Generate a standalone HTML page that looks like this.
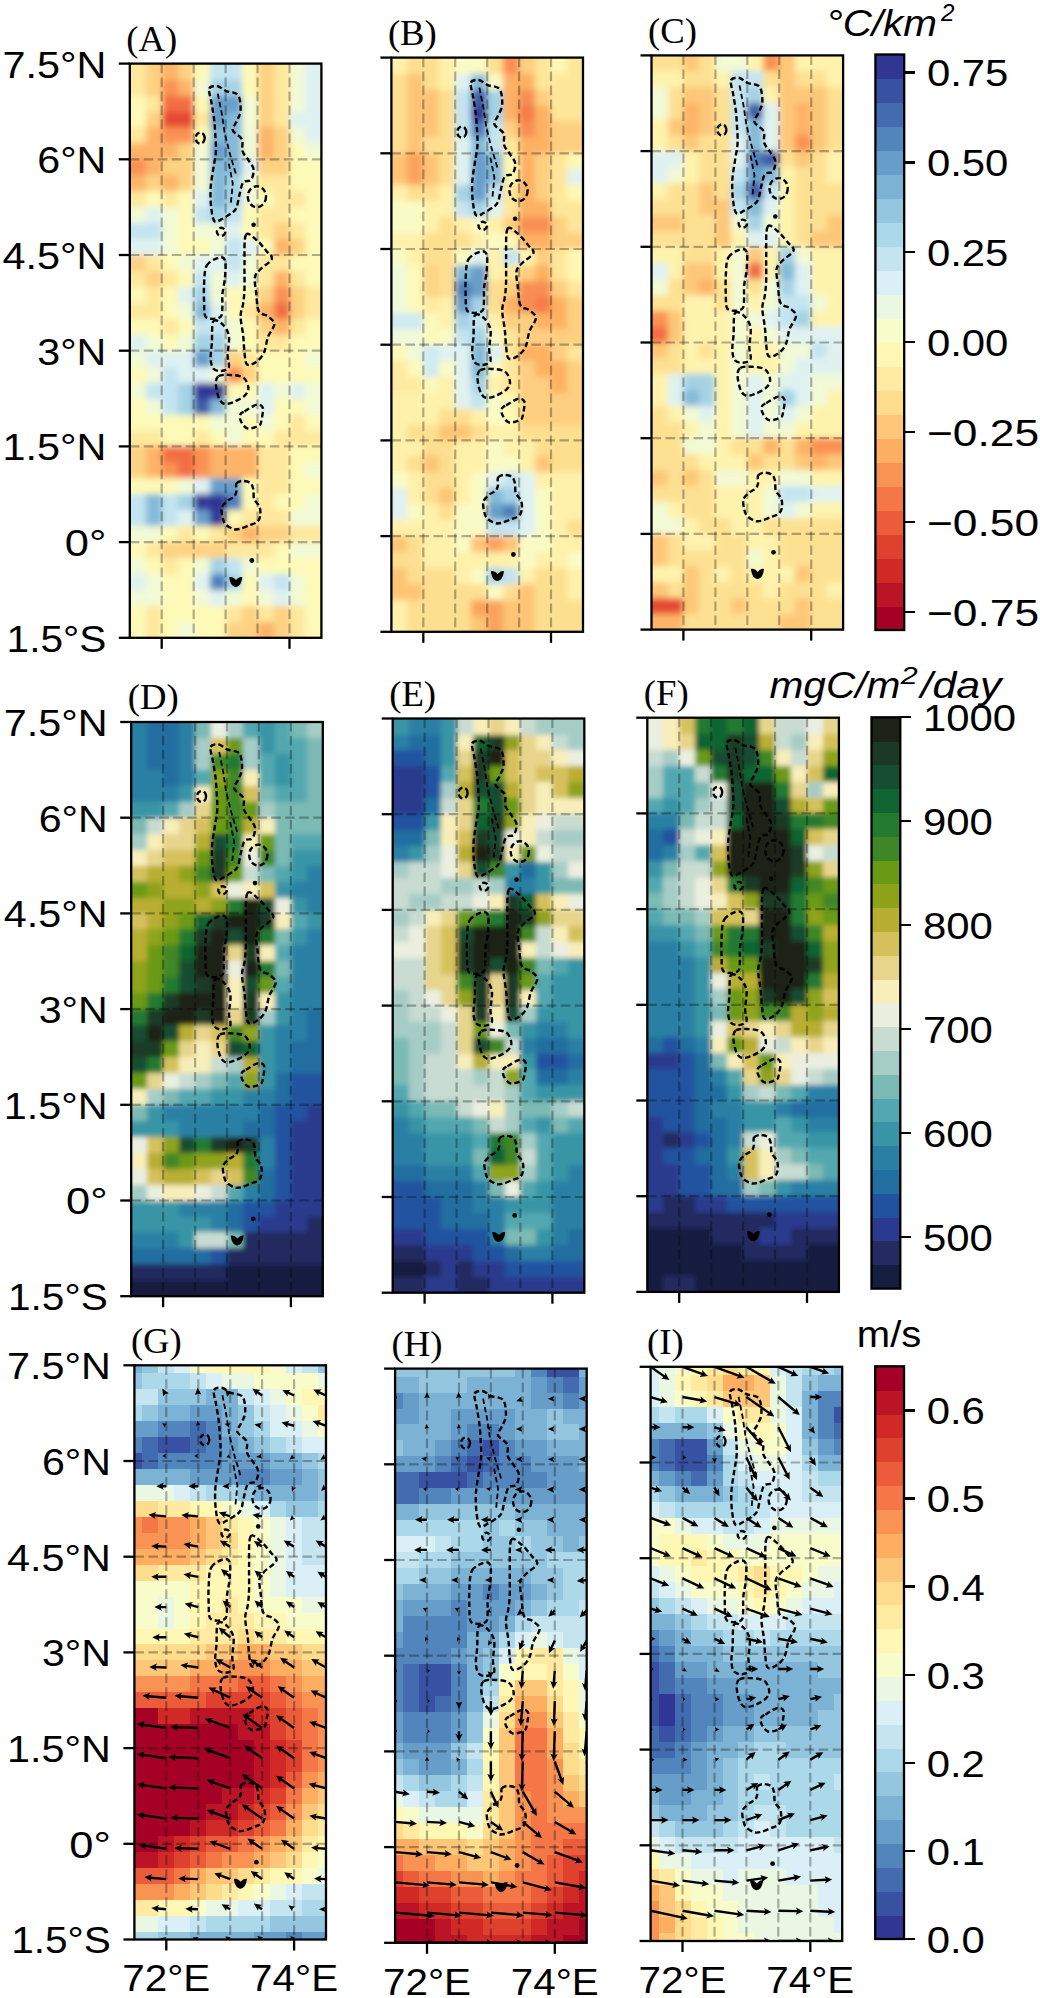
<!DOCTYPE html><html><head><meta charset="utf-8"><style>html,body{margin:0;padding:0;background:#fff;}svg{display:block}</style></head><body><svg width="1040" height="1998" viewBox="0 0 1040 1998" shape-rendering="crispEdges"><defs><filter id="bltop" x="-10%" y="-10%" width="120%" height="120%"><feGaussianBlur stdDeviation="3.2"/></filter><filter id="blmid" x="-10%" y="-10%" width="120%" height="120%"><feGaussianBlur stdDeviation="2.5"/></filter><clipPath id="cpA"><rect x="129.8" y="63.6" width="191.6" height="574.2"/></clipPath><clipPath id="cpB"><rect x="391.4" y="57.6" width="191.6" height="574.2"/></clipPath><clipPath id="cpC"><rect x="651.5" y="55.4" width="191.6" height="574.2"/></clipPath><clipPath id="cpD"><rect x="131.2" y="722.0" width="191.6" height="574.2"/></clipPath><clipPath id="cpE"><rect x="392.7" y="718.5" width="191.6" height="574.2"/></clipPath><clipPath id="cpF"><rect x="647.3" y="717.7" width="191.6" height="574.2"/></clipPath><clipPath id="cpG"><rect x="134.4" y="1365.3" width="191.6" height="574.2"/></clipPath><clipPath id="cpH"><rect x="395.1" y="1368.6" width="191.6" height="574.2"/></clipPath><clipPath id="cpI"><rect x="650.6" y="1366.8" width="191.6" height="574.2"/></clipPath></defs><g clip-path="url(#cpA)"><g filter="url(#bltop)"><rect x="115.8" y="49.6" width="30.4" height="30.3" fill="#fee89d"/><rect x="145.8" y="49.6" width="16.4" height="30.3" fill="#fdd283"/><rect x="161.7" y="49.6" width="16.4" height="30.3" fill="#fdb467"/><rect x="177.7" y="49.6" width="16.4" height="30.3" fill="#fdd283"/><rect x="193.7" y="49.6" width="16.4" height="30.3" fill="#fdf9b7"/><rect x="209.6" y="49.6" width="32.3" height="30.3" fill="#c3e4f0"/><rect x="241.6" y="49.6" width="16.4" height="30.3" fill="#fdf9b7"/><rect x="257.5" y="49.6" width="16.4" height="30.3" fill="#fdd283"/><rect x="273.5" y="49.6" width="16.4" height="30.3" fill="#fee89d"/><rect x="289.5" y="49.6" width="16.4" height="30.3" fill="#f2fad6"/><rect x="305.4" y="49.6" width="30.4" height="30.3" fill="#dff2f1"/><rect x="115.8" y="79.5" width="30.4" height="16.4" fill="#fee89d"/><rect x="145.8" y="79.5" width="16.4" height="16.4" fill="#fdd283"/><rect x="161.7" y="79.5" width="16.4" height="16.4" fill="#f99253"/><rect x="177.7" y="79.5" width="16.4" height="16.4" fill="#fdb467"/><rect x="193.7" y="79.5" width="16.4" height="16.4" fill="#f2fad6"/><rect x="209.6" y="79.5" width="32.3" height="16.4" fill="#a4d2e6"/><rect x="241.6" y="79.5" width="16.4" height="16.4" fill="#fdf9b7"/><rect x="257.5" y="79.5" width="16.4" height="16.4" fill="#fdd283"/><rect x="273.5" y="79.5" width="16.4" height="16.4" fill="#fee89d"/><rect x="289.5" y="79.5" width="16.4" height="16.4" fill="#f2fad6"/><rect x="305.4" y="79.5" width="30.4" height="16.4" fill="#dff2f1"/><rect x="115.8" y="95.5" width="30.4" height="16.4" fill="#fdf9b7"/><rect x="145.8" y="95.5" width="16.4" height="16.4" fill="#fee89d"/><rect x="161.7" y="95.5" width="32.3" height="16.4" fill="#f26e43"/><rect x="193.7" y="95.5" width="16.4" height="16.4" fill="#fdf9b7"/><rect x="209.6" y="95.5" width="32.3" height="16.4" fill="#689eca"/><rect x="241.6" y="95.5" width="16.4" height="16.4" fill="#f2fad6"/><rect x="257.5" y="95.5" width="16.4" height="16.4" fill="#fdd283"/><rect x="273.5" y="95.5" width="16.4" height="16.4" fill="#fee89d"/><rect x="289.5" y="95.5" width="16.4" height="16.4" fill="#f2fad6"/><rect x="305.4" y="95.5" width="30.4" height="16.4" fill="#dff2f1"/><rect x="115.8" y="111.5" width="30.4" height="16.4" fill="#fdf9b7"/><rect x="145.8" y="111.5" width="16.4" height="16.4" fill="#fdd283"/><rect x="161.7" y="111.5" width="32.3" height="16.4" fill="#e44a33"/><rect x="193.7" y="111.5" width="16.4" height="16.4" fill="#fee89d"/><rect x="209.6" y="111.5" width="16.4" height="16.4" fill="#689eca"/><rect x="225.6" y="111.5" width="16.4" height="16.4" fill="#84bad8"/><rect x="241.6" y="111.5" width="16.4" height="16.4" fill="#f2fad6"/><rect x="257.5" y="111.5" width="16.4" height="16.4" fill="#fdd283"/><rect x="273.5" y="111.5" width="16.4" height="16.4" fill="#fee89d"/><rect x="289.5" y="111.5" width="46.3" height="16.4" fill="#dff2f1"/><rect x="115.8" y="127.4" width="30.4" height="16.3" fill="#fee89d"/><rect x="145.8" y="127.4" width="16.4" height="16.3" fill="#fdb467"/><rect x="161.7" y="127.4" width="32.3" height="16.3" fill="#f99253"/><rect x="193.7" y="127.4" width="16.4" height="16.3" fill="#fdf9b7"/><rect x="209.6" y="127.4" width="32.3" height="16.3" fill="#84bad8"/><rect x="241.6" y="127.4" width="16.4" height="16.3" fill="#f2fad6"/><rect x="257.5" y="127.4" width="16.4" height="16.3" fill="#fdb467"/><rect x="273.5" y="127.4" width="16.4" height="16.3" fill="#fdd283"/><rect x="289.5" y="127.4" width="16.4" height="16.3" fill="#f2fad6"/><rect x="305.4" y="127.4" width="30.4" height="16.3" fill="#dff2f1"/><rect x="115.8" y="143.3" width="62.3" height="16.4" fill="#fdb467"/><rect x="177.7" y="143.3" width="16.4" height="16.4" fill="#fdd283"/><rect x="193.7" y="143.3" width="16.4" height="16.4" fill="#f2fad6"/><rect x="209.6" y="143.3" width="16.4" height="16.4" fill="#689eca"/><rect x="225.6" y="143.3" width="16.4" height="16.4" fill="#84bad8"/><rect x="241.6" y="143.3" width="16.4" height="16.4" fill="#f2fad6"/><rect x="257.5" y="143.3" width="16.4" height="16.4" fill="#fdb467"/><rect x="273.5" y="143.3" width="16.4" height="16.4" fill="#fdd283"/><rect x="289.5" y="143.3" width="16.4" height="16.4" fill="#fdf9b7"/><rect x="305.4" y="143.3" width="30.4" height="16.4" fill="#f2fad6"/><rect x="115.8" y="159.3" width="30.4" height="16.4" fill="#f99253"/><rect x="145.8" y="159.3" width="16.4" height="16.4" fill="#fdb467"/><rect x="161.7" y="159.3" width="32.3" height="16.4" fill="#fdd283"/><rect x="193.7" y="159.3" width="16.4" height="16.4" fill="#f2fad6"/><rect x="209.6" y="159.3" width="32.3" height="16.4" fill="#84bad8"/><rect x="241.6" y="159.3" width="16.4" height="16.4" fill="#dff2f1"/><rect x="257.5" y="159.3" width="32.3" height="16.4" fill="#fdd283"/><rect x="289.5" y="159.3" width="46.3" height="16.4" fill="#fdf9b7"/><rect x="115.8" y="175.3" width="30.4" height="16.3" fill="#fdb467"/><rect x="145.8" y="175.3" width="16.4" height="16.3" fill="#fdd283"/><rect x="161.7" y="175.3" width="16.4" height="16.3" fill="#fdb467"/><rect x="177.7" y="175.3" width="16.4" height="16.3" fill="#fdd283"/><rect x="193.7" y="175.3" width="16.4" height="16.3" fill="#f2fad6"/><rect x="209.6" y="175.3" width="16.4" height="16.3" fill="#84bad8"/><rect x="225.6" y="175.3" width="16.4" height="16.3" fill="#a4d2e6"/><rect x="241.6" y="175.3" width="16.4" height="16.3" fill="#f2fad6"/><rect x="257.5" y="175.3" width="32.3" height="16.3" fill="#fee89d"/><rect x="289.5" y="175.3" width="46.3" height="16.3" fill="#fdf9b7"/><rect x="115.8" y="191.2" width="30.4" height="16.3" fill="#fee89d"/><rect x="145.8" y="191.2" width="16.4" height="16.3" fill="#fdf9b7"/><rect x="161.7" y="191.2" width="16.4" height="16.3" fill="#fee89d"/><rect x="177.7" y="191.2" width="16.4" height="16.3" fill="#fdf9b7"/><rect x="193.7" y="191.2" width="16.4" height="16.3" fill="#dff2f1"/><rect x="209.6" y="191.2" width="16.4" height="16.3" fill="#84bad8"/><rect x="225.6" y="191.2" width="16.4" height="16.3" fill="#a4d2e6"/><rect x="241.6" y="191.2" width="16.4" height="16.3" fill="#f2fad6"/><rect x="257.5" y="191.2" width="16.4" height="16.3" fill="#fdf9b7"/><rect x="273.5" y="191.2" width="32.3" height="16.3" fill="#fee89d"/><rect x="305.4" y="191.2" width="30.4" height="16.3" fill="#fdf9b7"/><rect x="115.8" y="207.2" width="30.4" height="16.3" fill="#f2fad6"/><rect x="145.8" y="207.2" width="16.4" height="16.3" fill="#dff2f1"/><rect x="161.7" y="207.2" width="16.4" height="16.3" fill="#f2fad6"/><rect x="177.7" y="207.2" width="16.4" height="16.3" fill="#fdf9b7"/><rect x="193.7" y="207.2" width="16.4" height="16.3" fill="#c3e4f0"/><rect x="209.6" y="207.2" width="16.4" height="16.3" fill="#a4d2e6"/><rect x="225.6" y="207.2" width="16.4" height="16.3" fill="#c3e4f0"/><rect x="241.6" y="207.2" width="16.4" height="16.3" fill="#fdf9b7"/><rect x="257.5" y="207.2" width="32.3" height="16.3" fill="#fee89d"/><rect x="289.5" y="207.2" width="46.3" height="16.3" fill="#fdf9b7"/><rect x="115.8" y="223.1" width="46.3" height="16.4" fill="#c3e4f0"/><rect x="161.7" y="223.1" width="16.4" height="16.4" fill="#f2fad6"/><rect x="177.7" y="223.1" width="16.4" height="16.4" fill="#fdf9b7"/><rect x="193.7" y="223.1" width="32.3" height="16.4" fill="#f2fad6"/><rect x="225.6" y="223.1" width="16.4" height="16.4" fill="#dff2f1"/><rect x="241.6" y="223.1" width="16.4" height="16.4" fill="#fdf9b7"/><rect x="257.5" y="223.1" width="16.4" height="16.4" fill="#fee89d"/><rect x="273.5" y="223.1" width="16.4" height="16.4" fill="#fdd283"/><rect x="289.5" y="223.1" width="16.4" height="16.4" fill="#fee89d"/><rect x="305.4" y="223.1" width="30.4" height="16.4" fill="#fdf9b7"/><rect x="115.8" y="239.1" width="46.3" height="16.3" fill="#dff2f1"/><rect x="161.7" y="239.1" width="16.4" height="16.3" fill="#f2fad6"/><rect x="177.7" y="239.1" width="32.3" height="16.3" fill="#fdf9b7"/><rect x="209.6" y="239.1" width="16.4" height="16.3" fill="#f2fad6"/><rect x="225.6" y="239.1" width="16.4" height="16.3" fill="#c3e4f0"/><rect x="241.6" y="239.1" width="16.4" height="16.3" fill="#dff2f1"/><rect x="257.5" y="239.1" width="16.4" height="16.3" fill="#fdf9b7"/><rect x="273.5" y="239.1" width="16.4" height="16.3" fill="#fdb467"/><rect x="289.5" y="239.1" width="16.4" height="16.3" fill="#fdd283"/><rect x="305.4" y="239.1" width="30.4" height="16.3" fill="#fdf9b7"/><rect x="115.8" y="255.0" width="30.4" height="16.4" fill="#fdd283"/><rect x="145.8" y="255.0" width="16.4" height="16.4" fill="#fee89d"/><rect x="161.7" y="255.0" width="16.4" height="16.4" fill="#fdf9b7"/><rect x="177.7" y="255.0" width="16.4" height="16.4" fill="#f2fad6"/><rect x="193.7" y="255.0" width="32.3" height="16.4" fill="#dff2f1"/><rect x="225.6" y="255.0" width="16.4" height="16.4" fill="#c3e4f0"/><rect x="241.6" y="255.0" width="16.4" height="16.4" fill="#f2fad6"/><rect x="257.5" y="255.0" width="32.3" height="16.4" fill="#fee89d"/><rect x="289.5" y="255.0" width="46.3" height="16.4" fill="#fdf9b7"/><rect x="115.8" y="271.0" width="30.4" height="16.3" fill="#fee89d"/><rect x="145.8" y="271.0" width="16.4" height="16.3" fill="#fdd283"/><rect x="161.7" y="271.0" width="16.4" height="16.3" fill="#fee89d"/><rect x="177.7" y="271.0" width="16.4" height="16.3" fill="#fdf9b7"/><rect x="193.7" y="271.0" width="16.4" height="16.3" fill="#c3e4f0"/><rect x="209.6" y="271.0" width="16.4" height="16.3" fill="#f2fad6"/><rect x="225.6" y="271.0" width="16.4" height="16.3" fill="#dff2f1"/><rect x="241.6" y="271.0" width="16.4" height="16.3" fill="#f2fad6"/><rect x="257.5" y="271.0" width="16.4" height="16.3" fill="#fee89d"/><rect x="273.5" y="271.0" width="16.4" height="16.3" fill="#fdb467"/><rect x="289.5" y="271.0" width="16.4" height="16.3" fill="#fee89d"/><rect x="305.4" y="271.0" width="30.4" height="16.3" fill="#fdf9b7"/><rect x="115.8" y="286.9" width="30.4" height="16.3" fill="#fdf9b7"/><rect x="145.8" y="286.9" width="16.4" height="16.3" fill="#fee89d"/><rect x="161.7" y="286.9" width="16.4" height="16.3" fill="#fdf9b7"/><rect x="177.7" y="286.9" width="16.4" height="16.3" fill="#dff2f1"/><rect x="193.7" y="286.9" width="16.4" height="16.3" fill="#a4d2e6"/><rect x="209.6" y="286.9" width="16.4" height="16.3" fill="#f2fad6"/><rect x="225.6" y="286.9" width="32.3" height="16.3" fill="#fdf9b7"/><rect x="257.5" y="286.9" width="16.4" height="16.3" fill="#fdd283"/><rect x="273.5" y="286.9" width="16.4" height="16.3" fill="#f99253"/><rect x="289.5" y="286.9" width="16.4" height="16.3" fill="#fdd283"/><rect x="305.4" y="286.9" width="30.4" height="16.3" fill="#fee89d"/><rect x="115.8" y="302.9" width="46.3" height="16.3" fill="#fee89d"/><rect x="161.7" y="302.9" width="16.4" height="16.3" fill="#fdf9b7"/><rect x="177.7" y="302.9" width="16.4" height="16.3" fill="#f2fad6"/><rect x="193.7" y="302.9" width="16.4" height="16.3" fill="#84bad8"/><rect x="209.6" y="302.9" width="16.4" height="16.3" fill="#dff2f1"/><rect x="225.6" y="302.9" width="16.4" height="16.3" fill="#fdf9b7"/><rect x="241.6" y="302.9" width="16.4" height="16.3" fill="#fee89d"/><rect x="257.5" y="302.9" width="16.4" height="16.3" fill="#fdb467"/><rect x="273.5" y="302.9" width="16.4" height="16.3" fill="#f26e43"/><rect x="289.5" y="302.9" width="16.4" height="16.3" fill="#fdd283"/><rect x="305.4" y="302.9" width="30.4" height="16.3" fill="#fee89d"/><rect x="115.8" y="318.8" width="46.3" height="16.4" fill="#fdf9b7"/><rect x="161.7" y="318.8" width="16.4" height="16.4" fill="#fee89d"/><rect x="177.7" y="318.8" width="16.4" height="16.4" fill="#fdf9b7"/><rect x="193.7" y="318.8" width="32.3" height="16.4" fill="#c3e4f0"/><rect x="225.6" y="318.8" width="16.4" height="16.4" fill="#f2fad6"/><rect x="241.6" y="318.8" width="16.4" height="16.4" fill="#fdf9b7"/><rect x="257.5" y="318.8" width="16.4" height="16.4" fill="#fdd283"/><rect x="273.5" y="318.8" width="16.4" height="16.4" fill="#fdb467"/><rect x="289.5" y="318.8" width="16.4" height="16.4" fill="#fee89d"/><rect x="305.4" y="318.8" width="30.4" height="16.4" fill="#fdf9b7"/><rect x="115.8" y="334.8" width="30.4" height="16.3" fill="#dff2f1"/><rect x="145.8" y="334.8" width="16.4" height="16.3" fill="#f2fad6"/><rect x="161.7" y="334.8" width="16.4" height="16.3" fill="#fdf9b7"/><rect x="177.7" y="334.8" width="16.4" height="16.3" fill="#f2fad6"/><rect x="193.7" y="334.8" width="32.3" height="16.3" fill="#a4d2e6"/><rect x="225.6" y="334.8" width="16.4" height="16.3" fill="#f2fad6"/><rect x="241.6" y="334.8" width="16.4" height="16.3" fill="#fdf9b7"/><rect x="257.5" y="334.8" width="32.3" height="16.3" fill="#fee89d"/><rect x="289.5" y="334.8" width="46.3" height="16.3" fill="#fdf9b7"/><rect x="115.8" y="350.7" width="30.4" height="16.3" fill="#f2fad6"/><rect x="145.8" y="350.7" width="48.3" height="16.3" fill="#dff2f1"/><rect x="193.7" y="350.7" width="16.4" height="16.3" fill="#689eca"/><rect x="209.6" y="350.7" width="16.4" height="16.3" fill="#a4d2e6"/><rect x="225.6" y="350.7" width="16.4" height="16.3" fill="#fdd283"/><rect x="241.6" y="350.7" width="16.4" height="16.3" fill="#fee89d"/><rect x="257.5" y="350.7" width="48.3" height="16.3" fill="#fdf9b7"/><rect x="305.4" y="350.7" width="30.4" height="16.3" fill="#f2fad6"/><rect x="115.8" y="366.7" width="30.4" height="16.3" fill="#fdf9b7"/><rect x="145.8" y="366.7" width="16.4" height="16.3" fill="#f2fad6"/><rect x="161.7" y="366.7" width="16.4" height="16.3" fill="#c3e4f0"/><rect x="177.7" y="366.7" width="32.3" height="16.3" fill="#dff2f1"/><rect x="209.6" y="366.7" width="16.4" height="16.3" fill="#f2fad6"/><rect x="225.6" y="366.7" width="16.4" height="16.3" fill="#f99253"/><rect x="241.6" y="366.7" width="16.4" height="16.3" fill="#fdd283"/><rect x="257.5" y="366.7" width="78.3" height="16.3" fill="#fdf9b7"/><rect x="115.8" y="382.6" width="30.4" height="16.4" fill="#f2fad6"/><rect x="145.8" y="382.6" width="32.3" height="16.4" fill="#c3e4f0"/><rect x="177.7" y="382.6" width="16.4" height="16.4" fill="#a4d2e6"/><rect x="193.7" y="382.6" width="16.4" height="16.4" fill="#313695"/><rect x="209.6" y="382.6" width="16.4" height="16.4" fill="#323a97"/><rect x="225.6" y="382.6" width="32.3" height="16.4" fill="#fdf9b7"/><rect x="257.5" y="382.6" width="16.4" height="16.4" fill="#dff2f1"/><rect x="273.5" y="382.6" width="16.4" height="16.4" fill="#f2fad6"/><rect x="289.5" y="382.6" width="16.4" height="16.4" fill="#dff2f1"/><rect x="305.4" y="382.6" width="30.4" height="16.4" fill="#f2fad6"/><rect x="115.8" y="398.6" width="30.4" height="16.3" fill="#fdf9b7"/><rect x="145.8" y="398.6" width="16.4" height="16.3" fill="#f2fad6"/><rect x="161.7" y="398.6" width="16.4" height="16.3" fill="#c3e4f0"/><rect x="177.7" y="398.6" width="16.4" height="16.3" fill="#a4d2e6"/><rect x="193.7" y="398.6" width="16.4" height="16.3" fill="#3d5da8"/><rect x="209.6" y="398.6" width="16.4" height="16.3" fill="#84bad8"/><rect x="225.6" y="398.6" width="32.3" height="16.3" fill="#f2fad6"/><rect x="257.5" y="398.6" width="16.4" height="16.3" fill="#dff2f1"/><rect x="273.5" y="398.6" width="32.3" height="16.3" fill="#fdf9b7"/><rect x="305.4" y="398.6" width="30.4" height="16.3" fill="#f2fad6"/><rect x="115.8" y="414.5" width="94.2" height="16.3" fill="#fdf9b7"/><rect x="209.6" y="414.5" width="32.3" height="16.3" fill="#f2fad6"/><rect x="241.6" y="414.5" width="16.4" height="16.3" fill="#fdf9b7"/><rect x="257.5" y="414.5" width="16.4" height="16.3" fill="#f2fad6"/><rect x="273.5" y="414.5" width="16.4" height="16.3" fill="#fdf9b7"/><rect x="289.5" y="414.5" width="16.4" height="16.3" fill="#fee89d"/><rect x="305.4" y="414.5" width="30.4" height="16.3" fill="#fdf9b7"/><rect x="115.8" y="430.5" width="46.3" height="16.3" fill="#fee89d"/><rect x="161.7" y="430.5" width="32.3" height="16.3" fill="#fdf9b7"/><rect x="193.7" y="430.5" width="16.4" height="16.3" fill="#fee89d"/><rect x="209.6" y="430.5" width="16.4" height="16.3" fill="#fdf9b7"/><rect x="225.6" y="430.5" width="16.4" height="16.3" fill="#f2fad6"/><rect x="241.6" y="430.5" width="32.3" height="16.3" fill="#fdf9b7"/><rect x="273.5" y="430.5" width="62.3" height="16.3" fill="#fee89d"/><rect x="115.8" y="446.4" width="30.4" height="16.4" fill="#fdd283"/><rect x="145.8" y="446.4" width="16.4" height="16.4" fill="#fdb467"/><rect x="161.7" y="446.4" width="32.3" height="16.4" fill="#f26e43"/><rect x="193.7" y="446.4" width="16.4" height="16.4" fill="#f99253"/><rect x="209.6" y="446.4" width="48.3" height="16.4" fill="#fdb467"/><rect x="257.5" y="446.4" width="32.3" height="16.4" fill="#fee89d"/><rect x="289.5" y="446.4" width="46.3" height="16.4" fill="#fdf9b7"/><rect x="115.8" y="462.4" width="30.4" height="16.3" fill="#fdd283"/><rect x="145.8" y="462.4" width="16.4" height="16.3" fill="#fdb467"/><rect x="161.7" y="462.4" width="16.4" height="16.3" fill="#f99253"/><rect x="177.7" y="462.4" width="16.4" height="16.3" fill="#f26e43"/><rect x="193.7" y="462.4" width="16.4" height="16.3" fill="#f99253"/><rect x="209.6" y="462.4" width="48.3" height="16.3" fill="#fdb467"/><rect x="257.5" y="462.4" width="32.3" height="16.3" fill="#fee89d"/><rect x="289.5" y="462.4" width="16.4" height="16.3" fill="#fdf9b7"/><rect x="305.4" y="462.4" width="30.4" height="16.3" fill="#f2fad6"/><rect x="115.8" y="478.3" width="62.3" height="16.3" fill="#fdf9b7"/><rect x="177.7" y="478.3" width="16.4" height="16.3" fill="#f2fad6"/><rect x="193.7" y="478.3" width="16.4" height="16.3" fill="#dff2f1"/><rect x="209.6" y="478.3" width="32.3" height="16.3" fill="#689eca"/><rect x="241.6" y="478.3" width="16.4" height="16.3" fill="#fdf9b7"/><rect x="257.5" y="478.3" width="32.3" height="16.3" fill="#fee89d"/><rect x="289.5" y="478.3" width="46.3" height="16.3" fill="#fdf9b7"/><rect x="115.8" y="494.3" width="30.4" height="16.4" fill="#c3e4f0"/><rect x="145.8" y="494.3" width="16.4" height="16.4" fill="#84bad8"/><rect x="161.7" y="494.3" width="16.4" height="16.4" fill="#c3e4f0"/><rect x="177.7" y="494.3" width="16.4" height="16.4" fill="#a4d2e6"/><rect x="193.7" y="494.3" width="16.4" height="16.4" fill="#323a97"/><rect x="209.6" y="494.3" width="16.4" height="16.4" fill="#313695"/><rect x="225.6" y="494.3" width="16.4" height="16.4" fill="#4e7fb9"/><rect x="241.6" y="494.3" width="16.4" height="16.4" fill="#fdf9b7"/><rect x="257.5" y="494.3" width="16.4" height="16.4" fill="#fee89d"/><rect x="273.5" y="494.3" width="32.3" height="16.4" fill="#fdf9b7"/><rect x="305.4" y="494.3" width="30.4" height="16.4" fill="#f2fad6"/><rect x="115.8" y="510.2" width="30.4" height="16.3" fill="#c3e4f0"/><rect x="145.8" y="510.2" width="16.4" height="16.3" fill="#84bad8"/><rect x="161.7" y="510.2" width="16.4" height="16.3" fill="#c3e4f0"/><rect x="177.7" y="510.2" width="16.4" height="16.3" fill="#dff2f1"/><rect x="193.7" y="510.2" width="16.4" height="16.3" fill="#689eca"/><rect x="209.6" y="510.2" width="16.4" height="16.3" fill="#323a97"/><rect x="225.6" y="510.2" width="16.4" height="16.3" fill="#fdf9b7"/><rect x="241.6" y="510.2" width="48.3" height="16.3" fill="#fee89d"/><rect x="289.5" y="510.2" width="46.3" height="16.3" fill="#f2fad6"/><rect x="115.8" y="526.2" width="46.3" height="16.3" fill="#f2fad6"/><rect x="161.7" y="526.2" width="16.4" height="16.3" fill="#fdf9b7"/><rect x="177.7" y="526.2" width="16.4" height="16.3" fill="#fee89d"/><rect x="193.7" y="526.2" width="16.4" height="16.3" fill="#fdf9b7"/><rect x="209.6" y="526.2" width="16.4" height="16.3" fill="#fee89d"/><rect x="225.6" y="526.2" width="16.4" height="16.3" fill="#fdd283"/><rect x="241.6" y="526.2" width="16.4" height="16.3" fill="#fdb467"/><rect x="257.5" y="526.2" width="32.3" height="16.3" fill="#fdd283"/><rect x="289.5" y="526.2" width="46.3" height="16.3" fill="#fee89d"/><rect x="115.8" y="542.1" width="30.4" height="16.4" fill="#fdf9b7"/><rect x="145.8" y="542.1" width="16.4" height="16.4" fill="#fee89d"/><rect x="161.7" y="542.1" width="64.3" height="16.4" fill="#fdd283"/><rect x="225.6" y="542.1" width="48.3" height="16.4" fill="#fee89d"/><rect x="273.5" y="542.1" width="16.4" height="16.4" fill="#fdf9b7"/><rect x="289.5" y="542.1" width="46.3" height="16.4" fill="#f2fad6"/><rect x="115.8" y="558.1" width="30.4" height="16.3" fill="#f2fad6"/><rect x="145.8" y="558.1" width="16.4" height="16.3" fill="#fdf9b7"/><rect x="161.7" y="558.1" width="16.4" height="16.3" fill="#fee89d"/><rect x="177.7" y="558.1" width="16.4" height="16.3" fill="#fdf9b7"/><rect x="193.7" y="558.1" width="16.4" height="16.3" fill="#f2fad6"/><rect x="209.6" y="558.1" width="16.4" height="16.3" fill="#a4d2e6"/><rect x="225.6" y="558.1" width="16.4" height="16.3" fill="#c3e4f0"/><rect x="241.6" y="558.1" width="16.4" height="16.3" fill="#f2fad6"/><rect x="257.5" y="558.1" width="78.3" height="16.3" fill="#fdf9b7"/><rect x="115.8" y="574.0" width="30.4" height="16.4" fill="#dff2f1"/><rect x="145.8" y="574.0" width="16.4" height="16.4" fill="#f2fad6"/><rect x="161.7" y="574.0" width="32.3" height="16.4" fill="#fdf9b7"/><rect x="193.7" y="574.0" width="16.4" height="16.4" fill="#dff2f1"/><rect x="209.6" y="574.0" width="16.4" height="16.4" fill="#4e7fb9"/><rect x="225.6" y="574.0" width="16.4" height="16.4" fill="#a4d2e6"/><rect x="241.6" y="574.0" width="16.4" height="16.4" fill="#fdf9b7"/><rect x="257.5" y="574.0" width="16.4" height="16.4" fill="#dff2f1"/><rect x="273.5" y="574.0" width="16.4" height="16.4" fill="#c3e4f0"/><rect x="289.5" y="574.0" width="16.4" height="16.4" fill="#f2fad6"/><rect x="305.4" y="574.0" width="30.4" height="16.4" fill="#fdf9b7"/><rect x="115.8" y="590.0" width="46.3" height="16.4" fill="#f2fad6"/><rect x="161.7" y="590.0" width="32.3" height="16.4" fill="#fdf9b7"/><rect x="193.7" y="590.0" width="16.4" height="16.4" fill="#f2fad6"/><rect x="209.6" y="590.0" width="16.4" height="16.4" fill="#dff2f1"/><rect x="225.6" y="590.0" width="16.4" height="16.4" fill="#f2fad6"/><rect x="241.6" y="590.0" width="16.4" height="16.4" fill="#fdf9b7"/><rect x="257.5" y="590.0" width="16.4" height="16.4" fill="#f2fad6"/><rect x="273.5" y="590.0" width="16.4" height="16.4" fill="#dff2f1"/><rect x="289.5" y="590.0" width="16.4" height="16.4" fill="#f2fad6"/><rect x="305.4" y="590.0" width="30.4" height="16.4" fill="#fdf9b7"/><rect x="115.8" y="605.9" width="30.4" height="16.3" fill="#fdf9b7"/><rect x="145.8" y="605.9" width="16.4" height="16.3" fill="#fee89d"/><rect x="161.7" y="605.9" width="64.3" height="16.3" fill="#fdf9b7"/><rect x="225.6" y="605.9" width="16.4" height="16.3" fill="#fee89d"/><rect x="241.6" y="605.9" width="16.4" height="16.3" fill="#fdd283"/><rect x="257.5" y="605.9" width="16.4" height="16.3" fill="#fee89d"/><rect x="273.5" y="605.9" width="16.4" height="16.3" fill="#fdd283"/><rect x="289.5" y="605.9" width="16.4" height="16.3" fill="#fee89d"/><rect x="305.4" y="605.9" width="30.4" height="16.3" fill="#fdf9b7"/><rect x="115.8" y="621.9" width="30.4" height="30.4" fill="#fdf9b7"/><rect x="145.8" y="621.9" width="16.4" height="30.4" fill="#fee89d"/><rect x="161.7" y="621.9" width="16.4" height="30.4" fill="#fdf9b7"/><rect x="177.7" y="621.9" width="16.4" height="30.4" fill="#f2fad6"/><rect x="193.7" y="621.9" width="32.3" height="30.4" fill="#fdf9b7"/><rect x="225.6" y="621.9" width="32.3" height="30.4" fill="#fdd283"/><rect x="257.5" y="621.9" width="16.4" height="30.4" fill="#fdb467"/><rect x="273.5" y="621.9" width="16.4" height="30.4" fill="#fdd283"/><rect x="289.5" y="621.9" width="16.4" height="30.4" fill="#fee89d"/><rect x="305.4" y="621.9" width="30.4" height="30.4" fill="#fdf9b7"/></g></g><g clip-path="url(#cpB)"><g filter="url(#bltop)"><rect x="377.4" y="43.6" width="30.4" height="30.3" fill="#fef1aa"/><rect x="407.3" y="43.6" width="32.3" height="30.3" fill="#fddf90"/><rect x="439.2" y="43.6" width="16.4" height="30.3" fill="#fef1aa"/><rect x="455.2" y="43.6" width="32.3" height="30.3" fill="#f9fbc6"/><rect x="487.2" y="43.6" width="16.4" height="30.3" fill="#fddf90"/><rect x="503.1" y="43.6" width="16.4" height="30.3" fill="#f88e52"/><rect x="519.1" y="43.6" width="16.4" height="30.3" fill="#fdcf80"/><rect x="535.0" y="43.6" width="16.4" height="30.3" fill="#fee69a"/><rect x="551.0" y="43.6" width="16.4" height="30.3" fill="#fef8b4"/><rect x="567.0" y="43.6" width="30.4" height="30.3" fill="#fee69a"/><rect x="377.4" y="73.5" width="30.4" height="16.4" fill="#fddf90"/><rect x="407.3" y="73.5" width="16.4" height="16.4" fill="#fdc476"/><rect x="423.3" y="73.5" width="16.4" height="16.4" fill="#fddf90"/><rect x="439.2" y="73.5" width="16.4" height="16.4" fill="#fef1aa"/><rect x="455.2" y="73.5" width="16.4" height="16.4" fill="#dff2f1"/><rect x="471.2" y="73.5" width="16.4" height="16.4" fill="#84bad8"/><rect x="487.2" y="73.5" width="16.4" height="16.4" fill="#f9fbc6"/><rect x="503.1" y="73.5" width="32.3" height="16.4" fill="#fdb164"/><rect x="535.0" y="73.5" width="62.3" height="16.4" fill="#fee69a"/><rect x="377.4" y="89.5" width="30.4" height="16.4" fill="#fddf90"/><rect x="407.3" y="89.5" width="32.3" height="16.4" fill="#fdc476"/><rect x="439.2" y="89.5" width="16.4" height="16.4" fill="#fddf90"/><rect x="455.2" y="89.5" width="16.4" height="16.4" fill="#c3e4f0"/><rect x="471.2" y="89.5" width="16.4" height="16.4" fill="#3d5da8"/><rect x="487.2" y="89.5" width="16.4" height="16.4" fill="#a4d2e6"/><rect x="503.1" y="89.5" width="16.4" height="16.4" fill="#fdb164"/><rect x="519.1" y="89.5" width="16.4" height="16.4" fill="#f88e52"/><rect x="535.0" y="89.5" width="16.4" height="16.4" fill="#fdcf80"/><rect x="551.0" y="89.5" width="46.3" height="16.4" fill="#fee69a"/><rect x="377.4" y="105.5" width="30.4" height="16.4" fill="#fddf90"/><rect x="407.3" y="105.5" width="32.3" height="16.4" fill="#fdc476"/><rect x="439.2" y="105.5" width="16.4" height="16.4" fill="#fddf90"/><rect x="455.2" y="105.5" width="16.4" height="16.4" fill="#c3e4f0"/><rect x="471.2" y="105.5" width="16.4" height="16.4" fill="#323a97"/><rect x="487.2" y="105.5" width="16.4" height="16.4" fill="#a4d2e6"/><rect x="503.1" y="105.5" width="16.4" height="16.4" fill="#fdb164"/><rect x="519.1" y="105.5" width="16.4" height="16.4" fill="#f67c49"/><rect x="535.0" y="105.5" width="16.4" height="16.4" fill="#fdb164"/><rect x="551.0" y="105.5" width="46.3" height="16.4" fill="#fee69a"/><rect x="377.4" y="121.4" width="30.4" height="16.3" fill="#fddf90"/><rect x="407.3" y="121.4" width="32.3" height="16.3" fill="#fdc476"/><rect x="439.2" y="121.4" width="16.4" height="16.3" fill="#fddf90"/><rect x="455.2" y="121.4" width="16.4" height="16.3" fill="#c3e4f0"/><rect x="471.2" y="121.4" width="16.4" height="16.3" fill="#4e7fb9"/><rect x="487.2" y="121.4" width="16.4" height="16.3" fill="#c3e4f0"/><rect x="503.1" y="121.4" width="16.4" height="16.3" fill="#fdcf80"/><rect x="519.1" y="121.4" width="16.4" height="16.3" fill="#f88e52"/><rect x="535.0" y="121.4" width="16.4" height="16.3" fill="#fdb164"/><rect x="551.0" y="121.4" width="46.3" height="16.3" fill="#fdcf80"/><rect x="377.4" y="137.3" width="30.4" height="16.4" fill="#fddf90"/><rect x="407.3" y="137.3" width="16.4" height="16.4" fill="#fdc476"/><rect x="423.3" y="137.3" width="32.3" height="16.4" fill="#fddf90"/><rect x="455.2" y="137.3" width="16.4" height="16.4" fill="#dff2f1"/><rect x="471.2" y="137.3" width="16.4" height="16.4" fill="#84bad8"/><rect x="487.2" y="137.3" width="16.4" height="16.4" fill="#c3e4f0"/><rect x="503.1" y="137.3" width="16.4" height="16.4" fill="#fee69a"/><rect x="519.1" y="137.3" width="32.3" height="16.4" fill="#fdb164"/><rect x="551.0" y="137.3" width="46.3" height="16.4" fill="#fdcf80"/><rect x="377.4" y="153.3" width="30.4" height="16.4" fill="#fdc476"/><rect x="407.3" y="153.3" width="16.4" height="16.4" fill="#fba35c"/><rect x="423.3" y="153.3" width="16.4" height="16.4" fill="#fdc476"/><rect x="439.2" y="153.3" width="16.4" height="16.4" fill="#fddf90"/><rect x="455.2" y="153.3" width="16.4" height="16.4" fill="#dff2f1"/><rect x="471.2" y="153.3" width="16.4" height="16.4" fill="#689eca"/><rect x="487.2" y="153.3" width="16.4" height="16.4" fill="#84bad8"/><rect x="503.1" y="153.3" width="16.4" height="16.4" fill="#fef8b4"/><rect x="519.1" y="153.3" width="16.4" height="16.4" fill="#fdb164"/><rect x="535.0" y="153.3" width="16.4" height="16.4" fill="#fdcf80"/><rect x="551.0" y="153.3" width="16.4" height="16.4" fill="#fee69a"/><rect x="567.0" y="153.3" width="30.4" height="16.4" fill="#fef8b4"/><rect x="377.4" y="169.3" width="30.4" height="16.3" fill="#fdc476"/><rect x="407.3" y="169.3" width="16.4" height="16.3" fill="#fba35c"/><rect x="423.3" y="169.3" width="16.4" height="16.3" fill="#fdc476"/><rect x="439.2" y="169.3" width="16.4" height="16.3" fill="#fddf90"/><rect x="455.2" y="169.3" width="16.4" height="16.3" fill="#dff2f1"/><rect x="471.2" y="169.3" width="16.4" height="16.3" fill="#689eca"/><rect x="487.2" y="169.3" width="16.4" height="16.3" fill="#84bad8"/><rect x="503.1" y="169.3" width="16.4" height="16.3" fill="#fef8b4"/><rect x="519.1" y="169.3" width="16.4" height="16.3" fill="#fdb164"/><rect x="535.0" y="169.3" width="16.4" height="16.3" fill="#fdcf80"/><rect x="551.0" y="169.3" width="16.4" height="16.3" fill="#fee69a"/><rect x="567.0" y="169.3" width="30.4" height="16.3" fill="#dff2f1"/><rect x="377.4" y="185.2" width="30.4" height="16.3" fill="#fef1aa"/><rect x="407.3" y="185.2" width="32.3" height="16.3" fill="#fddf90"/><rect x="439.2" y="185.2" width="16.4" height="16.3" fill="#fef1aa"/><rect x="455.2" y="185.2" width="16.4" height="16.3" fill="#a4d2e6"/><rect x="471.2" y="185.2" width="16.4" height="16.3" fill="#689eca"/><rect x="487.2" y="185.2" width="16.4" height="16.3" fill="#c3e4f0"/><rect x="503.1" y="185.2" width="16.4" height="16.3" fill="#fee69a"/><rect x="519.1" y="185.2" width="16.4" height="16.3" fill="#fdb164"/><rect x="535.0" y="185.2" width="16.4" height="16.3" fill="#fdcf80"/><rect x="551.0" y="185.2" width="16.4" height="16.3" fill="#fee69a"/><rect x="567.0" y="185.2" width="30.4" height="16.3" fill="#fef8b4"/><rect x="377.4" y="201.2" width="46.3" height="16.3" fill="#f9fbc6"/><rect x="423.3" y="201.2" width="32.3" height="16.3" fill="#fef1aa"/><rect x="455.2" y="201.2" width="16.4" height="16.3" fill="#c3e4f0"/><rect x="471.2" y="201.2" width="16.4" height="16.3" fill="#a4d2e6"/><rect x="487.2" y="201.2" width="16.4" height="16.3" fill="#dff2f1"/><rect x="503.1" y="201.2" width="16.4" height="16.3" fill="#fee69a"/><rect x="519.1" y="201.2" width="32.3" height="16.3" fill="#fdb164"/><rect x="551.0" y="201.2" width="46.3" height="16.3" fill="#fee69a"/><rect x="377.4" y="217.1" width="46.3" height="16.4" fill="#f9fbc6"/><rect x="423.3" y="217.1" width="16.4" height="16.4" fill="#fef1aa"/><rect x="439.2" y="217.1" width="16.4" height="16.4" fill="#fddf90"/><rect x="455.2" y="217.1" width="16.4" height="16.4" fill="#fef1aa"/><rect x="471.2" y="217.1" width="16.4" height="16.4" fill="#f9fbc6"/><rect x="487.2" y="217.1" width="16.4" height="16.4" fill="#fef1aa"/><rect x="503.1" y="217.1" width="16.4" height="16.4" fill="#fdcf80"/><rect x="519.1" y="217.1" width="32.3" height="16.4" fill="#f88e52"/><rect x="551.0" y="217.1" width="16.4" height="16.4" fill="#fdcf80"/><rect x="567.0" y="217.1" width="30.4" height="16.4" fill="#fee69a"/><rect x="377.4" y="233.1" width="46.3" height="16.3" fill="#fef1aa"/><rect x="423.3" y="233.1" width="48.3" height="16.3" fill="#fddf90"/><rect x="471.2" y="233.1" width="16.4" height="16.3" fill="#fef1aa"/><rect x="487.2" y="233.1" width="16.4" height="16.3" fill="#f9fbc6"/><rect x="503.1" y="233.1" width="16.4" height="16.3" fill="#fef8b4"/><rect x="519.1" y="233.1" width="32.3" height="16.3" fill="#fdb164"/><rect x="551.0" y="233.1" width="46.3" height="16.3" fill="#fdcf80"/><rect x="377.4" y="249.0" width="30.4" height="16.4" fill="#f9fbc6"/><rect x="407.3" y="249.0" width="16.4" height="16.4" fill="#fef1aa"/><rect x="423.3" y="249.0" width="32.3" height="16.4" fill="#fddf90"/><rect x="455.2" y="249.0" width="16.4" height="16.4" fill="#f9fbc6"/><rect x="471.2" y="249.0" width="16.4" height="16.4" fill="#dff2f1"/><rect x="487.2" y="249.0" width="16.4" height="16.4" fill="#fef1aa"/><rect x="503.1" y="249.0" width="16.4" height="16.4" fill="#c3e4f0"/><rect x="519.1" y="249.0" width="16.4" height="16.4" fill="#fef8b4"/><rect x="535.0" y="249.0" width="16.4" height="16.4" fill="#fdcf80"/><rect x="551.0" y="249.0" width="16.4" height="16.4" fill="#fee69a"/><rect x="567.0" y="249.0" width="30.4" height="16.4" fill="#fef8b4"/><rect x="377.4" y="265.0" width="30.4" height="16.3" fill="#f0f9d9"/><rect x="407.3" y="265.0" width="16.4" height="16.3" fill="#fcf9ba"/><rect x="423.3" y="265.0" width="16.4" height="16.3" fill="#fdd586"/><rect x="439.2" y="265.0" width="16.4" height="16.3" fill="#fddf90"/><rect x="455.2" y="265.0" width="16.4" height="16.3" fill="#84bad8"/><rect x="471.2" y="265.0" width="16.4" height="16.3" fill="#689eca"/><rect x="487.2" y="265.0" width="16.4" height="16.3" fill="#fef1aa"/><rect x="503.1" y="265.0" width="16.4" height="16.3" fill="#fee69a"/><rect x="519.1" y="265.0" width="16.4" height="16.3" fill="#fdcf80"/><rect x="535.0" y="265.0" width="16.4" height="16.3" fill="#fdb164"/><rect x="551.0" y="265.0" width="16.4" height="16.3" fill="#fee69a"/><rect x="567.0" y="265.0" width="30.4" height="16.3" fill="#fef8b4"/><rect x="377.4" y="280.9" width="30.4" height="16.3" fill="#f0f9d9"/><rect x="407.3" y="280.9" width="16.4" height="16.3" fill="#fcf9ba"/><rect x="423.3" y="280.9" width="16.4" height="16.3" fill="#fdd586"/><rect x="439.2" y="280.9" width="16.4" height="16.3" fill="#fddf90"/><rect x="455.2" y="280.9" width="16.4" height="16.3" fill="#4e7fb9"/><rect x="471.2" y="280.9" width="16.4" height="16.3" fill="#689eca"/><rect x="487.2" y="280.9" width="16.4" height="16.3" fill="#fddf90"/><rect x="503.1" y="280.9" width="16.4" height="16.3" fill="#fdcf80"/><rect x="519.1" y="280.9" width="32.3" height="16.3" fill="#f88e52"/><rect x="551.0" y="280.9" width="16.4" height="16.3" fill="#fdcf80"/><rect x="567.0" y="280.9" width="30.4" height="16.3" fill="#fee69a"/><rect x="377.4" y="296.9" width="30.4" height="16.3" fill="#f0f9d9"/><rect x="407.3" y="296.9" width="16.4" height="16.3" fill="#fcf9ba"/><rect x="423.3" y="296.9" width="16.4" height="16.3" fill="#feeaa0"/><rect x="439.2" y="296.9" width="16.4" height="16.3" fill="#fef1aa"/><rect x="455.2" y="296.9" width="16.4" height="16.3" fill="#689eca"/><rect x="471.2" y="296.9" width="16.4" height="16.3" fill="#a4d2e6"/><rect x="487.2" y="296.9" width="16.4" height="16.3" fill="#fddf90"/><rect x="503.1" y="296.9" width="16.4" height="16.3" fill="#fdb164"/><rect x="519.1" y="296.9" width="16.4" height="16.3" fill="#f88e52"/><rect x="535.0" y="296.9" width="16.4" height="16.3" fill="#f67c49"/><rect x="551.0" y="296.9" width="16.4" height="16.3" fill="#fdb164"/><rect x="567.0" y="296.9" width="30.4" height="16.3" fill="#fdcf80"/><rect x="377.4" y="312.8" width="46.3" height="16.4" fill="#cfeaf3"/><rect x="423.3" y="312.8" width="16.4" height="16.4" fill="#fcf9ba"/><rect x="439.2" y="312.8" width="16.4" height="16.4" fill="#fef1aa"/><rect x="455.2" y="312.8" width="16.4" height="16.4" fill="#a4d2e6"/><rect x="471.2" y="312.8" width="16.4" height="16.4" fill="#c3e4f0"/><rect x="487.2" y="312.8" width="16.4" height="16.4" fill="#fef1aa"/><rect x="503.1" y="312.8" width="32.3" height="16.4" fill="#fdcf80"/><rect x="535.0" y="312.8" width="32.3" height="16.4" fill="#fdb164"/><rect x="567.0" y="312.8" width="30.4" height="16.4" fill="#fdcf80"/><rect x="377.4" y="328.8" width="46.3" height="16.3" fill="#f0f9d9"/><rect x="423.3" y="328.8" width="16.4" height="16.3" fill="#fcf9ba"/><rect x="439.2" y="328.8" width="16.4" height="16.3" fill="#f9fbc6"/><rect x="455.2" y="328.8" width="16.4" height="16.3" fill="#c3e4f0"/><rect x="471.2" y="328.8" width="16.4" height="16.3" fill="#a4d2e6"/><rect x="487.2" y="328.8" width="16.4" height="16.3" fill="#f9fbc6"/><rect x="503.1" y="328.8" width="16.4" height="16.3" fill="#fee69a"/><rect x="519.1" y="328.8" width="78.3" height="16.3" fill="#fdcf80"/><rect x="377.4" y="344.7" width="30.4" height="16.3" fill="#fcf9ba"/><rect x="407.3" y="344.7" width="16.4" height="16.3" fill="#f0f9d9"/><rect x="423.3" y="344.7" width="16.4" height="16.3" fill="#cfeaf3"/><rect x="439.2" y="344.7" width="32.3" height="16.3" fill="#dff2f1"/><rect x="471.2" y="344.7" width="16.4" height="16.3" fill="#84bad8"/><rect x="487.2" y="344.7" width="16.4" height="16.3" fill="#dff2f1"/><rect x="503.1" y="344.7" width="16.4" height="16.3" fill="#fee69a"/><rect x="519.1" y="344.7" width="32.3" height="16.3" fill="#fdb164"/><rect x="551.0" y="344.7" width="16.4" height="16.3" fill="#fdcf80"/><rect x="567.0" y="344.7" width="30.4" height="16.3" fill="#fee69a"/><rect x="377.4" y="360.7" width="30.4" height="16.3" fill="#feeaa0"/><rect x="407.3" y="360.7" width="16.4" height="16.3" fill="#fcf9ba"/><rect x="423.3" y="360.7" width="16.4" height="16.3" fill="#cfeaf3"/><rect x="439.2" y="360.7" width="16.4" height="16.3" fill="#f9fbc6"/><rect x="455.2" y="360.7" width="16.4" height="16.3" fill="#dff2f1"/><rect x="471.2" y="360.7" width="16.4" height="16.3" fill="#84bad8"/><rect x="487.2" y="360.7" width="16.4" height="16.3" fill="#f9fbc6"/><rect x="503.1" y="360.7" width="16.4" height="16.3" fill="#fee69a"/><rect x="519.1" y="360.7" width="16.4" height="16.3" fill="#fdcf80"/><rect x="535.0" y="360.7" width="32.3" height="16.3" fill="#fdb164"/><rect x="567.0" y="360.7" width="30.4" height="16.3" fill="#fdcf80"/><rect x="377.4" y="376.6" width="46.3" height="16.4" fill="#feeaa0"/><rect x="423.3" y="376.6" width="16.4" height="16.4" fill="#fcf9ba"/><rect x="439.2" y="376.6" width="16.4" height="16.4" fill="#fef1aa"/><rect x="455.2" y="376.6" width="16.4" height="16.4" fill="#dff2f1"/><rect x="471.2" y="376.6" width="16.4" height="16.4" fill="#a4d2e6"/><rect x="487.2" y="376.6" width="16.4" height="16.4" fill="#fef1aa"/><rect x="503.1" y="376.6" width="16.4" height="16.4" fill="#fee69a"/><rect x="519.1" y="376.6" width="32.3" height="16.4" fill="#fdcf80"/><rect x="551.0" y="376.6" width="16.4" height="16.4" fill="#fdb164"/><rect x="567.0" y="376.6" width="30.4" height="16.4" fill="#fdcf80"/><rect x="377.4" y="392.6" width="78.3" height="16.3" fill="#fef1aa"/><rect x="455.2" y="392.6" width="16.4" height="16.3" fill="#dff2f1"/><rect x="471.2" y="392.6" width="16.4" height="16.3" fill="#c3e4f0"/><rect x="487.2" y="392.6" width="16.4" height="16.3" fill="#f9fbc6"/><rect x="503.1" y="392.6" width="16.4" height="16.3" fill="#fef8b4"/><rect x="519.1" y="392.6" width="78.3" height="16.3" fill="#fdcf80"/><rect x="377.4" y="408.5" width="62.3" height="16.3" fill="#fef1aa"/><rect x="439.2" y="408.5" width="32.3" height="16.3" fill="#fddf90"/><rect x="471.2" y="408.5" width="16.4" height="16.3" fill="#fef1aa"/><rect x="487.2" y="408.5" width="16.4" height="16.3" fill="#f9fbc6"/><rect x="503.1" y="408.5" width="16.4" height="16.3" fill="#fef8b4"/><rect x="519.1" y="408.5" width="78.3" height="16.3" fill="#fdcf80"/><rect x="377.4" y="424.5" width="30.4" height="16.3" fill="#fef1aa"/><rect x="407.3" y="424.5" width="32.3" height="16.3" fill="#fddf90"/><rect x="439.2" y="424.5" width="32.3" height="16.3" fill="#fdc476"/><rect x="471.2" y="424.5" width="16.4" height="16.3" fill="#fddf90"/><rect x="487.2" y="424.5" width="32.3" height="16.3" fill="#fef1aa"/><rect x="519.1" y="424.5" width="78.3" height="16.3" fill="#fddf90"/><rect x="377.4" y="440.4" width="46.3" height="16.4" fill="#fef1aa"/><rect x="423.3" y="440.4" width="32.3" height="16.4" fill="#fddf90"/><rect x="455.2" y="440.4" width="32.3" height="16.4" fill="#fef1aa"/><rect x="487.2" y="440.4" width="16.4" height="16.4" fill="#f9fbc6"/><rect x="503.1" y="440.4" width="32.3" height="16.4" fill="#fef1aa"/><rect x="535.0" y="440.4" width="62.3" height="16.4" fill="#fddf90"/><rect x="377.4" y="456.4" width="30.4" height="16.3" fill="#fef1aa"/><rect x="407.3" y="456.4" width="16.4" height="16.3" fill="#fddf90"/><rect x="423.3" y="456.4" width="16.4" height="16.3" fill="#fdc476"/><rect x="439.2" y="456.4" width="16.4" height="16.3" fill="#fddf90"/><rect x="455.2" y="456.4" width="32.3" height="16.3" fill="#fef1aa"/><rect x="487.2" y="456.4" width="32.3" height="16.3" fill="#f9fbc6"/><rect x="519.1" y="456.4" width="16.4" height="16.3" fill="#fef1aa"/><rect x="535.0" y="456.4" width="16.4" height="16.3" fill="#fdc476"/><rect x="551.0" y="456.4" width="46.3" height="16.3" fill="#fddf90"/><rect x="377.4" y="472.3" width="30.4" height="16.3" fill="#f9fbc6"/><rect x="407.3" y="472.3" width="16.4" height="16.3" fill="#fef1aa"/><rect x="423.3" y="472.3" width="32.3" height="16.3" fill="#fddf90"/><rect x="455.2" y="472.3" width="16.4" height="16.3" fill="#fef1aa"/><rect x="471.2" y="472.3" width="16.4" height="16.3" fill="#f9fbc6"/><rect x="487.2" y="472.3" width="16.4" height="16.3" fill="#dff2f1"/><rect x="503.1" y="472.3" width="16.4" height="16.3" fill="#c3e4f0"/><rect x="519.1" y="472.3" width="16.4" height="16.3" fill="#dff2f1"/><rect x="535.0" y="472.3" width="62.3" height="16.3" fill="#fef1aa"/><rect x="377.4" y="488.3" width="30.4" height="16.4" fill="#dff2f1"/><rect x="407.3" y="488.3" width="16.4" height="16.4" fill="#fef1aa"/><rect x="423.3" y="488.3" width="16.4" height="16.4" fill="#fddf90"/><rect x="439.2" y="488.3" width="16.4" height="16.4" fill="#fdc476"/><rect x="455.2" y="488.3" width="16.4" height="16.4" fill="#fef1aa"/><rect x="471.2" y="488.3" width="16.4" height="16.4" fill="#f9fbc6"/><rect x="487.2" y="488.3" width="16.4" height="16.4" fill="#84bad8"/><rect x="503.1" y="488.3" width="16.4" height="16.4" fill="#a4d2e6"/><rect x="519.1" y="488.3" width="16.4" height="16.4" fill="#dff2f1"/><rect x="535.0" y="488.3" width="16.4" height="16.4" fill="#f9fbc6"/><rect x="551.0" y="488.3" width="46.3" height="16.4" fill="#fef1aa"/><rect x="377.4" y="504.2" width="30.4" height="16.3" fill="#dff2f1"/><rect x="407.3" y="504.2" width="16.4" height="16.3" fill="#f9fbc6"/><rect x="423.3" y="504.2" width="16.4" height="16.3" fill="#fef1aa"/><rect x="439.2" y="504.2" width="16.4" height="16.3" fill="#fddf90"/><rect x="455.2" y="504.2" width="32.3" height="16.3" fill="#f9fbc6"/><rect x="487.2" y="504.2" width="16.4" height="16.3" fill="#689eca"/><rect x="503.1" y="504.2" width="16.4" height="16.3" fill="#4e7fb9"/><rect x="519.1" y="504.2" width="16.4" height="16.3" fill="#dff2f1"/><rect x="535.0" y="504.2" width="16.4" height="16.3" fill="#f9fbc6"/><rect x="551.0" y="504.2" width="46.3" height="16.3" fill="#fef1aa"/><rect x="377.4" y="520.2" width="78.3" height="16.3" fill="#fef1aa"/><rect x="455.2" y="520.2" width="32.3" height="16.3" fill="#f9fbc6"/><rect x="487.2" y="520.2" width="32.3" height="16.3" fill="#c3e4f0"/><rect x="519.1" y="520.2" width="16.4" height="16.3" fill="#dff2f1"/><rect x="535.0" y="520.2" width="16.4" height="16.3" fill="#f9fbc6"/><rect x="551.0" y="520.2" width="16.4" height="16.3" fill="#fef1aa"/><rect x="567.0" y="520.2" width="30.4" height="16.3" fill="#fddf90"/><rect x="377.4" y="536.1" width="30.4" height="16.4" fill="#fdc476"/><rect x="407.3" y="536.1" width="16.4" height="16.4" fill="#fddf90"/><rect x="423.3" y="536.1" width="32.3" height="16.4" fill="#fef1aa"/><rect x="455.2" y="536.1" width="16.4" height="16.4" fill="#f9fbc6"/><rect x="471.2" y="536.1" width="16.4" height="16.4" fill="#fdc476"/><rect x="487.2" y="536.1" width="16.4" height="16.4" fill="#fba35c"/><rect x="503.1" y="536.1" width="16.4" height="16.4" fill="#fdc476"/><rect x="519.1" y="536.1" width="32.3" height="16.4" fill="#f9fbc6"/><rect x="551.0" y="536.1" width="46.3" height="16.4" fill="#fef1aa"/><rect x="377.4" y="552.1" width="46.3" height="16.3" fill="#fddf90"/><rect x="423.3" y="552.1" width="96.2" height="16.3" fill="#fef1aa"/><rect x="519.1" y="552.1" width="16.4" height="16.3" fill="#f9fbc6"/><rect x="535.0" y="552.1" width="32.3" height="16.3" fill="#fef1aa"/><rect x="567.0" y="552.1" width="30.4" height="16.3" fill="#f9fbc6"/><rect x="377.4" y="568.0" width="30.4" height="16.4" fill="#fdc476"/><rect x="407.3" y="568.0" width="48.3" height="16.4" fill="#fddf90"/><rect x="455.2" y="568.0" width="16.4" height="16.4" fill="#fef1aa"/><rect x="471.2" y="568.0" width="16.4" height="16.4" fill="#f9fbc6"/><rect x="487.2" y="568.0" width="16.4" height="16.4" fill="#a4d2e6"/><rect x="503.1" y="568.0" width="16.4" height="16.4" fill="#c3e4f0"/><rect x="519.1" y="568.0" width="16.4" height="16.4" fill="#fef1aa"/><rect x="535.0" y="568.0" width="32.3" height="16.4" fill="#fddf90"/><rect x="567.0" y="568.0" width="30.4" height="16.4" fill="#fef1aa"/><rect x="377.4" y="584.0" width="46.3" height="16.4" fill="#fdc476"/><rect x="423.3" y="584.0" width="64.3" height="16.4" fill="#fddf90"/><rect x="487.2" y="584.0" width="16.4" height="16.4" fill="#f9fbc6"/><rect x="503.1" y="584.0" width="16.4" height="16.4" fill="#fddf90"/><rect x="519.1" y="584.0" width="16.4" height="16.4" fill="#fdc476"/><rect x="535.0" y="584.0" width="32.3" height="16.4" fill="#fddf90"/><rect x="567.0" y="584.0" width="30.4" height="16.4" fill="#fef1aa"/><rect x="377.4" y="599.9" width="30.4" height="16.3" fill="#fef1aa"/><rect x="407.3" y="599.9" width="64.3" height="16.3" fill="#fddf90"/><rect x="471.2" y="599.9" width="32.3" height="16.3" fill="#fba35c"/><rect x="503.1" y="599.9" width="32.3" height="16.3" fill="#fdc476"/><rect x="535.0" y="599.9" width="62.3" height="16.3" fill="#fddf90"/><rect x="377.4" y="615.9" width="30.4" height="30.4" fill="#fef1aa"/><rect x="407.3" y="615.9" width="64.3" height="30.4" fill="#fddf90"/><rect x="471.2" y="615.9" width="16.4" height="30.4" fill="#fdc476"/><rect x="487.2" y="615.9" width="16.4" height="30.4" fill="#fba35c"/><rect x="503.1" y="615.9" width="32.3" height="30.4" fill="#fdc476"/><rect x="535.0" y="615.9" width="62.3" height="30.4" fill="#fddf90"/></g></g><g clip-path="url(#cpC)"><g filter="url(#bltop)"><rect x="637.5" y="41.4" width="46.3" height="30.3" fill="#fde193"/><rect x="683.4" y="41.4" width="16.4" height="30.3" fill="#fdc779"/><rect x="699.4" y="41.4" width="16.4" height="30.3" fill="#fde193"/><rect x="715.4" y="41.4" width="32.3" height="30.3" fill="#f2fad6"/><rect x="747.3" y="41.4" width="16.4" height="30.3" fill="#fef3ad"/><rect x="763.3" y="41.4" width="16.4" height="30.3" fill="#f99253"/><rect x="779.2" y="41.4" width="16.4" height="30.3" fill="#fdc779"/><rect x="795.2" y="41.4" width="62.3" height="30.3" fill="#fef3ad"/><rect x="637.5" y="71.3" width="46.3" height="16.4" fill="#fef3ad"/><rect x="683.4" y="71.3" width="32.3" height="16.4" fill="#fde193"/><rect x="715.4" y="71.3" width="16.4" height="16.4" fill="#fef3ad"/><rect x="731.3" y="71.3" width="32.3" height="16.4" fill="#c3e4f0"/><rect x="763.3" y="71.3" width="16.4" height="16.4" fill="#fde193"/><rect x="779.2" y="71.3" width="16.4" height="16.4" fill="#fdc779"/><rect x="795.2" y="71.3" width="32.3" height="16.4" fill="#fde193"/><rect x="827.1" y="71.3" width="30.4" height="16.4" fill="#fef3ad"/><rect x="637.5" y="87.3" width="30.4" height="16.4" fill="#f2fad6"/><rect x="667.5" y="87.3" width="16.4" height="16.4" fill="#fde193"/><rect x="683.4" y="87.3" width="32.3" height="16.4" fill="#fdc779"/><rect x="715.4" y="87.3" width="16.4" height="16.4" fill="#fde193"/><rect x="731.3" y="87.3" width="16.4" height="16.4" fill="#c3e4f0"/><rect x="747.3" y="87.3" width="16.4" height="16.4" fill="#a4d2e6"/><rect x="763.3" y="87.3" width="16.4" height="16.4" fill="#fef3ad"/><rect x="779.2" y="87.3" width="48.3" height="16.4" fill="#fdc779"/><rect x="827.1" y="87.3" width="30.4" height="16.4" fill="#fde193"/><rect x="637.5" y="103.2" width="30.4" height="16.4" fill="#f2fad6"/><rect x="667.5" y="103.2" width="16.4" height="16.4" fill="#fde193"/><rect x="683.4" y="103.2" width="16.4" height="16.4" fill="#fdb467"/><rect x="699.4" y="103.2" width="16.4" height="16.4" fill="#fdc779"/><rect x="715.4" y="103.2" width="16.4" height="16.4" fill="#fde193"/><rect x="731.3" y="103.2" width="16.4" height="16.4" fill="#c3e4f0"/><rect x="747.3" y="103.2" width="16.4" height="16.4" fill="#3d5da8"/><rect x="763.3" y="103.2" width="16.4" height="16.4" fill="#dff2f1"/><rect x="779.2" y="103.2" width="16.4" height="16.4" fill="#fdc779"/><rect x="795.2" y="103.2" width="16.4" height="16.4" fill="#fdb467"/><rect x="811.2" y="103.2" width="16.4" height="16.4" fill="#fdc779"/><rect x="827.1" y="103.2" width="30.4" height="16.4" fill="#fde193"/><rect x="637.5" y="119.2" width="30.4" height="16.4" fill="#fef3ad"/><rect x="667.5" y="119.2" width="16.4" height="16.4" fill="#fdc779"/><rect x="683.4" y="119.2" width="16.4" height="16.4" fill="#fdb467"/><rect x="699.4" y="119.2" width="16.4" height="16.4" fill="#fdc779"/><rect x="715.4" y="119.2" width="16.4" height="16.4" fill="#fde193"/><rect x="731.3" y="119.2" width="16.4" height="16.4" fill="#c3e4f0"/><rect x="747.3" y="119.2" width="16.4" height="16.4" fill="#84bad8"/><rect x="763.3" y="119.2" width="16.4" height="16.4" fill="#dff2f1"/><rect x="779.2" y="119.2" width="16.4" height="16.4" fill="#fdc779"/><rect x="795.2" y="119.2" width="16.4" height="16.4" fill="#fdb467"/><rect x="811.2" y="119.2" width="16.4" height="16.4" fill="#fdc779"/><rect x="827.1" y="119.2" width="30.4" height="16.4" fill="#fde193"/><rect x="637.5" y="135.2" width="30.4" height="16.3" fill="#fef3ad"/><rect x="667.5" y="135.2" width="16.4" height="16.3" fill="#fde193"/><rect x="683.4" y="135.2" width="16.4" height="16.3" fill="#fdc779"/><rect x="699.4" y="135.2" width="32.3" height="16.3" fill="#fde193"/><rect x="731.3" y="135.2" width="16.4" height="16.3" fill="#dff2f1"/><rect x="747.3" y="135.2" width="16.4" height="16.3" fill="#84bad8"/><rect x="763.3" y="135.2" width="16.4" height="16.3" fill="#dff2f1"/><rect x="779.2" y="135.2" width="16.4" height="16.3" fill="#fdc779"/><rect x="795.2" y="135.2" width="16.4" height="16.3" fill="#f99253"/><rect x="811.2" y="135.2" width="16.4" height="16.3" fill="#fdc779"/><rect x="827.1" y="135.2" width="30.4" height="16.3" fill="#fde193"/><rect x="637.5" y="151.1" width="46.3" height="16.4" fill="#dff2f1"/><rect x="683.4" y="151.1" width="16.4" height="16.4" fill="#fef3ad"/><rect x="699.4" y="151.1" width="32.3" height="16.4" fill="#fde193"/><rect x="731.3" y="151.1" width="16.4" height="16.4" fill="#dff2f1"/><rect x="747.3" y="151.1" width="16.4" height="16.4" fill="#4e7fb9"/><rect x="763.3" y="151.1" width="16.4" height="16.4" fill="#3d5da8"/><rect x="779.2" y="151.1" width="16.4" height="16.4" fill="#fde193"/><rect x="795.2" y="151.1" width="16.4" height="16.4" fill="#fdc779"/><rect x="811.2" y="151.1" width="16.4" height="16.4" fill="#fde193"/><rect x="827.1" y="151.1" width="30.4" height="16.4" fill="#fef3ad"/><rect x="637.5" y="167.1" width="30.4" height="16.3" fill="#dff2f1"/><rect x="667.5" y="167.1" width="16.4" height="16.3" fill="#f2fad6"/><rect x="683.4" y="167.1" width="16.4" height="16.3" fill="#fef3ad"/><rect x="699.4" y="167.1" width="32.3" height="16.3" fill="#fde193"/><rect x="731.3" y="167.1" width="16.4" height="16.3" fill="#c3e4f0"/><rect x="747.3" y="167.1" width="16.4" height="16.3" fill="#689eca"/><rect x="763.3" y="167.1" width="16.4" height="16.3" fill="#84bad8"/><rect x="779.2" y="167.1" width="16.4" height="16.3" fill="#fef3ad"/><rect x="795.2" y="167.1" width="32.3" height="16.3" fill="#fde193"/><rect x="827.1" y="167.1" width="30.4" height="16.3" fill="#fef3ad"/><rect x="637.5" y="183.0" width="30.4" height="16.4" fill="#fef3ad"/><rect x="667.5" y="183.0" width="32.3" height="16.4" fill="#fde193"/><rect x="699.4" y="183.0" width="16.4" height="16.4" fill="#fdc779"/><rect x="715.4" y="183.0" width="16.4" height="16.4" fill="#fde193"/><rect x="731.3" y="183.0" width="16.4" height="16.4" fill="#a4d2e6"/><rect x="747.3" y="183.0" width="16.4" height="16.4" fill="#3d5da8"/><rect x="763.3" y="183.0" width="16.4" height="16.4" fill="#c3e4f0"/><rect x="779.2" y="183.0" width="16.4" height="16.4" fill="#fef3ad"/><rect x="795.2" y="183.0" width="62.3" height="16.4" fill="#fde193"/><rect x="637.5" y="199.0" width="62.3" height="16.3" fill="#fde193"/><rect x="699.4" y="199.0" width="32.3" height="16.3" fill="#fdc779"/><rect x="731.3" y="199.0" width="16.4" height="16.3" fill="#c3e4f0"/><rect x="747.3" y="199.0" width="16.4" height="16.3" fill="#84bad8"/><rect x="763.3" y="199.0" width="16.4" height="16.3" fill="#dff2f1"/><rect x="779.2" y="199.0" width="16.4" height="16.3" fill="#fef3ad"/><rect x="795.2" y="199.0" width="62.3" height="16.3" fill="#fde193"/><rect x="637.5" y="214.9" width="46.3" height="16.4" fill="#fdc779"/><rect x="683.4" y="214.9" width="32.3" height="16.4" fill="#fde193"/><rect x="715.4" y="214.9" width="16.4" height="16.4" fill="#fdc779"/><rect x="731.3" y="214.9" width="16.4" height="16.4" fill="#f2fad6"/><rect x="747.3" y="214.9" width="16.4" height="16.4" fill="#a4d2e6"/><rect x="763.3" y="214.9" width="16.4" height="16.4" fill="#f2fad6"/><rect x="779.2" y="214.9" width="16.4" height="16.4" fill="#fef3ad"/><rect x="795.2" y="214.9" width="32.3" height="16.4" fill="#fde193"/><rect x="827.1" y="214.9" width="30.4" height="16.4" fill="#fdc779"/><rect x="637.5" y="230.9" width="78.3" height="16.3" fill="#fde193"/><rect x="715.4" y="230.9" width="16.4" height="16.3" fill="#fdc779"/><rect x="731.3" y="230.9" width="16.4" height="16.3" fill="#fef3ad"/><rect x="747.3" y="230.9" width="32.3" height="16.3" fill="#dff2f1"/><rect x="779.2" y="230.9" width="16.4" height="16.3" fill="#fef3ad"/><rect x="795.2" y="230.9" width="16.4" height="16.3" fill="#fde193"/><rect x="811.2" y="230.9" width="46.3" height="16.3" fill="#fdc779"/><rect x="637.5" y="246.8" width="46.3" height="16.3" fill="#fef3ad"/><rect x="683.4" y="246.8" width="32.3" height="16.3" fill="#fde193"/><rect x="715.4" y="246.8" width="16.4" height="16.3" fill="#fef3ad"/><rect x="731.3" y="246.8" width="16.4" height="16.3" fill="#f2fad6"/><rect x="747.3" y="246.8" width="16.4" height="16.3" fill="#fdc779"/><rect x="763.3" y="246.8" width="16.4" height="16.3" fill="#fef3ad"/><rect x="779.2" y="246.8" width="16.4" height="16.3" fill="#a4d2e6"/><rect x="795.2" y="246.8" width="16.4" height="16.3" fill="#f2fad6"/><rect x="811.2" y="246.8" width="46.3" height="16.3" fill="#fef3ad"/><rect x="637.5" y="262.8" width="30.4" height="16.4" fill="#dff2f1"/><rect x="667.5" y="262.8" width="16.4" height="16.4" fill="#fef3ad"/><rect x="683.4" y="262.8" width="32.3" height="16.4" fill="#fdc779"/><rect x="715.4" y="262.8" width="16.4" height="16.4" fill="#fef3ad"/><rect x="731.3" y="262.8" width="16.4" height="16.4" fill="#f2fad6"/><rect x="747.3" y="262.8" width="16.4" height="16.4" fill="#f26e43"/><rect x="763.3" y="262.8" width="16.4" height="16.4" fill="#fef3ad"/><rect x="779.2" y="262.8" width="16.4" height="16.4" fill="#84bad8"/><rect x="795.2" y="262.8" width="16.4" height="16.4" fill="#dff2f1"/><rect x="811.2" y="262.8" width="46.3" height="16.4" fill="#fef3ad"/><rect x="637.5" y="278.7" width="30.4" height="16.3" fill="#f2fad6"/><rect x="667.5" y="278.7" width="16.4" height="16.3" fill="#fde193"/><rect x="683.4" y="278.7" width="16.4" height="16.3" fill="#fdc779"/><rect x="699.4" y="278.7" width="16.4" height="16.3" fill="#fdb467"/><rect x="715.4" y="278.7" width="16.4" height="16.3" fill="#fde193"/><rect x="731.3" y="278.7" width="16.4" height="16.3" fill="#f2fad6"/><rect x="747.3" y="278.7" width="16.4" height="16.3" fill="#fde193"/><rect x="763.3" y="278.7" width="16.4" height="16.3" fill="#f2fad6"/><rect x="779.2" y="278.7" width="16.4" height="16.3" fill="#a4d2e6"/><rect x="795.2" y="278.7" width="16.4" height="16.3" fill="#dff2f1"/><rect x="811.2" y="278.7" width="46.3" height="16.3" fill="#fef3ad"/><rect x="637.5" y="294.6" width="46.3" height="16.4" fill="#fde193"/><rect x="683.4" y="294.6" width="32.3" height="16.4" fill="#fef3ad"/><rect x="715.4" y="294.6" width="16.4" height="16.4" fill="#fde193"/><rect x="731.3" y="294.6" width="16.4" height="16.4" fill="#f2fad6"/><rect x="747.3" y="294.6" width="16.4" height="16.4" fill="#fef3ad"/><rect x="763.3" y="294.6" width="16.4" height="16.4" fill="#f2fad6"/><rect x="779.2" y="294.6" width="32.3" height="16.4" fill="#c3e4f0"/><rect x="811.2" y="294.6" width="16.4" height="16.4" fill="#f2fad6"/><rect x="827.1" y="294.6" width="30.4" height="16.4" fill="#fef3ad"/><rect x="637.5" y="310.6" width="30.4" height="16.3" fill="#f99253"/><rect x="667.5" y="310.6" width="16.4" height="16.3" fill="#fdc779"/><rect x="683.4" y="310.6" width="48.3" height="16.3" fill="#fef3ad"/><rect x="731.3" y="310.6" width="32.3" height="16.3" fill="#f2fad6"/><rect x="763.3" y="310.6" width="16.4" height="16.3" fill="#dff2f1"/><rect x="779.2" y="310.6" width="16.4" height="16.3" fill="#c3e4f0"/><rect x="795.2" y="310.6" width="16.4" height="16.3" fill="#a4d2e6"/><rect x="811.2" y="310.6" width="46.3" height="16.3" fill="#fef3ad"/><rect x="637.5" y="326.6" width="30.4" height="16.3" fill="#f26e43"/><rect x="667.5" y="326.6" width="16.4" height="16.3" fill="#fdc779"/><rect x="683.4" y="326.6" width="48.3" height="16.3" fill="#fef3ad"/><rect x="731.3" y="326.6" width="16.4" height="16.3" fill="#f2fad6"/><rect x="747.3" y="326.6" width="16.4" height="16.3" fill="#fef3ad"/><rect x="763.3" y="326.6" width="16.4" height="16.3" fill="#f2fad6"/><rect x="779.2" y="326.6" width="78.3" height="16.3" fill="#dff2f1"/><rect x="637.5" y="342.5" width="30.4" height="16.3" fill="#fdc779"/><rect x="667.5" y="342.5" width="16.4" height="16.3" fill="#fde193"/><rect x="683.4" y="342.5" width="16.4" height="16.3" fill="#fef3ad"/><rect x="699.4" y="342.5" width="16.4" height="16.3" fill="#fde193"/><rect x="715.4" y="342.5" width="16.4" height="16.3" fill="#fef3ad"/><rect x="731.3" y="342.5" width="16.4" height="16.3" fill="#f2fad6"/><rect x="747.3" y="342.5" width="32.3" height="16.3" fill="#fef3ad"/><rect x="779.2" y="342.5" width="32.3" height="16.3" fill="#f2fad6"/><rect x="811.2" y="342.5" width="16.4" height="16.3" fill="#c3e4f0"/><rect x="827.1" y="342.5" width="30.4" height="16.3" fill="#dff2f1"/><rect x="637.5" y="358.4" width="46.3" height="16.3" fill="#fde193"/><rect x="683.4" y="358.4" width="48.3" height="16.3" fill="#fef3ad"/><rect x="731.3" y="358.4" width="16.4" height="16.3" fill="#f2fad6"/><rect x="747.3" y="358.4" width="32.3" height="16.3" fill="#fef3ad"/><rect x="779.2" y="358.4" width="16.4" height="16.3" fill="#f2fad6"/><rect x="795.2" y="358.4" width="62.3" height="16.3" fill="#dff2f1"/><rect x="637.5" y="374.4" width="30.4" height="16.4" fill="#fef3ad"/><rect x="667.5" y="374.4" width="16.4" height="16.4" fill="#dff2f1"/><rect x="683.4" y="374.4" width="32.3" height="16.4" fill="#a4d2e6"/><rect x="715.4" y="374.4" width="16.4" height="16.4" fill="#fef3ad"/><rect x="731.3" y="374.4" width="16.4" height="16.4" fill="#f2fad6"/><rect x="747.3" y="374.4" width="16.4" height="16.4" fill="#dff2f1"/><rect x="763.3" y="374.4" width="16.4" height="16.4" fill="#f2fad6"/><rect x="779.2" y="374.4" width="32.3" height="16.4" fill="#dff2f1"/><rect x="811.2" y="374.4" width="46.3" height="16.4" fill="#f2fad6"/><rect x="637.5" y="390.4" width="30.4" height="16.3" fill="#fef3ad"/><rect x="667.5" y="390.4" width="16.4" height="16.3" fill="#dff2f1"/><rect x="683.4" y="390.4" width="16.4" height="16.3" fill="#84bad8"/><rect x="699.4" y="390.4" width="16.4" height="16.3" fill="#a4d2e6"/><rect x="715.4" y="390.4" width="16.4" height="16.3" fill="#fef3ad"/><rect x="731.3" y="390.4" width="16.4" height="16.3" fill="#f2fad6"/><rect x="747.3" y="390.4" width="16.4" height="16.3" fill="#dff2f1"/><rect x="763.3" y="390.4" width="16.4" height="16.3" fill="#f2fad6"/><rect x="779.2" y="390.4" width="16.4" height="16.3" fill="#a4d2e6"/><rect x="795.2" y="390.4" width="16.4" height="16.3" fill="#dff2f1"/><rect x="811.2" y="390.4" width="16.4" height="16.3" fill="#f2fad6"/><rect x="827.1" y="390.4" width="30.4" height="16.3" fill="#fef3ad"/><rect x="637.5" y="406.3" width="30.4" height="16.3" fill="#fde193"/><rect x="667.5" y="406.3" width="16.4" height="16.3" fill="#fef3ad"/><rect x="683.4" y="406.3" width="16.4" height="16.3" fill="#f2fad6"/><rect x="699.4" y="406.3" width="16.4" height="16.3" fill="#dff2f1"/><rect x="715.4" y="406.3" width="16.4" height="16.3" fill="#fef3ad"/><rect x="731.3" y="406.3" width="16.4" height="16.3" fill="#f2fad6"/><rect x="747.3" y="406.3" width="16.4" height="16.3" fill="#dff2f1"/><rect x="763.3" y="406.3" width="16.4" height="16.3" fill="#f2fad6"/><rect x="779.2" y="406.3" width="16.4" height="16.3" fill="#dff2f1"/><rect x="795.2" y="406.3" width="16.4" height="16.3" fill="#f2fad6"/><rect x="811.2" y="406.3" width="46.3" height="16.3" fill="#fef3ad"/><rect x="637.5" y="422.2" width="46.3" height="16.3" fill="#fde193"/><rect x="683.4" y="422.2" width="16.4" height="16.3" fill="#fef3ad"/><rect x="699.4" y="422.2" width="16.4" height="16.3" fill="#f2fad6"/><rect x="715.4" y="422.2" width="16.4" height="16.3" fill="#fef3ad"/><rect x="731.3" y="422.2" width="16.4" height="16.3" fill="#f2fad6"/><rect x="747.3" y="422.2" width="16.4" height="16.3" fill="#dff2f1"/><rect x="763.3" y="422.2" width="32.3" height="16.3" fill="#f2fad6"/><rect x="795.2" y="422.2" width="62.3" height="16.3" fill="#fef3ad"/><rect x="637.5" y="438.2" width="46.3" height="16.4" fill="#fde193"/><rect x="683.4" y="438.2" width="32.3" height="16.4" fill="#f2fad6"/><rect x="715.4" y="438.2" width="16.4" height="16.4" fill="#fef3ad"/><rect x="731.3" y="438.2" width="32.3" height="16.4" fill="#fde193"/><rect x="763.3" y="438.2" width="16.4" height="16.4" fill="#fdb467"/><rect x="779.2" y="438.2" width="16.4" height="16.4" fill="#fde193"/><rect x="795.2" y="438.2" width="16.4" height="16.4" fill="#fdb467"/><rect x="811.2" y="438.2" width="46.3" height="16.4" fill="#f99253"/><rect x="637.5" y="454.2" width="62.3" height="16.3" fill="#fde193"/><rect x="699.4" y="454.2" width="48.3" height="16.3" fill="#fef3ad"/><rect x="747.3" y="454.2" width="16.4" height="16.3" fill="#fdc779"/><rect x="763.3" y="454.2" width="32.3" height="16.3" fill="#fde193"/><rect x="795.2" y="454.2" width="16.4" height="16.3" fill="#fdc779"/><rect x="811.2" y="454.2" width="16.4" height="16.3" fill="#fdb467"/><rect x="827.1" y="454.2" width="30.4" height="16.3" fill="#fdc779"/><rect x="637.5" y="470.1" width="30.4" height="16.3" fill="#fdc779"/><rect x="667.5" y="470.1" width="16.4" height="16.3" fill="#fde193"/><rect x="683.4" y="470.1" width="16.4" height="16.3" fill="#fdc779"/><rect x="699.4" y="470.1" width="16.4" height="16.3" fill="#fde193"/><rect x="715.4" y="470.1" width="32.3" height="16.3" fill="#f2fad6"/><rect x="747.3" y="470.1" width="32.3" height="16.3" fill="#fef3ad"/><rect x="779.2" y="470.1" width="32.3" height="16.3" fill="#f2fad6"/><rect x="811.2" y="470.1" width="46.3" height="16.3" fill="#fef3ad"/><rect x="637.5" y="486.1" width="78.3" height="16.4" fill="#fde193"/><rect x="715.4" y="486.1" width="48.3" height="16.4" fill="#fef3ad"/><rect x="763.3" y="486.1" width="16.4" height="16.4" fill="#f2fad6"/><rect x="779.2" y="486.1" width="32.3" height="16.4" fill="#c3e4f0"/><rect x="811.2" y="486.1" width="46.3" height="16.4" fill="#dff2f1"/><rect x="637.5" y="502.0" width="30.4" height="16.3" fill="#f2fad6"/><rect x="667.5" y="502.0" width="16.4" height="16.3" fill="#fef3ad"/><rect x="683.4" y="502.0" width="32.3" height="16.3" fill="#fde193"/><rect x="715.4" y="502.0" width="48.3" height="16.3" fill="#fef3ad"/><rect x="763.3" y="502.0" width="16.4" height="16.3" fill="#f2fad6"/><rect x="779.2" y="502.0" width="16.4" height="16.3" fill="#dff2f1"/><rect x="795.2" y="502.0" width="16.4" height="16.3" fill="#f2fad6"/><rect x="811.2" y="502.0" width="46.3" height="16.3" fill="#fef3ad"/><rect x="637.5" y="518.0" width="46.3" height="16.3" fill="#f2fad6"/><rect x="683.4" y="518.0" width="16.4" height="16.3" fill="#fef3ad"/><rect x="699.4" y="518.0" width="32.3" height="16.3" fill="#fde193"/><rect x="731.3" y="518.0" width="32.3" height="16.3" fill="#fef3ad"/><rect x="763.3" y="518.0" width="94.2" height="16.3" fill="#fde193"/><rect x="637.5" y="533.9" width="30.4" height="16.4" fill="#fdc779"/><rect x="667.5" y="533.9" width="16.4" height="16.4" fill="#fde193"/><rect x="683.4" y="533.9" width="32.3" height="16.4" fill="#fef3ad"/><rect x="715.4" y="533.9" width="32.3" height="16.4" fill="#fde193"/><rect x="747.3" y="533.9" width="32.3" height="16.4" fill="#fef3ad"/><rect x="779.2" y="533.9" width="78.3" height="16.4" fill="#fde193"/><rect x="637.5" y="549.9" width="30.4" height="16.4" fill="#fdc779"/><rect x="667.5" y="549.9" width="80.2" height="16.4" fill="#fde193"/><rect x="747.3" y="549.9" width="16.4" height="16.4" fill="#f2fad6"/><rect x="763.3" y="549.9" width="16.4" height="16.4" fill="#fef3ad"/><rect x="779.2" y="549.9" width="78.3" height="16.4" fill="#fde193"/><rect x="637.5" y="565.8" width="46.3" height="16.3" fill="#fef3ad"/><rect x="683.4" y="565.8" width="16.4" height="16.3" fill="#fdc779"/><rect x="699.4" y="565.8" width="16.4" height="16.3" fill="#fde193"/><rect x="715.4" y="565.8" width="16.4" height="16.3" fill="#fef3ad"/><rect x="731.3" y="565.8" width="16.4" height="16.3" fill="#fde193"/><rect x="747.3" y="565.8" width="48.3" height="16.3" fill="#fef3ad"/><rect x="795.2" y="565.8" width="16.4" height="16.3" fill="#fdc779"/><rect x="811.2" y="565.8" width="46.3" height="16.3" fill="#fde193"/><rect x="637.5" y="581.8" width="30.4" height="16.4" fill="#fdc779"/><rect x="667.5" y="581.8" width="16.4" height="16.4" fill="#fde193"/><rect x="683.4" y="581.8" width="16.4" height="16.4" fill="#fdc779"/><rect x="699.4" y="581.8" width="64.3" height="16.4" fill="#fde193"/><rect x="763.3" y="581.8" width="16.4" height="16.4" fill="#fef3ad"/><rect x="779.2" y="581.8" width="48.3" height="16.4" fill="#fde193"/><rect x="827.1" y="581.8" width="30.4" height="16.4" fill="#fef3ad"/><rect x="637.5" y="597.7" width="46.3" height="16.3" fill="#e44a33"/><rect x="683.4" y="597.7" width="16.4" height="16.3" fill="#fdc779"/><rect x="699.4" y="597.7" width="32.3" height="16.3" fill="#fde193"/><rect x="731.3" y="597.7" width="16.4" height="16.3" fill="#fdc779"/><rect x="747.3" y="597.7" width="48.3" height="16.3" fill="#fde193"/><rect x="795.2" y="597.7" width="16.4" height="16.3" fill="#fdc779"/><rect x="811.2" y="597.7" width="46.3" height="16.3" fill="#fde193"/><rect x="637.5" y="613.6" width="46.3" height="30.4" fill="#fdb467"/><rect x="683.4" y="613.6" width="96.2" height="30.4" fill="#fde193"/><rect x="779.2" y="613.6" width="32.3" height="30.4" fill="#fdc779"/><rect x="811.2" y="613.6" width="46.3" height="30.4" fill="#fde193"/></g></g><g clip-path="url(#cpD)"><g filter="url(#blmid)"><rect x="117.2" y="708.0" width="30.4" height="30.4" fill="#2a80a4"/><rect x="147.2" y="708.0" width="32.3" height="30.4" fill="#226ea0"/><rect x="179.1" y="708.0" width="16.4" height="30.4" fill="#2a80a4"/><rect x="195.1" y="708.0" width="16.4" height="30.4" fill="#7bbab4"/><rect x="211.0" y="708.0" width="16.4" height="30.4" fill="#ebefe0"/><rect x="227.0" y="708.0" width="16.4" height="30.4" fill="#a6ccc6"/><rect x="243.0" y="708.0" width="16.4" height="30.4" fill="#52a8b0"/><rect x="258.9" y="708.0" width="16.4" height="30.4" fill="#3895a6"/><rect x="274.9" y="708.0" width="16.4" height="30.4" fill="#52a8b0"/><rect x="290.9" y="708.0" width="16.4" height="30.4" fill="#7bbab4"/><rect x="306.8" y="708.0" width="30.4" height="30.4" fill="#a6ccc6"/><rect x="117.2" y="738.0" width="30.4" height="16.3" fill="#2a80a4"/><rect x="147.2" y="738.0" width="32.3" height="16.3" fill="#226ea0"/><rect x="179.1" y="738.0" width="16.4" height="16.3" fill="#2a80a4"/><rect x="195.1" y="738.0" width="16.4" height="16.3" fill="#a6ccc6"/><rect x="211.0" y="738.0" width="16.4" height="16.3" fill="#d5c15c"/><rect x="227.0" y="738.0" width="16.4" height="16.3" fill="#6a9a15"/><rect x="243.0" y="738.0" width="16.4" height="16.3" fill="#a6ccc6"/><rect x="258.9" y="738.0" width="16.4" height="16.3" fill="#3895a6"/><rect x="274.9" y="738.0" width="32.3" height="16.3" fill="#52a8b0"/><rect x="306.8" y="738.0" width="30.4" height="16.3" fill="#7bbab4"/><rect x="117.2" y="753.9" width="30.4" height="16.4" fill="#2a80a4"/><rect x="147.2" y="753.9" width="32.3" height="16.4" fill="#226ea0"/><rect x="179.1" y="753.9" width="16.4" height="16.4" fill="#2a80a4"/><rect x="195.1" y="753.9" width="16.4" height="16.4" fill="#a6ccc6"/><rect x="211.0" y="753.9" width="16.4" height="16.4" fill="#3f8726"/><rect x="227.0" y="753.9" width="16.4" height="16.4" fill="#237a30"/><rect x="243.0" y="753.9" width="16.4" height="16.4" fill="#a6ccc6"/><rect x="258.9" y="753.9" width="16.4" height="16.4" fill="#52a8b0"/><rect x="274.9" y="753.9" width="16.4" height="16.4" fill="#3895a6"/><rect x="290.9" y="753.9" width="16.4" height="16.4" fill="#52a8b0"/><rect x="306.8" y="753.9" width="30.4" height="16.4" fill="#7bbab4"/><rect x="117.2" y="769.9" width="46.3" height="16.3" fill="#2a80a4"/><rect x="163.1" y="769.9" width="16.4" height="16.3" fill="#226ea0"/><rect x="179.1" y="769.9" width="16.4" height="16.3" fill="#2a80a4"/><rect x="195.1" y="769.9" width="16.4" height="16.3" fill="#52a8b0"/><rect x="211.0" y="769.9" width="16.4" height="16.3" fill="#8fa31a"/><rect x="227.0" y="769.9" width="16.4" height="16.3" fill="#3f8726"/><rect x="243.0" y="769.9" width="16.4" height="16.3" fill="#f8eeb9"/><rect x="258.9" y="769.9" width="16.4" height="16.3" fill="#52a8b0"/><rect x="274.9" y="769.9" width="16.4" height="16.3" fill="#3895a6"/><rect x="290.9" y="769.9" width="16.4" height="16.3" fill="#52a8b0"/><rect x="306.8" y="769.9" width="30.4" height="16.3" fill="#7bbab4"/><rect x="117.2" y="785.8" width="62.3" height="16.4" fill="#2a80a4"/><rect x="179.1" y="785.8" width="16.4" height="16.4" fill="#3895a6"/><rect x="195.1" y="785.8" width="16.4" height="16.4" fill="#f8eeb9"/><rect x="211.0" y="785.8" width="16.4" height="16.4" fill="#6a9a15"/><rect x="227.0" y="785.8" width="16.4" height="16.4" fill="#3f8726"/><rect x="243.0" y="785.8" width="16.4" height="16.4" fill="#d5c15c"/><rect x="258.9" y="785.8" width="16.4" height="16.4" fill="#7bbab4"/><rect x="274.9" y="785.8" width="32.3" height="16.4" fill="#52a8b0"/><rect x="306.8" y="785.8" width="30.4" height="16.4" fill="#7bbab4"/><rect x="117.2" y="801.8" width="46.3" height="16.4" fill="#3895a6"/><rect x="163.1" y="801.8" width="16.4" height="16.4" fill="#52a8b0"/><rect x="179.1" y="801.8" width="16.4" height="16.4" fill="#a6ccc6"/><rect x="195.1" y="801.8" width="16.4" height="16.4" fill="#e7d58c"/><rect x="211.0" y="801.8" width="16.4" height="16.4" fill="#6a9a15"/><rect x="227.0" y="801.8" width="16.4" height="16.4" fill="#3f8726"/><rect x="243.0" y="801.8" width="16.4" height="16.4" fill="#6a9a15"/><rect x="258.9" y="801.8" width="16.4" height="16.4" fill="#a6ccc6"/><rect x="274.9" y="801.8" width="62.3" height="16.4" fill="#7bbab4"/><rect x="117.2" y="817.7" width="30.4" height="16.3" fill="#7bbab4"/><rect x="147.2" y="817.7" width="16.4" height="16.3" fill="#c8dcd2"/><rect x="163.1" y="817.7" width="16.4" height="16.3" fill="#f8eeb9"/><rect x="179.1" y="817.7" width="16.4" height="16.3" fill="#e7d58c"/><rect x="195.1" y="817.7" width="16.4" height="16.3" fill="#d5c15c"/><rect x="211.0" y="817.7" width="16.4" height="16.3" fill="#6a9a15"/><rect x="227.0" y="817.7" width="16.4" height="16.3" fill="#3f8726"/><rect x="243.0" y="817.7" width="16.4" height="16.3" fill="#b8ae33"/><rect x="258.9" y="817.7" width="16.4" height="16.3" fill="#f8eeb9"/><rect x="274.9" y="817.7" width="62.3" height="16.3" fill="#7bbab4"/><rect x="117.2" y="833.6" width="30.4" height="16.4" fill="#a6ccc6"/><rect x="147.2" y="833.6" width="16.4" height="16.4" fill="#f8eeb9"/><rect x="163.1" y="833.6" width="32.3" height="16.4" fill="#e7d58c"/><rect x="195.1" y="833.6" width="16.4" height="16.4" fill="#b8ae33"/><rect x="211.0" y="833.6" width="16.4" height="16.4" fill="#174d33"/><rect x="227.0" y="833.6" width="16.4" height="16.4" fill="#237a30"/><rect x="243.0" y="833.6" width="16.4" height="16.4" fill="#f8eeb9"/><rect x="258.9" y="833.6" width="16.4" height="16.4" fill="#6a9a15"/><rect x="274.9" y="833.6" width="16.4" height="16.4" fill="#7bbab4"/><rect x="290.9" y="833.6" width="46.3" height="16.4" fill="#52a8b0"/><rect x="117.2" y="849.6" width="30.4" height="16.3" fill="#f8eeb9"/><rect x="147.2" y="849.6" width="16.4" height="16.3" fill="#e7d58c"/><rect x="163.1" y="849.6" width="32.3" height="16.3" fill="#d5c15c"/><rect x="195.1" y="849.6" width="16.4" height="16.3" fill="#6a9a15"/><rect x="211.0" y="849.6" width="16.4" height="16.3" fill="#1b3a26"/><rect x="227.0" y="849.6" width="16.4" height="16.3" fill="#3f8726"/><rect x="243.0" y="849.6" width="16.4" height="16.3" fill="#ebefe0"/><rect x="258.9" y="849.6" width="16.4" height="16.3" fill="#3f8726"/><rect x="274.9" y="849.6" width="16.4" height="16.3" fill="#7bbab4"/><rect x="290.9" y="849.6" width="46.3" height="16.3" fill="#3895a6"/><rect x="117.2" y="865.5" width="30.4" height="16.4" fill="#d5c15c"/><rect x="147.2" y="865.5" width="32.3" height="16.4" fill="#b8ae33"/><rect x="179.1" y="865.5" width="16.4" height="16.4" fill="#8fa31a"/><rect x="195.1" y="865.5" width="16.4" height="16.4" fill="#3f8726"/><rect x="211.0" y="865.5" width="16.4" height="16.4" fill="#1b3a26"/><rect x="227.0" y="865.5" width="16.4" height="16.4" fill="#6a9a15"/><rect x="243.0" y="865.5" width="16.4" height="16.4" fill="#c8dcd2"/><rect x="258.9" y="865.5" width="16.4" height="16.4" fill="#7bbab4"/><rect x="274.9" y="865.5" width="16.4" height="16.4" fill="#52a8b0"/><rect x="290.9" y="865.5" width="16.4" height="16.4" fill="#3895a6"/><rect x="306.8" y="865.5" width="30.4" height="16.4" fill="#2a80a4"/><rect x="117.2" y="881.5" width="30.4" height="16.4" fill="#6a9a15"/><rect x="147.2" y="881.5" width="16.4" height="16.4" fill="#8fa31a"/><rect x="163.1" y="881.5" width="32.3" height="16.4" fill="#b8ae33"/><rect x="195.1" y="881.5" width="16.4" height="16.4" fill="#8fa31a"/><rect x="211.0" y="881.5" width="16.4" height="16.4" fill="#d5c15c"/><rect x="227.0" y="881.5" width="16.4" height="16.4" fill="#ebefe0"/><rect x="243.0" y="881.5" width="16.4" height="16.4" fill="#f8eeb9"/><rect x="258.9" y="881.5" width="16.4" height="16.4" fill="#d5c15c"/><rect x="274.9" y="881.5" width="16.4" height="16.4" fill="#3895a6"/><rect x="290.9" y="881.5" width="46.3" height="16.4" fill="#2a80a4"/><rect x="117.2" y="897.5" width="46.3" height="16.3" fill="#b8ae33"/><rect x="163.1" y="897.5" width="32.3" height="16.3" fill="#8fa31a"/><rect x="195.1" y="897.5" width="16.4" height="16.3" fill="#b8ae33"/><rect x="211.0" y="897.5" width="16.4" height="16.3" fill="#8fa31a"/><rect x="227.0" y="897.5" width="16.4" height="16.3" fill="#237a30"/><rect x="243.0" y="897.5" width="16.4" height="16.3" fill="#1c2216"/><rect x="258.9" y="897.5" width="16.4" height="16.3" fill="#174d33"/><rect x="274.9" y="897.5" width="16.4" height="16.3" fill="#ebefe0"/><rect x="290.9" y="897.5" width="16.4" height="16.3" fill="#3895a6"/><rect x="306.8" y="897.5" width="30.4" height="16.3" fill="#2a80a4"/><rect x="117.2" y="913.4" width="30.4" height="16.4" fill="#d5c15c"/><rect x="147.2" y="913.4" width="16.4" height="16.4" fill="#b8ae33"/><rect x="163.1" y="913.4" width="16.4" height="16.4" fill="#8fa31a"/><rect x="179.1" y="913.4" width="16.4" height="16.4" fill="#6a9a15"/><rect x="195.1" y="913.4" width="16.4" height="16.4" fill="#116532"/><rect x="211.0" y="913.4" width="16.4" height="16.4" fill="#1b3a26"/><rect x="227.0" y="913.4" width="32.3" height="16.4" fill="#1c2216"/><rect x="258.9" y="913.4" width="16.4" height="16.4" fill="#1b3a26"/><rect x="274.9" y="913.4" width="16.4" height="16.4" fill="#f8eeb9"/><rect x="290.9" y="913.4" width="16.4" height="16.4" fill="#52a8b0"/><rect x="306.8" y="913.4" width="30.4" height="16.4" fill="#3895a6"/><rect x="117.2" y="929.4" width="30.4" height="16.4" fill="#b8ae33"/><rect x="147.2" y="929.4" width="16.4" height="16.4" fill="#8fa31a"/><rect x="163.1" y="929.4" width="16.4" height="16.4" fill="#6a9a15"/><rect x="179.1" y="929.4" width="16.4" height="16.4" fill="#237a30"/><rect x="195.1" y="929.4" width="16.4" height="16.4" fill="#1b3a26"/><rect x="211.0" y="929.4" width="16.4" height="16.4" fill="#1c2216"/><rect x="227.0" y="929.4" width="16.4" height="16.4" fill="#174d33"/><rect x="243.0" y="929.4" width="16.4" height="16.4" fill="#1c2216"/><rect x="258.9" y="929.4" width="16.4" height="16.4" fill="#237a30"/><rect x="274.9" y="929.4" width="16.4" height="16.4" fill="#7bbab4"/><rect x="290.9" y="929.4" width="16.4" height="16.4" fill="#3895a6"/><rect x="306.8" y="929.4" width="30.4" height="16.4" fill="#2a80a4"/><rect x="117.2" y="945.3" width="30.4" height="16.3" fill="#b8ae33"/><rect x="147.2" y="945.3" width="16.4" height="16.3" fill="#6a9a15"/><rect x="163.1" y="945.3" width="16.4" height="16.3" fill="#3f8726"/><rect x="179.1" y="945.3" width="16.4" height="16.3" fill="#116532"/><rect x="195.1" y="945.3" width="32.3" height="16.3" fill="#1c2216"/><rect x="227.0" y="945.3" width="16.4" height="16.3" fill="#e7d58c"/><rect x="243.0" y="945.3" width="16.4" height="16.3" fill="#1b3a26"/><rect x="258.9" y="945.3" width="16.4" height="16.3" fill="#f8eeb9"/><rect x="274.9" y="945.3" width="16.4" height="16.3" fill="#52a8b0"/><rect x="290.9" y="945.3" width="46.3" height="16.3" fill="#2a80a4"/><rect x="117.2" y="961.2" width="30.4" height="16.4" fill="#8fa31a"/><rect x="147.2" y="961.2" width="16.4" height="16.4" fill="#6a9a15"/><rect x="163.1" y="961.2" width="16.4" height="16.4" fill="#3f8726"/><rect x="179.1" y="961.2" width="16.4" height="16.4" fill="#174d33"/><rect x="195.1" y="961.2" width="32.3" height="16.4" fill="#1c2216"/><rect x="227.0" y="961.2" width="16.4" height="16.4" fill="#ebefe0"/><rect x="243.0" y="961.2" width="16.4" height="16.4" fill="#1c2216"/><rect x="258.9" y="961.2" width="16.4" height="16.4" fill="#237a30"/><rect x="274.9" y="961.2" width="16.4" height="16.4" fill="#7bbab4"/><rect x="290.9" y="961.2" width="46.3" height="16.4" fill="#2a80a4"/><rect x="117.2" y="977.2" width="30.4" height="16.4" fill="#8fa31a"/><rect x="147.2" y="977.2" width="16.4" height="16.4" fill="#6a9a15"/><rect x="163.1" y="977.2" width="16.4" height="16.4" fill="#237a30"/><rect x="179.1" y="977.2" width="16.4" height="16.4" fill="#174d33"/><rect x="195.1" y="977.2" width="16.4" height="16.4" fill="#1b3a26"/><rect x="211.0" y="977.2" width="16.4" height="16.4" fill="#1c2216"/><rect x="227.0" y="977.2" width="16.4" height="16.4" fill="#f8eeb9"/><rect x="243.0" y="977.2" width="16.4" height="16.4" fill="#174d33"/><rect x="258.9" y="977.2" width="16.4" height="16.4" fill="#6a9a15"/><rect x="274.9" y="977.2" width="16.4" height="16.4" fill="#52a8b0"/><rect x="290.9" y="977.2" width="46.3" height="16.4" fill="#2a80a4"/><rect x="117.2" y="993.2" width="30.4" height="16.3" fill="#6a9a15"/><rect x="147.2" y="993.2" width="16.4" height="16.3" fill="#237a30"/><rect x="163.1" y="993.2" width="16.4" height="16.3" fill="#1b3a26"/><rect x="179.1" y="993.2" width="48.3" height="16.3" fill="#1c2216"/><rect x="227.0" y="993.2" width="16.4" height="16.3" fill="#f8eeb9"/><rect x="243.0" y="993.2" width="16.4" height="16.3" fill="#1b3a26"/><rect x="258.9" y="993.2" width="16.4" height="16.3" fill="#f8eeb9"/><rect x="274.9" y="993.2" width="16.4" height="16.3" fill="#3895a6"/><rect x="290.9" y="993.2" width="46.3" height="16.3" fill="#2a80a4"/><rect x="117.2" y="1009.1" width="30.4" height="16.3" fill="#237a30"/><rect x="147.2" y="1009.1" width="16.4" height="16.3" fill="#1b3a26"/><rect x="163.1" y="1009.1" width="32.3" height="16.3" fill="#1c2216"/><rect x="195.1" y="1009.1" width="16.4" height="16.3" fill="#1b3a26"/><rect x="211.0" y="1009.1" width="16.4" height="16.3" fill="#1c2216"/><rect x="227.0" y="1009.1" width="16.4" height="16.3" fill="#e7d58c"/><rect x="243.0" y="1009.1" width="16.4" height="16.3" fill="#1b3a26"/><rect x="258.9" y="1009.1" width="16.4" height="16.3" fill="#a6ccc6"/><rect x="274.9" y="1009.1" width="16.4" height="16.3" fill="#3895a6"/><rect x="290.9" y="1009.1" width="16.4" height="16.3" fill="#2a80a4"/><rect x="306.8" y="1009.1" width="30.4" height="16.3" fill="#226ea0"/><rect x="117.2" y="1025.0" width="30.4" height="16.4" fill="#174d33"/><rect x="147.2" y="1025.0" width="16.4" height="16.4" fill="#1c2216"/><rect x="163.1" y="1025.0" width="16.4" height="16.4" fill="#174d33"/><rect x="179.1" y="1025.0" width="16.4" height="16.4" fill="#b8ae33"/><rect x="195.1" y="1025.0" width="16.4" height="16.4" fill="#e7d58c"/><rect x="211.0" y="1025.0" width="16.4" height="16.4" fill="#d5c15c"/><rect x="227.0" y="1025.0" width="16.4" height="16.4" fill="#3f8726"/><rect x="243.0" y="1025.0" width="16.4" height="16.4" fill="#8fa31a"/><rect x="258.9" y="1025.0" width="16.4" height="16.4" fill="#3895a6"/><rect x="274.9" y="1025.0" width="32.3" height="16.4" fill="#2a80a4"/><rect x="306.8" y="1025.0" width="30.4" height="16.4" fill="#226ea0"/><rect x="117.2" y="1041.0" width="46.3" height="16.4" fill="#1b3a26"/><rect x="163.1" y="1041.0" width="16.4" height="16.4" fill="#6a9a15"/><rect x="179.1" y="1041.0" width="16.4" height="16.4" fill="#e7d58c"/><rect x="195.1" y="1041.0" width="16.4" height="16.4" fill="#f8eeb9"/><rect x="211.0" y="1041.0" width="16.4" height="16.4" fill="#e7d58c"/><rect x="227.0" y="1041.0" width="16.4" height="16.4" fill="#174d33"/><rect x="243.0" y="1041.0" width="16.4" height="16.4" fill="#116532"/><rect x="258.9" y="1041.0" width="16.4" height="16.4" fill="#3895a6"/><rect x="274.9" y="1041.0" width="16.4" height="16.4" fill="#2a80a4"/><rect x="290.9" y="1041.0" width="46.3" height="16.4" fill="#226ea0"/><rect x="117.2" y="1057.0" width="30.4" height="16.4" fill="#174d33"/><rect x="147.2" y="1057.0" width="16.4" height="16.4" fill="#237a30"/><rect x="163.1" y="1057.0" width="16.4" height="16.4" fill="#d5c15c"/><rect x="179.1" y="1057.0" width="32.3" height="16.4" fill="#f8eeb9"/><rect x="211.0" y="1057.0" width="16.4" height="16.4" fill="#c8dcd2"/><rect x="227.0" y="1057.0" width="16.4" height="16.4" fill="#a6ccc6"/><rect x="243.0" y="1057.0" width="16.4" height="16.4" fill="#b8ae33"/><rect x="258.9" y="1057.0" width="16.4" height="16.4" fill="#3895a6"/><rect x="274.9" y="1057.0" width="16.4" height="16.4" fill="#2a80a4"/><rect x="290.9" y="1057.0" width="46.3" height="16.4" fill="#226ea0"/><rect x="117.2" y="1072.9" width="30.4" height="16.3" fill="#6a9a15"/><rect x="147.2" y="1072.9" width="16.4" height="16.3" fill="#e7d58c"/><rect x="163.1" y="1072.9" width="16.4" height="16.3" fill="#ebefe0"/><rect x="179.1" y="1072.9" width="16.4" height="16.3" fill="#c8dcd2"/><rect x="195.1" y="1072.9" width="16.4" height="16.3" fill="#a6ccc6"/><rect x="211.0" y="1072.9" width="16.4" height="16.3" fill="#7bbab4"/><rect x="227.0" y="1072.9" width="16.4" height="16.3" fill="#52a8b0"/><rect x="243.0" y="1072.9" width="16.4" height="16.3" fill="#8fa31a"/><rect x="258.9" y="1072.9" width="16.4" height="16.3" fill="#3895a6"/><rect x="274.9" y="1072.9" width="16.4" height="16.3" fill="#226ea0"/><rect x="290.9" y="1072.9" width="46.3" height="16.3" fill="#2052a0"/><rect x="117.2" y="1088.8" width="30.4" height="16.4" fill="#f8eeb9"/><rect x="147.2" y="1088.8" width="16.4" height="16.4" fill="#a6ccc6"/><rect x="163.1" y="1088.8" width="16.4" height="16.4" fill="#7bbab4"/><rect x="179.1" y="1088.8" width="32.3" height="16.4" fill="#52a8b0"/><rect x="211.0" y="1088.8" width="32.3" height="16.4" fill="#3895a6"/><rect x="243.0" y="1088.8" width="32.3" height="16.4" fill="#2a80a4"/><rect x="274.9" y="1088.8" width="16.4" height="16.4" fill="#226ea0"/><rect x="290.9" y="1088.8" width="46.3" height="16.4" fill="#2052a0"/><rect x="117.2" y="1104.8" width="30.4" height="16.4" fill="#7bbab4"/><rect x="147.2" y="1104.8" width="16.4" height="16.4" fill="#3895a6"/><rect x="163.1" y="1104.8" width="96.2" height="16.4" fill="#2a80a4"/><rect x="258.9" y="1104.8" width="16.4" height="16.4" fill="#226ea0"/><rect x="274.9" y="1104.8" width="32.3" height="16.4" fill="#2052a0"/><rect x="306.8" y="1104.8" width="30.4" height="16.4" fill="#2a3a8e"/><rect x="117.2" y="1120.8" width="62.3" height="16.4" fill="#3895a6"/><rect x="179.1" y="1120.8" width="64.3" height="16.4" fill="#2a80a4"/><rect x="243.0" y="1120.8" width="32.3" height="16.4" fill="#226ea0"/><rect x="274.9" y="1120.8" width="16.4" height="16.4" fill="#2052a0"/><rect x="290.9" y="1120.8" width="46.3" height="16.4" fill="#2a3a8e"/><rect x="117.2" y="1136.7" width="30.4" height="16.4" fill="#ebefe0"/><rect x="147.2" y="1136.7" width="16.4" height="16.4" fill="#d5c15c"/><rect x="163.1" y="1136.7" width="16.4" height="16.4" fill="#8fa31a"/><rect x="179.1" y="1136.7" width="16.4" height="16.4" fill="#174d33"/><rect x="195.1" y="1136.7" width="16.4" height="16.4" fill="#237a30"/><rect x="211.0" y="1136.7" width="16.4" height="16.4" fill="#1b3a26"/><rect x="227.0" y="1136.7" width="16.4" height="16.4" fill="#1c2216"/><rect x="243.0" y="1136.7" width="16.4" height="16.4" fill="#1b3a26"/><rect x="258.9" y="1136.7" width="16.4" height="16.4" fill="#2a80a4"/><rect x="274.9" y="1136.7" width="16.4" height="16.4" fill="#2052a0"/><rect x="290.9" y="1136.7" width="46.3" height="16.4" fill="#2a3a8e"/><rect x="117.2" y="1152.7" width="30.4" height="16.4" fill="#f8eeb9"/><rect x="147.2" y="1152.7" width="16.4" height="16.4" fill="#b8ae33"/><rect x="163.1" y="1152.7" width="16.4" height="16.4" fill="#3f8726"/><rect x="179.1" y="1152.7" width="16.4" height="16.4" fill="#6a9a15"/><rect x="195.1" y="1152.7" width="32.3" height="16.4" fill="#8fa31a"/><rect x="227.0" y="1152.7" width="16.4" height="16.4" fill="#b8ae33"/><rect x="243.0" y="1152.7" width="16.4" height="16.4" fill="#237a30"/><rect x="258.9" y="1152.7" width="16.4" height="16.4" fill="#2a80a4"/><rect x="274.9" y="1152.7" width="16.4" height="16.4" fill="#2052a0"/><rect x="290.9" y="1152.7" width="46.3" height="16.4" fill="#2a3a8e"/><rect x="117.2" y="1168.6" width="30.4" height="16.4" fill="#ebefe0"/><rect x="147.2" y="1168.6" width="16.4" height="16.4" fill="#d5c15c"/><rect x="163.1" y="1168.6" width="32.3" height="16.4" fill="#b8ae33"/><rect x="195.1" y="1168.6" width="16.4" height="16.4" fill="#d5c15c"/><rect x="211.0" y="1168.6" width="16.4" height="16.4" fill="#e7d58c"/><rect x="227.0" y="1168.6" width="16.4" height="16.4" fill="#d5c15c"/><rect x="243.0" y="1168.6" width="16.4" height="16.4" fill="#3f8726"/><rect x="258.9" y="1168.6" width="16.4" height="16.4" fill="#226ea0"/><rect x="274.9" y="1168.6" width="16.4" height="16.4" fill="#2052a0"/><rect x="290.9" y="1168.6" width="46.3" height="16.4" fill="#2a3a8e"/><rect x="117.2" y="1184.6" width="30.4" height="16.3" fill="#a6ccc6"/><rect x="147.2" y="1184.6" width="16.4" height="16.3" fill="#ebefe0"/><rect x="163.1" y="1184.6" width="32.3" height="16.3" fill="#f8eeb9"/><rect x="195.1" y="1184.6" width="16.4" height="16.3" fill="#ebefe0"/><rect x="211.0" y="1184.6" width="16.4" height="16.3" fill="#c8dcd2"/><rect x="227.0" y="1184.6" width="16.4" height="16.3" fill="#52a8b0"/><rect x="243.0" y="1184.6" width="16.4" height="16.3" fill="#2a80a4"/><rect x="258.9" y="1184.6" width="16.4" height="16.3" fill="#226ea0"/><rect x="274.9" y="1184.6" width="16.4" height="16.3" fill="#2052a0"/><rect x="290.9" y="1184.6" width="46.3" height="16.3" fill="#2a3a8e"/><rect x="117.2" y="1200.5" width="62.3" height="16.4" fill="#3895a6"/><rect x="179.1" y="1200.5" width="48.3" height="16.4" fill="#2a80a4"/><rect x="227.0" y="1200.5" width="16.4" height="16.4" fill="#226ea0"/><rect x="243.0" y="1200.5" width="32.3" height="16.4" fill="#2052a0"/><rect x="274.9" y="1200.5" width="62.3" height="16.4" fill="#2a3a8e"/><rect x="117.2" y="1216.5" width="94.2" height="16.4" fill="#3895a6"/><rect x="211.0" y="1216.5" width="16.4" height="16.4" fill="#2a80a4"/><rect x="227.0" y="1216.5" width="16.4" height="16.4" fill="#226ea0"/><rect x="243.0" y="1216.5" width="16.4" height="16.4" fill="#2052a0"/><rect x="258.9" y="1216.5" width="48.3" height="16.4" fill="#2a3a8e"/><rect x="306.8" y="1216.5" width="30.4" height="16.4" fill="#232b60"/><rect x="117.2" y="1232.4" width="62.3" height="16.3" fill="#2a80a4"/><rect x="179.1" y="1232.4" width="16.4" height="16.3" fill="#3895a6"/><rect x="195.1" y="1232.4" width="32.3" height="16.3" fill="#c8dcd2"/><rect x="227.0" y="1232.4" width="16.4" height="16.3" fill="#7bbab4"/><rect x="243.0" y="1232.4" width="94.2" height="16.3" fill="#232b60"/><rect x="117.2" y="1248.3" width="94.2" height="16.4" fill="#226ea0"/><rect x="211.0" y="1248.3" width="16.4" height="16.4" fill="#2052a0"/><rect x="227.0" y="1248.3" width="110.2" height="16.4" fill="#232b60"/><rect x="117.2" y="1264.3" width="110.2" height="16.3" fill="#232b60"/><rect x="227.0" y="1264.3" width="110.2" height="16.3" fill="#141e40"/><rect x="117.2" y="1280.2" width="220.0" height="30.4" fill="#141e40"/></g></g><g clip-path="url(#cpE)"><g filter="url(#blmid)"><rect x="378.7" y="704.5" width="30.4" height="30.4" fill="#3895a6"/><rect x="408.7" y="704.5" width="32.3" height="30.4" fill="#2a80a4"/><rect x="440.6" y="704.5" width="16.4" height="30.4" fill="#3895a6"/><rect x="456.6" y="704.5" width="16.4" height="30.4" fill="#c8dcd2"/><rect x="472.5" y="704.5" width="16.4" height="30.4" fill="#f8eeb9"/><rect x="488.5" y="704.5" width="16.4" height="30.4" fill="#e7d58c"/><rect x="504.5" y="704.5" width="16.4" height="30.4" fill="#f8eeb9"/><rect x="520.4" y="704.5" width="16.4" height="30.4" fill="#c8dcd2"/><rect x="536.4" y="704.5" width="62.3" height="30.4" fill="#a6ccc6"/><rect x="378.7" y="734.5" width="30.4" height="16.3" fill="#2a80a4"/><rect x="408.7" y="734.5" width="32.3" height="16.3" fill="#226ea0"/><rect x="440.6" y="734.5" width="16.4" height="16.3" fill="#3895a6"/><rect x="456.6" y="734.5" width="16.4" height="16.3" fill="#f8eeb9"/><rect x="472.5" y="734.5" width="16.4" height="16.3" fill="#116532"/><rect x="488.5" y="734.5" width="16.4" height="16.3" fill="#1b3a26"/><rect x="504.5" y="734.5" width="16.4" height="16.3" fill="#8fa31a"/><rect x="520.4" y="734.5" width="16.4" height="16.3" fill="#e7d58c"/><rect x="536.4" y="734.5" width="16.4" height="16.3" fill="#f8eeb9"/><rect x="552.4" y="734.5" width="16.4" height="16.3" fill="#c8dcd2"/><rect x="568.3" y="734.5" width="30.4" height="16.3" fill="#a6ccc6"/><rect x="378.7" y="750.4" width="46.3" height="16.4" fill="#2052a0"/><rect x="424.6" y="750.4" width="16.4" height="16.4" fill="#226ea0"/><rect x="440.6" y="750.4" width="16.4" height="16.4" fill="#3895a6"/><rect x="456.6" y="750.4" width="16.4" height="16.4" fill="#e7d58c"/><rect x="472.5" y="750.4" width="16.4" height="16.4" fill="#1b3a26"/><rect x="488.5" y="750.4" width="16.4" height="16.4" fill="#1c2216"/><rect x="504.5" y="750.4" width="16.4" height="16.4" fill="#d5c15c"/><rect x="520.4" y="750.4" width="32.3" height="16.4" fill="#e7d58c"/><rect x="552.4" y="750.4" width="16.4" height="16.4" fill="#f8eeb9"/><rect x="568.3" y="750.4" width="30.4" height="16.4" fill="#ebefe0"/><rect x="378.7" y="766.4" width="46.3" height="16.3" fill="#2a3a8e"/><rect x="424.6" y="766.4" width="16.4" height="16.3" fill="#2052a0"/><rect x="440.6" y="766.4" width="16.4" height="16.3" fill="#52a8b0"/><rect x="456.6" y="766.4" width="16.4" height="16.3" fill="#d5c15c"/><rect x="472.5" y="766.4" width="16.4" height="16.3" fill="#1b3a26"/><rect x="488.5" y="766.4" width="16.4" height="16.3" fill="#6a9a15"/><rect x="504.5" y="766.4" width="16.4" height="16.3" fill="#d5c15c"/><rect x="520.4" y="766.4" width="16.4" height="16.3" fill="#e7d58c"/><rect x="536.4" y="766.4" width="32.3" height="16.3" fill="#d5c15c"/><rect x="568.3" y="766.4" width="30.4" height="16.3" fill="#b8ae33"/><rect x="378.7" y="782.3" width="46.3" height="16.4" fill="#2a3a8e"/><rect x="424.6" y="782.3" width="16.4" height="16.4" fill="#2052a0"/><rect x="440.6" y="782.3" width="16.4" height="16.4" fill="#a6ccc6"/><rect x="456.6" y="782.3" width="16.4" height="16.4" fill="#b8ae33"/><rect x="472.5" y="782.3" width="32.3" height="16.4" fill="#174d33"/><rect x="504.5" y="782.3" width="16.4" height="16.4" fill="#b8ae33"/><rect x="520.4" y="782.3" width="16.4" height="16.4" fill="#e7d58c"/><rect x="536.4" y="782.3" width="16.4" height="16.4" fill="#f8eeb9"/><rect x="552.4" y="782.3" width="16.4" height="16.4" fill="#d5c15c"/><rect x="568.3" y="782.3" width="30.4" height="16.4" fill="#8fa31a"/><rect x="378.7" y="798.2" width="46.3" height="16.4" fill="#2a3a8e"/><rect x="424.6" y="798.2" width="16.4" height="16.4" fill="#226ea0"/><rect x="440.6" y="798.2" width="16.4" height="16.4" fill="#c8dcd2"/><rect x="456.6" y="798.2" width="16.4" height="16.4" fill="#e7d58c"/><rect x="472.5" y="798.2" width="16.4" height="16.4" fill="#237a30"/><rect x="488.5" y="798.2" width="16.4" height="16.4" fill="#174d33"/><rect x="504.5" y="798.2" width="16.4" height="16.4" fill="#6a9a15"/><rect x="520.4" y="798.2" width="16.4" height="16.4" fill="#e7d58c"/><rect x="536.4" y="798.2" width="62.3" height="16.4" fill="#f8eeb9"/><rect x="378.7" y="814.2" width="46.3" height="16.3" fill="#2052a0"/><rect x="424.6" y="814.2" width="16.4" height="16.3" fill="#3895a6"/><rect x="440.6" y="814.2" width="16.4" height="16.3" fill="#f8eeb9"/><rect x="456.6" y="814.2" width="16.4" height="16.3" fill="#e7d58c"/><rect x="472.5" y="814.2" width="16.4" height="16.3" fill="#116532"/><rect x="488.5" y="814.2" width="16.4" height="16.3" fill="#1b3a26"/><rect x="504.5" y="814.2" width="16.4" height="16.3" fill="#8fa31a"/><rect x="520.4" y="814.2" width="16.4" height="16.3" fill="#f8eeb9"/><rect x="536.4" y="814.2" width="16.4" height="16.3" fill="#ebefe0"/><rect x="552.4" y="814.2" width="46.3" height="16.3" fill="#c8dcd2"/><rect x="378.7" y="830.1" width="46.3" height="16.4" fill="#226ea0"/><rect x="424.6" y="830.1" width="16.4" height="16.4" fill="#7bbab4"/><rect x="440.6" y="830.1" width="16.4" height="16.4" fill="#f8eeb9"/><rect x="456.6" y="830.1" width="16.4" height="16.4" fill="#d5c15c"/><rect x="472.5" y="830.1" width="16.4" height="16.4" fill="#1b3a26"/><rect x="488.5" y="830.1" width="16.4" height="16.4" fill="#174d33"/><rect x="504.5" y="830.1" width="16.4" height="16.4" fill="#ebefe0"/><rect x="520.4" y="830.1" width="16.4" height="16.4" fill="#f8eeb9"/><rect x="536.4" y="830.1" width="16.4" height="16.4" fill="#c8dcd2"/><rect x="552.4" y="830.1" width="46.3" height="16.4" fill="#a6ccc6"/><rect x="378.7" y="846.1" width="30.4" height="16.3" fill="#2a80a4"/><rect x="408.7" y="846.1" width="16.4" height="16.3" fill="#3895a6"/><rect x="424.6" y="846.1" width="16.4" height="16.3" fill="#a6ccc6"/><rect x="440.6" y="846.1" width="16.4" height="16.3" fill="#ebefe0"/><rect x="456.6" y="846.1" width="16.4" height="16.3" fill="#b8ae33"/><rect x="472.5" y="846.1" width="16.4" height="16.3" fill="#1c2216"/><rect x="488.5" y="846.1" width="16.4" height="16.3" fill="#1b3a26"/><rect x="504.5" y="846.1" width="16.4" height="16.3" fill="#f8eeb9"/><rect x="520.4" y="846.1" width="16.4" height="16.3" fill="#6a9a15"/><rect x="536.4" y="846.1" width="16.4" height="16.3" fill="#ebefe0"/><rect x="552.4" y="846.1" width="46.3" height="16.3" fill="#c8dcd2"/><rect x="378.7" y="862.0" width="30.4" height="16.4" fill="#a6ccc6"/><rect x="408.7" y="862.0" width="32.3" height="16.4" fill="#c8dcd2"/><rect x="440.6" y="862.0" width="16.4" height="16.4" fill="#ebefe0"/><rect x="456.6" y="862.0" width="16.4" height="16.4" fill="#e7d58c"/><rect x="472.5" y="862.0" width="16.4" height="16.4" fill="#174d33"/><rect x="488.5" y="862.0" width="16.4" height="16.4" fill="#3f8726"/><rect x="504.5" y="862.0" width="16.4" height="16.4" fill="#3895a6"/><rect x="520.4" y="862.0" width="16.4" height="16.4" fill="#226ea0"/><rect x="536.4" y="862.0" width="16.4" height="16.4" fill="#3895a6"/><rect x="552.4" y="862.0" width="16.4" height="16.4" fill="#a6ccc6"/><rect x="568.3" y="862.0" width="30.4" height="16.4" fill="#ebefe0"/><rect x="378.7" y="878.0" width="62.3" height="16.4" fill="#c8dcd2"/><rect x="440.6" y="878.0" width="32.3" height="16.4" fill="#a6ccc6"/><rect x="472.5" y="878.0" width="16.4" height="16.4" fill="#c8dcd2"/><rect x="488.5" y="878.0" width="16.4" height="16.4" fill="#a6ccc6"/><rect x="504.5" y="878.0" width="32.3" height="16.4" fill="#2a80a4"/><rect x="536.4" y="878.0" width="16.4" height="16.4" fill="#3895a6"/><rect x="552.4" y="878.0" width="46.3" height="16.4" fill="#7bbab4"/><rect x="378.7" y="894.0" width="30.4" height="16.3" fill="#c8dcd2"/><rect x="408.7" y="894.0" width="32.3" height="16.3" fill="#a6ccc6"/><rect x="440.6" y="894.0" width="32.3" height="16.3" fill="#c8dcd2"/><rect x="472.5" y="894.0" width="16.4" height="16.3" fill="#ebefe0"/><rect x="488.5" y="894.0" width="16.4" height="16.3" fill="#f8eeb9"/><rect x="504.5" y="894.0" width="16.4" height="16.3" fill="#1b3a26"/><rect x="520.4" y="894.0" width="16.4" height="16.3" fill="#116532"/><rect x="536.4" y="894.0" width="16.4" height="16.3" fill="#d5c15c"/><rect x="552.4" y="894.0" width="16.4" height="16.3" fill="#f8eeb9"/><rect x="568.3" y="894.0" width="30.4" height="16.3" fill="#ebefe0"/><rect x="378.7" y="909.9" width="30.4" height="16.4" fill="#a6ccc6"/><rect x="408.7" y="909.9" width="16.4" height="16.4" fill="#c8dcd2"/><rect x="424.6" y="909.9" width="16.4" height="16.4" fill="#f8eeb9"/><rect x="440.6" y="909.9" width="16.4" height="16.4" fill="#e7d58c"/><rect x="456.6" y="909.9" width="16.4" height="16.4" fill="#6a9a15"/><rect x="472.5" y="909.9" width="16.4" height="16.4" fill="#3f8726"/><rect x="488.5" y="909.9" width="16.4" height="16.4" fill="#237a30"/><rect x="504.5" y="909.9" width="16.4" height="16.4" fill="#1c2216"/><rect x="520.4" y="909.9" width="16.4" height="16.4" fill="#1b3a26"/><rect x="536.4" y="909.9" width="16.4" height="16.4" fill="#8fa31a"/><rect x="552.4" y="909.9" width="46.3" height="16.4" fill="#e7d58c"/><rect x="378.7" y="925.9" width="30.4" height="16.4" fill="#c8dcd2"/><rect x="408.7" y="925.9" width="16.4" height="16.4" fill="#ebefe0"/><rect x="424.6" y="925.9" width="16.4" height="16.4" fill="#e7d58c"/><rect x="440.6" y="925.9" width="16.4" height="16.4" fill="#d5c15c"/><rect x="456.6" y="925.9" width="16.4" height="16.4" fill="#174d33"/><rect x="472.5" y="925.9" width="48.3" height="16.4" fill="#1c2216"/><rect x="520.4" y="925.9" width="16.4" height="16.4" fill="#3f8726"/><rect x="536.4" y="925.9" width="16.4" height="16.4" fill="#c8dcd2"/><rect x="552.4" y="925.9" width="16.4" height="16.4" fill="#f8eeb9"/><rect x="568.3" y="925.9" width="30.4" height="16.4" fill="#d5c15c"/><rect x="378.7" y="941.8" width="46.3" height="16.3" fill="#ebefe0"/><rect x="424.6" y="941.8" width="16.4" height="16.3" fill="#e7d58c"/><rect x="440.6" y="941.8" width="16.4" height="16.3" fill="#d5c15c"/><rect x="456.6" y="941.8" width="16.4" height="16.3" fill="#1b3a26"/><rect x="472.5" y="941.8" width="48.3" height="16.3" fill="#1c2216"/><rect x="520.4" y="941.8" width="16.4" height="16.3" fill="#f8eeb9"/><rect x="536.4" y="941.8" width="16.4" height="16.3" fill="#c8dcd2"/><rect x="552.4" y="941.8" width="16.4" height="16.3" fill="#ebefe0"/><rect x="568.3" y="941.8" width="30.4" height="16.3" fill="#f8eeb9"/><rect x="378.7" y="957.8" width="46.3" height="16.4" fill="#c8dcd2"/><rect x="424.6" y="957.8" width="16.4" height="16.4" fill="#e7d58c"/><rect x="440.6" y="957.8" width="16.4" height="16.4" fill="#d5c15c"/><rect x="456.6" y="957.8" width="16.4" height="16.4" fill="#1b3a26"/><rect x="472.5" y="957.8" width="16.4" height="16.4" fill="#1c2216"/><rect x="488.5" y="957.8" width="16.4" height="16.4" fill="#174d33"/><rect x="504.5" y="957.8" width="16.4" height="16.4" fill="#1c2216"/><rect x="520.4" y="957.8" width="16.4" height="16.4" fill="#3f8726"/><rect x="536.4" y="957.8" width="16.4" height="16.4" fill="#7bbab4"/><rect x="552.4" y="957.8" width="16.4" height="16.4" fill="#52a8b0"/><rect x="568.3" y="957.8" width="30.4" height="16.4" fill="#3895a6"/><rect x="378.7" y="973.7" width="46.3" height="16.4" fill="#c8dcd2"/><rect x="424.6" y="973.7" width="32.3" height="16.4" fill="#e7d58c"/><rect x="456.6" y="973.7" width="16.4" height="16.4" fill="#3f8726"/><rect x="472.5" y="973.7" width="16.4" height="16.4" fill="#1b3a26"/><rect x="488.5" y="973.7" width="16.4" height="16.4" fill="#e7d58c"/><rect x="504.5" y="973.7" width="16.4" height="16.4" fill="#1b3a26"/><rect x="520.4" y="973.7" width="16.4" height="16.4" fill="#6a9a15"/><rect x="536.4" y="973.7" width="16.4" height="16.4" fill="#52a8b0"/><rect x="552.4" y="973.7" width="46.3" height="16.4" fill="#3895a6"/><rect x="378.7" y="989.7" width="30.4" height="16.3" fill="#a6ccc6"/><rect x="408.7" y="989.7" width="16.4" height="16.3" fill="#c8dcd2"/><rect x="424.6" y="989.7" width="16.4" height="16.3" fill="#ebefe0"/><rect x="440.6" y="989.7" width="16.4" height="16.3" fill="#e7d58c"/><rect x="456.6" y="989.7" width="16.4" height="16.3" fill="#8fa31a"/><rect x="472.5" y="989.7" width="16.4" height="16.3" fill="#1b3a26"/><rect x="488.5" y="989.7" width="16.4" height="16.3" fill="#e7d58c"/><rect x="504.5" y="989.7" width="16.4" height="16.3" fill="#1b3a26"/><rect x="520.4" y="989.7" width="16.4" height="16.3" fill="#f8eeb9"/><rect x="536.4" y="989.7" width="16.4" height="16.3" fill="#52a8b0"/><rect x="552.4" y="989.7" width="46.3" height="16.3" fill="#3895a6"/><rect x="378.7" y="1005.6" width="30.4" height="16.3" fill="#a6ccc6"/><rect x="408.7" y="1005.6" width="32.3" height="16.3" fill="#c8dcd2"/><rect x="440.6" y="1005.6" width="16.4" height="16.3" fill="#ebefe0"/><rect x="456.6" y="1005.6" width="16.4" height="16.3" fill="#e7d58c"/><rect x="472.5" y="1005.6" width="16.4" height="16.3" fill="#1b3a26"/><rect x="488.5" y="1005.6" width="16.4" height="16.3" fill="#f8eeb9"/><rect x="504.5" y="1005.6" width="16.4" height="16.3" fill="#174d33"/><rect x="520.4" y="1005.6" width="16.4" height="16.3" fill="#a6ccc6"/><rect x="536.4" y="1005.6" width="62.3" height="16.3" fill="#3895a6"/><rect x="378.7" y="1021.5" width="62.3" height="16.4" fill="#a6ccc6"/><rect x="440.6" y="1021.5" width="16.4" height="16.4" fill="#c8dcd2"/><rect x="456.6" y="1021.5" width="16.4" height="16.4" fill="#e7d58c"/><rect x="472.5" y="1021.5" width="16.4" height="16.4" fill="#6a9a15"/><rect x="488.5" y="1021.5" width="16.4" height="16.4" fill="#ebefe0"/><rect x="504.5" y="1021.5" width="16.4" height="16.4" fill="#7bbab4"/><rect x="520.4" y="1021.5" width="16.4" height="16.4" fill="#3895a6"/><rect x="536.4" y="1021.5" width="32.3" height="16.4" fill="#2a80a4"/><rect x="568.3" y="1021.5" width="30.4" height="16.4" fill="#3895a6"/><rect x="378.7" y="1037.5" width="30.4" height="16.4" fill="#7bbab4"/><rect x="408.7" y="1037.5" width="32.3" height="16.4" fill="#a6ccc6"/><rect x="440.6" y="1037.5" width="16.4" height="16.4" fill="#c8dcd2"/><rect x="456.6" y="1037.5" width="16.4" height="16.4" fill="#e7d58c"/><rect x="472.5" y="1037.5" width="16.4" height="16.4" fill="#174d33"/><rect x="488.5" y="1037.5" width="16.4" height="16.4" fill="#3f8726"/><rect x="504.5" y="1037.5" width="16.4" height="16.4" fill="#c8dcd2"/><rect x="520.4" y="1037.5" width="16.4" height="16.4" fill="#2a80a4"/><rect x="536.4" y="1037.5" width="32.3" height="16.4" fill="#226ea0"/><rect x="568.3" y="1037.5" width="30.4" height="16.4" fill="#2a80a4"/><rect x="378.7" y="1053.5" width="30.4" height="16.4" fill="#7bbab4"/><rect x="408.7" y="1053.5" width="16.4" height="16.4" fill="#a6ccc6"/><rect x="424.6" y="1053.5" width="32.3" height="16.4" fill="#c8dcd2"/><rect x="456.6" y="1053.5" width="16.4" height="16.4" fill="#f8eeb9"/><rect x="472.5" y="1053.5" width="16.4" height="16.4" fill="#b8ae33"/><rect x="488.5" y="1053.5" width="32.3" height="16.4" fill="#f8eeb9"/><rect x="520.4" y="1053.5" width="16.4" height="16.4" fill="#3895a6"/><rect x="536.4" y="1053.5" width="32.3" height="16.4" fill="#2052a0"/><rect x="568.3" y="1053.5" width="30.4" height="16.4" fill="#226ea0"/><rect x="378.7" y="1069.4" width="30.4" height="16.3" fill="#7bbab4"/><rect x="408.7" y="1069.4" width="16.4" height="16.3" fill="#a6ccc6"/><rect x="424.6" y="1069.4" width="48.3" height="16.3" fill="#c8dcd2"/><rect x="472.5" y="1069.4" width="16.4" height="16.3" fill="#a6ccc6"/><rect x="488.5" y="1069.4" width="16.4" height="16.3" fill="#c8dcd2"/><rect x="504.5" y="1069.4" width="16.4" height="16.3" fill="#8fa31a"/><rect x="520.4" y="1069.4" width="16.4" height="16.3" fill="#52a8b0"/><rect x="536.4" y="1069.4" width="32.3" height="16.3" fill="#226ea0"/><rect x="568.3" y="1069.4" width="30.4" height="16.3" fill="#2a80a4"/><rect x="378.7" y="1085.3" width="30.4" height="16.4" fill="#52a8b0"/><rect x="408.7" y="1085.3" width="16.4" height="16.4" fill="#a6ccc6"/><rect x="424.6" y="1085.3" width="80.2" height="16.4" fill="#c8dcd2"/><rect x="504.5" y="1085.3" width="16.4" height="16.4" fill="#a6ccc6"/><rect x="520.4" y="1085.3" width="16.4" height="16.4" fill="#52a8b0"/><rect x="536.4" y="1085.3" width="62.3" height="16.4" fill="#3895a6"/><rect x="378.7" y="1101.3" width="30.4" height="16.4" fill="#3895a6"/><rect x="408.7" y="1101.3" width="16.4" height="16.4" fill="#52a8b0"/><rect x="424.6" y="1101.3" width="32.3" height="16.4" fill="#7bbab4"/><rect x="456.6" y="1101.3" width="16.4" height="16.4" fill="#c8dcd2"/><rect x="472.5" y="1101.3" width="16.4" height="16.4" fill="#ebefe0"/><rect x="488.5" y="1101.3" width="16.4" height="16.4" fill="#f8eeb9"/><rect x="504.5" y="1101.3" width="16.4" height="16.4" fill="#a6ccc6"/><rect x="520.4" y="1101.3" width="32.3" height="16.4" fill="#7bbab4"/><rect x="552.4" y="1101.3" width="16.4" height="16.4" fill="#a6ccc6"/><rect x="568.3" y="1101.3" width="30.4" height="16.4" fill="#c8dcd2"/><rect x="378.7" y="1117.2" width="30.4" height="16.4" fill="#2a80a4"/><rect x="408.7" y="1117.2" width="16.4" height="16.4" fill="#3895a6"/><rect x="424.6" y="1117.2" width="48.3" height="16.4" fill="#52a8b0"/><rect x="472.5" y="1117.2" width="16.4" height="16.4" fill="#7bbab4"/><rect x="488.5" y="1117.2" width="16.4" height="16.4" fill="#c8dcd2"/><rect x="504.5" y="1117.2" width="16.4" height="16.4" fill="#a6ccc6"/><rect x="520.4" y="1117.2" width="16.4" height="16.4" fill="#52a8b0"/><rect x="536.4" y="1117.2" width="16.4" height="16.4" fill="#3895a6"/><rect x="552.4" y="1117.2" width="16.4" height="16.4" fill="#7bbab4"/><rect x="568.3" y="1117.2" width="30.4" height="16.4" fill="#52a8b0"/><rect x="378.7" y="1133.2" width="46.3" height="16.4" fill="#2a80a4"/><rect x="424.6" y="1133.2" width="48.3" height="16.4" fill="#3895a6"/><rect x="472.5" y="1133.2" width="16.4" height="16.4" fill="#52a8b0"/><rect x="488.5" y="1133.2" width="16.4" height="16.4" fill="#237a30"/><rect x="504.5" y="1133.2" width="16.4" height="16.4" fill="#3f8726"/><rect x="520.4" y="1133.2" width="16.4" height="16.4" fill="#a6ccc6"/><rect x="536.4" y="1133.2" width="16.4" height="16.4" fill="#52a8b0"/><rect x="552.4" y="1133.2" width="46.3" height="16.4" fill="#3895a6"/><rect x="378.7" y="1149.2" width="46.3" height="16.4" fill="#2a80a4"/><rect x="424.6" y="1149.2" width="48.3" height="16.4" fill="#3895a6"/><rect x="472.5" y="1149.2" width="16.4" height="16.4" fill="#7bbab4"/><rect x="488.5" y="1149.2" width="16.4" height="16.4" fill="#116532"/><rect x="504.5" y="1149.2" width="16.4" height="16.4" fill="#3f8726"/><rect x="520.4" y="1149.2" width="16.4" height="16.4" fill="#c8dcd2"/><rect x="536.4" y="1149.2" width="16.4" height="16.4" fill="#52a8b0"/><rect x="552.4" y="1149.2" width="46.3" height="16.4" fill="#3895a6"/><rect x="378.7" y="1165.1" width="46.3" height="16.4" fill="#226ea0"/><rect x="424.6" y="1165.1" width="48.3" height="16.4" fill="#2a80a4"/><rect x="472.5" y="1165.1" width="16.4" height="16.4" fill="#52a8b0"/><rect x="488.5" y="1165.1" width="32.3" height="16.4" fill="#8fa31a"/><rect x="520.4" y="1165.1" width="16.4" height="16.4" fill="#a6ccc6"/><rect x="536.4" y="1165.1" width="16.4" height="16.4" fill="#52a8b0"/><rect x="552.4" y="1165.1" width="16.4" height="16.4" fill="#3895a6"/><rect x="568.3" y="1165.1" width="30.4" height="16.4" fill="#2a80a4"/><rect x="378.7" y="1181.1" width="46.3" height="16.3" fill="#2052a0"/><rect x="424.6" y="1181.1" width="48.3" height="16.3" fill="#226ea0"/><rect x="472.5" y="1181.1" width="16.4" height="16.3" fill="#2a80a4"/><rect x="488.5" y="1181.1" width="16.4" height="16.3" fill="#7bbab4"/><rect x="504.5" y="1181.1" width="16.4" height="16.3" fill="#ebefe0"/><rect x="520.4" y="1181.1" width="16.4" height="16.3" fill="#52a8b0"/><rect x="536.4" y="1181.1" width="16.4" height="16.3" fill="#3895a6"/><rect x="552.4" y="1181.1" width="46.3" height="16.3" fill="#2a80a4"/><rect x="378.7" y="1197.0" width="62.3" height="16.4" fill="#2052a0"/><rect x="440.6" y="1197.0" width="32.3" height="16.4" fill="#226ea0"/><rect x="472.5" y="1197.0" width="32.3" height="16.4" fill="#2a80a4"/><rect x="504.5" y="1197.0" width="48.3" height="16.4" fill="#3895a6"/><rect x="552.4" y="1197.0" width="46.3" height="16.4" fill="#2a80a4"/><rect x="378.7" y="1213.0" width="62.3" height="16.4" fill="#2052a0"/><rect x="440.6" y="1213.0" width="48.3" height="16.4" fill="#226ea0"/><rect x="488.5" y="1213.0" width="16.4" height="16.4" fill="#2a80a4"/><rect x="504.5" y="1213.0" width="48.3" height="16.4" fill="#52a8b0"/><rect x="552.4" y="1213.0" width="46.3" height="16.4" fill="#2a80a4"/><rect x="378.7" y="1228.9" width="46.3" height="16.3" fill="#2a3a8e"/><rect x="424.6" y="1228.9" width="64.3" height="16.3" fill="#2052a0"/><rect x="488.5" y="1228.9" width="16.4" height="16.3" fill="#2a80a4"/><rect x="504.5" y="1228.9" width="32.3" height="16.3" fill="#7bbab4"/><rect x="536.4" y="1228.9" width="16.4" height="16.3" fill="#3895a6"/><rect x="552.4" y="1228.9" width="16.4" height="16.3" fill="#2a80a4"/><rect x="568.3" y="1228.9" width="30.4" height="16.3" fill="#226ea0"/><rect x="378.7" y="1244.8" width="46.3" height="16.4" fill="#232b60"/><rect x="424.6" y="1244.8" width="48.3" height="16.4" fill="#2a3a8e"/><rect x="472.5" y="1244.8" width="32.3" height="16.4" fill="#2052a0"/><rect x="504.5" y="1244.8" width="16.4" height="16.4" fill="#226ea0"/><rect x="520.4" y="1244.8" width="32.3" height="16.4" fill="#2a80a4"/><rect x="552.4" y="1244.8" width="46.3" height="16.4" fill="#226ea0"/><rect x="378.7" y="1260.8" width="46.3" height="16.3" fill="#141e40"/><rect x="424.6" y="1260.8" width="16.4" height="16.3" fill="#232b60"/><rect x="440.6" y="1260.8" width="16.4" height="16.3" fill="#2a3a8e"/><rect x="456.6" y="1260.8" width="16.4" height="16.3" fill="#232b60"/><rect x="472.5" y="1260.8" width="32.3" height="16.3" fill="#2a3a8e"/><rect x="504.5" y="1260.8" width="94.2" height="16.3" fill="#2052a0"/><rect x="378.7" y="1276.8" width="46.3" height="30.4" fill="#232b60"/><rect x="424.6" y="1276.8" width="32.3" height="30.4" fill="#2a3a8e"/><rect x="456.6" y="1276.8" width="32.3" height="30.4" fill="#232b60"/><rect x="488.5" y="1276.8" width="110.2" height="30.4" fill="#2a3a8e"/></g></g><g clip-path="url(#cpF)"><g filter="url(#blmid)"><rect x="633.3" y="703.7" width="30.4" height="30.4" fill="#ebefe0"/><rect x="663.3" y="703.7" width="16.4" height="30.4" fill="#f8eeb9"/><rect x="679.2" y="703.7" width="16.4" height="30.4" fill="#d5c15c"/><rect x="695.2" y="703.7" width="16.4" height="30.4" fill="#237a30"/><rect x="711.2" y="703.7" width="16.4" height="30.4" fill="#116532"/><rect x="727.1" y="703.7" width="16.4" height="30.4" fill="#237a30"/><rect x="743.1" y="703.7" width="16.4" height="30.4" fill="#116532"/><rect x="759.1" y="703.7" width="16.4" height="30.4" fill="#e7d58c"/><rect x="775.0" y="703.7" width="32.3" height="30.4" fill="#c8dcd2"/><rect x="807.0" y="703.7" width="16.4" height="30.4" fill="#ebefe0"/><rect x="822.9" y="703.7" width="30.4" height="30.4" fill="#e7d58c"/><rect x="633.3" y="733.7" width="30.4" height="16.3" fill="#ebefe0"/><rect x="663.3" y="733.7" width="16.4" height="16.3" fill="#f8eeb9"/><rect x="679.2" y="733.7" width="16.4" height="16.3" fill="#e7d58c"/><rect x="695.2" y="733.7" width="32.3" height="16.3" fill="#116532"/><rect x="727.1" y="733.7" width="16.4" height="16.3" fill="#1b3a26"/><rect x="743.1" y="733.7" width="16.4" height="16.3" fill="#174d33"/><rect x="759.1" y="733.7" width="16.4" height="16.3" fill="#b8ae33"/><rect x="775.0" y="733.7" width="16.4" height="16.3" fill="#c8dcd2"/><rect x="791.0" y="733.7" width="16.4" height="16.3" fill="#a6ccc6"/><rect x="807.0" y="733.7" width="16.4" height="16.3" fill="#f8eeb9"/><rect x="822.9" y="733.7" width="30.4" height="16.3" fill="#d5c15c"/><rect x="633.3" y="749.6" width="30.4" height="16.4" fill="#c8dcd2"/><rect x="663.3" y="749.6" width="16.4" height="16.4" fill="#a6ccc6"/><rect x="679.2" y="749.6" width="16.4" height="16.4" fill="#ebefe0"/><rect x="695.2" y="749.6" width="16.4" height="16.4" fill="#6a9a15"/><rect x="711.2" y="749.6" width="16.4" height="16.4" fill="#174d33"/><rect x="727.1" y="749.6" width="16.4" height="16.4" fill="#1b3a26"/><rect x="743.1" y="749.6" width="16.4" height="16.4" fill="#174d33"/><rect x="759.1" y="749.6" width="16.4" height="16.4" fill="#3f8726"/><rect x="775.0" y="749.6" width="16.4" height="16.4" fill="#f8eeb9"/><rect x="791.0" y="749.6" width="16.4" height="16.4" fill="#c8dcd2"/><rect x="807.0" y="749.6" width="16.4" height="16.4" fill="#e7d58c"/><rect x="822.9" y="749.6" width="30.4" height="16.4" fill="#8fa31a"/><rect x="633.3" y="765.6" width="30.4" height="16.3" fill="#a6ccc6"/><rect x="663.3" y="765.6" width="32.3" height="16.3" fill="#52a8b0"/><rect x="695.2" y="765.6" width="16.4" height="16.3" fill="#c8dcd2"/><rect x="711.2" y="765.6" width="16.4" height="16.3" fill="#237a30"/><rect x="727.1" y="765.6" width="16.4" height="16.3" fill="#1b3a26"/><rect x="743.1" y="765.6" width="32.3" height="16.3" fill="#116532"/><rect x="775.0" y="765.6" width="16.4" height="16.3" fill="#6a9a15"/><rect x="791.0" y="765.6" width="16.4" height="16.3" fill="#f8eeb9"/><rect x="807.0" y="765.6" width="16.4" height="16.3" fill="#d5c15c"/><rect x="822.9" y="765.6" width="30.4" height="16.3" fill="#116532"/><rect x="633.3" y="781.5" width="30.4" height="16.4" fill="#a6ccc6"/><rect x="663.3" y="781.5" width="32.3" height="16.4" fill="#52a8b0"/><rect x="695.2" y="781.5" width="16.4" height="16.4" fill="#7bbab4"/><rect x="711.2" y="781.5" width="16.4" height="16.4" fill="#ebefe0"/><rect x="727.1" y="781.5" width="16.4" height="16.4" fill="#174d33"/><rect x="743.1" y="781.5" width="32.3" height="16.4" fill="#1c2216"/><rect x="775.0" y="781.5" width="16.4" height="16.4" fill="#237a30"/><rect x="791.0" y="781.5" width="16.4" height="16.4" fill="#e7d58c"/><rect x="807.0" y="781.5" width="16.4" height="16.4" fill="#a6ccc6"/><rect x="822.9" y="781.5" width="30.4" height="16.4" fill="#f8eeb9"/><rect x="633.3" y="797.5" width="30.4" height="16.4" fill="#52a8b0"/><rect x="663.3" y="797.5" width="16.4" height="16.4" fill="#3895a6"/><rect x="679.2" y="797.5" width="16.4" height="16.4" fill="#52a8b0"/><rect x="695.2" y="797.5" width="16.4" height="16.4" fill="#a6ccc6"/><rect x="711.2" y="797.5" width="16.4" height="16.4" fill="#c8dcd2"/><rect x="727.1" y="797.5" width="16.4" height="16.4" fill="#174d33"/><rect x="743.1" y="797.5" width="32.3" height="16.4" fill="#1c2216"/><rect x="775.0" y="797.5" width="16.4" height="16.4" fill="#174d33"/><rect x="791.0" y="797.5" width="16.4" height="16.4" fill="#b8ae33"/><rect x="807.0" y="797.5" width="16.4" height="16.4" fill="#d5c15c"/><rect x="822.9" y="797.5" width="30.4" height="16.4" fill="#6a9a15"/><rect x="633.3" y="813.4" width="46.3" height="16.3" fill="#2a80a4"/><rect x="679.2" y="813.4" width="16.4" height="16.3" fill="#7bbab4"/><rect x="695.2" y="813.4" width="32.3" height="16.3" fill="#c8dcd2"/><rect x="727.1" y="813.4" width="16.4" height="16.3" fill="#116532"/><rect x="743.1" y="813.4" width="32.3" height="16.3" fill="#1c2216"/><rect x="775.0" y="813.4" width="16.4" height="16.3" fill="#1b3a26"/><rect x="791.0" y="813.4" width="32.3" height="16.3" fill="#237a30"/><rect x="822.9" y="813.4" width="30.4" height="16.3" fill="#3f8726"/><rect x="633.3" y="829.4" width="30.4" height="16.4" fill="#226ea0"/><rect x="663.3" y="829.4" width="16.4" height="16.4" fill="#2052a0"/><rect x="679.2" y="829.4" width="16.4" height="16.4" fill="#c8dcd2"/><rect x="695.2" y="829.4" width="16.4" height="16.4" fill="#ebefe0"/><rect x="711.2" y="829.4" width="16.4" height="16.4" fill="#f8eeb9"/><rect x="727.1" y="829.4" width="64.3" height="16.4" fill="#1c2216"/><rect x="791.0" y="829.4" width="16.4" height="16.4" fill="#116532"/><rect x="807.0" y="829.4" width="16.4" height="16.4" fill="#d5c15c"/><rect x="822.9" y="829.4" width="30.4" height="16.4" fill="#e7d58c"/><rect x="633.3" y="845.3" width="30.4" height="16.3" fill="#226ea0"/><rect x="663.3" y="845.3" width="16.4" height="16.3" fill="#2a80a4"/><rect x="679.2" y="845.3" width="16.4" height="16.3" fill="#a6ccc6"/><rect x="695.2" y="845.3" width="16.4" height="16.3" fill="#52a8b0"/><rect x="711.2" y="845.3" width="16.4" height="16.3" fill="#d5c15c"/><rect x="727.1" y="845.3" width="64.3" height="16.3" fill="#1c2216"/><rect x="791.0" y="845.3" width="16.4" height="16.3" fill="#1b3a26"/><rect x="807.0" y="845.3" width="16.4" height="16.3" fill="#ebefe0"/><rect x="822.9" y="845.3" width="30.4" height="16.3" fill="#c8dcd2"/><rect x="633.3" y="861.2" width="30.4" height="16.4" fill="#3895a6"/><rect x="663.3" y="861.2" width="16.4" height="16.4" fill="#7bbab4"/><rect x="679.2" y="861.2" width="32.3" height="16.4" fill="#c8dcd2"/><rect x="711.2" y="861.2" width="16.4" height="16.4" fill="#8fa31a"/><rect x="727.1" y="861.2" width="64.3" height="16.4" fill="#1c2216"/><rect x="791.0" y="861.2" width="16.4" height="16.4" fill="#1b3a26"/><rect x="807.0" y="861.2" width="16.4" height="16.4" fill="#8fa31a"/><rect x="822.9" y="861.2" width="30.4" height="16.4" fill="#e7d58c"/><rect x="633.3" y="877.2" width="30.4" height="16.4" fill="#52a8b0"/><rect x="663.3" y="877.2" width="16.4" height="16.4" fill="#a6ccc6"/><rect x="679.2" y="877.2" width="16.4" height="16.4" fill="#c8dcd2"/><rect x="695.2" y="877.2" width="16.4" height="16.4" fill="#ebefe0"/><rect x="711.2" y="877.2" width="16.4" height="16.4" fill="#e7d58c"/><rect x="727.1" y="877.2" width="16.4" height="16.4" fill="#237a30"/><rect x="743.1" y="877.2" width="16.4" height="16.4" fill="#1b3a26"/><rect x="759.1" y="877.2" width="32.3" height="16.4" fill="#1c2216"/><rect x="791.0" y="877.2" width="16.4" height="16.4" fill="#116532"/><rect x="807.0" y="877.2" width="16.4" height="16.4" fill="#3f8726"/><rect x="822.9" y="877.2" width="30.4" height="16.4" fill="#6a9a15"/><rect x="633.3" y="893.2" width="30.4" height="16.3" fill="#7bbab4"/><rect x="663.3" y="893.2" width="16.4" height="16.3" fill="#a6ccc6"/><rect x="679.2" y="893.2" width="16.4" height="16.3" fill="#c8dcd2"/><rect x="695.2" y="893.2" width="16.4" height="16.3" fill="#ebefe0"/><rect x="711.2" y="893.2" width="16.4" height="16.3" fill="#f8eeb9"/><rect x="727.1" y="893.2" width="16.4" height="16.3" fill="#d5c15c"/><rect x="743.1" y="893.2" width="16.4" height="16.3" fill="#8fa31a"/><rect x="759.1" y="893.2" width="32.3" height="16.3" fill="#1b3a26"/><rect x="791.0" y="893.2" width="16.4" height="16.3" fill="#237a30"/><rect x="807.0" y="893.2" width="16.4" height="16.3" fill="#6a9a15"/><rect x="822.9" y="893.2" width="30.4" height="16.3" fill="#3f8726"/><rect x="633.3" y="909.1" width="30.4" height="16.4" fill="#52a8b0"/><rect x="663.3" y="909.1" width="32.3" height="16.4" fill="#7bbab4"/><rect x="695.2" y="909.1" width="16.4" height="16.4" fill="#a6ccc6"/><rect x="711.2" y="909.1" width="32.3" height="16.4" fill="#d5c15c"/><rect x="743.1" y="909.1" width="16.4" height="16.4" fill="#e7d58c"/><rect x="759.1" y="909.1" width="32.3" height="16.4" fill="#1c2216"/><rect x="791.0" y="909.1" width="16.4" height="16.4" fill="#237a30"/><rect x="807.0" y="909.1" width="16.4" height="16.4" fill="#8fa31a"/><rect x="822.9" y="909.1" width="30.4" height="16.4" fill="#6a9a15"/><rect x="633.3" y="925.1" width="46.3" height="16.4" fill="#3895a6"/><rect x="679.2" y="925.1" width="16.4" height="16.4" fill="#52a8b0"/><rect x="695.2" y="925.1" width="16.4" height="16.4" fill="#7bbab4"/><rect x="711.2" y="925.1" width="16.4" height="16.4" fill="#6a9a15"/><rect x="727.1" y="925.1" width="32.3" height="16.4" fill="#237a30"/><rect x="759.1" y="925.1" width="32.3" height="16.4" fill="#1c2216"/><rect x="791.0" y="925.1" width="16.4" height="16.4" fill="#174d33"/><rect x="807.0" y="925.1" width="16.4" height="16.4" fill="#3f8726"/><rect x="822.9" y="925.1" width="30.4" height="16.4" fill="#b8ae33"/><rect x="633.3" y="941.0" width="46.3" height="16.3" fill="#2a80a4"/><rect x="679.2" y="941.0" width="16.4" height="16.3" fill="#3895a6"/><rect x="695.2" y="941.0" width="16.4" height="16.3" fill="#52a8b0"/><rect x="711.2" y="941.0" width="16.4" height="16.3" fill="#3f8726"/><rect x="727.1" y="941.0" width="16.4" height="16.3" fill="#237a30"/><rect x="743.1" y="941.0" width="16.4" height="16.3" fill="#116532"/><rect x="759.1" y="941.0" width="16.4" height="16.3" fill="#1b3a26"/><rect x="775.0" y="941.0" width="32.3" height="16.3" fill="#1c2216"/><rect x="807.0" y="941.0" width="16.4" height="16.3" fill="#116532"/><rect x="822.9" y="941.0" width="30.4" height="16.3" fill="#8fa31a"/><rect x="633.3" y="957.0" width="62.3" height="16.4" fill="#2a80a4"/><rect x="695.2" y="957.0" width="16.4" height="16.4" fill="#3895a6"/><rect x="711.2" y="957.0" width="16.4" height="16.4" fill="#b8ae33"/><rect x="727.1" y="957.0" width="32.3" height="16.4" fill="#6a9a15"/><rect x="759.1" y="957.0" width="48.3" height="16.4" fill="#1c2216"/><rect x="807.0" y="957.0" width="16.4" height="16.4" fill="#1b3a26"/><rect x="822.9" y="957.0" width="30.4" height="16.4" fill="#8fa31a"/><rect x="633.3" y="972.9" width="62.3" height="16.4" fill="#2a80a4"/><rect x="695.2" y="972.9" width="16.4" height="16.4" fill="#3895a6"/><rect x="711.2" y="972.9" width="16.4" height="16.4" fill="#ebefe0"/><rect x="727.1" y="972.9" width="32.3" height="16.4" fill="#b8ae33"/><rect x="759.1" y="972.9" width="48.3" height="16.4" fill="#1c2216"/><rect x="807.0" y="972.9" width="16.4" height="16.4" fill="#237a30"/><rect x="822.9" y="972.9" width="30.4" height="16.4" fill="#b8ae33"/><rect x="633.3" y="988.9" width="62.3" height="16.3" fill="#2a80a4"/><rect x="695.2" y="988.9" width="16.4" height="16.3" fill="#3895a6"/><rect x="711.2" y="988.9" width="16.4" height="16.3" fill="#a6ccc6"/><rect x="727.1" y="988.9" width="16.4" height="16.3" fill="#6a9a15"/><rect x="743.1" y="988.9" width="16.4" height="16.3" fill="#8fa31a"/><rect x="759.1" y="988.9" width="16.4" height="16.3" fill="#1b3a26"/><rect x="775.0" y="988.9" width="16.4" height="16.3" fill="#1c2216"/><rect x="791.0" y="988.9" width="16.4" height="16.3" fill="#174d33"/><rect x="807.0" y="988.9" width="16.4" height="16.3" fill="#8fa31a"/><rect x="822.9" y="988.9" width="30.4" height="16.3" fill="#d5c15c"/><rect x="633.3" y="1004.8" width="62.3" height="16.3" fill="#2a80a4"/><rect x="695.2" y="1004.8" width="16.4" height="16.3" fill="#3895a6"/><rect x="711.2" y="1004.8" width="16.4" height="16.3" fill="#7bbab4"/><rect x="727.1" y="1004.8" width="16.4" height="16.3" fill="#6a9a15"/><rect x="743.1" y="1004.8" width="16.4" height="16.3" fill="#8fa31a"/><rect x="759.1" y="1004.8" width="32.3" height="16.3" fill="#3f8726"/><rect x="791.0" y="1004.8" width="16.4" height="16.3" fill="#b8ae33"/><rect x="807.0" y="1004.8" width="16.4" height="16.3" fill="#8fa31a"/><rect x="822.9" y="1004.8" width="30.4" height="16.3" fill="#b8ae33"/><rect x="633.3" y="1020.8" width="62.3" height="16.4" fill="#2a80a4"/><rect x="695.2" y="1020.8" width="16.4" height="16.4" fill="#3895a6"/><rect x="711.2" y="1020.8" width="16.4" height="16.4" fill="#ebefe0"/><rect x="727.1" y="1020.8" width="16.4" height="16.4" fill="#d5c15c"/><rect x="743.1" y="1020.8" width="16.4" height="16.4" fill="#e7d58c"/><rect x="759.1" y="1020.8" width="16.4" height="16.4" fill="#f8eeb9"/><rect x="775.0" y="1020.8" width="16.4" height="16.4" fill="#e7d58c"/><rect x="791.0" y="1020.8" width="32.3" height="16.4" fill="#b8ae33"/><rect x="822.9" y="1020.8" width="30.4" height="16.4" fill="#e7d58c"/><rect x="633.3" y="1036.7" width="30.4" height="16.4" fill="#226ea0"/><rect x="663.3" y="1036.7" width="16.4" height="16.4" fill="#2052a0"/><rect x="679.2" y="1036.7" width="16.4" height="16.4" fill="#226ea0"/><rect x="695.2" y="1036.7" width="16.4" height="16.4" fill="#2a80a4"/><rect x="711.2" y="1036.7" width="16.4" height="16.4" fill="#f8eeb9"/><rect x="727.1" y="1036.7" width="16.4" height="16.4" fill="#6a9a15"/><rect x="743.1" y="1036.7" width="16.4" height="16.4" fill="#b8ae33"/><rect x="759.1" y="1036.7" width="16.4" height="16.4" fill="#ebefe0"/><rect x="775.0" y="1036.7" width="16.4" height="16.4" fill="#c8dcd2"/><rect x="791.0" y="1036.7" width="16.4" height="16.4" fill="#f8eeb9"/><rect x="807.0" y="1036.7" width="16.4" height="16.4" fill="#e7d58c"/><rect x="822.9" y="1036.7" width="30.4" height="16.4" fill="#f8eeb9"/><rect x="633.3" y="1052.7" width="46.3" height="16.4" fill="#2a3a8e"/><rect x="679.2" y="1052.7" width="16.4" height="16.4" fill="#2052a0"/><rect x="695.2" y="1052.7" width="16.4" height="16.4" fill="#226ea0"/><rect x="711.2" y="1052.7" width="16.4" height="16.4" fill="#7bbab4"/><rect x="727.1" y="1052.7" width="16.4" height="16.4" fill="#f8eeb9"/><rect x="743.1" y="1052.7" width="16.4" height="16.4" fill="#d5c15c"/><rect x="759.1" y="1052.7" width="16.4" height="16.4" fill="#6a9a15"/><rect x="775.0" y="1052.7" width="16.4" height="16.4" fill="#f8eeb9"/><rect x="791.0" y="1052.7" width="62.3" height="16.4" fill="#ebefe0"/><rect x="633.3" y="1068.6" width="62.3" height="16.4" fill="#2052a0"/><rect x="695.2" y="1068.6" width="16.4" height="16.4" fill="#226ea0"/><rect x="711.2" y="1068.6" width="16.4" height="16.4" fill="#2a80a4"/><rect x="727.1" y="1068.6" width="16.4" height="16.4" fill="#52a8b0"/><rect x="743.1" y="1068.6" width="16.4" height="16.4" fill="#e7d58c"/><rect x="759.1" y="1068.6" width="16.4" height="16.4" fill="#8fa31a"/><rect x="775.0" y="1068.6" width="16.4" height="16.4" fill="#e7d58c"/><rect x="791.0" y="1068.6" width="16.4" height="16.4" fill="#ebefe0"/><rect x="807.0" y="1068.6" width="16.4" height="16.4" fill="#c8dcd2"/><rect x="822.9" y="1068.6" width="30.4" height="16.4" fill="#a6ccc6"/><rect x="633.3" y="1084.6" width="62.3" height="16.3" fill="#2052a0"/><rect x="695.2" y="1084.6" width="32.3" height="16.3" fill="#226ea0"/><rect x="727.1" y="1084.6" width="16.4" height="16.3" fill="#3895a6"/><rect x="743.1" y="1084.6" width="16.4" height="16.3" fill="#a6ccc6"/><rect x="759.1" y="1084.6" width="16.4" height="16.3" fill="#c8dcd2"/><rect x="775.0" y="1084.6" width="16.4" height="16.3" fill="#7bbab4"/><rect x="791.0" y="1084.6" width="16.4" height="16.3" fill="#52a8b0"/><rect x="807.0" y="1084.6" width="46.3" height="16.3" fill="#2a80a4"/><rect x="633.3" y="1100.5" width="62.3" height="16.4" fill="#2052a0"/><rect x="695.2" y="1100.5" width="16.4" height="16.4" fill="#226ea0"/><rect x="711.2" y="1100.5" width="32.3" height="16.4" fill="#2a80a4"/><rect x="743.1" y="1100.5" width="32.3" height="16.4" fill="#3895a6"/><rect x="775.0" y="1100.5" width="16.4" height="16.4" fill="#2a80a4"/><rect x="791.0" y="1100.5" width="62.3" height="16.4" fill="#226ea0"/><rect x="633.3" y="1116.5" width="30.4" height="16.4" fill="#2a3a8e"/><rect x="663.3" y="1116.5" width="32.3" height="16.4" fill="#2052a0"/><rect x="695.2" y="1116.5" width="32.3" height="16.4" fill="#226ea0"/><rect x="727.1" y="1116.5" width="16.4" height="16.4" fill="#2a80a4"/><rect x="743.1" y="1116.5" width="32.3" height="16.4" fill="#3895a6"/><rect x="775.0" y="1116.5" width="16.4" height="16.4" fill="#52a8b0"/><rect x="791.0" y="1116.5" width="16.4" height="16.4" fill="#3895a6"/><rect x="807.0" y="1116.5" width="46.3" height="16.4" fill="#2a80a4"/><rect x="633.3" y="1132.4" width="30.4" height="16.4" fill="#2a3a8e"/><rect x="663.3" y="1132.4" width="16.4" height="16.4" fill="#232b60"/><rect x="679.2" y="1132.4" width="16.4" height="16.4" fill="#2a3a8e"/><rect x="695.2" y="1132.4" width="16.4" height="16.4" fill="#2052a0"/><rect x="711.2" y="1132.4" width="16.4" height="16.4" fill="#226ea0"/><rect x="727.1" y="1132.4" width="16.4" height="16.4" fill="#2a80a4"/><rect x="743.1" y="1132.4" width="16.4" height="16.4" fill="#c8dcd2"/><rect x="759.1" y="1132.4" width="16.4" height="16.4" fill="#ebefe0"/><rect x="775.0" y="1132.4" width="32.3" height="16.4" fill="#52a8b0"/><rect x="807.0" y="1132.4" width="46.3" height="16.4" fill="#3895a6"/><rect x="633.3" y="1148.4" width="30.4" height="16.4" fill="#2a3a8e"/><rect x="663.3" y="1148.4" width="32.3" height="16.4" fill="#2052a0"/><rect x="695.2" y="1148.4" width="32.3" height="16.4" fill="#226ea0"/><rect x="727.1" y="1148.4" width="16.4" height="16.4" fill="#3895a6"/><rect x="743.1" y="1148.4" width="16.4" height="16.4" fill="#d5c15c"/><rect x="759.1" y="1148.4" width="16.4" height="16.4" fill="#f8eeb9"/><rect x="775.0" y="1148.4" width="16.4" height="16.4" fill="#a6ccc6"/><rect x="791.0" y="1148.4" width="16.4" height="16.4" fill="#7bbab4"/><rect x="807.0" y="1148.4" width="46.3" height="16.4" fill="#52a8b0"/><rect x="633.3" y="1164.3" width="46.3" height="16.3" fill="#2a3a8e"/><rect x="679.2" y="1164.3" width="32.3" height="16.3" fill="#2052a0"/><rect x="711.2" y="1164.3" width="16.4" height="16.3" fill="#226ea0"/><rect x="727.1" y="1164.3" width="16.4" height="16.3" fill="#2a80a4"/><rect x="743.1" y="1164.3" width="16.4" height="16.3" fill="#d5c15c"/><rect x="759.1" y="1164.3" width="16.4" height="16.3" fill="#f8eeb9"/><rect x="775.0" y="1164.3" width="32.3" height="16.3" fill="#c8dcd2"/><rect x="807.0" y="1164.3" width="16.4" height="16.3" fill="#7bbab4"/><rect x="822.9" y="1164.3" width="30.4" height="16.3" fill="#52a8b0"/><rect x="633.3" y="1180.2" width="46.3" height="16.4" fill="#2a3a8e"/><rect x="679.2" y="1180.2" width="32.3" height="16.4" fill="#2052a0"/><rect x="711.2" y="1180.2" width="32.3" height="16.4" fill="#226ea0"/><rect x="743.1" y="1180.2" width="16.4" height="16.4" fill="#a6ccc6"/><rect x="759.1" y="1180.2" width="16.4" height="16.4" fill="#7bbab4"/><rect x="775.0" y="1180.2" width="16.4" height="16.4" fill="#3895a6"/><rect x="791.0" y="1180.2" width="62.3" height="16.4" fill="#2a80a4"/><rect x="633.3" y="1196.2" width="30.4" height="16.4" fill="#2a3a8e"/><rect x="663.3" y="1196.2" width="32.3" height="16.4" fill="#232b60"/><rect x="695.2" y="1196.2" width="32.3" height="16.4" fill="#2a3a8e"/><rect x="727.1" y="1196.2" width="126.2" height="16.4" fill="#2052a0"/><rect x="633.3" y="1212.2" width="142.1" height="16.4" fill="#232b60"/><rect x="775.0" y="1212.2" width="78.3" height="16.4" fill="#2a3a8e"/><rect x="633.3" y="1228.1" width="78.3" height="16.4" fill="#141e40"/><rect x="711.2" y="1228.1" width="48.3" height="16.4" fill="#232b60"/><rect x="759.1" y="1228.1" width="32.3" height="16.4" fill="#2a3a8e"/><rect x="791.0" y="1228.1" width="62.3" height="16.4" fill="#232b60"/><rect x="633.3" y="1244.1" width="110.2" height="16.3" fill="#141e40"/><rect x="743.1" y="1244.1" width="64.3" height="16.3" fill="#232b60"/><rect x="807.0" y="1244.1" width="46.3" height="16.3" fill="#141e40"/><rect x="633.3" y="1260.0" width="220.0" height="16.4" fill="#141e40"/><rect x="633.3" y="1276.0" width="30.4" height="30.4" fill="#141e40"/><rect x="663.3" y="1276.0" width="32.3" height="30.4" fill="#232b60"/><rect x="695.2" y="1276.0" width="158.1" height="30.4" fill="#141e40"/></g></g><g id="pG"><rect x="134.4" y="1365.3" width="8.4" height="8.4" fill="#7cb3d4"/><rect x="142.4" y="1365.3" width="16.4" height="8.4" fill="#94c6df"/><rect x="158.3" y="1365.3" width="16.4" height="8.4" fill="#c4e5f0"/><rect x="174.3" y="1365.3" width="16.4" height="8.4" fill="#dbf0f6"/><rect x="190.3" y="1365.3" width="16.4" height="8.4" fill="#f8fccb"/><rect x="206.2" y="1365.3" width="64.3" height="8.4" fill="#fef8b4"/><rect x="270.1" y="1365.3" width="16.4" height="8.4" fill="#f8fccb"/><rect x="286.1" y="1365.3" width="16.4" height="8.4" fill="#dbf0f6"/><rect x="302.1" y="1365.3" width="16.4" height="8.4" fill="#c4e5f0"/><rect x="318.0" y="1365.3" width="8.4" height="8.4" fill="#94c6df"/><rect x="134.4" y="1373.3" width="8.4" height="16.4" fill="#94c6df"/><rect x="142.4" y="1373.3" width="48.3" height="16.4" fill="#acd9e9"/><rect x="190.3" y="1373.3" width="16.4" height="16.4" fill="#c4e5f0"/><rect x="206.2" y="1373.3" width="16.4" height="16.4" fill="#dbf0f6"/><rect x="222.2" y="1373.3" width="32.3" height="16.4" fill="#eaf7e3"/><rect x="254.2" y="1373.3" width="64.3" height="16.4" fill="#f8fccb"/><rect x="318.0" y="1373.3" width="8.4" height="16.4" fill="#eaf7e3"/><rect x="134.4" y="1389.2" width="24.3" height="16.4" fill="#c4e5f0"/><rect x="158.3" y="1389.2" width="48.3" height="16.4" fill="#94c6df"/><rect x="206.2" y="1389.2" width="32.3" height="16.4" fill="#7cb3d4"/><rect x="238.2" y="1389.2" width="16.4" height="16.4" fill="#c4e5f0"/><rect x="254.2" y="1389.2" width="16.4" height="16.4" fill="#dbf0f6"/><rect x="270.1" y="1389.2" width="16.4" height="16.4" fill="#eaf7e3"/><rect x="286.1" y="1389.2" width="16.4" height="16.4" fill="#f8fccb"/><rect x="302.1" y="1389.2" width="24.3" height="16.4" fill="#fef8b4"/><rect x="134.4" y="1405.2" width="8.4" height="16.4" fill="#acd9e9"/><rect x="142.4" y="1405.2" width="16.4" height="16.4" fill="#94c6df"/><rect x="158.3" y="1405.2" width="32.3" height="16.4" fill="#7cb3d4"/><rect x="190.3" y="1405.2" width="32.3" height="16.4" fill="#679dc9"/><rect x="222.2" y="1405.2" width="16.4" height="16.4" fill="#7cb3d4"/><rect x="238.2" y="1405.2" width="16.4" height="16.4" fill="#94c6df"/><rect x="254.2" y="1405.2" width="16.4" height="16.4" fill="#c4e5f0"/><rect x="270.1" y="1405.2" width="16.4" height="16.4" fill="#dbf0f6"/><rect x="286.1" y="1405.2" width="16.4" height="16.4" fill="#eaf7e3"/><rect x="302.1" y="1405.2" width="16.4" height="16.4" fill="#f8fccb"/><rect x="318.0" y="1405.2" width="8.4" height="16.4" fill="#feeaa0"/><rect x="134.4" y="1421.1" width="24.3" height="16.4" fill="#679dc9"/><rect x="158.3" y="1421.1" width="32.3" height="16.4" fill="#5285bc"/><rect x="190.3" y="1421.1" width="16.4" height="16.4" fill="#426caf"/><rect x="206.2" y="1421.1" width="16.4" height="16.4" fill="#5285bc"/><rect x="222.2" y="1421.1" width="16.4" height="16.4" fill="#7cb3d4"/><rect x="238.2" y="1421.1" width="16.4" height="16.4" fill="#94c6df"/><rect x="254.2" y="1421.1" width="16.4" height="16.4" fill="#acd9e9"/><rect x="270.1" y="1421.1" width="32.3" height="16.4" fill="#dbf0f6"/><rect x="302.1" y="1421.1" width="16.4" height="16.4" fill="#eaf7e3"/><rect x="318.0" y="1421.1" width="8.4" height="16.4" fill="#f8fccb"/><rect x="134.4" y="1437.1" width="8.4" height="16.3" fill="#5285bc"/><rect x="142.4" y="1437.1" width="16.4" height="16.3" fill="#426caf"/><rect x="158.3" y="1437.1" width="32.3" height="16.3" fill="#3951a2"/><rect x="190.3" y="1437.1" width="16.4" height="16.3" fill="#426caf"/><rect x="206.2" y="1437.1" width="16.4" height="16.3" fill="#5285bc"/><rect x="222.2" y="1437.1" width="16.4" height="16.3" fill="#679dc9"/><rect x="238.2" y="1437.1" width="16.4" height="16.3" fill="#7cb3d4"/><rect x="254.2" y="1437.1" width="16.4" height="16.3" fill="#94c6df"/><rect x="270.1" y="1437.1" width="16.4" height="16.3" fill="#acd9e9"/><rect x="286.1" y="1437.1" width="16.4" height="16.3" fill="#c4e5f0"/><rect x="302.1" y="1437.1" width="24.3" height="16.3" fill="#dbf0f6"/><rect x="134.4" y="1453.0" width="8.4" height="16.4" fill="#3951a2"/><rect x="142.4" y="1453.0" width="16.4" height="16.4" fill="#426caf"/><rect x="158.3" y="1453.0" width="64.3" height="16.4" fill="#5285bc"/><rect x="222.2" y="1453.0" width="48.3" height="16.4" fill="#679dc9"/><rect x="270.1" y="1453.0" width="32.3" height="16.4" fill="#7cb3d4"/><rect x="302.1" y="1453.0" width="16.4" height="16.4" fill="#94c6df"/><rect x="318.0" y="1453.0" width="8.4" height="16.4" fill="#acd9e9"/><rect x="134.4" y="1469.0" width="56.3" height="16.4" fill="#7cb3d4"/><rect x="190.3" y="1469.0" width="48.3" height="16.4" fill="#679dc9"/><rect x="238.2" y="1469.0" width="32.3" height="16.4" fill="#5285bc"/><rect x="270.1" y="1469.0" width="32.3" height="16.4" fill="#679dc9"/><rect x="302.1" y="1469.0" width="16.4" height="16.4" fill="#7cb3d4"/><rect x="318.0" y="1469.0" width="8.4" height="16.4" fill="#94c6df"/><rect x="134.4" y="1484.9" width="40.3" height="16.4" fill="#eaf7e3"/><rect x="174.3" y="1484.9" width="16.4" height="16.4" fill="#dbf0f6"/><rect x="190.3" y="1484.9" width="16.4" height="16.4" fill="#c4e5f0"/><rect x="206.2" y="1484.9" width="32.3" height="16.4" fill="#acd9e9"/><rect x="238.2" y="1484.9" width="16.4" height="16.4" fill="#94c6df"/><rect x="254.2" y="1484.9" width="64.3" height="16.4" fill="#7cb3d4"/><rect x="318.0" y="1484.9" width="8.4" height="16.4" fill="#94c6df"/><rect x="134.4" y="1500.9" width="24.3" height="16.4" fill="#fddc8c"/><rect x="158.3" y="1500.9" width="32.3" height="16.4" fill="#feeaa0"/><rect x="190.3" y="1500.9" width="32.3" height="16.4" fill="#fef8b4"/><rect x="222.2" y="1500.9" width="16.4" height="16.4" fill="#f8fccb"/><rect x="238.2" y="1500.9" width="16.4" height="16.4" fill="#eaf7e3"/><rect x="254.2" y="1500.9" width="16.4" height="16.4" fill="#dbf0f6"/><rect x="270.1" y="1500.9" width="16.4" height="16.4" fill="#acd9e9"/><rect x="286.1" y="1500.9" width="32.3" height="16.4" fill="#94c6df"/><rect x="318.0" y="1500.9" width="8.4" height="16.4" fill="#acd9e9"/><rect x="134.4" y="1516.8" width="8.4" height="16.4" fill="#f99354"/><rect x="142.4" y="1516.8" width="16.4" height="16.4" fill="#f57747"/><rect x="158.3" y="1516.8" width="32.3" height="16.4" fill="#f99354"/><rect x="190.3" y="1516.8" width="16.4" height="16.4" fill="#fdae61"/><rect x="206.2" y="1516.8" width="16.4" height="16.4" fill="#fdc678"/><rect x="222.2" y="1516.8" width="16.4" height="16.4" fill="#feeaa0"/><rect x="238.2" y="1516.8" width="16.4" height="16.4" fill="#fef8b4"/><rect x="254.2" y="1516.8" width="16.4" height="16.4" fill="#f8fccb"/><rect x="270.1" y="1516.8" width="16.4" height="16.4" fill="#eaf7e3"/><rect x="286.1" y="1516.8" width="16.4" height="16.4" fill="#dbf0f6"/><rect x="302.1" y="1516.8" width="24.3" height="16.4" fill="#c4e5f0"/><rect x="134.4" y="1532.8" width="56.3" height="16.3" fill="#f99354"/><rect x="190.3" y="1532.8" width="16.4" height="16.3" fill="#fdae61"/><rect x="206.2" y="1532.8" width="16.4" height="16.3" fill="#fdc678"/><rect x="222.2" y="1532.8" width="16.4" height="16.3" fill="#fddc8c"/><rect x="238.2" y="1532.8" width="16.4" height="16.3" fill="#fef8b4"/><rect x="254.2" y="1532.8" width="16.4" height="16.3" fill="#f8fccb"/><rect x="270.1" y="1532.8" width="16.4" height="16.3" fill="#eaf7e3"/><rect x="286.1" y="1532.8" width="16.4" height="16.3" fill="#dbf0f6"/><rect x="302.1" y="1532.8" width="24.3" height="16.3" fill="#c4e5f0"/><rect x="134.4" y="1548.7" width="56.3" height="16.4" fill="#fdae61"/><rect x="190.3" y="1548.7" width="16.4" height="16.4" fill="#fdc678"/><rect x="206.2" y="1548.7" width="16.4" height="16.4" fill="#fddc8c"/><rect x="222.2" y="1548.7" width="16.4" height="16.4" fill="#feeaa0"/><rect x="238.2" y="1548.7" width="16.4" height="16.4" fill="#fef8b4"/><rect x="254.2" y="1548.7" width="16.4" height="16.4" fill="#f8fccb"/><rect x="270.1" y="1548.7" width="16.4" height="16.4" fill="#eaf7e3"/><rect x="286.1" y="1548.7" width="16.4" height="16.4" fill="#dbf0f6"/><rect x="302.1" y="1548.7" width="24.3" height="16.4" fill="#c4e5f0"/><rect x="134.4" y="1564.7" width="24.3" height="16.4" fill="#fddc8c"/><rect x="158.3" y="1564.7" width="48.3" height="16.4" fill="#feeaa0"/><rect x="206.2" y="1564.7" width="48.3" height="16.4" fill="#fef8b4"/><rect x="254.2" y="1564.7" width="16.4" height="16.4" fill="#f8fccb"/><rect x="270.1" y="1564.7" width="16.4" height="16.4" fill="#eaf7e3"/><rect x="286.1" y="1564.7" width="40.3" height="16.4" fill="#dbf0f6"/><rect x="134.4" y="1580.6" width="56.3" height="16.4" fill="#f8fccb"/><rect x="190.3" y="1580.6" width="64.3" height="16.4" fill="#fef8b4"/><rect x="254.2" y="1580.6" width="16.4" height="16.4" fill="#f8fccb"/><rect x="270.1" y="1580.6" width="16.4" height="16.4" fill="#eaf7e3"/><rect x="286.1" y="1580.6" width="40.3" height="16.4" fill="#dbf0f6"/><rect x="134.4" y="1596.6" width="24.3" height="16.4" fill="#f8fccb"/><rect x="158.3" y="1596.6" width="16.4" height="16.4" fill="#eaf7e3"/><rect x="174.3" y="1596.6" width="16.4" height="16.4" fill="#f8fccb"/><rect x="190.3" y="1596.6" width="32.3" height="16.4" fill="#fef8b4"/><rect x="222.2" y="1596.6" width="16.4" height="16.4" fill="#feeaa0"/><rect x="238.2" y="1596.6" width="16.4" height="16.4" fill="#fef8b4"/><rect x="254.2" y="1596.6" width="48.3" height="16.4" fill="#f8fccb"/><rect x="302.1" y="1596.6" width="24.3" height="16.4" fill="#eaf7e3"/><rect x="134.4" y="1612.5" width="24.3" height="16.3" fill="#f8fccb"/><rect x="158.3" y="1612.5" width="16.4" height="16.3" fill="#eaf7e3"/><rect x="174.3" y="1612.5" width="16.4" height="16.3" fill="#f8fccb"/><rect x="190.3" y="1612.5" width="16.4" height="16.3" fill="#fef8b4"/><rect x="206.2" y="1612.5" width="48.3" height="16.3" fill="#feeaa0"/><rect x="254.2" y="1612.5" width="32.3" height="16.3" fill="#fef8b4"/><rect x="286.1" y="1612.5" width="40.3" height="16.3" fill="#f8fccb"/><rect x="134.4" y="1628.5" width="56.3" height="16.4" fill="#fef8b4"/><rect x="190.3" y="1628.5" width="48.3" height="16.4" fill="#feeaa0"/><rect x="238.2" y="1628.5" width="16.4" height="16.4" fill="#fddc8c"/><rect x="254.2" y="1628.5" width="32.3" height="16.4" fill="#feeaa0"/><rect x="286.1" y="1628.5" width="40.3" height="16.4" fill="#fef8b4"/><rect x="134.4" y="1644.4" width="72.2" height="16.4" fill="#fddc8c"/><rect x="206.2" y="1644.4" width="32.3" height="16.4" fill="#fdc678"/><rect x="238.2" y="1644.4" width="32.3" height="16.4" fill="#fdae61"/><rect x="270.1" y="1644.4" width="32.3" height="16.4" fill="#fdc678"/><rect x="302.1" y="1644.4" width="24.3" height="16.4" fill="#fddc8c"/><rect x="134.4" y="1660.4" width="56.3" height="16.4" fill="#fdc678"/><rect x="190.3" y="1660.4" width="32.3" height="16.4" fill="#fdae61"/><rect x="222.2" y="1660.4" width="48.3" height="16.4" fill="#f99354"/><rect x="270.1" y="1660.4" width="32.3" height="16.4" fill="#fdae61"/><rect x="302.1" y="1660.4" width="24.3" height="16.4" fill="#fdc678"/><rect x="134.4" y="1676.3" width="56.3" height="16.4" fill="#f99354"/><rect x="190.3" y="1676.3" width="48.3" height="16.4" fill="#f57747"/><rect x="238.2" y="1676.3" width="32.3" height="16.4" fill="#ec5c3b"/><rect x="270.1" y="1676.3" width="16.4" height="16.4" fill="#f57747"/><rect x="286.1" y="1676.3" width="16.4" height="16.4" fill="#f99354"/><rect x="302.1" y="1676.3" width="24.3" height="16.4" fill="#fdae61"/><rect x="134.4" y="1692.3" width="72.2" height="16.3" fill="#ec5c3b"/><rect x="206.2" y="1692.3" width="64.3" height="16.3" fill="#df412f"/><rect x="270.1" y="1692.3" width="16.4" height="16.3" fill="#ec5c3b"/><rect x="286.1" y="1692.3" width="16.4" height="16.3" fill="#f57747"/><rect x="302.1" y="1692.3" width="24.3" height="16.3" fill="#f99354"/><rect x="134.4" y="1708.2" width="24.3" height="16.4" fill="#a50026"/><rect x="158.3" y="1708.2" width="32.3" height="16.4" fill="#d02926"/><rect x="190.3" y="1708.2" width="64.3" height="16.4" fill="#ba1426"/><rect x="254.2" y="1708.2" width="16.4" height="16.4" fill="#d02926"/><rect x="270.1" y="1708.2" width="16.4" height="16.4" fill="#df412f"/><rect x="286.1" y="1708.2" width="16.4" height="16.4" fill="#ec5c3b"/><rect x="302.1" y="1708.2" width="16.4" height="16.4" fill="#f57747"/><rect x="318.0" y="1708.2" width="8.4" height="16.4" fill="#f99354"/><rect x="134.4" y="1724.2" width="104.2" height="16.4" fill="#a50026"/><rect x="238.2" y="1724.2" width="32.3" height="16.4" fill="#ba1426"/><rect x="270.1" y="1724.2" width="16.4" height="16.4" fill="#df412f"/><rect x="286.1" y="1724.2" width="16.4" height="16.4" fill="#ec5c3b"/><rect x="302.1" y="1724.2" width="16.4" height="16.4" fill="#f57747"/><rect x="318.0" y="1724.2" width="8.4" height="16.4" fill="#f99354"/><rect x="134.4" y="1740.1" width="120.2" height="16.4" fill="#a50026"/><rect x="254.2" y="1740.1" width="16.4" height="16.4" fill="#ba1426"/><rect x="270.1" y="1740.1" width="16.4" height="16.4" fill="#d02926"/><rect x="286.1" y="1740.1" width="16.4" height="16.4" fill="#df412f"/><rect x="302.1" y="1740.1" width="16.4" height="16.4" fill="#f57747"/><rect x="318.0" y="1740.1" width="8.4" height="16.4" fill="#f99354"/><rect x="134.4" y="1756.1" width="120.2" height="16.4" fill="#a50026"/><rect x="254.2" y="1756.1" width="16.4" height="16.4" fill="#ba1426"/><rect x="270.1" y="1756.1" width="16.4" height="16.4" fill="#d02926"/><rect x="286.1" y="1756.1" width="16.4" height="16.4" fill="#df412f"/><rect x="302.1" y="1756.1" width="16.4" height="16.4" fill="#f57747"/><rect x="318.0" y="1756.1" width="8.4" height="16.4" fill="#f99354"/><rect x="134.4" y="1772.0" width="120.2" height="16.3" fill="#a50026"/><rect x="254.2" y="1772.0" width="16.4" height="16.3" fill="#ba1426"/><rect x="270.1" y="1772.0" width="16.4" height="16.3" fill="#d02926"/><rect x="286.1" y="1772.0" width="16.4" height="16.3" fill="#ec5c3b"/><rect x="302.1" y="1772.0" width="16.4" height="16.3" fill="#f99354"/><rect x="318.0" y="1772.0" width="8.4" height="16.3" fill="#fdae61"/><rect x="134.4" y="1788.0" width="88.2" height="16.4" fill="#a50026"/><rect x="222.2" y="1788.0" width="32.3" height="16.4" fill="#ba1426"/><rect x="254.2" y="1788.0" width="16.4" height="16.4" fill="#d02926"/><rect x="270.1" y="1788.0" width="16.4" height="16.4" fill="#df412f"/><rect x="286.1" y="1788.0" width="16.4" height="16.4" fill="#f57747"/><rect x="302.1" y="1788.0" width="16.4" height="16.4" fill="#fdae61"/><rect x="318.0" y="1788.0" width="8.4" height="16.4" fill="#fdc678"/><rect x="134.4" y="1803.9" width="72.2" height="16.4" fill="#a50026"/><rect x="206.2" y="1803.9" width="32.3" height="16.4" fill="#ba1426"/><rect x="238.2" y="1803.9" width="16.4" height="16.4" fill="#d02926"/><rect x="254.2" y="1803.9" width="16.4" height="16.4" fill="#df412f"/><rect x="270.1" y="1803.9" width="16.4" height="16.4" fill="#ec5c3b"/><rect x="286.1" y="1803.9" width="16.4" height="16.4" fill="#f99354"/><rect x="302.1" y="1803.9" width="16.4" height="16.4" fill="#fdc678"/><rect x="318.0" y="1803.9" width="8.4" height="16.4" fill="#fddc8c"/><rect x="134.4" y="1819.9" width="56.3" height="16.4" fill="#a50026"/><rect x="190.3" y="1819.9" width="16.4" height="16.4" fill="#ba1426"/><rect x="206.2" y="1819.9" width="32.3" height="16.4" fill="#d02926"/><rect x="238.2" y="1819.9" width="16.4" height="16.4" fill="#df412f"/><rect x="254.2" y="1819.9" width="16.4" height="16.4" fill="#ec5c3b"/><rect x="270.1" y="1819.9" width="16.4" height="16.4" fill="#f57747"/><rect x="286.1" y="1819.9" width="16.4" height="16.4" fill="#fdae61"/><rect x="302.1" y="1819.9" width="16.4" height="16.4" fill="#fddc8c"/><rect x="318.0" y="1819.9" width="8.4" height="16.4" fill="#feeaa0"/><rect x="134.4" y="1835.8" width="24.3" height="16.4" fill="#a50026"/><rect x="158.3" y="1835.8" width="16.4" height="16.4" fill="#ba1426"/><rect x="174.3" y="1835.8" width="16.4" height="16.4" fill="#d02926"/><rect x="190.3" y="1835.8" width="16.4" height="16.4" fill="#df412f"/><rect x="206.2" y="1835.8" width="32.3" height="16.4" fill="#ec5c3b"/><rect x="238.2" y="1835.8" width="16.4" height="16.4" fill="#f57747"/><rect x="254.2" y="1835.8" width="16.4" height="16.4" fill="#f99354"/><rect x="270.1" y="1835.8" width="16.4" height="16.4" fill="#fdae61"/><rect x="286.1" y="1835.8" width="16.4" height="16.4" fill="#fdc678"/><rect x="302.1" y="1835.8" width="16.4" height="16.4" fill="#feeaa0"/><rect x="318.0" y="1835.8" width="8.4" height="16.4" fill="#fef8b4"/><rect x="134.4" y="1851.8" width="24.3" height="16.3" fill="#ba1426"/><rect x="158.3" y="1851.8" width="16.4" height="16.3" fill="#d02926"/><rect x="174.3" y="1851.8" width="16.4" height="16.3" fill="#df412f"/><rect x="190.3" y="1851.8" width="16.4" height="16.3" fill="#ec5c3b"/><rect x="206.2" y="1851.8" width="16.4" height="16.3" fill="#f57747"/><rect x="222.2" y="1851.8" width="32.3" height="16.3" fill="#f99354"/><rect x="254.2" y="1851.8" width="16.4" height="16.3" fill="#fdae61"/><rect x="270.1" y="1851.8" width="16.4" height="16.3" fill="#fdc678"/><rect x="286.1" y="1851.8" width="16.4" height="16.3" fill="#fddc8c"/><rect x="302.1" y="1851.8" width="16.4" height="16.3" fill="#fef8b4"/><rect x="318.0" y="1851.8" width="8.4" height="16.3" fill="#f8fccb"/><rect x="134.4" y="1867.7" width="40.3" height="16.4" fill="#ec5c3b"/><rect x="174.3" y="1867.7" width="16.4" height="16.4" fill="#f57747"/><rect x="190.3" y="1867.7" width="16.4" height="16.4" fill="#fdae61"/><rect x="206.2" y="1867.7" width="32.3" height="16.4" fill="#fdc678"/><rect x="238.2" y="1867.7" width="16.4" height="16.4" fill="#fddc8c"/><rect x="254.2" y="1867.7" width="16.4" height="16.4" fill="#feeaa0"/><rect x="270.1" y="1867.7" width="32.3" height="16.4" fill="#fef8b4"/><rect x="302.1" y="1867.7" width="16.4" height="16.4" fill="#f8fccb"/><rect x="318.0" y="1867.7" width="8.4" height="16.4" fill="#eaf7e3"/><rect x="134.4" y="1883.7" width="40.3" height="16.4" fill="#f99354"/><rect x="174.3" y="1883.7" width="16.4" height="16.4" fill="#fdae61"/><rect x="190.3" y="1883.7" width="16.4" height="16.4" fill="#fdc678"/><rect x="206.2" y="1883.7" width="16.4" height="16.4" fill="#fddc8c"/><rect x="222.2" y="1883.7" width="16.4" height="16.4" fill="#feeaa0"/><rect x="238.2" y="1883.7" width="16.4" height="16.4" fill="#fef8b4"/><rect x="254.2" y="1883.7" width="16.4" height="16.4" fill="#f8fccb"/><rect x="270.1" y="1883.7" width="16.4" height="16.4" fill="#eaf7e3"/><rect x="286.1" y="1883.7" width="16.4" height="16.4" fill="#dbf0f6"/><rect x="302.1" y="1883.7" width="24.3" height="16.4" fill="#c4e5f0"/><rect x="134.4" y="1899.6" width="24.3" height="16.4" fill="#feeaa0"/><rect x="158.3" y="1899.6" width="32.3" height="16.4" fill="#fef8b4"/><rect x="190.3" y="1899.6" width="16.4" height="16.4" fill="#f8fccb"/><rect x="206.2" y="1899.6" width="32.3" height="16.4" fill="#eaf7e3"/><rect x="238.2" y="1899.6" width="32.3" height="16.4" fill="#dbf0f6"/><rect x="270.1" y="1899.6" width="32.3" height="16.4" fill="#c4e5f0"/><rect x="302.1" y="1899.6" width="24.3" height="16.4" fill="#acd9e9"/><rect x="134.4" y="1915.6" width="24.3" height="16.4" fill="#eaf7e3"/><rect x="158.3" y="1915.6" width="32.3" height="16.4" fill="#dbf0f6"/><rect x="190.3" y="1915.6" width="16.4" height="16.4" fill="#c4e5f0"/><rect x="206.2" y="1915.6" width="64.3" height="16.4" fill="#acd9e9"/><rect x="270.1" y="1915.6" width="56.3" height="16.4" fill="#94c6df"/><rect x="134.4" y="1931.5" width="24.3" height="8.4" fill="#acd9e9"/><rect x="158.3" y="1931.5" width="32.3" height="8.4" fill="#94c6df"/><rect x="190.3" y="1931.5" width="64.3" height="8.4" fill="#7cb3d4"/><rect x="254.2" y="1931.5" width="32.3" height="8.4" fill="#679dc9"/><rect x="286.1" y="1931.5" width="16.4" height="8.4" fill="#5285bc"/><rect x="302.1" y="1931.5" width="24.3" height="8.4" fill="#679dc9"/></g><g id="pH"><rect x="395.1" y="1368.6" width="120.2" height="8.4" fill="#94c6df"/><rect x="514.9" y="1368.6" width="16.4" height="8.4" fill="#7cb3d4"/><rect x="530.8" y="1368.6" width="16.4" height="8.4" fill="#5285bc"/><rect x="546.8" y="1368.6" width="32.3" height="8.4" fill="#3951a2"/><rect x="578.7" y="1368.6" width="8.4" height="8.4" fill="#7cb3d4"/><rect x="395.1" y="1376.6" width="24.3" height="16.4" fill="#7cb3d4"/><rect x="419.1" y="1376.6" width="48.3" height="16.4" fill="#94c6df"/><rect x="467.0" y="1376.6" width="64.3" height="16.4" fill="#7cb3d4"/><rect x="530.8" y="1376.6" width="16.4" height="16.4" fill="#679dc9"/><rect x="546.8" y="1376.6" width="16.4" height="16.4" fill="#5285bc"/><rect x="562.8" y="1376.6" width="16.4" height="16.4" fill="#426caf"/><rect x="578.7" y="1376.6" width="8.4" height="16.4" fill="#679dc9"/><rect x="395.1" y="1392.5" width="8.4" height="16.4" fill="#5285bc"/><rect x="403.1" y="1392.5" width="16.4" height="16.4" fill="#679dc9"/><rect x="419.1" y="1392.5" width="112.2" height="16.4" fill="#7cb3d4"/><rect x="530.8" y="1392.5" width="32.3" height="16.4" fill="#679dc9"/><rect x="562.8" y="1392.5" width="16.4" height="16.4" fill="#5285bc"/><rect x="578.7" y="1392.5" width="8.4" height="16.4" fill="#679dc9"/><rect x="395.1" y="1408.5" width="24.3" height="16.4" fill="#679dc9"/><rect x="419.1" y="1408.5" width="32.3" height="16.4" fill="#7cb3d4"/><rect x="451.0" y="1408.5" width="64.3" height="16.4" fill="#679dc9"/><rect x="514.9" y="1408.5" width="32.3" height="16.4" fill="#7cb3d4"/><rect x="546.8" y="1408.5" width="16.4" height="16.4" fill="#94c6df"/><rect x="562.8" y="1408.5" width="24.4" height="16.4" fill="#7cb3d4"/><rect x="395.1" y="1424.4" width="56.3" height="16.4" fill="#7cb3d4"/><rect x="451.0" y="1424.4" width="16.4" height="16.4" fill="#679dc9"/><rect x="467.0" y="1424.4" width="32.3" height="16.4" fill="#5285bc"/><rect x="498.9" y="1424.4" width="16.4" height="16.4" fill="#679dc9"/><rect x="514.9" y="1424.4" width="32.3" height="16.4" fill="#7cb3d4"/><rect x="546.8" y="1424.4" width="32.3" height="16.4" fill="#94c6df"/><rect x="578.7" y="1424.4" width="8.4" height="16.4" fill="#7cb3d4"/><rect x="395.1" y="1440.4" width="8.4" height="16.3" fill="#94c6df"/><rect x="403.1" y="1440.4" width="32.3" height="16.3" fill="#7cb3d4"/><rect x="435.0" y="1440.4" width="16.4" height="16.3" fill="#679dc9"/><rect x="451.0" y="1440.4" width="16.4" height="16.3" fill="#5285bc"/><rect x="467.0" y="1440.4" width="16.4" height="16.3" fill="#426caf"/><rect x="482.9" y="1440.4" width="16.4" height="16.3" fill="#3951a2"/><rect x="498.9" y="1440.4" width="16.4" height="16.3" fill="#5285bc"/><rect x="514.9" y="1440.4" width="32.3" height="16.3" fill="#679dc9"/><rect x="546.8" y="1440.4" width="40.3" height="16.3" fill="#7cb3d4"/><rect x="395.1" y="1456.3" width="40.3" height="16.4" fill="#679dc9"/><rect x="435.0" y="1456.3" width="16.4" height="16.4" fill="#5285bc"/><rect x="451.0" y="1456.3" width="16.4" height="16.4" fill="#426caf"/><rect x="467.0" y="1456.3" width="16.4" height="16.4" fill="#3951a2"/><rect x="482.9" y="1456.3" width="16.4" height="16.4" fill="#426caf"/><rect x="498.9" y="1456.3" width="32.3" height="16.4" fill="#5285bc"/><rect x="530.8" y="1456.3" width="48.3" height="16.4" fill="#679dc9"/><rect x="578.7" y="1456.3" width="8.4" height="16.4" fill="#7cb3d4"/><rect x="395.1" y="1472.3" width="24.3" height="16.4" fill="#426caf"/><rect x="419.1" y="1472.3" width="48.3" height="16.4" fill="#3951a2"/><rect x="467.0" y="1472.3" width="16.4" height="16.4" fill="#426caf"/><rect x="482.9" y="1472.3" width="64.3" height="16.4" fill="#5285bc"/><rect x="546.8" y="1472.3" width="40.3" height="16.4" fill="#679dc9"/><rect x="395.1" y="1488.2" width="24.3" height="16.4" fill="#426caf"/><rect x="419.1" y="1488.2" width="32.3" height="16.4" fill="#5285bc"/><rect x="451.0" y="1488.2" width="136.1" height="16.4" fill="#679dc9"/><rect x="395.1" y="1504.2" width="24.3" height="16.4" fill="#7cb3d4"/><rect x="419.1" y="1504.2" width="96.2" height="16.4" fill="#94c6df"/><rect x="514.9" y="1504.2" width="72.3" height="16.4" fill="#7cb3d4"/><rect x="395.1" y="1520.1" width="88.2" height="16.3" fill="#acd9e9"/><rect x="482.9" y="1520.1" width="16.4" height="16.3" fill="#94c6df"/><rect x="498.9" y="1520.1" width="16.4" height="16.3" fill="#acd9e9"/><rect x="514.9" y="1520.1" width="32.3" height="16.3" fill="#94c6df"/><rect x="546.8" y="1520.1" width="40.3" height="16.3" fill="#7cb3d4"/><rect x="395.1" y="1536.1" width="40.3" height="16.4" fill="#dbf0f6"/><rect x="435.0" y="1536.1" width="16.4" height="16.4" fill="#c4e5f0"/><rect x="451.0" y="1536.1" width="32.3" height="16.4" fill="#acd9e9"/><rect x="482.9" y="1536.1" width="32.3" height="16.4" fill="#94c6df"/><rect x="514.9" y="1536.1" width="16.4" height="16.4" fill="#acd9e9"/><rect x="530.8" y="1536.1" width="32.3" height="16.4" fill="#94c6df"/><rect x="562.8" y="1536.1" width="16.4" height="16.4" fill="#7cb3d4"/><rect x="578.7" y="1536.1" width="8.4" height="16.4" fill="#94c6df"/><rect x="395.1" y="1552.0" width="24.3" height="16.4" fill="#c4e5f0"/><rect x="419.1" y="1552.0" width="32.3" height="16.4" fill="#acd9e9"/><rect x="451.0" y="1552.0" width="96.2" height="16.4" fill="#94c6df"/><rect x="546.8" y="1552.0" width="40.3" height="16.4" fill="#acd9e9"/><rect x="395.1" y="1568.0" width="24.3" height="16.4" fill="#acd9e9"/><rect x="419.1" y="1568.0" width="32.3" height="16.4" fill="#94c6df"/><rect x="451.0" y="1568.0" width="80.2" height="16.4" fill="#7cb3d4"/><rect x="530.8" y="1568.0" width="32.3" height="16.4" fill="#94c6df"/><rect x="562.8" y="1568.0" width="24.4" height="16.4" fill="#acd9e9"/><rect x="395.1" y="1583.9" width="8.4" height="16.4" fill="#94c6df"/><rect x="403.1" y="1583.9" width="48.3" height="16.4" fill="#7cb3d4"/><rect x="451.0" y="1583.9" width="32.3" height="16.4" fill="#679dc9"/><rect x="482.9" y="1583.9" width="16.4" height="16.4" fill="#5285bc"/><rect x="498.9" y="1583.9" width="32.3" height="16.4" fill="#679dc9"/><rect x="530.8" y="1583.9" width="16.4" height="16.4" fill="#7cb3d4"/><rect x="546.8" y="1583.9" width="16.4" height="16.4" fill="#94c6df"/><rect x="562.8" y="1583.9" width="24.4" height="16.4" fill="#acd9e9"/><rect x="395.1" y="1599.9" width="8.4" height="16.3" fill="#7cb3d4"/><rect x="403.1" y="1599.9" width="48.3" height="16.3" fill="#679dc9"/><rect x="451.0" y="1599.9" width="16.4" height="16.3" fill="#5285bc"/><rect x="467.0" y="1599.9" width="48.3" height="16.3" fill="#679dc9"/><rect x="514.9" y="1599.9" width="16.4" height="16.3" fill="#7cb3d4"/><rect x="530.8" y="1599.9" width="16.4" height="16.3" fill="#94c6df"/><rect x="546.8" y="1599.9" width="32.3" height="16.3" fill="#acd9e9"/><rect x="578.7" y="1599.9" width="8.4" height="16.3" fill="#c4e5f0"/><rect x="395.1" y="1615.8" width="8.4" height="16.4" fill="#7cb3d4"/><rect x="403.1" y="1615.8" width="64.3" height="16.4" fill="#5285bc"/><rect x="467.0" y="1615.8" width="32.3" height="16.4" fill="#679dc9"/><rect x="498.9" y="1615.8" width="16.4" height="16.4" fill="#7cb3d4"/><rect x="514.9" y="1615.8" width="16.4" height="16.4" fill="#acd9e9"/><rect x="530.8" y="1615.8" width="56.3" height="16.4" fill="#c4e5f0"/><rect x="395.1" y="1631.8" width="8.4" height="16.4" fill="#679dc9"/><rect x="403.1" y="1631.8" width="64.3" height="16.4" fill="#5285bc"/><rect x="467.0" y="1631.8" width="32.3" height="16.4" fill="#7cb3d4"/><rect x="498.9" y="1631.8" width="16.4" height="16.4" fill="#acd9e9"/><rect x="514.9" y="1631.8" width="16.4" height="16.4" fill="#dbf0f6"/><rect x="530.8" y="1631.8" width="16.4" height="16.4" fill="#eaf7e3"/><rect x="546.8" y="1631.8" width="16.4" height="16.4" fill="#dbf0f6"/><rect x="562.8" y="1631.8" width="24.4" height="16.4" fill="#c4e5f0"/><rect x="395.1" y="1647.7" width="56.3" height="16.4" fill="#5285bc"/><rect x="451.0" y="1647.7" width="16.4" height="16.4" fill="#679dc9"/><rect x="467.0" y="1647.7" width="16.4" height="16.4" fill="#7cb3d4"/><rect x="482.9" y="1647.7" width="16.4" height="16.4" fill="#94c6df"/><rect x="498.9" y="1647.7" width="16.4" height="16.4" fill="#dbf0f6"/><rect x="514.9" y="1647.7" width="16.4" height="16.4" fill="#fef8b4"/><rect x="530.8" y="1647.7" width="32.3" height="16.4" fill="#feeaa0"/><rect x="562.8" y="1647.7" width="16.4" height="16.4" fill="#eaf7e3"/><rect x="578.7" y="1647.7" width="8.4" height="16.4" fill="#dbf0f6"/><rect x="395.1" y="1663.7" width="8.4" height="16.4" fill="#5285bc"/><rect x="403.1" y="1663.7" width="16.4" height="16.4" fill="#426caf"/><rect x="419.1" y="1663.7" width="32.3" height="16.4" fill="#3951a2"/><rect x="451.0" y="1663.7" width="16.4" height="16.4" fill="#5285bc"/><rect x="467.0" y="1663.7" width="16.4" height="16.4" fill="#7cb3d4"/><rect x="482.9" y="1663.7" width="16.4" height="16.4" fill="#94c6df"/><rect x="498.9" y="1663.7" width="16.4" height="16.4" fill="#f8fccb"/><rect x="514.9" y="1663.7" width="32.3" height="16.4" fill="#fef8b4"/><rect x="546.8" y="1663.7" width="16.4" height="16.4" fill="#feeaa0"/><rect x="562.8" y="1663.7" width="16.4" height="16.4" fill="#f8fccb"/><rect x="578.7" y="1663.7" width="8.4" height="16.4" fill="#dbf0f6"/><rect x="395.1" y="1679.6" width="8.4" height="16.3" fill="#5285bc"/><rect x="403.1" y="1679.6" width="16.4" height="16.3" fill="#426caf"/><rect x="419.1" y="1679.6" width="32.3" height="16.3" fill="#3951a2"/><rect x="451.0" y="1679.6" width="16.4" height="16.3" fill="#5285bc"/><rect x="467.0" y="1679.6" width="16.4" height="16.3" fill="#7cb3d4"/><rect x="482.9" y="1679.6" width="16.4" height="16.3" fill="#acd9e9"/><rect x="498.9" y="1679.6" width="16.4" height="16.3" fill="#fef8b4"/><rect x="514.9" y="1679.6" width="32.3" height="16.3" fill="#fdc678"/><rect x="546.8" y="1679.6" width="16.4" height="16.3" fill="#feeaa0"/><rect x="562.8" y="1679.6" width="16.4" height="16.3" fill="#fef8b4"/><rect x="578.7" y="1679.6" width="8.4" height="16.3" fill="#eaf7e3"/><rect x="395.1" y="1695.6" width="8.4" height="16.4" fill="#5285bc"/><rect x="403.1" y="1695.6" width="16.4" height="16.4" fill="#426caf"/><rect x="419.1" y="1695.6" width="16.4" height="16.4" fill="#3951a2"/><rect x="435.0" y="1695.6" width="16.4" height="16.4" fill="#426caf"/><rect x="451.0" y="1695.6" width="16.4" height="16.4" fill="#5285bc"/><rect x="467.0" y="1695.6" width="16.4" height="16.4" fill="#7cb3d4"/><rect x="482.9" y="1695.6" width="16.4" height="16.4" fill="#c4e5f0"/><rect x="498.9" y="1695.6" width="16.4" height="16.4" fill="#feeaa0"/><rect x="514.9" y="1695.6" width="32.3" height="16.4" fill="#fdae61"/><rect x="546.8" y="1695.6" width="16.4" height="16.4" fill="#fddc8c"/><rect x="562.8" y="1695.6" width="16.4" height="16.4" fill="#fef8b4"/><rect x="578.7" y="1695.6" width="8.4" height="16.4" fill="#eaf7e3"/><rect x="395.1" y="1711.5" width="8.4" height="16.4" fill="#679dc9"/><rect x="403.1" y="1711.5" width="48.3" height="16.4" fill="#5285bc"/><rect x="451.0" y="1711.5" width="16.4" height="16.4" fill="#679dc9"/><rect x="467.0" y="1711.5" width="16.4" height="16.4" fill="#94c6df"/><rect x="482.9" y="1711.5" width="16.4" height="16.4" fill="#eaf7e3"/><rect x="498.9" y="1711.5" width="16.4" height="16.4" fill="#fddc8c"/><rect x="514.9" y="1711.5" width="32.3" height="16.4" fill="#f99354"/><rect x="546.8" y="1711.5" width="16.4" height="16.4" fill="#fdc678"/><rect x="562.8" y="1711.5" width="16.4" height="16.4" fill="#feeaa0"/><rect x="578.7" y="1711.5" width="8.4" height="16.4" fill="#f8fccb"/><rect x="395.1" y="1727.5" width="8.4" height="16.4" fill="#679dc9"/><rect x="403.1" y="1727.5" width="48.3" height="16.4" fill="#5285bc"/><rect x="451.0" y="1727.5" width="16.4" height="16.4" fill="#679dc9"/><rect x="467.0" y="1727.5" width="16.4" height="16.4" fill="#94c6df"/><rect x="482.9" y="1727.5" width="16.4" height="16.4" fill="#f8fccb"/><rect x="498.9" y="1727.5" width="16.4" height="16.4" fill="#fdc678"/><rect x="514.9" y="1727.5" width="32.3" height="16.4" fill="#f57747"/><rect x="546.8" y="1727.5" width="16.4" height="16.4" fill="#fdae61"/><rect x="562.8" y="1727.5" width="16.4" height="16.4" fill="#feeaa0"/><rect x="578.7" y="1727.5" width="8.4" height="16.4" fill="#fef8b4"/><rect x="395.1" y="1743.4" width="8.4" height="16.4" fill="#7cb3d4"/><rect x="403.1" y="1743.4" width="48.3" height="16.4" fill="#679dc9"/><rect x="451.0" y="1743.4" width="16.4" height="16.4" fill="#94c6df"/><rect x="467.0" y="1743.4" width="16.4" height="16.4" fill="#c4e5f0"/><rect x="482.9" y="1743.4" width="16.4" height="16.4" fill="#fef8b4"/><rect x="498.9" y="1743.4" width="16.4" height="16.4" fill="#fdc678"/><rect x="514.9" y="1743.4" width="32.3" height="16.4" fill="#f57747"/><rect x="546.8" y="1743.4" width="16.4" height="16.4" fill="#fdae61"/><rect x="562.8" y="1743.4" width="16.4" height="16.4" fill="#fddc8c"/><rect x="578.7" y="1743.4" width="8.4" height="16.4" fill="#fef8b4"/><rect x="395.1" y="1759.4" width="8.4" height="16.3" fill="#94c6df"/><rect x="403.1" y="1759.4" width="16.4" height="16.3" fill="#7cb3d4"/><rect x="419.1" y="1759.4" width="32.3" height="16.3" fill="#679dc9"/><rect x="451.0" y="1759.4" width="16.4" height="16.3" fill="#7cb3d4"/><rect x="467.0" y="1759.4" width="16.4" height="16.3" fill="#acd9e9"/><rect x="482.9" y="1759.4" width="16.4" height="16.3" fill="#fef8b4"/><rect x="498.9" y="1759.4" width="16.4" height="16.3" fill="#fdc678"/><rect x="514.9" y="1759.4" width="32.3" height="16.3" fill="#f57747"/><rect x="546.8" y="1759.4" width="16.4" height="16.3" fill="#f99354"/><rect x="562.8" y="1759.4" width="16.4" height="16.3" fill="#fddc8c"/><rect x="578.7" y="1759.4" width="8.4" height="16.3" fill="#feeaa0"/><rect x="395.1" y="1775.3" width="8.4" height="16.4" fill="#c4e5f0"/><rect x="403.1" y="1775.3" width="16.4" height="16.4" fill="#acd9e9"/><rect x="419.1" y="1775.3" width="32.3" height="16.4" fill="#94c6df"/><rect x="451.0" y="1775.3" width="16.4" height="16.4" fill="#acd9e9"/><rect x="467.0" y="1775.3" width="16.4" height="16.4" fill="#c4e5f0"/><rect x="482.9" y="1775.3" width="16.4" height="16.4" fill="#fef8b4"/><rect x="498.9" y="1775.3" width="16.4" height="16.4" fill="#fdc678"/><rect x="514.9" y="1775.3" width="32.3" height="16.4" fill="#f57747"/><rect x="546.8" y="1775.3" width="16.4" height="16.4" fill="#f99354"/><rect x="562.8" y="1775.3" width="16.4" height="16.4" fill="#fdc678"/><rect x="578.7" y="1775.3" width="8.4" height="16.4" fill="#fddc8c"/><rect x="395.1" y="1791.3" width="8.4" height="16.4" fill="#eaf7e3"/><rect x="403.1" y="1791.3" width="16.4" height="16.4" fill="#dbf0f6"/><rect x="419.1" y="1791.3" width="16.4" height="16.4" fill="#c4e5f0"/><rect x="435.0" y="1791.3" width="32.3" height="16.4" fill="#acd9e9"/><rect x="467.0" y="1791.3" width="16.4" height="16.4" fill="#dbf0f6"/><rect x="482.9" y="1791.3" width="16.4" height="16.4" fill="#feeaa0"/><rect x="498.9" y="1791.3" width="16.4" height="16.4" fill="#fdc678"/><rect x="514.9" y="1791.3" width="16.4" height="16.4" fill="#f99354"/><rect x="530.8" y="1791.3" width="16.4" height="16.4" fill="#f57747"/><rect x="546.8" y="1791.3" width="16.4" height="16.4" fill="#f99354"/><rect x="562.8" y="1791.3" width="16.4" height="16.4" fill="#fdae61"/><rect x="578.7" y="1791.3" width="8.4" height="16.4" fill="#fdc678"/><rect x="395.1" y="1807.2" width="8.4" height="16.4" fill="#fef8b4"/><rect x="403.1" y="1807.2" width="16.4" height="16.4" fill="#f8fccb"/><rect x="419.1" y="1807.2" width="64.3" height="16.4" fill="#eaf7e3"/><rect x="482.9" y="1807.2" width="16.4" height="16.4" fill="#feeaa0"/><rect x="498.9" y="1807.2" width="16.4" height="16.4" fill="#fdc678"/><rect x="514.9" y="1807.2" width="16.4" height="16.4" fill="#f99354"/><rect x="530.8" y="1807.2" width="16.4" height="16.4" fill="#f57747"/><rect x="546.8" y="1807.2" width="40.3" height="16.4" fill="#f99354"/><rect x="395.1" y="1823.2" width="8.4" height="16.4" fill="#fddc8c"/><rect x="403.1" y="1823.2" width="16.4" height="16.4" fill="#feeaa0"/><rect x="419.1" y="1823.2" width="48.3" height="16.4" fill="#fef8b4"/><rect x="467.0" y="1823.2" width="16.4" height="16.4" fill="#f8fccb"/><rect x="482.9" y="1823.2" width="16.4" height="16.4" fill="#fddc8c"/><rect x="498.9" y="1823.2" width="16.4" height="16.4" fill="#fdc678"/><rect x="514.9" y="1823.2" width="16.4" height="16.4" fill="#f99354"/><rect x="530.8" y="1823.2" width="56.3" height="16.4" fill="#f57747"/><rect x="395.1" y="1839.1" width="24.3" height="16.4" fill="#fdae61"/><rect x="419.1" y="1839.1" width="48.3" height="16.4" fill="#fdc678"/><rect x="467.0" y="1839.1" width="16.4" height="16.4" fill="#fddc8c"/><rect x="482.9" y="1839.1" width="16.4" height="16.4" fill="#fdc678"/><rect x="498.9" y="1839.1" width="16.4" height="16.4" fill="#fdae61"/><rect x="514.9" y="1839.1" width="16.4" height="16.4" fill="#f99354"/><rect x="530.8" y="1839.1" width="32.3" height="16.4" fill="#f57747"/><rect x="562.8" y="1839.1" width="24.4" height="16.4" fill="#ec5c3b"/><rect x="395.1" y="1855.1" width="8.4" height="16.4" fill="#f57747"/><rect x="403.1" y="1855.1" width="32.3" height="16.4" fill="#f99354"/><rect x="435.0" y="1855.1" width="32.3" height="16.4" fill="#fdae61"/><rect x="467.0" y="1855.1" width="32.3" height="16.4" fill="#fdc678"/><rect x="498.9" y="1855.1" width="16.4" height="16.4" fill="#fdae61"/><rect x="514.9" y="1855.1" width="16.4" height="16.4" fill="#f99354"/><rect x="530.8" y="1855.1" width="16.4" height="16.4" fill="#f57747"/><rect x="546.8" y="1855.1" width="16.4" height="16.4" fill="#ec5c3b"/><rect x="562.8" y="1855.1" width="24.4" height="16.4" fill="#df412f"/><rect x="395.1" y="1871.0" width="8.4" height="16.3" fill="#df412f"/><rect x="403.1" y="1871.0" width="16.4" height="16.3" fill="#ec5c3b"/><rect x="419.1" y="1871.0" width="32.3" height="16.3" fill="#f57747"/><rect x="451.0" y="1871.0" width="32.3" height="16.3" fill="#f99354"/><rect x="482.9" y="1871.0" width="16.4" height="16.3" fill="#fdae61"/><rect x="498.9" y="1871.0" width="16.4" height="16.3" fill="#f99354"/><rect x="514.9" y="1871.0" width="32.3" height="16.3" fill="#f57747"/><rect x="546.8" y="1871.0" width="16.4" height="16.3" fill="#ec5c3b"/><rect x="562.8" y="1871.0" width="16.4" height="16.3" fill="#df412f"/><rect x="578.7" y="1871.0" width="8.4" height="16.3" fill="#d02926"/><rect x="395.1" y="1887.0" width="24.3" height="16.4" fill="#d02926"/><rect x="419.1" y="1887.0" width="32.3" height="16.4" fill="#df412f"/><rect x="451.0" y="1887.0" width="32.3" height="16.4" fill="#ec5c3b"/><rect x="482.9" y="1887.0" width="48.3" height="16.4" fill="#f57747"/><rect x="530.8" y="1887.0" width="16.4" height="16.4" fill="#ec5c3b"/><rect x="546.8" y="1887.0" width="16.4" height="16.4" fill="#df412f"/><rect x="562.8" y="1887.0" width="16.4" height="16.4" fill="#d02926"/><rect x="578.7" y="1887.0" width="8.4" height="16.4" fill="#ba1426"/><rect x="395.1" y="1902.9" width="24.3" height="16.4" fill="#ba1426"/><rect x="419.1" y="1902.9" width="32.3" height="16.4" fill="#d02926"/><rect x="451.0" y="1902.9" width="32.3" height="16.4" fill="#df412f"/><rect x="482.9" y="1902.9" width="48.3" height="16.4" fill="#ec5c3b"/><rect x="530.8" y="1902.9" width="16.4" height="16.4" fill="#df412f"/><rect x="546.8" y="1902.9" width="16.4" height="16.4" fill="#d02926"/><rect x="562.8" y="1902.9" width="24.4" height="16.4" fill="#ba1426"/><rect x="395.1" y="1918.9" width="40.3" height="16.3" fill="#a50026"/><rect x="435.0" y="1918.9" width="16.4" height="16.3" fill="#ba1426"/><rect x="451.0" y="1918.9" width="32.3" height="16.3" fill="#d02926"/><rect x="482.9" y="1918.9" width="48.3" height="16.3" fill="#df412f"/><rect x="530.8" y="1918.9" width="16.4" height="16.3" fill="#d02926"/><rect x="546.8" y="1918.9" width="32.3" height="16.3" fill="#ba1426"/><rect x="578.7" y="1918.9" width="8.4" height="16.3" fill="#a50026"/><rect x="395.1" y="1934.8" width="40.3" height="8.4" fill="#a50026"/><rect x="435.0" y="1934.8" width="32.3" height="8.4" fill="#ba1426"/><rect x="467.0" y="1934.8" width="64.3" height="8.4" fill="#d02926"/><rect x="530.8" y="1934.8" width="32.3" height="8.4" fill="#ba1426"/><rect x="562.8" y="1934.8" width="24.4" height="8.4" fill="#a50026"/></g><g id="pI"><rect x="650.6" y="1366.8" width="8.4" height="8.4" fill="#dbf0f6"/><rect x="658.6" y="1366.8" width="16.4" height="8.4" fill="#eaf7e3"/><rect x="674.6" y="1366.8" width="16.4" height="8.4" fill="#f8fccb"/><rect x="690.5" y="1366.8" width="16.4" height="8.4" fill="#fef8b4"/><rect x="706.5" y="1366.8" width="16.4" height="8.4" fill="#feeaa0"/><rect x="722.5" y="1366.8" width="16.4" height="8.4" fill="#fddc8c"/><rect x="738.4" y="1366.8" width="16.4" height="8.4" fill="#feeaa0"/><rect x="754.4" y="1366.8" width="16.4" height="8.4" fill="#fef8b4"/><rect x="770.4" y="1366.8" width="16.4" height="8.4" fill="#dbf0f6"/><rect x="786.3" y="1366.8" width="16.4" height="8.4" fill="#c4e5f0"/><rect x="802.3" y="1366.8" width="32.3" height="8.4" fill="#acd9e9"/><rect x="834.2" y="1366.8" width="8.4" height="8.4" fill="#94c6df"/><rect x="650.6" y="1374.8" width="8.4" height="16.4" fill="#dbf0f6"/><rect x="658.6" y="1374.8" width="16.4" height="16.4" fill="#eaf7e3"/><rect x="674.6" y="1374.8" width="16.4" height="16.4" fill="#fef8b4"/><rect x="690.5" y="1374.8" width="16.4" height="16.4" fill="#feeaa0"/><rect x="706.5" y="1374.8" width="16.4" height="16.4" fill="#fddc8c"/><rect x="722.5" y="1374.8" width="32.3" height="16.4" fill="#fdae61"/><rect x="754.4" y="1374.8" width="16.4" height="16.4" fill="#fdc678"/><rect x="770.4" y="1374.8" width="16.4" height="16.4" fill="#eaf7e3"/><rect x="786.3" y="1374.8" width="16.4" height="16.4" fill="#c4e5f0"/><rect x="802.3" y="1374.8" width="16.4" height="16.4" fill="#94c6df"/><rect x="818.2" y="1374.8" width="24.4" height="16.4" fill="#7cb3d4"/><rect x="650.6" y="1390.7" width="8.4" height="16.4" fill="#dbf0f6"/><rect x="658.6" y="1390.7" width="16.4" height="16.4" fill="#eaf7e3"/><rect x="674.6" y="1390.7" width="16.4" height="16.4" fill="#f8fccb"/><rect x="690.5" y="1390.7" width="16.4" height="16.4" fill="#fef8b4"/><rect x="706.5" y="1390.7" width="16.4" height="16.4" fill="#feeaa0"/><rect x="722.5" y="1390.7" width="48.3" height="16.4" fill="#fdc678"/><rect x="770.4" y="1390.7" width="16.4" height="16.4" fill="#eaf7e3"/><rect x="786.3" y="1390.7" width="16.4" height="16.4" fill="#c4e5f0"/><rect x="802.3" y="1390.7" width="16.4" height="16.4" fill="#7cb3d4"/><rect x="818.2" y="1390.7" width="24.4" height="16.4" fill="#5285bc"/><rect x="650.6" y="1406.7" width="8.4" height="16.4" fill="#acd9e9"/><rect x="658.6" y="1406.7" width="16.4" height="16.4" fill="#c4e5f0"/><rect x="674.6" y="1406.7" width="32.3" height="16.4" fill="#acd9e9"/><rect x="706.5" y="1406.7" width="16.4" height="16.4" fill="#dbf0f6"/><rect x="722.5" y="1406.7" width="16.4" height="16.4" fill="#f8fccb"/><rect x="738.4" y="1406.7" width="32.3" height="16.4" fill="#feeaa0"/><rect x="770.4" y="1406.7" width="16.4" height="16.4" fill="#eaf7e3"/><rect x="786.3" y="1406.7" width="16.4" height="16.4" fill="#dbf0f6"/><rect x="802.3" y="1406.7" width="16.4" height="16.4" fill="#7cb3d4"/><rect x="818.2" y="1406.7" width="16.4" height="16.4" fill="#5285bc"/><rect x="834.2" y="1406.7" width="8.4" height="16.4" fill="#3951a2"/><rect x="650.6" y="1422.6" width="56.3" height="16.4" fill="#7cb3d4"/><rect x="706.5" y="1422.6" width="16.4" height="16.4" fill="#94c6df"/><rect x="722.5" y="1422.6" width="16.4" height="16.4" fill="#eaf7e3"/><rect x="738.4" y="1422.6" width="16.4" height="16.4" fill="#f8fccb"/><rect x="754.4" y="1422.6" width="16.4" height="16.4" fill="#fef8b4"/><rect x="770.4" y="1422.6" width="16.4" height="16.4" fill="#f8fccb"/><rect x="786.3" y="1422.6" width="16.4" height="16.4" fill="#dbf0f6"/><rect x="802.3" y="1422.6" width="16.4" height="16.4" fill="#7cb3d4"/><rect x="818.2" y="1422.6" width="16.4" height="16.4" fill="#5285bc"/><rect x="834.2" y="1422.6" width="8.4" height="16.4" fill="#426caf"/><rect x="650.6" y="1438.6" width="8.4" height="16.3" fill="#5285bc"/><rect x="658.6" y="1438.6" width="16.4" height="16.3" fill="#426caf"/><rect x="674.6" y="1438.6" width="32.3" height="16.3" fill="#3951a2"/><rect x="706.5" y="1438.6" width="16.4" height="16.3" fill="#679dc9"/><rect x="722.5" y="1438.6" width="16.4" height="16.3" fill="#c4e5f0"/><rect x="738.4" y="1438.6" width="16.4" height="16.3" fill="#eaf7e3"/><rect x="754.4" y="1438.6" width="32.3" height="16.3" fill="#f8fccb"/><rect x="786.3" y="1438.6" width="16.4" height="16.3" fill="#dbf0f6"/><rect x="802.3" y="1438.6" width="16.4" height="16.3" fill="#94c6df"/><rect x="818.2" y="1438.6" width="16.4" height="16.3" fill="#679dc9"/><rect x="834.2" y="1438.6" width="8.4" height="16.3" fill="#5285bc"/><rect x="650.6" y="1454.5" width="8.4" height="16.4" fill="#5285bc"/><rect x="658.6" y="1454.5" width="16.4" height="16.4" fill="#426caf"/><rect x="674.6" y="1454.5" width="32.3" height="16.4" fill="#3951a2"/><rect x="706.5" y="1454.5" width="16.4" height="16.4" fill="#5285bc"/><rect x="722.5" y="1454.5" width="16.4" height="16.4" fill="#acd9e9"/><rect x="738.4" y="1454.5" width="16.4" height="16.4" fill="#dbf0f6"/><rect x="754.4" y="1454.5" width="32.3" height="16.4" fill="#eaf7e3"/><rect x="786.3" y="1454.5" width="16.4" height="16.4" fill="#dbf0f6"/><rect x="802.3" y="1454.5" width="16.4" height="16.4" fill="#acd9e9"/><rect x="818.2" y="1454.5" width="24.4" height="16.4" fill="#7cb3d4"/><rect x="650.6" y="1470.5" width="8.4" height="16.4" fill="#7cb3d4"/><rect x="658.6" y="1470.5" width="16.4" height="16.4" fill="#679dc9"/><rect x="674.6" y="1470.5" width="16.4" height="16.4" fill="#5285bc"/><rect x="690.5" y="1470.5" width="16.4" height="16.4" fill="#426caf"/><rect x="706.5" y="1470.5" width="16.4" height="16.4" fill="#679dc9"/><rect x="722.5" y="1470.5" width="16.4" height="16.4" fill="#acd9e9"/><rect x="738.4" y="1470.5" width="16.4" height="16.4" fill="#c4e5f0"/><rect x="754.4" y="1470.5" width="48.3" height="16.4" fill="#dbf0f6"/><rect x="802.3" y="1470.5" width="16.4" height="16.4" fill="#c4e5f0"/><rect x="818.2" y="1470.5" width="24.4" height="16.4" fill="#acd9e9"/><rect x="650.6" y="1486.4" width="8.4" height="16.4" fill="#acd9e9"/><rect x="658.6" y="1486.4" width="16.4" height="16.4" fill="#94c6df"/><rect x="674.6" y="1486.4" width="48.3" height="16.4" fill="#7cb3d4"/><rect x="722.5" y="1486.4" width="16.4" height="16.4" fill="#94c6df"/><rect x="738.4" y="1486.4" width="16.4" height="16.4" fill="#acd9e9"/><rect x="754.4" y="1486.4" width="16.4" height="16.4" fill="#c4e5f0"/><rect x="770.4" y="1486.4" width="32.3" height="16.4" fill="#dbf0f6"/><rect x="802.3" y="1486.4" width="40.3" height="16.4" fill="#c4e5f0"/><rect x="650.6" y="1502.4" width="8.4" height="16.4" fill="#dbf0f6"/><rect x="658.6" y="1502.4" width="16.4" height="16.4" fill="#c4e5f0"/><rect x="674.6" y="1502.4" width="80.2" height="16.4" fill="#acd9e9"/><rect x="754.4" y="1502.4" width="16.4" height="16.4" fill="#c4e5f0"/><rect x="770.4" y="1502.4" width="72.3" height="16.4" fill="#dbf0f6"/><rect x="650.6" y="1518.3" width="24.4" height="16.4" fill="#f8fccb"/><rect x="674.6" y="1518.3" width="16.4" height="16.4" fill="#eaf7e3"/><rect x="690.5" y="1518.3" width="32.3" height="16.4" fill="#dbf0f6"/><rect x="722.5" y="1518.3" width="32.3" height="16.4" fill="#c4e5f0"/><rect x="754.4" y="1518.3" width="16.4" height="16.4" fill="#dbf0f6"/><rect x="770.4" y="1518.3" width="72.3" height="16.4" fill="#eaf7e3"/><rect x="650.6" y="1534.3" width="8.4" height="16.3" fill="#f8fccb"/><rect x="658.6" y="1534.3" width="48.3" height="16.3" fill="#fef8b4"/><rect x="706.5" y="1534.3" width="16.4" height="16.3" fill="#f8fccb"/><rect x="722.5" y="1534.3" width="48.3" height="16.3" fill="#eaf7e3"/><rect x="770.4" y="1534.3" width="72.3" height="16.3" fill="#f8fccb"/><rect x="650.6" y="1550.2" width="8.4" height="16.4" fill="#f8fccb"/><rect x="658.6" y="1550.2" width="32.3" height="16.4" fill="#fef8b4"/><rect x="690.5" y="1550.2" width="16.4" height="16.4" fill="#feeaa0"/><rect x="706.5" y="1550.2" width="32.3" height="16.4" fill="#fef8b4"/><rect x="738.4" y="1550.2" width="104.2" height="16.4" fill="#f8fccb"/><rect x="650.6" y="1566.2" width="8.4" height="16.4" fill="#dbf0f6"/><rect x="658.6" y="1566.2" width="16.4" height="16.4" fill="#eaf7e3"/><rect x="674.6" y="1566.2" width="16.4" height="16.4" fill="#f8fccb"/><rect x="690.5" y="1566.2" width="48.3" height="16.4" fill="#fef8b4"/><rect x="738.4" y="1566.2" width="16.4" height="16.4" fill="#feeaa0"/><rect x="754.4" y="1566.2" width="16.4" height="16.4" fill="#fddc8c"/><rect x="770.4" y="1566.2" width="32.3" height="16.4" fill="#fef8b4"/><rect x="802.3" y="1566.2" width="16.4" height="16.4" fill="#f8fccb"/><rect x="818.2" y="1566.2" width="24.4" height="16.4" fill="#eaf7e3"/><rect x="650.6" y="1582.1" width="8.4" height="16.4" fill="#c4e5f0"/><rect x="658.6" y="1582.1" width="16.4" height="16.4" fill="#dbf0f6"/><rect x="674.6" y="1582.1" width="16.4" height="16.4" fill="#eaf7e3"/><rect x="690.5" y="1582.1" width="48.3" height="16.4" fill="#f8fccb"/><rect x="738.4" y="1582.1" width="16.4" height="16.4" fill="#fef8b4"/><rect x="754.4" y="1582.1" width="16.4" height="16.4" fill="#feeaa0"/><rect x="770.4" y="1582.1" width="16.4" height="16.4" fill="#fef8b4"/><rect x="786.3" y="1582.1" width="16.4" height="16.4" fill="#f8fccb"/><rect x="802.3" y="1582.1" width="32.3" height="16.4" fill="#eaf7e3"/><rect x="834.2" y="1582.1" width="8.4" height="16.4" fill="#dbf0f6"/><rect x="650.6" y="1598.1" width="8.4" height="16.4" fill="#94c6df"/><rect x="658.6" y="1598.1" width="16.4" height="16.4" fill="#acd9e9"/><rect x="674.6" y="1598.1" width="16.4" height="16.4" fill="#c4e5f0"/><rect x="690.5" y="1598.1" width="16.4" height="16.4" fill="#dbf0f6"/><rect x="706.5" y="1598.1" width="32.3" height="16.4" fill="#eaf7e3"/><rect x="738.4" y="1598.1" width="16.4" height="16.4" fill="#f8fccb"/><rect x="754.4" y="1598.1" width="16.4" height="16.4" fill="#fef8b4"/><rect x="770.4" y="1598.1" width="16.4" height="16.4" fill="#f8fccb"/><rect x="786.3" y="1598.1" width="16.4" height="16.4" fill="#eaf7e3"/><rect x="802.3" y="1598.1" width="40.3" height="16.4" fill="#dbf0f6"/><rect x="650.6" y="1614.0" width="24.4" height="16.3" fill="#7cb3d4"/><rect x="674.6" y="1614.0" width="16.4" height="16.3" fill="#94c6df"/><rect x="690.5" y="1614.0" width="16.4" height="16.3" fill="#acd9e9"/><rect x="706.5" y="1614.0" width="32.3" height="16.3" fill="#c4e5f0"/><rect x="738.4" y="1614.0" width="48.3" height="16.3" fill="#dbf0f6"/><rect x="786.3" y="1614.0" width="56.3" height="16.3" fill="#c4e5f0"/><rect x="650.6" y="1630.0" width="8.4" height="16.4" fill="#5285bc"/><rect x="658.6" y="1630.0" width="16.4" height="16.4" fill="#679dc9"/><rect x="674.6" y="1630.0" width="16.4" height="16.4" fill="#7cb3d4"/><rect x="690.5" y="1630.0" width="32.3" height="16.4" fill="#94c6df"/><rect x="722.5" y="1630.0" width="32.3" height="16.4" fill="#acd9e9"/><rect x="754.4" y="1630.0" width="16.4" height="16.4" fill="#c4e5f0"/><rect x="770.4" y="1630.0" width="72.3" height="16.4" fill="#acd9e9"/><rect x="650.6" y="1645.9" width="8.4" height="16.4" fill="#426caf"/><rect x="658.6" y="1645.9" width="16.4" height="16.4" fill="#5285bc"/><rect x="674.6" y="1645.9" width="48.3" height="16.4" fill="#7cb3d4"/><rect x="722.5" y="1645.9" width="120.2" height="16.4" fill="#94c6df"/><rect x="650.6" y="1661.9" width="8.4" height="16.4" fill="#3951a2"/><rect x="658.6" y="1661.9" width="16.4" height="16.4" fill="#426caf"/><rect x="674.6" y="1661.9" width="32.3" height="16.4" fill="#679dc9"/><rect x="706.5" y="1661.9" width="112.2" height="16.4" fill="#7cb3d4"/><rect x="818.2" y="1661.9" width="24.4" height="16.4" fill="#94c6df"/><rect x="650.6" y="1677.8" width="8.4" height="16.4" fill="#3951a2"/><rect x="658.6" y="1677.8" width="16.4" height="16.4" fill="#426caf"/><rect x="674.6" y="1677.8" width="32.3" height="16.4" fill="#5285bc"/><rect x="706.5" y="1677.8" width="32.3" height="16.4" fill="#679dc9"/><rect x="738.4" y="1677.8" width="104.2" height="16.4" fill="#7cb3d4"/><rect x="650.6" y="1693.8" width="8.4" height="16.3" fill="#3951a2"/><rect x="658.6" y="1693.8" width="16.4" height="16.3" fill="#313695"/><rect x="674.6" y="1693.8" width="16.4" height="16.3" fill="#426caf"/><rect x="690.5" y="1693.8" width="32.3" height="16.3" fill="#5285bc"/><rect x="722.5" y="1693.8" width="32.3" height="16.3" fill="#679dc9"/><rect x="754.4" y="1693.8" width="80.2" height="16.3" fill="#7cb3d4"/><rect x="834.2" y="1693.8" width="8.4" height="16.3" fill="#94c6df"/><rect x="650.6" y="1709.7" width="8.4" height="16.4" fill="#3951a2"/><rect x="658.6" y="1709.7" width="16.4" height="16.4" fill="#313695"/><rect x="674.6" y="1709.7" width="16.4" height="16.4" fill="#426caf"/><rect x="690.5" y="1709.7" width="32.3" height="16.4" fill="#5285bc"/><rect x="722.5" y="1709.7" width="32.3" height="16.4" fill="#679dc9"/><rect x="754.4" y="1709.7" width="64.3" height="16.4" fill="#7cb3d4"/><rect x="818.2" y="1709.7" width="24.4" height="16.4" fill="#94c6df"/><rect x="650.6" y="1725.7" width="8.4" height="16.4" fill="#426caf"/><rect x="658.6" y="1725.7" width="16.4" height="16.4" fill="#3951a2"/><rect x="674.6" y="1725.7" width="16.4" height="16.4" fill="#426caf"/><rect x="690.5" y="1725.7" width="16.4" height="16.4" fill="#5285bc"/><rect x="706.5" y="1725.7" width="16.4" height="16.4" fill="#679dc9"/><rect x="722.5" y="1725.7" width="32.3" height="16.4" fill="#7cb3d4"/><rect x="754.4" y="1725.7" width="88.2" height="16.4" fill="#94c6df"/><rect x="650.6" y="1741.6" width="24.4" height="16.4" fill="#426caf"/><rect x="674.6" y="1741.6" width="16.4" height="16.4" fill="#5285bc"/><rect x="690.5" y="1741.6" width="16.4" height="16.4" fill="#679dc9"/><rect x="706.5" y="1741.6" width="32.3" height="16.4" fill="#7cb3d4"/><rect x="738.4" y="1741.6" width="16.4" height="16.4" fill="#94c6df"/><rect x="754.4" y="1741.6" width="32.3" height="16.4" fill="#acd9e9"/><rect x="786.3" y="1741.6" width="56.3" height="16.4" fill="#94c6df"/><rect x="650.6" y="1757.6" width="40.3" height="16.4" fill="#5285bc"/><rect x="690.5" y="1757.6" width="16.4" height="16.4" fill="#679dc9"/><rect x="706.5" y="1757.6" width="16.4" height="16.4" fill="#7cb3d4"/><rect x="722.5" y="1757.6" width="16.4" height="16.4" fill="#94c6df"/><rect x="738.4" y="1757.6" width="104.2" height="16.4" fill="#acd9e9"/><rect x="650.6" y="1773.5" width="56.3" height="16.3" fill="#679dc9"/><rect x="706.5" y="1773.5" width="16.4" height="16.3" fill="#7cb3d4"/><rect x="722.5" y="1773.5" width="16.4" height="16.3" fill="#94c6df"/><rect x="738.4" y="1773.5" width="16.4" height="16.3" fill="#acd9e9"/><rect x="754.4" y="1773.5" width="16.4" height="16.3" fill="#c4e5f0"/><rect x="770.4" y="1773.5" width="64.3" height="16.3" fill="#acd9e9"/><rect x="834.2" y="1773.5" width="8.4" height="16.3" fill="#c4e5f0"/><rect x="650.6" y="1789.5" width="8.4" height="16.4" fill="#7cb3d4"/><rect x="658.6" y="1789.5" width="32.3" height="16.4" fill="#679dc9"/><rect x="690.5" y="1789.5" width="32.3" height="16.4" fill="#7cb3d4"/><rect x="722.5" y="1789.5" width="16.4" height="16.4" fill="#94c6df"/><rect x="738.4" y="1789.5" width="104.2" height="16.4" fill="#acd9e9"/><rect x="650.6" y="1805.4" width="8.4" height="16.4" fill="#94c6df"/><rect x="658.6" y="1805.4" width="48.3" height="16.4" fill="#7cb3d4"/><rect x="706.5" y="1805.4" width="32.3" height="16.4" fill="#94c6df"/><rect x="738.4" y="1805.4" width="16.4" height="16.4" fill="#acd9e9"/><rect x="754.4" y="1805.4" width="32.3" height="16.4" fill="#c4e5f0"/><rect x="786.3" y="1805.4" width="56.3" height="16.4" fill="#acd9e9"/><rect x="650.6" y="1821.4" width="8.4" height="16.4" fill="#c4e5f0"/><rect x="658.6" y="1821.4" width="16.4" height="16.4" fill="#acd9e9"/><rect x="674.6" y="1821.4" width="48.3" height="16.4" fill="#94c6df"/><rect x="722.5" y="1821.4" width="16.4" height="16.4" fill="#acd9e9"/><rect x="738.4" y="1821.4" width="16.4" height="16.4" fill="#c4e5f0"/><rect x="754.4" y="1821.4" width="16.4" height="16.4" fill="#dbf0f6"/><rect x="770.4" y="1821.4" width="16.4" height="16.4" fill="#c4e5f0"/><rect x="786.3" y="1821.4" width="56.3" height="16.4" fill="#acd9e9"/><rect x="650.6" y="1837.3" width="8.4" height="16.4" fill="#eaf7e3"/><rect x="658.6" y="1837.3" width="16.4" height="16.4" fill="#dbf0f6"/><rect x="674.6" y="1837.3" width="64.3" height="16.4" fill="#c4e5f0"/><rect x="738.4" y="1837.3" width="96.2" height="16.4" fill="#dbf0f6"/><rect x="834.2" y="1837.3" width="8.4" height="16.4" fill="#c4e5f0"/><rect x="650.6" y="1853.3" width="8.4" height="16.3" fill="#fef8b4"/><rect x="658.6" y="1853.3" width="32.3" height="16.3" fill="#eaf7e3"/><rect x="690.5" y="1853.3" width="152.1" height="16.3" fill="#dbf0f6"/><rect x="650.6" y="1869.2" width="8.4" height="16.4" fill="#fddc8c"/><rect x="658.6" y="1869.2" width="16.4" height="16.4" fill="#feeaa0"/><rect x="674.6" y="1869.2" width="16.4" height="16.4" fill="#f8fccb"/><rect x="690.5" y="1869.2" width="32.3" height="16.4" fill="#eaf7e3"/><rect x="722.5" y="1869.2" width="16.4" height="16.4" fill="#dbf0f6"/><rect x="738.4" y="1869.2" width="48.3" height="16.4" fill="#eaf7e3"/><rect x="786.3" y="1869.2" width="56.3" height="16.4" fill="#dbf0f6"/><rect x="650.6" y="1885.2" width="8.4" height="16.4" fill="#fdae61"/><rect x="658.6" y="1885.2" width="16.4" height="16.4" fill="#fdc678"/><rect x="674.6" y="1885.2" width="16.4" height="16.4" fill="#fef8b4"/><rect x="690.5" y="1885.2" width="32.3" height="16.4" fill="#f8fccb"/><rect x="722.5" y="1885.2" width="96.2" height="16.4" fill="#eaf7e3"/><rect x="818.2" y="1885.2" width="24.4" height="16.4" fill="#dbf0f6"/><rect x="650.6" y="1901.1" width="8.4" height="16.4" fill="#f99354"/><rect x="658.6" y="1901.1" width="16.4" height="16.4" fill="#fdc678"/><rect x="674.6" y="1901.1" width="16.4" height="16.4" fill="#fddc8c"/><rect x="690.5" y="1901.1" width="16.4" height="16.4" fill="#fef8b4"/><rect x="706.5" y="1901.1" width="32.3" height="16.4" fill="#f8fccb"/><rect x="738.4" y="1901.1" width="80.2" height="16.4" fill="#eaf7e3"/><rect x="818.2" y="1901.1" width="24.4" height="16.4" fill="#dbf0f6"/><rect x="650.6" y="1917.1" width="8.4" height="16.4" fill="#f99354"/><rect x="658.6" y="1917.1" width="16.4" height="16.4" fill="#fdae61"/><rect x="674.6" y="1917.1" width="16.4" height="16.4" fill="#fddc8c"/><rect x="690.5" y="1917.1" width="16.4" height="16.4" fill="#feeaa0"/><rect x="706.5" y="1917.1" width="16.4" height="16.4" fill="#fef8b4"/><rect x="722.5" y="1917.1" width="16.4" height="16.4" fill="#f8fccb"/><rect x="738.4" y="1917.1" width="96.2" height="16.4" fill="#eaf7e3"/><rect x="834.2" y="1917.1" width="8.4" height="16.4" fill="#dbf0f6"/><rect x="650.6" y="1933.0" width="8.4" height="8.4" fill="#f99354"/><rect x="658.6" y="1933.0" width="16.4" height="8.4" fill="#fdc678"/><rect x="674.6" y="1933.0" width="16.4" height="8.4" fill="#fddc8c"/><rect x="690.5" y="1933.0" width="16.4" height="8.4" fill="#feeaa0"/><rect x="706.5" y="1933.0" width="16.4" height="8.4" fill="#fef8b4"/><rect x="722.5" y="1933.0" width="32.3" height="8.4" fill="#f8fccb"/><rect x="754.4" y="1933.0" width="88.2" height="8.4" fill="#eaf7e3"/></g><g stroke="#000" stroke-opacity="0.3" stroke-width="2.2" stroke-dasharray="9.6,4.4" fill="none" shape-rendering="auto"><line x1="161.7" y1="63.6" x2="161.7" y2="637.8"/><line x1="193.7" y1="63.6" x2="193.7" y2="637.8"/><line x1="225.6" y1="63.6" x2="225.6" y2="637.8"/><line x1="257.5" y1="63.6" x2="257.5" y2="637.8"/><line x1="289.5" y1="63.6" x2="289.5" y2="637.8"/><line x1="129.8" y1="159.3" x2="321.4" y2="159.3"/><line x1="129.8" y1="255.0" x2="321.4" y2="255.0"/><line x1="129.8" y1="350.7" x2="321.4" y2="350.7"/><line x1="129.8" y1="446.4" x2="321.4" y2="446.4"/><line x1="129.8" y1="542.1" x2="321.4" y2="542.1"/><line x1="423.3" y1="57.6" x2="423.3" y2="631.8"/><line x1="455.2" y1="57.6" x2="455.2" y2="631.8"/><line x1="487.2" y1="57.6" x2="487.2" y2="631.8"/><line x1="519.1" y1="57.6" x2="519.1" y2="631.8"/><line x1="551.0" y1="57.6" x2="551.0" y2="631.8"/><line x1="391.4" y1="153.3" x2="583.0" y2="153.3"/><line x1="391.4" y1="249.0" x2="583.0" y2="249.0"/><line x1="391.4" y1="344.7" x2="583.0" y2="344.7"/><line x1="391.4" y1="440.4" x2="583.0" y2="440.4"/><line x1="391.4" y1="536.1" x2="583.0" y2="536.1"/><line x1="683.4" y1="55.4" x2="683.4" y2="629.6"/><line x1="715.4" y1="55.4" x2="715.4" y2="629.6"/><line x1="747.3" y1="55.4" x2="747.3" y2="629.6"/><line x1="779.2" y1="55.4" x2="779.2" y2="629.6"/><line x1="811.2" y1="55.4" x2="811.2" y2="629.6"/><line x1="651.5" y1="151.1" x2="843.1" y2="151.1"/><line x1="651.5" y1="246.8" x2="843.1" y2="246.8"/><line x1="651.5" y1="342.5" x2="843.1" y2="342.5"/><line x1="651.5" y1="438.2" x2="843.1" y2="438.2"/><line x1="651.5" y1="533.9" x2="843.1" y2="533.9"/><line x1="163.1" y1="722.0" x2="163.1" y2="1296.2"/><line x1="195.1" y1="722.0" x2="195.1" y2="1296.2"/><line x1="227.0" y1="722.0" x2="227.0" y2="1296.2"/><line x1="258.9" y1="722.0" x2="258.9" y2="1296.2"/><line x1="290.9" y1="722.0" x2="290.9" y2="1296.2"/><line x1="131.2" y1="817.7" x2="322.8" y2="817.7"/><line x1="131.2" y1="913.4" x2="322.8" y2="913.4"/><line x1="131.2" y1="1009.1" x2="322.8" y2="1009.1"/><line x1="131.2" y1="1104.8" x2="322.8" y2="1104.8"/><line x1="131.2" y1="1200.5" x2="322.8" y2="1200.5"/><line x1="424.6" y1="718.5" x2="424.6" y2="1292.7"/><line x1="456.6" y1="718.5" x2="456.6" y2="1292.7"/><line x1="488.5" y1="718.5" x2="488.5" y2="1292.7"/><line x1="520.4" y1="718.5" x2="520.4" y2="1292.7"/><line x1="552.4" y1="718.5" x2="552.4" y2="1292.7"/><line x1="392.7" y1="814.2" x2="584.3" y2="814.2"/><line x1="392.7" y1="909.9" x2="584.3" y2="909.9"/><line x1="392.7" y1="1005.6" x2="584.3" y2="1005.6"/><line x1="392.7" y1="1101.3" x2="584.3" y2="1101.3"/><line x1="392.7" y1="1197.0" x2="584.3" y2="1197.0"/><line x1="679.2" y1="717.7" x2="679.2" y2="1291.9"/><line x1="711.2" y1="717.7" x2="711.2" y2="1291.9"/><line x1="743.1" y1="717.7" x2="743.1" y2="1291.9"/><line x1="775.0" y1="717.7" x2="775.0" y2="1291.9"/><line x1="807.0" y1="717.7" x2="807.0" y2="1291.9"/><line x1="647.3" y1="813.4" x2="838.9" y2="813.4"/><line x1="647.3" y1="909.1" x2="838.9" y2="909.1"/><line x1="647.3" y1="1004.8" x2="838.9" y2="1004.8"/><line x1="647.3" y1="1100.5" x2="838.9" y2="1100.5"/><line x1="647.3" y1="1196.2" x2="838.9" y2="1196.2"/><line x1="166.3" y1="1365.3" x2="166.3" y2="1939.5"/><line x1="198.3" y1="1365.3" x2="198.3" y2="1939.5"/><line x1="230.2" y1="1365.3" x2="230.2" y2="1939.5"/><line x1="262.1" y1="1365.3" x2="262.1" y2="1939.5"/><line x1="294.1" y1="1365.3" x2="294.1" y2="1939.5"/><line x1="134.4" y1="1461.0" x2="326.0" y2="1461.0"/><line x1="134.4" y1="1556.7" x2="326.0" y2="1556.7"/><line x1="134.4" y1="1652.4" x2="326.0" y2="1652.4"/><line x1="134.4" y1="1748.1" x2="326.0" y2="1748.1"/><line x1="134.4" y1="1843.8" x2="326.0" y2="1843.8"/><line x1="427.0" y1="1368.6" x2="427.0" y2="1942.8"/><line x1="459.0" y1="1368.6" x2="459.0" y2="1942.8"/><line x1="490.9" y1="1368.6" x2="490.9" y2="1942.8"/><line x1="522.8" y1="1368.6" x2="522.8" y2="1942.8"/><line x1="554.8" y1="1368.6" x2="554.8" y2="1942.8"/><line x1="395.1" y1="1464.3" x2="586.7" y2="1464.3"/><line x1="395.1" y1="1560.0" x2="586.7" y2="1560.0"/><line x1="395.1" y1="1655.7" x2="586.7" y2="1655.7"/><line x1="395.1" y1="1751.4" x2="586.7" y2="1751.4"/><line x1="395.1" y1="1847.1" x2="586.7" y2="1847.1"/><line x1="682.5" y1="1366.8" x2="682.5" y2="1941.0"/><line x1="714.5" y1="1366.8" x2="714.5" y2="1941.0"/><line x1="746.4" y1="1366.8" x2="746.4" y2="1941.0"/><line x1="778.3" y1="1366.8" x2="778.3" y2="1941.0"/><line x1="810.3" y1="1366.8" x2="810.3" y2="1941.0"/><line x1="650.6" y1="1462.5" x2="842.2" y2="1462.5"/><line x1="650.6" y1="1558.2" x2="842.2" y2="1558.2"/><line x1="650.6" y1="1653.9" x2="842.2" y2="1653.9"/><line x1="650.6" y1="1749.6" x2="842.2" y2="1749.6"/><line x1="650.6" y1="1845.3" x2="842.2" y2="1845.3"/></g><g fill="none" stroke="#000" stroke-width="2.4" stroke-dasharray="5.5,3" stroke-linejoin="round" stroke-linecap="butt" shape-rendering="auto"><path transform="translate(129.8,63.6)" d="M79.5,25.0 C80.5,22.4 84.6,22.0 87.4,22.4 C90.2,22.8 93.0,26.1 96.5,27.6 C100.0,29.1 105.8,28.2 108.2,31.5 C110.6,34.8 111.0,42.9 110.8,47.2 C110.6,51.6 108.2,54.4 106.9,57.6 C105.6,60.9 102.1,63.7 103.0,66.7 C103.9,69.7 110.5,72.3 112.1,75.8 C113.7,79.3 111.6,84.0 112.7,87.5 C113.8,91.0 116.8,93.6 118.6,96.6 C120.4,99.6 123.4,102.4 123.8,105.7 C124.2,109.0 122.9,114.0 121.2,116.2 C119.5,118.4 115.4,116.2 113.4,118.8 C111.5,121.4 110.6,127.7 109.5,131.8 C108.4,135.9 108.0,140.7 106.9,143.5 C105.8,146.3 105.4,146.8 103.0,148.7 C100.6,150.6 95.6,153.7 92.6,155.2 C89.6,156.7 86.6,159.5 84.8,157.8 C83.0,156.1 82.2,150.2 81.5,144.8 C80.8,139.4 80.5,131.8 80.8,125.3 C81.1,118.8 82.5,112.0 83.4,105.7 C84.3,99.4 85.8,93.6 86.1,87.5 C86.4,81.4 85.7,74.9 85.4,69.3 C85.1,63.7 84.8,58.9 84.1,53.7 C83.4,48.5 82.3,42.8 81.5,38.0 C80.7,33.2 78.5,27.6 79.5,25.0"/><path transform="translate(129.8,63.6)" d="M76.9,202.0 C79.3,197.7 85.7,195.0 88.7,194.1 C91.8,193.2 94.1,193.4 95.2,196.7 C96.3,200.0 95.6,208.0 95.2,213.7 C94.8,219.3 93.0,225.8 92.6,230.6 C92.2,235.4 92.8,238.6 92.6,242.3 C92.4,246.0 92.8,250.5 91.3,252.7 C89.8,254.9 86.0,255.3 83.4,255.3 C80.8,255.3 77.1,255.3 75.6,252.7 C74.1,250.1 74.5,245.1 74.3,239.7 C74.1,234.3 73.9,226.5 74.3,220.2 C74.7,213.9 74.5,206.3 76.9,202.0"/><path transform="translate(129.8,63.6)" d="M83.4,257.9 C85.2,254.8 90.0,258.1 92.6,260.5 C95.2,262.9 98.2,267.1 99.1,272.3 C100.0,277.5 97.8,286.6 97.8,291.8 C97.8,297.0 100.2,300.9 99.1,303.5 C98.0,306.1 93.9,307.2 91.3,307.4 C88.7,307.6 85.2,307.0 83.4,304.8 C81.7,302.6 81.0,298.7 80.8,294.4 C80.6,290.1 81.7,284.9 82.1,278.8 C82.5,272.7 81.7,260.9 83.4,257.9"/><path transform="translate(129.8,63.6)" d="M116.0,171.5 C118.0,167.4 122.9,173.4 126.4,176.1 C129.9,178.8 134.2,184.4 136.8,187.6 C139.4,190.8 143.1,192.3 142.0,195.4 C140.9,198.5 133.1,202.9 130.3,205.9 C127.5,208.9 125.8,209.8 125.1,213.7 C124.4,217.6 125.8,223.7 126.4,229.3 C127.1,234.9 127.0,243.6 129.0,247.5 C130.9,251.4 135.5,250.5 138.1,252.7 C140.7,254.9 144.6,257.0 144.6,260.5 C144.6,264.0 139.8,268.8 138.1,273.6 C136.4,278.4 136.1,285.1 134.2,289.2 C132.2,293.3 129.2,296.4 126.4,298.3 C123.6,300.2 119.2,302.4 117.3,300.9 C115.3,299.4 115.3,294.0 114.7,289.2 C114.1,284.4 114.1,278.4 113.4,272.3 C112.8,266.2 110.8,258.1 110.8,252.7 C110.8,247.3 112.8,244.5 113.4,239.7 C114.1,234.9 114.5,230.6 114.7,224.1 C114.9,217.6 114.5,209.4 114.7,200.6 C114.9,191.8 114.0,175.6 116.0,171.5"/><path transform="translate(129.8,63.6)" d="M88.7,312.6 C90.9,311.1 95.0,311.1 99.1,311.3 C103.2,311.5 110.2,311.7 113.4,313.9 C116.7,316.1 118.4,321.2 118.6,324.3 C118.8,327.4 117.3,329.8 114.7,332.2 C112.1,334.6 106.5,337.4 103.0,338.7 C99.5,340.0 96.3,340.9 93.9,340.0 C91.5,339.1 90.0,336.8 88.7,333.5 C87.4,330.2 86.1,323.9 86.1,320.4 C86.1,316.9 86.5,314.1 88.7,312.6"/><path transform="translate(129.8,63.6)" d="M114.7,347.8 C117.3,346.3 123.4,342.0 126.4,341.3 C129.4,340.6 132.0,341.3 132.9,343.9 C133.8,346.5 132.2,353.9 131.6,356.9 C130.9,359.9 131.4,360.8 129.0,362.1 C126.6,363.4 120.3,365.6 117.3,364.7 C114.3,363.8 111.9,359.3 110.8,356.9 C109.7,354.5 110.1,351.9 110.8,350.4 C111.5,348.9 112.1,349.3 114.7,347.8"/><path transform="translate(129.8,63.6)" d="M106.6,420.0 C107.6,418.3 110.4,417.4 112.7,417.3 C115.0,417.2 118.6,417.9 120.4,419.2 C122.2,420.5 122.8,422.7 123.5,425.4 C124.2,428.1 123.3,432.4 124.3,435.4 C125.3,438.3 128.7,440.3 129.7,443.1 C130.7,445.9 130.8,449.8 130.4,452.3 C130.0,454.9 129.1,456.9 127.3,458.4 C125.5,459.9 122.6,460.3 119.7,461.5 C116.8,462.7 112.4,464.8 109.7,465.4 C107.0,466.0 105.8,466.2 103.5,465.4 C101.2,464.6 97.6,462.7 95.8,460.8 C94.0,458.9 93.3,456.6 92.7,453.8 C92.1,451.0 91.1,446.6 92.0,443.8 C92.9,441.0 96.0,438.7 98.1,436.9 C100.1,435.1 102.9,434.6 104.3,433.1 C105.7,431.6 106.2,429.9 106.6,427.7 C107.0,425.5 105.6,421.7 106.6,420.0"/><path transform="translate(129.8,63.6)" d="M136.2,133.1 C136.2,135.1 135.5,137.6 134.5,139.2 C133.4,140.9 131.6,142.4 129.9,143.0 C128.2,143.6 126.0,143.6 124.3,143.0 C122.6,142.4 120.8,140.9 119.7,139.2 C118.7,137.6 118.0,135.1 118.0,133.1 C118.0,131.1 118.7,128.6 119.7,127.0 C120.8,125.3 122.6,123.8 124.3,123.2 C126.0,122.6 128.2,122.6 129.9,123.2 C131.6,123.8 133.4,125.3 134.5,127.0 C135.5,128.6 136.2,131.1 136.2,133.1"/><path transform="translate(129.8,63.6)" d="M74.9,74.5 C74.9,75.8 74.3,77.5 73.6,78.4 C72.8,79.3 71.5,80.0 70.4,80.0 C69.3,80.0 68.0,79.3 67.2,78.4 C66.5,77.5 65.9,75.8 65.9,74.5 C65.9,73.2 66.5,71.5 67.2,70.6 C68.0,69.7 69.3,69.0 70.4,69.0 C71.5,69.0 72.8,69.7 73.6,70.6 C74.3,71.5 74.9,73.2 74.9,74.5"/><path transform="translate(129.8,63.6)" d="M95.5,168.2 C95.5,169.1 95.0,170.4 94.3,171.0 C93.6,171.7 92.3,172.2 91.3,172.2 C90.3,172.2 89.0,171.7 88.3,171.0 C87.6,170.4 87.1,169.1 87.1,168.2 C87.1,167.3 87.6,166.0 88.3,165.4 C89.0,164.7 90.3,164.2 91.3,164.2 C92.3,164.2 93.6,164.7 94.3,165.4 C95.0,166.0 95.5,167.3 95.5,168.2"/><path transform="translate(129.8,63.6)" d="M88.0,30.0 L92.0,50.0 L95.0,70.0 L100.0,90.0 L106.0,110.0" stroke-width="1.8"/><path transform="translate(129.8,63.6)" d="M99.0,100.0 L103.0,120.0 L101.0,140.0" stroke-width="1.8"/><path transform="translate(391.4,57.6)" d="M79.5,25.0 C80.5,22.4 84.6,22.0 87.4,22.4 C90.2,22.8 93.0,26.1 96.5,27.6 C100.0,29.1 105.8,28.2 108.2,31.5 C110.6,34.8 111.0,42.9 110.8,47.2 C110.6,51.6 108.2,54.4 106.9,57.6 C105.6,60.9 102.1,63.7 103.0,66.7 C103.9,69.7 110.5,72.3 112.1,75.8 C113.7,79.3 111.6,84.0 112.7,87.5 C113.8,91.0 116.8,93.6 118.6,96.6 C120.4,99.6 123.4,102.4 123.8,105.7 C124.2,109.0 122.9,114.0 121.2,116.2 C119.5,118.4 115.4,116.2 113.4,118.8 C111.5,121.4 110.6,127.7 109.5,131.8 C108.4,135.9 108.0,140.7 106.9,143.5 C105.8,146.3 105.4,146.8 103.0,148.7 C100.6,150.6 95.6,153.7 92.6,155.2 C89.6,156.7 86.6,159.5 84.8,157.8 C83.0,156.1 82.2,150.2 81.5,144.8 C80.8,139.4 80.5,131.8 80.8,125.3 C81.1,118.8 82.5,112.0 83.4,105.7 C84.3,99.4 85.8,93.6 86.1,87.5 C86.4,81.4 85.7,74.9 85.4,69.3 C85.1,63.7 84.8,58.9 84.1,53.7 C83.4,48.5 82.3,42.8 81.5,38.0 C80.7,33.2 78.5,27.6 79.5,25.0"/><path transform="translate(391.4,57.6)" d="M76.9,202.0 C79.3,197.7 85.7,195.0 88.7,194.1 C91.8,193.2 94.1,193.4 95.2,196.7 C96.3,200.0 95.6,208.0 95.2,213.7 C94.8,219.3 93.0,225.8 92.6,230.6 C92.2,235.4 92.8,238.6 92.6,242.3 C92.4,246.0 92.8,250.5 91.3,252.7 C89.8,254.9 86.0,255.3 83.4,255.3 C80.8,255.3 77.1,255.3 75.6,252.7 C74.1,250.1 74.5,245.1 74.3,239.7 C74.1,234.3 73.9,226.5 74.3,220.2 C74.7,213.9 74.5,206.3 76.9,202.0"/><path transform="translate(391.4,57.6)" d="M83.4,257.9 C85.2,254.8 90.0,258.1 92.6,260.5 C95.2,262.9 98.2,267.1 99.1,272.3 C100.0,277.5 97.8,286.6 97.8,291.8 C97.8,297.0 100.2,300.9 99.1,303.5 C98.0,306.1 93.9,307.2 91.3,307.4 C88.7,307.6 85.2,307.0 83.4,304.8 C81.7,302.6 81.0,298.7 80.8,294.4 C80.6,290.1 81.7,284.9 82.1,278.8 C82.5,272.7 81.7,260.9 83.4,257.9"/><path transform="translate(391.4,57.6)" d="M116.0,171.5 C118.0,167.4 122.9,173.4 126.4,176.1 C129.9,178.8 134.2,184.4 136.8,187.6 C139.4,190.8 143.1,192.3 142.0,195.4 C140.9,198.5 133.1,202.9 130.3,205.9 C127.5,208.9 125.8,209.8 125.1,213.7 C124.4,217.6 125.8,223.7 126.4,229.3 C127.1,234.9 127.0,243.6 129.0,247.5 C130.9,251.4 135.5,250.5 138.1,252.7 C140.7,254.9 144.6,257.0 144.6,260.5 C144.6,264.0 139.8,268.8 138.1,273.6 C136.4,278.4 136.1,285.1 134.2,289.2 C132.2,293.3 129.2,296.4 126.4,298.3 C123.6,300.2 119.2,302.4 117.3,300.9 C115.3,299.4 115.3,294.0 114.7,289.2 C114.1,284.4 114.1,278.4 113.4,272.3 C112.8,266.2 110.8,258.1 110.8,252.7 C110.8,247.3 112.8,244.5 113.4,239.7 C114.1,234.9 114.5,230.6 114.7,224.1 C114.9,217.6 114.5,209.4 114.7,200.6 C114.9,191.8 114.0,175.6 116.0,171.5"/><path transform="translate(391.4,57.6)" d="M88.7,312.6 C90.9,311.1 95.0,311.1 99.1,311.3 C103.2,311.5 110.2,311.7 113.4,313.9 C116.7,316.1 118.4,321.2 118.6,324.3 C118.8,327.4 117.3,329.8 114.7,332.2 C112.1,334.6 106.5,337.4 103.0,338.7 C99.5,340.0 96.3,340.9 93.9,340.0 C91.5,339.1 90.0,336.8 88.7,333.5 C87.4,330.2 86.1,323.9 86.1,320.4 C86.1,316.9 86.5,314.1 88.7,312.6"/><path transform="translate(391.4,57.6)" d="M114.7,347.8 C117.3,346.3 123.4,342.0 126.4,341.3 C129.4,340.6 132.0,341.3 132.9,343.9 C133.8,346.5 132.2,353.9 131.6,356.9 C130.9,359.9 131.4,360.8 129.0,362.1 C126.6,363.4 120.3,365.6 117.3,364.7 C114.3,363.8 111.9,359.3 110.8,356.9 C109.7,354.5 110.1,351.9 110.8,350.4 C111.5,348.9 112.1,349.3 114.7,347.8"/><path transform="translate(391.4,57.6)" d="M106.6,420.0 C107.6,418.3 110.4,417.4 112.7,417.3 C115.0,417.2 118.6,417.9 120.4,419.2 C122.2,420.5 122.8,422.7 123.5,425.4 C124.2,428.1 123.3,432.4 124.3,435.4 C125.3,438.3 128.7,440.3 129.7,443.1 C130.7,445.9 130.8,449.8 130.4,452.3 C130.0,454.9 129.1,456.9 127.3,458.4 C125.5,459.9 122.6,460.3 119.7,461.5 C116.8,462.7 112.4,464.8 109.7,465.4 C107.0,466.0 105.8,466.2 103.5,465.4 C101.2,464.6 97.6,462.7 95.8,460.8 C94.0,458.9 93.3,456.6 92.7,453.8 C92.1,451.0 91.1,446.6 92.0,443.8 C92.9,441.0 96.0,438.7 98.1,436.9 C100.1,435.1 102.9,434.6 104.3,433.1 C105.7,431.6 106.2,429.9 106.6,427.7 C107.0,425.5 105.6,421.7 106.6,420.0"/><path transform="translate(391.4,57.6)" d="M136.2,133.1 C136.2,135.1 135.5,137.6 134.5,139.2 C133.4,140.9 131.6,142.4 129.9,143.0 C128.2,143.6 126.0,143.6 124.3,143.0 C122.6,142.4 120.8,140.9 119.7,139.2 C118.7,137.6 118.0,135.1 118.0,133.1 C118.0,131.1 118.7,128.6 119.7,127.0 C120.8,125.3 122.6,123.8 124.3,123.2 C126.0,122.6 128.2,122.6 129.9,123.2 C131.6,123.8 133.4,125.3 134.5,127.0 C135.5,128.6 136.2,131.1 136.2,133.1"/><path transform="translate(391.4,57.6)" d="M74.9,74.5 C74.9,75.8 74.3,77.5 73.6,78.4 C72.8,79.3 71.5,80.0 70.4,80.0 C69.3,80.0 68.0,79.3 67.2,78.4 C66.5,77.5 65.9,75.8 65.9,74.5 C65.9,73.2 66.5,71.5 67.2,70.6 C68.0,69.7 69.3,69.0 70.4,69.0 C71.5,69.0 72.8,69.7 73.6,70.6 C74.3,71.5 74.9,73.2 74.9,74.5"/><path transform="translate(391.4,57.6)" d="M95.5,168.2 C95.5,169.1 95.0,170.4 94.3,171.0 C93.6,171.7 92.3,172.2 91.3,172.2 C90.3,172.2 89.0,171.7 88.3,171.0 C87.6,170.4 87.1,169.1 87.1,168.2 C87.1,167.3 87.6,166.0 88.3,165.4 C89.0,164.7 90.3,164.2 91.3,164.2 C92.3,164.2 93.6,164.7 94.3,165.4 C95.0,166.0 95.5,167.3 95.5,168.2"/><path transform="translate(391.4,57.6)" d="M88.0,30.0 L92.0,50.0 L95.0,70.0 L100.0,90.0 L106.0,110.0" stroke-width="1.8"/><path transform="translate(391.4,57.6)" d="M99.0,100.0 L103.0,120.0 L101.0,140.0" stroke-width="1.8"/><path transform="translate(651.5,55.4)" d="M79.5,25.0 C80.5,22.4 84.6,22.0 87.4,22.4 C90.2,22.8 93.0,26.1 96.5,27.6 C100.0,29.1 105.8,28.2 108.2,31.5 C110.6,34.8 111.0,42.9 110.8,47.2 C110.6,51.6 108.2,54.4 106.9,57.6 C105.6,60.9 102.1,63.7 103.0,66.7 C103.9,69.7 110.5,72.3 112.1,75.8 C113.7,79.3 111.6,84.0 112.7,87.5 C113.8,91.0 116.8,93.6 118.6,96.6 C120.4,99.6 123.4,102.4 123.8,105.7 C124.2,109.0 122.9,114.0 121.2,116.2 C119.5,118.4 115.4,116.2 113.4,118.8 C111.5,121.4 110.6,127.7 109.5,131.8 C108.4,135.9 108.0,140.7 106.9,143.5 C105.8,146.3 105.4,146.8 103.0,148.7 C100.6,150.6 95.6,153.7 92.6,155.2 C89.6,156.7 86.6,159.5 84.8,157.8 C83.0,156.1 82.2,150.2 81.5,144.8 C80.8,139.4 80.5,131.8 80.8,125.3 C81.1,118.8 82.5,112.0 83.4,105.7 C84.3,99.4 85.8,93.6 86.1,87.5 C86.4,81.4 85.7,74.9 85.4,69.3 C85.1,63.7 84.8,58.9 84.1,53.7 C83.4,48.5 82.3,42.8 81.5,38.0 C80.7,33.2 78.5,27.6 79.5,25.0"/><path transform="translate(651.5,55.4)" d="M76.9,202.0 C79.3,197.7 85.7,195.0 88.7,194.1 C91.8,193.2 94.1,193.4 95.2,196.7 C96.3,200.0 95.6,208.0 95.2,213.7 C94.8,219.3 93.0,225.8 92.6,230.6 C92.2,235.4 92.8,238.6 92.6,242.3 C92.4,246.0 92.8,250.5 91.3,252.7 C89.8,254.9 86.0,255.3 83.4,255.3 C80.8,255.3 77.1,255.3 75.6,252.7 C74.1,250.1 74.5,245.1 74.3,239.7 C74.1,234.3 73.9,226.5 74.3,220.2 C74.7,213.9 74.5,206.3 76.9,202.0"/><path transform="translate(651.5,55.4)" d="M83.4,257.9 C85.2,254.8 90.0,258.1 92.6,260.5 C95.2,262.9 98.2,267.1 99.1,272.3 C100.0,277.5 97.8,286.6 97.8,291.8 C97.8,297.0 100.2,300.9 99.1,303.5 C98.0,306.1 93.9,307.2 91.3,307.4 C88.7,307.6 85.2,307.0 83.4,304.8 C81.7,302.6 81.0,298.7 80.8,294.4 C80.6,290.1 81.7,284.9 82.1,278.8 C82.5,272.7 81.7,260.9 83.4,257.9"/><path transform="translate(651.5,55.4)" d="M116.0,171.5 C118.0,167.4 122.9,173.4 126.4,176.1 C129.9,178.8 134.2,184.4 136.8,187.6 C139.4,190.8 143.1,192.3 142.0,195.4 C140.9,198.5 133.1,202.9 130.3,205.9 C127.5,208.9 125.8,209.8 125.1,213.7 C124.4,217.6 125.8,223.7 126.4,229.3 C127.1,234.9 127.0,243.6 129.0,247.5 C130.9,251.4 135.5,250.5 138.1,252.7 C140.7,254.9 144.6,257.0 144.6,260.5 C144.6,264.0 139.8,268.8 138.1,273.6 C136.4,278.4 136.1,285.1 134.2,289.2 C132.2,293.3 129.2,296.4 126.4,298.3 C123.6,300.2 119.2,302.4 117.3,300.9 C115.3,299.4 115.3,294.0 114.7,289.2 C114.1,284.4 114.1,278.4 113.4,272.3 C112.8,266.2 110.8,258.1 110.8,252.7 C110.8,247.3 112.8,244.5 113.4,239.7 C114.1,234.9 114.5,230.6 114.7,224.1 C114.9,217.6 114.5,209.4 114.7,200.6 C114.9,191.8 114.0,175.6 116.0,171.5"/><path transform="translate(651.5,55.4)" d="M88.7,312.6 C90.9,311.1 95.0,311.1 99.1,311.3 C103.2,311.5 110.2,311.7 113.4,313.9 C116.7,316.1 118.4,321.2 118.6,324.3 C118.8,327.4 117.3,329.8 114.7,332.2 C112.1,334.6 106.5,337.4 103.0,338.7 C99.5,340.0 96.3,340.9 93.9,340.0 C91.5,339.1 90.0,336.8 88.7,333.5 C87.4,330.2 86.1,323.9 86.1,320.4 C86.1,316.9 86.5,314.1 88.7,312.6"/><path transform="translate(651.5,55.4)" d="M114.7,347.8 C117.3,346.3 123.4,342.0 126.4,341.3 C129.4,340.6 132.0,341.3 132.9,343.9 C133.8,346.5 132.2,353.9 131.6,356.9 C130.9,359.9 131.4,360.8 129.0,362.1 C126.6,363.4 120.3,365.6 117.3,364.7 C114.3,363.8 111.9,359.3 110.8,356.9 C109.7,354.5 110.1,351.9 110.8,350.4 C111.5,348.9 112.1,349.3 114.7,347.8"/><path transform="translate(651.5,55.4)" d="M106.6,420.0 C107.6,418.3 110.4,417.4 112.7,417.3 C115.0,417.2 118.6,417.9 120.4,419.2 C122.2,420.5 122.8,422.7 123.5,425.4 C124.2,428.1 123.3,432.4 124.3,435.4 C125.3,438.3 128.7,440.3 129.7,443.1 C130.7,445.9 130.8,449.8 130.4,452.3 C130.0,454.9 129.1,456.9 127.3,458.4 C125.5,459.9 122.6,460.3 119.7,461.5 C116.8,462.7 112.4,464.8 109.7,465.4 C107.0,466.0 105.8,466.2 103.5,465.4 C101.2,464.6 97.6,462.7 95.8,460.8 C94.0,458.9 93.3,456.6 92.7,453.8 C92.1,451.0 91.1,446.6 92.0,443.8 C92.9,441.0 96.0,438.7 98.1,436.9 C100.1,435.1 102.9,434.6 104.3,433.1 C105.7,431.6 106.2,429.9 106.6,427.7 C107.0,425.5 105.6,421.7 106.6,420.0"/><path transform="translate(651.5,55.4)" d="M136.2,133.1 C136.2,135.1 135.5,137.6 134.5,139.2 C133.4,140.9 131.6,142.4 129.9,143.0 C128.2,143.6 126.0,143.6 124.3,143.0 C122.6,142.4 120.8,140.9 119.7,139.2 C118.7,137.6 118.0,135.1 118.0,133.1 C118.0,131.1 118.7,128.6 119.7,127.0 C120.8,125.3 122.6,123.8 124.3,123.2 C126.0,122.6 128.2,122.6 129.9,123.2 C131.6,123.8 133.4,125.3 134.5,127.0 C135.5,128.6 136.2,131.1 136.2,133.1"/><path transform="translate(651.5,55.4)" d="M74.9,74.5 C74.9,75.8 74.3,77.5 73.6,78.4 C72.8,79.3 71.5,80.0 70.4,80.0 C69.3,80.0 68.0,79.3 67.2,78.4 C66.5,77.5 65.9,75.8 65.9,74.5 C65.9,73.2 66.5,71.5 67.2,70.6 C68.0,69.7 69.3,69.0 70.4,69.0 C71.5,69.0 72.8,69.7 73.6,70.6 C74.3,71.5 74.9,73.2 74.9,74.5"/><path transform="translate(651.5,55.4)" d="M95.5,168.2 C95.5,169.1 95.0,170.4 94.3,171.0 C93.6,171.7 92.3,172.2 91.3,172.2 C90.3,172.2 89.0,171.7 88.3,171.0 C87.6,170.4 87.1,169.1 87.1,168.2 C87.1,167.3 87.6,166.0 88.3,165.4 C89.0,164.7 90.3,164.2 91.3,164.2 C92.3,164.2 93.6,164.7 94.3,165.4 C95.0,166.0 95.5,167.3 95.5,168.2"/><path transform="translate(651.5,55.4)" d="M88.0,30.0 L92.0,50.0 L95.0,70.0 L100.0,90.0 L106.0,110.0" stroke-width="1.8"/><path transform="translate(651.5,55.4)" d="M99.0,100.0 L103.0,120.0 L101.0,140.0" stroke-width="1.8"/><path transform="translate(131.2,722.0)" d="M79.5,25.0 C80.5,22.4 84.6,22.0 87.4,22.4 C90.2,22.8 93.0,26.1 96.5,27.6 C100.0,29.1 105.8,28.2 108.2,31.5 C110.6,34.8 111.0,42.9 110.8,47.2 C110.6,51.6 108.2,54.4 106.9,57.6 C105.6,60.9 102.1,63.7 103.0,66.7 C103.9,69.7 110.5,72.3 112.1,75.8 C113.7,79.3 111.6,84.0 112.7,87.5 C113.8,91.0 116.8,93.6 118.6,96.6 C120.4,99.6 123.4,102.4 123.8,105.7 C124.2,109.0 122.9,114.0 121.2,116.2 C119.5,118.4 115.4,116.2 113.4,118.8 C111.5,121.4 110.6,127.7 109.5,131.8 C108.4,135.9 108.0,140.7 106.9,143.5 C105.8,146.3 105.4,146.8 103.0,148.7 C100.6,150.6 95.6,153.7 92.6,155.2 C89.6,156.7 86.6,159.5 84.8,157.8 C83.0,156.1 82.2,150.2 81.5,144.8 C80.8,139.4 80.5,131.8 80.8,125.3 C81.1,118.8 82.5,112.0 83.4,105.7 C84.3,99.4 85.8,93.6 86.1,87.5 C86.4,81.4 85.7,74.9 85.4,69.3 C85.1,63.7 84.8,58.9 84.1,53.7 C83.4,48.5 82.3,42.8 81.5,38.0 C80.7,33.2 78.5,27.6 79.5,25.0"/><path transform="translate(131.2,722.0)" d="M76.9,202.0 C79.3,197.7 85.7,195.0 88.7,194.1 C91.8,193.2 94.1,193.4 95.2,196.7 C96.3,200.0 95.6,208.0 95.2,213.7 C94.8,219.3 93.0,225.8 92.6,230.6 C92.2,235.4 92.8,238.6 92.6,242.3 C92.4,246.0 92.8,250.5 91.3,252.7 C89.8,254.9 86.0,255.3 83.4,255.3 C80.8,255.3 77.1,255.3 75.6,252.7 C74.1,250.1 74.5,245.1 74.3,239.7 C74.1,234.3 73.9,226.5 74.3,220.2 C74.7,213.9 74.5,206.3 76.9,202.0"/><path transform="translate(131.2,722.0)" d="M83.4,257.9 C85.2,254.8 90.0,258.1 92.6,260.5 C95.2,262.9 98.2,267.1 99.1,272.3 C100.0,277.5 97.8,286.6 97.8,291.8 C97.8,297.0 100.2,300.9 99.1,303.5 C98.0,306.1 93.9,307.2 91.3,307.4 C88.7,307.6 85.2,307.0 83.4,304.8 C81.7,302.6 81.0,298.7 80.8,294.4 C80.6,290.1 81.7,284.9 82.1,278.8 C82.5,272.7 81.7,260.9 83.4,257.9"/><path transform="translate(131.2,722.0)" d="M116.0,171.5 C118.0,167.4 122.9,173.4 126.4,176.1 C129.9,178.8 134.2,184.4 136.8,187.6 C139.4,190.8 143.1,192.3 142.0,195.4 C140.9,198.5 133.1,202.9 130.3,205.9 C127.5,208.9 125.8,209.8 125.1,213.7 C124.4,217.6 125.8,223.7 126.4,229.3 C127.1,234.9 127.0,243.6 129.0,247.5 C130.9,251.4 135.5,250.5 138.1,252.7 C140.7,254.9 144.6,257.0 144.6,260.5 C144.6,264.0 139.8,268.8 138.1,273.6 C136.4,278.4 136.1,285.1 134.2,289.2 C132.2,293.3 129.2,296.4 126.4,298.3 C123.6,300.2 119.2,302.4 117.3,300.9 C115.3,299.4 115.3,294.0 114.7,289.2 C114.1,284.4 114.1,278.4 113.4,272.3 C112.8,266.2 110.8,258.1 110.8,252.7 C110.8,247.3 112.8,244.5 113.4,239.7 C114.1,234.9 114.5,230.6 114.7,224.1 C114.9,217.6 114.5,209.4 114.7,200.6 C114.9,191.8 114.0,175.6 116.0,171.5"/><path transform="translate(131.2,722.0)" d="M88.7,312.6 C90.9,311.1 95.0,311.1 99.1,311.3 C103.2,311.5 110.2,311.7 113.4,313.9 C116.7,316.1 118.4,321.2 118.6,324.3 C118.8,327.4 117.3,329.8 114.7,332.2 C112.1,334.6 106.5,337.4 103.0,338.7 C99.5,340.0 96.3,340.9 93.9,340.0 C91.5,339.1 90.0,336.8 88.7,333.5 C87.4,330.2 86.1,323.9 86.1,320.4 C86.1,316.9 86.5,314.1 88.7,312.6"/><path transform="translate(131.2,722.0)" d="M114.7,347.8 C117.3,346.3 123.4,342.0 126.4,341.3 C129.4,340.6 132.0,341.3 132.9,343.9 C133.8,346.5 132.2,353.9 131.6,356.9 C130.9,359.9 131.4,360.8 129.0,362.1 C126.6,363.4 120.3,365.6 117.3,364.7 C114.3,363.8 111.9,359.3 110.8,356.9 C109.7,354.5 110.1,351.9 110.8,350.4 C111.5,348.9 112.1,349.3 114.7,347.8"/><path transform="translate(131.2,722.0)" d="M106.6,420.0 C107.6,418.3 110.4,417.4 112.7,417.3 C115.0,417.2 118.6,417.9 120.4,419.2 C122.2,420.5 122.8,422.7 123.5,425.4 C124.2,428.1 123.3,432.4 124.3,435.4 C125.3,438.3 128.7,440.3 129.7,443.1 C130.7,445.9 130.8,449.8 130.4,452.3 C130.0,454.9 129.1,456.9 127.3,458.4 C125.5,459.9 122.6,460.3 119.7,461.5 C116.8,462.7 112.4,464.8 109.7,465.4 C107.0,466.0 105.8,466.2 103.5,465.4 C101.2,464.6 97.6,462.7 95.8,460.8 C94.0,458.9 93.3,456.6 92.7,453.8 C92.1,451.0 91.1,446.6 92.0,443.8 C92.9,441.0 96.0,438.7 98.1,436.9 C100.1,435.1 102.9,434.6 104.3,433.1 C105.7,431.6 106.2,429.9 106.6,427.7 C107.0,425.5 105.6,421.7 106.6,420.0"/><path transform="translate(131.2,722.0)" d="M136.2,133.1 C136.2,135.1 135.5,137.6 134.5,139.2 C133.4,140.9 131.6,142.4 129.9,143.0 C128.2,143.6 126.0,143.6 124.3,143.0 C122.6,142.4 120.8,140.9 119.7,139.2 C118.7,137.6 118.0,135.1 118.0,133.1 C118.0,131.1 118.7,128.6 119.7,127.0 C120.8,125.3 122.6,123.8 124.3,123.2 C126.0,122.6 128.2,122.6 129.9,123.2 C131.6,123.8 133.4,125.3 134.5,127.0 C135.5,128.6 136.2,131.1 136.2,133.1"/><path transform="translate(131.2,722.0)" d="M74.9,74.5 C74.9,75.8 74.3,77.5 73.6,78.4 C72.8,79.3 71.5,80.0 70.4,80.0 C69.3,80.0 68.0,79.3 67.2,78.4 C66.5,77.5 65.9,75.8 65.9,74.5 C65.9,73.2 66.5,71.5 67.2,70.6 C68.0,69.7 69.3,69.0 70.4,69.0 C71.5,69.0 72.8,69.7 73.6,70.6 C74.3,71.5 74.9,73.2 74.9,74.5"/><path transform="translate(131.2,722.0)" d="M95.5,168.2 C95.5,169.1 95.0,170.4 94.3,171.0 C93.6,171.7 92.3,172.2 91.3,172.2 C90.3,172.2 89.0,171.7 88.3,171.0 C87.6,170.4 87.1,169.1 87.1,168.2 C87.1,167.3 87.6,166.0 88.3,165.4 C89.0,164.7 90.3,164.2 91.3,164.2 C92.3,164.2 93.6,164.7 94.3,165.4 C95.0,166.0 95.5,167.3 95.5,168.2"/><path transform="translate(131.2,722.0)" d="M88.0,30.0 L92.0,50.0 L95.0,70.0 L100.0,90.0 L106.0,110.0" stroke-width="1.8"/><path transform="translate(131.2,722.0)" d="M99.0,100.0 L103.0,120.0 L101.0,140.0" stroke-width="1.8"/><path transform="translate(392.7,718.5)" d="M79.5,25.0 C80.5,22.4 84.6,22.0 87.4,22.4 C90.2,22.8 93.0,26.1 96.5,27.6 C100.0,29.1 105.8,28.2 108.2,31.5 C110.6,34.8 111.0,42.9 110.8,47.2 C110.6,51.6 108.2,54.4 106.9,57.6 C105.6,60.9 102.1,63.7 103.0,66.7 C103.9,69.7 110.5,72.3 112.1,75.8 C113.7,79.3 111.6,84.0 112.7,87.5 C113.8,91.0 116.8,93.6 118.6,96.6 C120.4,99.6 123.4,102.4 123.8,105.7 C124.2,109.0 122.9,114.0 121.2,116.2 C119.5,118.4 115.4,116.2 113.4,118.8 C111.5,121.4 110.6,127.7 109.5,131.8 C108.4,135.9 108.0,140.7 106.9,143.5 C105.8,146.3 105.4,146.8 103.0,148.7 C100.6,150.6 95.6,153.7 92.6,155.2 C89.6,156.7 86.6,159.5 84.8,157.8 C83.0,156.1 82.2,150.2 81.5,144.8 C80.8,139.4 80.5,131.8 80.8,125.3 C81.1,118.8 82.5,112.0 83.4,105.7 C84.3,99.4 85.8,93.6 86.1,87.5 C86.4,81.4 85.7,74.9 85.4,69.3 C85.1,63.7 84.8,58.9 84.1,53.7 C83.4,48.5 82.3,42.8 81.5,38.0 C80.7,33.2 78.5,27.6 79.5,25.0"/><path transform="translate(392.7,718.5)" d="M76.9,202.0 C79.3,197.7 85.7,195.0 88.7,194.1 C91.8,193.2 94.1,193.4 95.2,196.7 C96.3,200.0 95.6,208.0 95.2,213.7 C94.8,219.3 93.0,225.8 92.6,230.6 C92.2,235.4 92.8,238.6 92.6,242.3 C92.4,246.0 92.8,250.5 91.3,252.7 C89.8,254.9 86.0,255.3 83.4,255.3 C80.8,255.3 77.1,255.3 75.6,252.7 C74.1,250.1 74.5,245.1 74.3,239.7 C74.1,234.3 73.9,226.5 74.3,220.2 C74.7,213.9 74.5,206.3 76.9,202.0"/><path transform="translate(392.7,718.5)" d="M83.4,257.9 C85.2,254.8 90.0,258.1 92.6,260.5 C95.2,262.9 98.2,267.1 99.1,272.3 C100.0,277.5 97.8,286.6 97.8,291.8 C97.8,297.0 100.2,300.9 99.1,303.5 C98.0,306.1 93.9,307.2 91.3,307.4 C88.7,307.6 85.2,307.0 83.4,304.8 C81.7,302.6 81.0,298.7 80.8,294.4 C80.6,290.1 81.7,284.9 82.1,278.8 C82.5,272.7 81.7,260.9 83.4,257.9"/><path transform="translate(392.7,718.5)" d="M116.0,171.5 C118.0,167.4 122.9,173.4 126.4,176.1 C129.9,178.8 134.2,184.4 136.8,187.6 C139.4,190.8 143.1,192.3 142.0,195.4 C140.9,198.5 133.1,202.9 130.3,205.9 C127.5,208.9 125.8,209.8 125.1,213.7 C124.4,217.6 125.8,223.7 126.4,229.3 C127.1,234.9 127.0,243.6 129.0,247.5 C130.9,251.4 135.5,250.5 138.1,252.7 C140.7,254.9 144.6,257.0 144.6,260.5 C144.6,264.0 139.8,268.8 138.1,273.6 C136.4,278.4 136.1,285.1 134.2,289.2 C132.2,293.3 129.2,296.4 126.4,298.3 C123.6,300.2 119.2,302.4 117.3,300.9 C115.3,299.4 115.3,294.0 114.7,289.2 C114.1,284.4 114.1,278.4 113.4,272.3 C112.8,266.2 110.8,258.1 110.8,252.7 C110.8,247.3 112.8,244.5 113.4,239.7 C114.1,234.9 114.5,230.6 114.7,224.1 C114.9,217.6 114.5,209.4 114.7,200.6 C114.9,191.8 114.0,175.6 116.0,171.5"/><path transform="translate(392.7,718.5)" d="M88.7,312.6 C90.9,311.1 95.0,311.1 99.1,311.3 C103.2,311.5 110.2,311.7 113.4,313.9 C116.7,316.1 118.4,321.2 118.6,324.3 C118.8,327.4 117.3,329.8 114.7,332.2 C112.1,334.6 106.5,337.4 103.0,338.7 C99.5,340.0 96.3,340.9 93.9,340.0 C91.5,339.1 90.0,336.8 88.7,333.5 C87.4,330.2 86.1,323.9 86.1,320.4 C86.1,316.9 86.5,314.1 88.7,312.6"/><path transform="translate(392.7,718.5)" d="M114.7,347.8 C117.3,346.3 123.4,342.0 126.4,341.3 C129.4,340.6 132.0,341.3 132.9,343.9 C133.8,346.5 132.2,353.9 131.6,356.9 C130.9,359.9 131.4,360.8 129.0,362.1 C126.6,363.4 120.3,365.6 117.3,364.7 C114.3,363.8 111.9,359.3 110.8,356.9 C109.7,354.5 110.1,351.9 110.8,350.4 C111.5,348.9 112.1,349.3 114.7,347.8"/><path transform="translate(392.7,718.5)" d="M106.6,420.0 C107.6,418.3 110.4,417.4 112.7,417.3 C115.0,417.2 118.6,417.9 120.4,419.2 C122.2,420.5 122.8,422.7 123.5,425.4 C124.2,428.1 123.3,432.4 124.3,435.4 C125.3,438.3 128.7,440.3 129.7,443.1 C130.7,445.9 130.8,449.8 130.4,452.3 C130.0,454.9 129.1,456.9 127.3,458.4 C125.5,459.9 122.6,460.3 119.7,461.5 C116.8,462.7 112.4,464.8 109.7,465.4 C107.0,466.0 105.8,466.2 103.5,465.4 C101.2,464.6 97.6,462.7 95.8,460.8 C94.0,458.9 93.3,456.6 92.7,453.8 C92.1,451.0 91.1,446.6 92.0,443.8 C92.9,441.0 96.0,438.7 98.1,436.9 C100.1,435.1 102.9,434.6 104.3,433.1 C105.7,431.6 106.2,429.9 106.6,427.7 C107.0,425.5 105.6,421.7 106.6,420.0"/><path transform="translate(392.7,718.5)" d="M136.2,133.1 C136.2,135.1 135.5,137.6 134.5,139.2 C133.4,140.9 131.6,142.4 129.9,143.0 C128.2,143.6 126.0,143.6 124.3,143.0 C122.6,142.4 120.8,140.9 119.7,139.2 C118.7,137.6 118.0,135.1 118.0,133.1 C118.0,131.1 118.7,128.6 119.7,127.0 C120.8,125.3 122.6,123.8 124.3,123.2 C126.0,122.6 128.2,122.6 129.9,123.2 C131.6,123.8 133.4,125.3 134.5,127.0 C135.5,128.6 136.2,131.1 136.2,133.1"/><path transform="translate(392.7,718.5)" d="M74.9,74.5 C74.9,75.8 74.3,77.5 73.6,78.4 C72.8,79.3 71.5,80.0 70.4,80.0 C69.3,80.0 68.0,79.3 67.2,78.4 C66.5,77.5 65.9,75.8 65.9,74.5 C65.9,73.2 66.5,71.5 67.2,70.6 C68.0,69.7 69.3,69.0 70.4,69.0 C71.5,69.0 72.8,69.7 73.6,70.6 C74.3,71.5 74.9,73.2 74.9,74.5"/><path transform="translate(392.7,718.5)" d="M95.5,168.2 C95.5,169.1 95.0,170.4 94.3,171.0 C93.6,171.7 92.3,172.2 91.3,172.2 C90.3,172.2 89.0,171.7 88.3,171.0 C87.6,170.4 87.1,169.1 87.1,168.2 C87.1,167.3 87.6,166.0 88.3,165.4 C89.0,164.7 90.3,164.2 91.3,164.2 C92.3,164.2 93.6,164.7 94.3,165.4 C95.0,166.0 95.5,167.3 95.5,168.2"/><path transform="translate(392.7,718.5)" d="M88.0,30.0 L92.0,50.0 L95.0,70.0 L100.0,90.0 L106.0,110.0" stroke-width="1.8"/><path transform="translate(392.7,718.5)" d="M99.0,100.0 L103.0,120.0 L101.0,140.0" stroke-width="1.8"/><path transform="translate(647.3,717.7)" d="M79.5,25.0 C80.5,22.4 84.6,22.0 87.4,22.4 C90.2,22.8 93.0,26.1 96.5,27.6 C100.0,29.1 105.8,28.2 108.2,31.5 C110.6,34.8 111.0,42.9 110.8,47.2 C110.6,51.6 108.2,54.4 106.9,57.6 C105.6,60.9 102.1,63.7 103.0,66.7 C103.9,69.7 110.5,72.3 112.1,75.8 C113.7,79.3 111.6,84.0 112.7,87.5 C113.8,91.0 116.8,93.6 118.6,96.6 C120.4,99.6 123.4,102.4 123.8,105.7 C124.2,109.0 122.9,114.0 121.2,116.2 C119.5,118.4 115.4,116.2 113.4,118.8 C111.5,121.4 110.6,127.7 109.5,131.8 C108.4,135.9 108.0,140.7 106.9,143.5 C105.8,146.3 105.4,146.8 103.0,148.7 C100.6,150.6 95.6,153.7 92.6,155.2 C89.6,156.7 86.6,159.5 84.8,157.8 C83.0,156.1 82.2,150.2 81.5,144.8 C80.8,139.4 80.5,131.8 80.8,125.3 C81.1,118.8 82.5,112.0 83.4,105.7 C84.3,99.4 85.8,93.6 86.1,87.5 C86.4,81.4 85.7,74.9 85.4,69.3 C85.1,63.7 84.8,58.9 84.1,53.7 C83.4,48.5 82.3,42.8 81.5,38.0 C80.7,33.2 78.5,27.6 79.5,25.0"/><path transform="translate(647.3,717.7)" d="M76.9,202.0 C79.3,197.7 85.7,195.0 88.7,194.1 C91.8,193.2 94.1,193.4 95.2,196.7 C96.3,200.0 95.6,208.0 95.2,213.7 C94.8,219.3 93.0,225.8 92.6,230.6 C92.2,235.4 92.8,238.6 92.6,242.3 C92.4,246.0 92.8,250.5 91.3,252.7 C89.8,254.9 86.0,255.3 83.4,255.3 C80.8,255.3 77.1,255.3 75.6,252.7 C74.1,250.1 74.5,245.1 74.3,239.7 C74.1,234.3 73.9,226.5 74.3,220.2 C74.7,213.9 74.5,206.3 76.9,202.0"/><path transform="translate(647.3,717.7)" d="M83.4,257.9 C85.2,254.8 90.0,258.1 92.6,260.5 C95.2,262.9 98.2,267.1 99.1,272.3 C100.0,277.5 97.8,286.6 97.8,291.8 C97.8,297.0 100.2,300.9 99.1,303.5 C98.0,306.1 93.9,307.2 91.3,307.4 C88.7,307.6 85.2,307.0 83.4,304.8 C81.7,302.6 81.0,298.7 80.8,294.4 C80.6,290.1 81.7,284.9 82.1,278.8 C82.5,272.7 81.7,260.9 83.4,257.9"/><path transform="translate(647.3,717.7)" d="M116.0,171.5 C118.0,167.4 122.9,173.4 126.4,176.1 C129.9,178.8 134.2,184.4 136.8,187.6 C139.4,190.8 143.1,192.3 142.0,195.4 C140.9,198.5 133.1,202.9 130.3,205.9 C127.5,208.9 125.8,209.8 125.1,213.7 C124.4,217.6 125.8,223.7 126.4,229.3 C127.1,234.9 127.0,243.6 129.0,247.5 C130.9,251.4 135.5,250.5 138.1,252.7 C140.7,254.9 144.6,257.0 144.6,260.5 C144.6,264.0 139.8,268.8 138.1,273.6 C136.4,278.4 136.1,285.1 134.2,289.2 C132.2,293.3 129.2,296.4 126.4,298.3 C123.6,300.2 119.2,302.4 117.3,300.9 C115.3,299.4 115.3,294.0 114.7,289.2 C114.1,284.4 114.1,278.4 113.4,272.3 C112.8,266.2 110.8,258.1 110.8,252.7 C110.8,247.3 112.8,244.5 113.4,239.7 C114.1,234.9 114.5,230.6 114.7,224.1 C114.9,217.6 114.5,209.4 114.7,200.6 C114.9,191.8 114.0,175.6 116.0,171.5"/><path transform="translate(647.3,717.7)" d="M88.7,312.6 C90.9,311.1 95.0,311.1 99.1,311.3 C103.2,311.5 110.2,311.7 113.4,313.9 C116.7,316.1 118.4,321.2 118.6,324.3 C118.8,327.4 117.3,329.8 114.7,332.2 C112.1,334.6 106.5,337.4 103.0,338.7 C99.5,340.0 96.3,340.9 93.9,340.0 C91.5,339.1 90.0,336.8 88.7,333.5 C87.4,330.2 86.1,323.9 86.1,320.4 C86.1,316.9 86.5,314.1 88.7,312.6"/><path transform="translate(647.3,717.7)" d="M114.7,347.8 C117.3,346.3 123.4,342.0 126.4,341.3 C129.4,340.6 132.0,341.3 132.9,343.9 C133.8,346.5 132.2,353.9 131.6,356.9 C130.9,359.9 131.4,360.8 129.0,362.1 C126.6,363.4 120.3,365.6 117.3,364.7 C114.3,363.8 111.9,359.3 110.8,356.9 C109.7,354.5 110.1,351.9 110.8,350.4 C111.5,348.9 112.1,349.3 114.7,347.8"/><path transform="translate(647.3,717.7)" d="M106.6,420.0 C107.6,418.3 110.4,417.4 112.7,417.3 C115.0,417.2 118.6,417.9 120.4,419.2 C122.2,420.5 122.8,422.7 123.5,425.4 C124.2,428.1 123.3,432.4 124.3,435.4 C125.3,438.3 128.7,440.3 129.7,443.1 C130.7,445.9 130.8,449.8 130.4,452.3 C130.0,454.9 129.1,456.9 127.3,458.4 C125.5,459.9 122.6,460.3 119.7,461.5 C116.8,462.7 112.4,464.8 109.7,465.4 C107.0,466.0 105.8,466.2 103.5,465.4 C101.2,464.6 97.6,462.7 95.8,460.8 C94.0,458.9 93.3,456.6 92.7,453.8 C92.1,451.0 91.1,446.6 92.0,443.8 C92.9,441.0 96.0,438.7 98.1,436.9 C100.1,435.1 102.9,434.6 104.3,433.1 C105.7,431.6 106.2,429.9 106.6,427.7 C107.0,425.5 105.6,421.7 106.6,420.0"/><path transform="translate(647.3,717.7)" d="M136.2,133.1 C136.2,135.1 135.5,137.6 134.5,139.2 C133.4,140.9 131.6,142.4 129.9,143.0 C128.2,143.6 126.0,143.6 124.3,143.0 C122.6,142.4 120.8,140.9 119.7,139.2 C118.7,137.6 118.0,135.1 118.0,133.1 C118.0,131.1 118.7,128.6 119.7,127.0 C120.8,125.3 122.6,123.8 124.3,123.2 C126.0,122.6 128.2,122.6 129.9,123.2 C131.6,123.8 133.4,125.3 134.5,127.0 C135.5,128.6 136.2,131.1 136.2,133.1"/><path transform="translate(647.3,717.7)" d="M74.9,74.5 C74.9,75.8 74.3,77.5 73.6,78.4 C72.8,79.3 71.5,80.0 70.4,80.0 C69.3,80.0 68.0,79.3 67.2,78.4 C66.5,77.5 65.9,75.8 65.9,74.5 C65.9,73.2 66.5,71.5 67.2,70.6 C68.0,69.7 69.3,69.0 70.4,69.0 C71.5,69.0 72.8,69.7 73.6,70.6 C74.3,71.5 74.9,73.2 74.9,74.5"/><path transform="translate(647.3,717.7)" d="M95.5,168.2 C95.5,169.1 95.0,170.4 94.3,171.0 C93.6,171.7 92.3,172.2 91.3,172.2 C90.3,172.2 89.0,171.7 88.3,171.0 C87.6,170.4 87.1,169.1 87.1,168.2 C87.1,167.3 87.6,166.0 88.3,165.4 C89.0,164.7 90.3,164.2 91.3,164.2 C92.3,164.2 93.6,164.7 94.3,165.4 C95.0,166.0 95.5,167.3 95.5,168.2"/><path transform="translate(647.3,717.7)" d="M88.0,30.0 L92.0,50.0 L95.0,70.0 L100.0,90.0 L106.0,110.0" stroke-width="1.8"/><path transform="translate(647.3,717.7)" d="M99.0,100.0 L103.0,120.0 L101.0,140.0" stroke-width="1.8"/><path transform="translate(134.4,1365.3)" d="M79.5,25.0 C80.5,22.4 84.6,22.0 87.4,22.4 C90.2,22.8 93.0,26.1 96.5,27.6 C100.0,29.1 105.8,28.2 108.2,31.5 C110.6,34.8 111.0,42.9 110.8,47.2 C110.6,51.6 108.2,54.4 106.9,57.6 C105.6,60.9 102.1,63.7 103.0,66.7 C103.9,69.7 110.5,72.3 112.1,75.8 C113.7,79.3 111.6,84.0 112.7,87.5 C113.8,91.0 116.8,93.6 118.6,96.6 C120.4,99.6 123.4,102.4 123.8,105.7 C124.2,109.0 122.9,114.0 121.2,116.2 C119.5,118.4 115.4,116.2 113.4,118.8 C111.5,121.4 110.6,127.7 109.5,131.8 C108.4,135.9 108.0,140.7 106.9,143.5 C105.8,146.3 105.4,146.8 103.0,148.7 C100.6,150.6 95.6,153.7 92.6,155.2 C89.6,156.7 86.6,159.5 84.8,157.8 C83.0,156.1 82.2,150.2 81.5,144.8 C80.8,139.4 80.5,131.8 80.8,125.3 C81.1,118.8 82.5,112.0 83.4,105.7 C84.3,99.4 85.8,93.6 86.1,87.5 C86.4,81.4 85.7,74.9 85.4,69.3 C85.1,63.7 84.8,58.9 84.1,53.7 C83.4,48.5 82.3,42.8 81.5,38.0 C80.7,33.2 78.5,27.6 79.5,25.0"/><path transform="translate(134.4,1365.3)" d="M76.9,202.0 C79.3,197.7 85.7,195.0 88.7,194.1 C91.8,193.2 94.1,193.4 95.2,196.7 C96.3,200.0 95.6,208.0 95.2,213.7 C94.8,219.3 93.0,225.8 92.6,230.6 C92.2,235.4 92.8,238.6 92.6,242.3 C92.4,246.0 92.8,250.5 91.3,252.7 C89.8,254.9 86.0,255.3 83.4,255.3 C80.8,255.3 77.1,255.3 75.6,252.7 C74.1,250.1 74.5,245.1 74.3,239.7 C74.1,234.3 73.9,226.5 74.3,220.2 C74.7,213.9 74.5,206.3 76.9,202.0"/><path transform="translate(134.4,1365.3)" d="M83.4,257.9 C85.2,254.8 90.0,258.1 92.6,260.5 C95.2,262.9 98.2,267.1 99.1,272.3 C100.0,277.5 97.8,286.6 97.8,291.8 C97.8,297.0 100.2,300.9 99.1,303.5 C98.0,306.1 93.9,307.2 91.3,307.4 C88.7,307.6 85.2,307.0 83.4,304.8 C81.7,302.6 81.0,298.7 80.8,294.4 C80.6,290.1 81.7,284.9 82.1,278.8 C82.5,272.7 81.7,260.9 83.4,257.9"/><path transform="translate(134.4,1365.3)" d="M116.0,171.5 C118.0,167.4 122.9,173.4 126.4,176.1 C129.9,178.8 134.2,184.4 136.8,187.6 C139.4,190.8 143.1,192.3 142.0,195.4 C140.9,198.5 133.1,202.9 130.3,205.9 C127.5,208.9 125.8,209.8 125.1,213.7 C124.4,217.6 125.8,223.7 126.4,229.3 C127.1,234.9 127.0,243.6 129.0,247.5 C130.9,251.4 135.5,250.5 138.1,252.7 C140.7,254.9 144.6,257.0 144.6,260.5 C144.6,264.0 139.8,268.8 138.1,273.6 C136.4,278.4 136.1,285.1 134.2,289.2 C132.2,293.3 129.2,296.4 126.4,298.3 C123.6,300.2 119.2,302.4 117.3,300.9 C115.3,299.4 115.3,294.0 114.7,289.2 C114.1,284.4 114.1,278.4 113.4,272.3 C112.8,266.2 110.8,258.1 110.8,252.7 C110.8,247.3 112.8,244.5 113.4,239.7 C114.1,234.9 114.5,230.6 114.7,224.1 C114.9,217.6 114.5,209.4 114.7,200.6 C114.9,191.8 114.0,175.6 116.0,171.5"/><path transform="translate(134.4,1365.3)" d="M88.7,312.6 C90.9,311.1 95.0,311.1 99.1,311.3 C103.2,311.5 110.2,311.7 113.4,313.9 C116.7,316.1 118.4,321.2 118.6,324.3 C118.8,327.4 117.3,329.8 114.7,332.2 C112.1,334.6 106.5,337.4 103.0,338.7 C99.5,340.0 96.3,340.9 93.9,340.0 C91.5,339.1 90.0,336.8 88.7,333.5 C87.4,330.2 86.1,323.9 86.1,320.4 C86.1,316.9 86.5,314.1 88.7,312.6"/><path transform="translate(134.4,1365.3)" d="M114.7,347.8 C117.3,346.3 123.4,342.0 126.4,341.3 C129.4,340.6 132.0,341.3 132.9,343.9 C133.8,346.5 132.2,353.9 131.6,356.9 C130.9,359.9 131.4,360.8 129.0,362.1 C126.6,363.4 120.3,365.6 117.3,364.7 C114.3,363.8 111.9,359.3 110.8,356.9 C109.7,354.5 110.1,351.9 110.8,350.4 C111.5,348.9 112.1,349.3 114.7,347.8"/><path transform="translate(134.4,1365.3)" d="M106.6,420.0 C107.6,418.3 110.4,417.4 112.7,417.3 C115.0,417.2 118.6,417.9 120.4,419.2 C122.2,420.5 122.8,422.7 123.5,425.4 C124.2,428.1 123.3,432.4 124.3,435.4 C125.3,438.3 128.7,440.3 129.7,443.1 C130.7,445.9 130.8,449.8 130.4,452.3 C130.0,454.9 129.1,456.9 127.3,458.4 C125.5,459.9 122.6,460.3 119.7,461.5 C116.8,462.7 112.4,464.8 109.7,465.4 C107.0,466.0 105.8,466.2 103.5,465.4 C101.2,464.6 97.6,462.7 95.8,460.8 C94.0,458.9 93.3,456.6 92.7,453.8 C92.1,451.0 91.1,446.6 92.0,443.8 C92.9,441.0 96.0,438.7 98.1,436.9 C100.1,435.1 102.9,434.6 104.3,433.1 C105.7,431.6 106.2,429.9 106.6,427.7 C107.0,425.5 105.6,421.7 106.6,420.0"/><path transform="translate(134.4,1365.3)" d="M136.2,133.1 C136.2,135.1 135.5,137.6 134.5,139.2 C133.4,140.9 131.6,142.4 129.9,143.0 C128.2,143.6 126.0,143.6 124.3,143.0 C122.6,142.4 120.8,140.9 119.7,139.2 C118.7,137.6 118.0,135.1 118.0,133.1 C118.0,131.1 118.7,128.6 119.7,127.0 C120.8,125.3 122.6,123.8 124.3,123.2 C126.0,122.6 128.2,122.6 129.9,123.2 C131.6,123.8 133.4,125.3 134.5,127.0 C135.5,128.6 136.2,131.1 136.2,133.1"/><path transform="translate(134.4,1365.3)" d="M74.9,74.5 C74.9,75.8 74.3,77.5 73.6,78.4 C72.8,79.3 71.5,80.0 70.4,80.0 C69.3,80.0 68.0,79.3 67.2,78.4 C66.5,77.5 65.9,75.8 65.9,74.5 C65.9,73.2 66.5,71.5 67.2,70.6 C68.0,69.7 69.3,69.0 70.4,69.0 C71.5,69.0 72.8,69.7 73.6,70.6 C74.3,71.5 74.9,73.2 74.9,74.5"/><path transform="translate(134.4,1365.3)" d="M95.5,168.2 C95.5,169.1 95.0,170.4 94.3,171.0 C93.6,171.7 92.3,172.2 91.3,172.2 C90.3,172.2 89.0,171.7 88.3,171.0 C87.6,170.4 87.1,169.1 87.1,168.2 C87.1,167.3 87.6,166.0 88.3,165.4 C89.0,164.7 90.3,164.2 91.3,164.2 C92.3,164.2 93.6,164.7 94.3,165.4 C95.0,166.0 95.5,167.3 95.5,168.2"/><path transform="translate(134.4,1365.3)" d="M88.0,30.0 L92.0,50.0 L95.0,70.0 L100.0,90.0 L106.0,110.0" stroke-width="1.8"/><path transform="translate(134.4,1365.3)" d="M99.0,100.0 L103.0,120.0 L101.0,140.0" stroke-width="1.8"/><path transform="translate(395.1,1368.6)" d="M79.5,25.0 C80.5,22.4 84.6,22.0 87.4,22.4 C90.2,22.8 93.0,26.1 96.5,27.6 C100.0,29.1 105.8,28.2 108.2,31.5 C110.6,34.8 111.0,42.9 110.8,47.2 C110.6,51.6 108.2,54.4 106.9,57.6 C105.6,60.9 102.1,63.7 103.0,66.7 C103.9,69.7 110.5,72.3 112.1,75.8 C113.7,79.3 111.6,84.0 112.7,87.5 C113.8,91.0 116.8,93.6 118.6,96.6 C120.4,99.6 123.4,102.4 123.8,105.7 C124.2,109.0 122.9,114.0 121.2,116.2 C119.5,118.4 115.4,116.2 113.4,118.8 C111.5,121.4 110.6,127.7 109.5,131.8 C108.4,135.9 108.0,140.7 106.9,143.5 C105.8,146.3 105.4,146.8 103.0,148.7 C100.6,150.6 95.6,153.7 92.6,155.2 C89.6,156.7 86.6,159.5 84.8,157.8 C83.0,156.1 82.2,150.2 81.5,144.8 C80.8,139.4 80.5,131.8 80.8,125.3 C81.1,118.8 82.5,112.0 83.4,105.7 C84.3,99.4 85.8,93.6 86.1,87.5 C86.4,81.4 85.7,74.9 85.4,69.3 C85.1,63.7 84.8,58.9 84.1,53.7 C83.4,48.5 82.3,42.8 81.5,38.0 C80.7,33.2 78.5,27.6 79.5,25.0"/><path transform="translate(395.1,1368.6)" d="M76.9,202.0 C79.3,197.7 85.7,195.0 88.7,194.1 C91.8,193.2 94.1,193.4 95.2,196.7 C96.3,200.0 95.6,208.0 95.2,213.7 C94.8,219.3 93.0,225.8 92.6,230.6 C92.2,235.4 92.8,238.6 92.6,242.3 C92.4,246.0 92.8,250.5 91.3,252.7 C89.8,254.9 86.0,255.3 83.4,255.3 C80.8,255.3 77.1,255.3 75.6,252.7 C74.1,250.1 74.5,245.1 74.3,239.7 C74.1,234.3 73.9,226.5 74.3,220.2 C74.7,213.9 74.5,206.3 76.9,202.0"/><path transform="translate(395.1,1368.6)" d="M83.4,257.9 C85.2,254.8 90.0,258.1 92.6,260.5 C95.2,262.9 98.2,267.1 99.1,272.3 C100.0,277.5 97.8,286.6 97.8,291.8 C97.8,297.0 100.2,300.9 99.1,303.5 C98.0,306.1 93.9,307.2 91.3,307.4 C88.7,307.6 85.2,307.0 83.4,304.8 C81.7,302.6 81.0,298.7 80.8,294.4 C80.6,290.1 81.7,284.9 82.1,278.8 C82.5,272.7 81.7,260.9 83.4,257.9"/><path transform="translate(395.1,1368.6)" d="M116.0,171.5 C118.0,167.4 122.9,173.4 126.4,176.1 C129.9,178.8 134.2,184.4 136.8,187.6 C139.4,190.8 143.1,192.3 142.0,195.4 C140.9,198.5 133.1,202.9 130.3,205.9 C127.5,208.9 125.8,209.8 125.1,213.7 C124.4,217.6 125.8,223.7 126.4,229.3 C127.1,234.9 127.0,243.6 129.0,247.5 C130.9,251.4 135.5,250.5 138.1,252.7 C140.7,254.9 144.6,257.0 144.6,260.5 C144.6,264.0 139.8,268.8 138.1,273.6 C136.4,278.4 136.1,285.1 134.2,289.2 C132.2,293.3 129.2,296.4 126.4,298.3 C123.6,300.2 119.2,302.4 117.3,300.9 C115.3,299.4 115.3,294.0 114.7,289.2 C114.1,284.4 114.1,278.4 113.4,272.3 C112.8,266.2 110.8,258.1 110.8,252.7 C110.8,247.3 112.8,244.5 113.4,239.7 C114.1,234.9 114.5,230.6 114.7,224.1 C114.9,217.6 114.5,209.4 114.7,200.6 C114.9,191.8 114.0,175.6 116.0,171.5"/><path transform="translate(395.1,1368.6)" d="M88.7,312.6 C90.9,311.1 95.0,311.1 99.1,311.3 C103.2,311.5 110.2,311.7 113.4,313.9 C116.7,316.1 118.4,321.2 118.6,324.3 C118.8,327.4 117.3,329.8 114.7,332.2 C112.1,334.6 106.5,337.4 103.0,338.7 C99.5,340.0 96.3,340.9 93.9,340.0 C91.5,339.1 90.0,336.8 88.7,333.5 C87.4,330.2 86.1,323.9 86.1,320.4 C86.1,316.9 86.5,314.1 88.7,312.6"/><path transform="translate(395.1,1368.6)" d="M114.7,347.8 C117.3,346.3 123.4,342.0 126.4,341.3 C129.4,340.6 132.0,341.3 132.9,343.9 C133.8,346.5 132.2,353.9 131.6,356.9 C130.9,359.9 131.4,360.8 129.0,362.1 C126.6,363.4 120.3,365.6 117.3,364.7 C114.3,363.8 111.9,359.3 110.8,356.9 C109.7,354.5 110.1,351.9 110.8,350.4 C111.5,348.9 112.1,349.3 114.7,347.8"/><path transform="translate(395.1,1368.6)" d="M106.6,420.0 C107.6,418.3 110.4,417.4 112.7,417.3 C115.0,417.2 118.6,417.9 120.4,419.2 C122.2,420.5 122.8,422.7 123.5,425.4 C124.2,428.1 123.3,432.4 124.3,435.4 C125.3,438.3 128.7,440.3 129.7,443.1 C130.7,445.9 130.8,449.8 130.4,452.3 C130.0,454.9 129.1,456.9 127.3,458.4 C125.5,459.9 122.6,460.3 119.7,461.5 C116.8,462.7 112.4,464.8 109.7,465.4 C107.0,466.0 105.8,466.2 103.5,465.4 C101.2,464.6 97.6,462.7 95.8,460.8 C94.0,458.9 93.3,456.6 92.7,453.8 C92.1,451.0 91.1,446.6 92.0,443.8 C92.9,441.0 96.0,438.7 98.1,436.9 C100.1,435.1 102.9,434.6 104.3,433.1 C105.7,431.6 106.2,429.9 106.6,427.7 C107.0,425.5 105.6,421.7 106.6,420.0"/><path transform="translate(395.1,1368.6)" d="M136.2,133.1 C136.2,135.1 135.5,137.6 134.5,139.2 C133.4,140.9 131.6,142.4 129.9,143.0 C128.2,143.6 126.0,143.6 124.3,143.0 C122.6,142.4 120.8,140.9 119.7,139.2 C118.7,137.6 118.0,135.1 118.0,133.1 C118.0,131.1 118.7,128.6 119.7,127.0 C120.8,125.3 122.6,123.8 124.3,123.2 C126.0,122.6 128.2,122.6 129.9,123.2 C131.6,123.8 133.4,125.3 134.5,127.0 C135.5,128.6 136.2,131.1 136.2,133.1"/><path transform="translate(395.1,1368.6)" d="M74.9,74.5 C74.9,75.8 74.3,77.5 73.6,78.4 C72.8,79.3 71.5,80.0 70.4,80.0 C69.3,80.0 68.0,79.3 67.2,78.4 C66.5,77.5 65.9,75.8 65.9,74.5 C65.9,73.2 66.5,71.5 67.2,70.6 C68.0,69.7 69.3,69.0 70.4,69.0 C71.5,69.0 72.8,69.7 73.6,70.6 C74.3,71.5 74.9,73.2 74.9,74.5"/><path transform="translate(395.1,1368.6)" d="M95.5,168.2 C95.5,169.1 95.0,170.4 94.3,171.0 C93.6,171.7 92.3,172.2 91.3,172.2 C90.3,172.2 89.0,171.7 88.3,171.0 C87.6,170.4 87.1,169.1 87.1,168.2 C87.1,167.3 87.6,166.0 88.3,165.4 C89.0,164.7 90.3,164.2 91.3,164.2 C92.3,164.2 93.6,164.7 94.3,165.4 C95.0,166.0 95.5,167.3 95.5,168.2"/><path transform="translate(395.1,1368.6)" d="M88.0,30.0 L92.0,50.0 L95.0,70.0 L100.0,90.0 L106.0,110.0" stroke-width="1.8"/><path transform="translate(395.1,1368.6)" d="M99.0,100.0 L103.0,120.0 L101.0,140.0" stroke-width="1.8"/><path transform="translate(650.6,1366.8)" d="M79.5,25.0 C80.5,22.4 84.6,22.0 87.4,22.4 C90.2,22.8 93.0,26.1 96.5,27.6 C100.0,29.1 105.8,28.2 108.2,31.5 C110.6,34.8 111.0,42.9 110.8,47.2 C110.6,51.6 108.2,54.4 106.9,57.6 C105.6,60.9 102.1,63.7 103.0,66.7 C103.9,69.7 110.5,72.3 112.1,75.8 C113.7,79.3 111.6,84.0 112.7,87.5 C113.8,91.0 116.8,93.6 118.6,96.6 C120.4,99.6 123.4,102.4 123.8,105.7 C124.2,109.0 122.9,114.0 121.2,116.2 C119.5,118.4 115.4,116.2 113.4,118.8 C111.5,121.4 110.6,127.7 109.5,131.8 C108.4,135.9 108.0,140.7 106.9,143.5 C105.8,146.3 105.4,146.8 103.0,148.7 C100.6,150.6 95.6,153.7 92.6,155.2 C89.6,156.7 86.6,159.5 84.8,157.8 C83.0,156.1 82.2,150.2 81.5,144.8 C80.8,139.4 80.5,131.8 80.8,125.3 C81.1,118.8 82.5,112.0 83.4,105.7 C84.3,99.4 85.8,93.6 86.1,87.5 C86.4,81.4 85.7,74.9 85.4,69.3 C85.1,63.7 84.8,58.9 84.1,53.7 C83.4,48.5 82.3,42.8 81.5,38.0 C80.7,33.2 78.5,27.6 79.5,25.0"/><path transform="translate(650.6,1366.8)" d="M76.9,202.0 C79.3,197.7 85.7,195.0 88.7,194.1 C91.8,193.2 94.1,193.4 95.2,196.7 C96.3,200.0 95.6,208.0 95.2,213.7 C94.8,219.3 93.0,225.8 92.6,230.6 C92.2,235.4 92.8,238.6 92.6,242.3 C92.4,246.0 92.8,250.5 91.3,252.7 C89.8,254.9 86.0,255.3 83.4,255.3 C80.8,255.3 77.1,255.3 75.6,252.7 C74.1,250.1 74.5,245.1 74.3,239.7 C74.1,234.3 73.9,226.5 74.3,220.2 C74.7,213.9 74.5,206.3 76.9,202.0"/><path transform="translate(650.6,1366.8)" d="M83.4,257.9 C85.2,254.8 90.0,258.1 92.6,260.5 C95.2,262.9 98.2,267.1 99.1,272.3 C100.0,277.5 97.8,286.6 97.8,291.8 C97.8,297.0 100.2,300.9 99.1,303.5 C98.0,306.1 93.9,307.2 91.3,307.4 C88.7,307.6 85.2,307.0 83.4,304.8 C81.7,302.6 81.0,298.7 80.8,294.4 C80.6,290.1 81.7,284.9 82.1,278.8 C82.5,272.7 81.7,260.9 83.4,257.9"/><path transform="translate(650.6,1366.8)" d="M116.0,171.5 C118.0,167.4 122.9,173.4 126.4,176.1 C129.9,178.8 134.2,184.4 136.8,187.6 C139.4,190.8 143.1,192.3 142.0,195.4 C140.9,198.5 133.1,202.9 130.3,205.9 C127.5,208.9 125.8,209.8 125.1,213.7 C124.4,217.6 125.8,223.7 126.4,229.3 C127.1,234.9 127.0,243.6 129.0,247.5 C130.9,251.4 135.5,250.5 138.1,252.7 C140.7,254.9 144.6,257.0 144.6,260.5 C144.6,264.0 139.8,268.8 138.1,273.6 C136.4,278.4 136.1,285.1 134.2,289.2 C132.2,293.3 129.2,296.4 126.4,298.3 C123.6,300.2 119.2,302.4 117.3,300.9 C115.3,299.4 115.3,294.0 114.7,289.2 C114.1,284.4 114.1,278.4 113.4,272.3 C112.8,266.2 110.8,258.1 110.8,252.7 C110.8,247.3 112.8,244.5 113.4,239.7 C114.1,234.9 114.5,230.6 114.7,224.1 C114.9,217.6 114.5,209.4 114.7,200.6 C114.9,191.8 114.0,175.6 116.0,171.5"/><path transform="translate(650.6,1366.8)" d="M88.7,312.6 C90.9,311.1 95.0,311.1 99.1,311.3 C103.2,311.5 110.2,311.7 113.4,313.9 C116.7,316.1 118.4,321.2 118.6,324.3 C118.8,327.4 117.3,329.8 114.7,332.2 C112.1,334.6 106.5,337.4 103.0,338.7 C99.5,340.0 96.3,340.9 93.9,340.0 C91.5,339.1 90.0,336.8 88.7,333.5 C87.4,330.2 86.1,323.9 86.1,320.4 C86.1,316.9 86.5,314.1 88.7,312.6"/><path transform="translate(650.6,1366.8)" d="M114.7,347.8 C117.3,346.3 123.4,342.0 126.4,341.3 C129.4,340.6 132.0,341.3 132.9,343.9 C133.8,346.5 132.2,353.9 131.6,356.9 C130.9,359.9 131.4,360.8 129.0,362.1 C126.6,363.4 120.3,365.6 117.3,364.7 C114.3,363.8 111.9,359.3 110.8,356.9 C109.7,354.5 110.1,351.9 110.8,350.4 C111.5,348.9 112.1,349.3 114.7,347.8"/><path transform="translate(650.6,1366.8)" d="M106.6,420.0 C107.6,418.3 110.4,417.4 112.7,417.3 C115.0,417.2 118.6,417.9 120.4,419.2 C122.2,420.5 122.8,422.7 123.5,425.4 C124.2,428.1 123.3,432.4 124.3,435.4 C125.3,438.3 128.7,440.3 129.7,443.1 C130.7,445.9 130.8,449.8 130.4,452.3 C130.0,454.9 129.1,456.9 127.3,458.4 C125.5,459.9 122.6,460.3 119.7,461.5 C116.8,462.7 112.4,464.8 109.7,465.4 C107.0,466.0 105.8,466.2 103.5,465.4 C101.2,464.6 97.6,462.7 95.8,460.8 C94.0,458.9 93.3,456.6 92.7,453.8 C92.1,451.0 91.1,446.6 92.0,443.8 C92.9,441.0 96.0,438.7 98.1,436.9 C100.1,435.1 102.9,434.6 104.3,433.1 C105.7,431.6 106.2,429.9 106.6,427.7 C107.0,425.5 105.6,421.7 106.6,420.0"/><path transform="translate(650.6,1366.8)" d="M136.2,133.1 C136.2,135.1 135.5,137.6 134.5,139.2 C133.4,140.9 131.6,142.4 129.9,143.0 C128.2,143.6 126.0,143.6 124.3,143.0 C122.6,142.4 120.8,140.9 119.7,139.2 C118.7,137.6 118.0,135.1 118.0,133.1 C118.0,131.1 118.7,128.6 119.7,127.0 C120.8,125.3 122.6,123.8 124.3,123.2 C126.0,122.6 128.2,122.6 129.9,123.2 C131.6,123.8 133.4,125.3 134.5,127.0 C135.5,128.6 136.2,131.1 136.2,133.1"/><path transform="translate(650.6,1366.8)" d="M74.9,74.5 C74.9,75.8 74.3,77.5 73.6,78.4 C72.8,79.3 71.5,80.0 70.4,80.0 C69.3,80.0 68.0,79.3 67.2,78.4 C66.5,77.5 65.9,75.8 65.9,74.5 C65.9,73.2 66.5,71.5 67.2,70.6 C68.0,69.7 69.3,69.0 70.4,69.0 C71.5,69.0 72.8,69.7 73.6,70.6 C74.3,71.5 74.9,73.2 74.9,74.5"/><path transform="translate(650.6,1366.8)" d="M95.5,168.2 C95.5,169.1 95.0,170.4 94.3,171.0 C93.6,171.7 92.3,172.2 91.3,172.2 C90.3,172.2 89.0,171.7 88.3,171.0 C87.6,170.4 87.1,169.1 87.1,168.2 C87.1,167.3 87.6,166.0 88.3,165.4 C89.0,164.7 90.3,164.2 91.3,164.2 C92.3,164.2 93.6,164.7 94.3,165.4 C95.0,166.0 95.5,167.3 95.5,168.2"/><path transform="translate(650.6,1366.8)" d="M88.0,30.0 L92.0,50.0 L95.0,70.0 L100.0,90.0 L106.0,110.0" stroke-width="1.8"/><path transform="translate(650.6,1366.8)" d="M99.0,100.0 L103.0,120.0 L101.0,140.0" stroke-width="1.8"/></g><g fill="#000" shape-rendering="auto"><circle cx="253.6" cy="224.7" r="2.3"/><circle cx="251.8" cy="560.5" r="2.4"/><path transform="translate(129.8,63.6)" d="M99.5,513.5 C100,520 103,523.5 106,523.5 C109,523.5 112,520 112.5,513.5 C110,513 108.5,514 106.3,516.5 C104,514 102,513 99.5,513.5 Z" fill="#000"/><circle cx="515.1" cy="218.7" r="2.3"/><circle cx="513.4" cy="554.5" r="2.4"/><path transform="translate(391.4,57.6)" d="M99.5,513.5 C100,520 103,523.5 106,523.5 C109,523.5 112,520 112.5,513.5 C110,513 108.5,514 106.3,516.5 C104,514 102,513 99.5,513.5 Z" fill="#000"/><circle cx="775.3" cy="216.5" r="2.3"/><circle cx="773.5" cy="552.3" r="2.4"/><path transform="translate(651.5,55.4)" d="M99.5,513.5 C100,520 103,523.5 106,523.5 C109,523.5 112,520 112.5,513.5 C110,513 108.5,514 106.3,516.5 C104,514 102,513 99.5,513.5 Z" fill="#000"/><circle cx="255.0" cy="883.1" r="2.3"/><circle cx="253.2" cy="1218.9" r="2.4"/><path transform="translate(131.2,722.0)" d="M99.5,513.5 C100,520 103,523.5 106,523.5 C109,523.5 112,520 112.5,513.5 C110,513 108.5,514 106.3,516.5 C104,514 102,513 99.5,513.5 Z" fill="#000"/><circle cx="516.5" cy="879.6" r="2.3"/><circle cx="514.7" cy="1215.4" r="2.4"/><path transform="translate(392.7,718.5)" d="M99.5,513.5 C100,520 103,523.5 106,523.5 C109,523.5 112,520 112.5,513.5 C110,513 108.5,514 106.3,516.5 C104,514 102,513 99.5,513.5 Z" fill="#000"/><circle cx="771.1" cy="878.8" r="2.3"/><circle cx="769.3" cy="1214.6" r="2.4"/><path transform="translate(647.3,717.7)" d="M99.5,513.5 C100,520 103,523.5 106,523.5 C109,523.5 112,520 112.5,513.5 C110,513 108.5,514 106.3,516.5 C104,514 102,513 99.5,513.5 Z" fill="#000"/><circle cx="258.2" cy="1526.4" r="2.3"/><circle cx="256.4" cy="1862.2" r="2.4"/><path transform="translate(134.4,1365.3)" d="M99.5,513.5 C100,520 103,523.5 106,523.5 C109,523.5 112,520 112.5,513.5 C110,513 108.5,514 106.3,516.5 C104,514 102,513 99.5,513.5 Z" fill="#000"/><circle cx="518.9" cy="1529.7" r="2.3"/><circle cx="517.1" cy="1865.5" r="2.4"/><path transform="translate(395.1,1368.6)" d="M99.5,513.5 C100,520 103,523.5 106,523.5 C109,523.5 112,520 112.5,513.5 C110,513 108.5,514 106.3,516.5 C104,514 102,513 99.5,513.5 Z" fill="#000"/><circle cx="774.4" cy="1527.9" r="2.3"/><circle cx="772.6" cy="1863.7" r="2.4"/><path transform="translate(650.6,1366.8)" d="M99.5,513.5 C100,520 103,523.5 106,523.5 C109,523.5 112,520 112.5,513.5 C110,513 108.5,514 106.3,516.5 C104,514 102,513 99.5,513.5 Z" fill="#000"/></g><path clip-path="url(#cpG)" d="M130.2,1391.3 L135.7,1393.5 L133.5,1394.6 L132.3,1396.9ZM162.3,1388.6 L168.8,1393.3 L165.4,1394.0 L163.2,1396.5ZM197.6,1387.6 L201.4,1394.6 L198.1,1393.8 L195.0,1395.1ZM225.1,1389.4 L232.2,1393.0 L229.1,1394.2 L227.3,1397.1ZM262.8,1394.5 L258.2,1391.3 L260.5,1390.0 L252.3,1388.6 L256.4,1395.9 L256.8,1393.3 L261.4,1396.5ZM294.6,1394.4 L288.6,1391.6 L290.6,1389.9 L282.3,1390.0 L287.6,1396.5 L287.6,1393.8 L293.6,1396.6ZM326.5,1394.4 L319.6,1391.2 L321.6,1389.5 L313.3,1389.6 L318.6,1396.0 L318.6,1393.4 L325.5,1396.6ZM129.4,1425.7 L134.0,1423.6 L133.3,1425.7 L134.0,1427.9ZM162.0,1423.2 L167.1,1423.7 L165.4,1425.2 L164.9,1427.4ZM197.4,1420.8 L200.3,1425.0 L198.1,1424.7 L196.1,1425.7ZM224.6,1423.7 L230.6,1423.3 L229.0,1425.3 L228.9,1427.8ZM254.3,1424.4 L262.0,1422.5 L260.4,1425.4 L260.9,1428.8ZM294.4,1424.6 L288.0,1422.9 L289.7,1420.8 L281.5,1422.4 L287.8,1427.8 L287.4,1425.2 L293.8,1426.9ZM326.4,1424.6 L319.2,1422.0 L321.1,1420.1 L312.8,1421.0 L318.7,1426.9 L318.4,1424.3 L325.6,1426.9ZM130.4,1456.0 L134.1,1453.8 L133.5,1456.0 L134.1,1458.1ZM162.3,1456.0 L166.0,1453.8 L165.4,1456.0 L166.0,1458.1ZM194.3,1456.0 L197.9,1453.8 L197.4,1456.0 L197.9,1458.1ZM226.4,1457.3 L229.1,1454.0 L229.4,1456.3 L230.6,1458.1ZM256.2,1457.0 L261.2,1453.7 L260.8,1456.2 L262.1,1458.4ZM289.5,1459.8 L292.1,1454.4 L293.1,1456.8 L295.2,1458.1ZM320.3,1460.0 L323.9,1454.0 L324.7,1456.8 L327.1,1458.6ZM126.4,1486.2 L133.7,1483.0 L132.6,1486.2 L133.7,1489.4ZM166.3,1485.0 L162.7,1485.0 L163.8,1482.6 L156.3,1486.2 L163.8,1489.8 L162.7,1487.4 L166.3,1487.4ZM198.3,1485.0 L194.6,1485.0 L195.8,1482.6 L188.3,1486.2 L195.8,1489.8 L194.6,1487.4 L198.3,1487.4ZM222.2,1486.2 L229.5,1483.0 L228.4,1486.2 L229.5,1489.4ZM256.1,1486.2 L261.6,1483.8 L260.8,1486.2 L261.6,1488.6ZM292.0,1491.8 L291.6,1485.8 L293.6,1487.4 L296.2,1487.5ZM321.1,1491.1 L323.6,1484.6 L324.9,1487.3 L327.6,1488.6ZM134.4,1515.2 L125.8,1515.2 L126.9,1512.8 L119.4,1516.4 L126.9,1520.0 L125.8,1517.6 L134.4,1517.6ZM166.4,1515.2 L154.9,1514.2 L156.2,1511.9 L148.4,1514.8 L155.6,1519.1 L154.6,1516.6 L166.2,1517.6ZM198.4,1515.2 L187.8,1514.3 L189.1,1512.0 L181.3,1514.9 L188.5,1519.2 L187.6,1516.7 L198.2,1517.6ZM230.6,1515.3 L225.3,1513.4 L227.2,1511.5 L218.9,1512.3 L224.7,1518.2 L224.5,1515.6 L229.8,1517.5ZM262.3,1515.2 L258.8,1514.6 L260.3,1512.4 L252.3,1514.7 L259.0,1519.5 L258.4,1517.0 L261.9,1517.6ZM289.8,1520.6 L292.0,1515.1 L293.1,1517.3 L295.4,1518.5ZM320.3,1520.4 L323.9,1514.4 L324.7,1517.3 L327.1,1519.0ZM134.4,1545.4 L125.8,1545.4 L126.9,1543.0 L119.4,1546.6 L126.9,1550.2 L125.8,1547.8 L134.4,1547.8ZM166.4,1545.4 L157.8,1545.1 L159.0,1542.8 L151.3,1546.1 L158.7,1550.0 L157.7,1547.5 L166.3,1547.8ZM198.5,1545.4 L190.0,1543.9 L191.5,1541.8 L183.5,1544.0 L190.3,1548.9 L189.6,1546.3 L198.1,1547.8ZM230.8,1545.6 L225.9,1542.8 L228.1,1541.3 L219.8,1540.6 L224.5,1547.5 L224.7,1544.9 L229.6,1547.7ZM262.8,1545.6 L259.9,1543.6 L262.2,1542.2 L253.9,1540.9 L258.0,1548.1 L258.5,1545.5 L261.4,1547.6ZM294.7,1545.6 L289.8,1542.8 L292.0,1541.3 L283.7,1540.6 L288.4,1547.5 L288.6,1544.9 L293.5,1547.7ZM326.6,1545.6 L321.7,1542.8 L323.9,1541.3 L315.6,1540.6 L320.3,1547.5 L320.5,1544.9 L325.4,1547.7ZM134.4,1575.6 L125.8,1575.6 L126.9,1573.2 L119.4,1576.8 L126.9,1580.4 L125.8,1578.0 L134.4,1578.0ZM166.3,1575.6 L157.7,1575.6 L158.8,1573.2 L151.3,1576.8 L158.8,1580.4 L157.7,1578.0 L166.3,1578.0ZM198.5,1575.7 L190.0,1574.2 L191.5,1572.0 L183.5,1574.2 L190.3,1579.1 L189.6,1576.5 L198.1,1578.0ZM231.0,1575.9 L226.7,1572.3 L229.1,1571.2 L221.0,1569.1 L224.4,1576.7 L225.1,1574.2 L229.4,1577.8ZM262.9,1575.9 L260.1,1573.6 L262.5,1572.5 L254.5,1570.4 L257.9,1578.0 L258.6,1575.4 L261.4,1577.8ZM294.8,1575.9 L291.8,1573.8 L294.1,1572.5 L285.9,1571.1 L290.0,1578.4 L290.4,1575.8 L293.4,1577.8ZM326.6,1575.8 L323.5,1574.0 L325.6,1572.5 L317.3,1571.8 L322.0,1578.7 L322.3,1576.1 L325.4,1577.9ZM134.4,1605.9 L128.8,1605.9 L129.9,1603.5 L122.4,1607.1 L129.9,1610.7 L128.8,1608.3 L134.4,1608.3ZM166.3,1605.9 L160.7,1605.9 L161.8,1603.5 L154.3,1607.1 L161.8,1610.7 L160.7,1608.3 L166.3,1608.3ZM198.6,1605.9 L191.2,1603.9 L192.9,1601.9 L184.7,1603.4 L191.1,1608.9 L190.6,1606.3 L198.0,1608.2ZM231.0,1606.1 L228.2,1603.8 L230.6,1602.7 L222.5,1600.6 L226.0,1608.2 L226.7,1605.7 L229.4,1608.0ZM262.9,1606.1 L260.1,1603.8 L262.5,1602.7 L254.5,1600.6 L257.9,1608.2 L258.6,1605.7 L261.4,1608.0ZM294.8,1606.1 L291.8,1604.0 L294.1,1602.7 L285.9,1601.3 L290.0,1608.6 L290.4,1606.0 L293.4,1608.1ZM326.6,1606.0 L323.5,1604.2 L325.6,1602.7 L317.3,1602.1 L322.0,1608.9 L322.3,1606.3 L325.4,1608.1ZM134.4,1636.1 L126.8,1636.1 L127.9,1633.7 L120.4,1637.3 L127.9,1640.9 L126.8,1638.5 L134.4,1638.5ZM166.3,1636.1 L158.7,1636.1 L159.8,1633.7 L152.3,1637.3 L159.8,1640.9 L158.7,1638.5 L166.3,1638.5ZM198.6,1636.1 L190.2,1633.9 L192.0,1631.9 L183.8,1633.4 L190.1,1638.8 L189.6,1636.2 L198.0,1638.4ZM231.0,1636.4 L224.4,1630.8 L226.8,1629.7 L218.7,1627.6 L222.1,1635.2 L222.8,1632.7 L229.4,1638.2ZM262.9,1636.4 L260.1,1634.0 L262.5,1632.9 L254.5,1630.9 L257.9,1638.4 L258.6,1635.9 L261.4,1638.2ZM294.8,1636.3 L290.1,1633.1 L292.4,1631.8 L284.2,1630.4 L288.3,1637.7 L288.8,1635.0 L293.4,1638.3ZM326.6,1636.3 L321.7,1633.4 L323.9,1631.9 L315.6,1631.3 L320.3,1638.2 L320.5,1635.5 L325.4,1638.3ZM134.4,1666.3 L123.8,1666.3 L124.9,1663.9 L117.4,1667.5 L124.9,1671.1 L123.8,1668.7 L134.4,1668.7ZM166.4,1666.3 L155.8,1665.9 L157.0,1663.6 L149.3,1666.9 L156.7,1670.8 L155.7,1668.3 L166.3,1668.7ZM198.4,1666.3 L186.9,1664.7 L188.4,1662.5 L180.4,1665.0 L187.4,1669.6 L186.6,1667.1 L198.1,1668.7ZM230.8,1666.5 L221.6,1661.2 L223.8,1659.6 L215.5,1659.0 L220.2,1665.9 L220.4,1663.2 L229.6,1668.5ZM262.8,1666.5 L255.8,1661.6 L258.1,1660.3 L249.8,1658.9 L253.9,1666.2 L254.4,1663.5 L261.4,1668.5ZM294.8,1666.5 L286.1,1660.4 L288.3,1659.1 L280.1,1657.8 L284.2,1665.0 L284.7,1662.4 L293.4,1668.5ZM326.6,1666.5 L317.4,1661.2 L319.6,1659.6 L311.3,1659.0 L316.0,1665.9 L316.2,1663.2 L325.4,1668.5ZM134.4,1696.5 L116.8,1696.5 L117.9,1694.1 L110.4,1697.7 L117.9,1701.3 L116.8,1698.9 L134.4,1698.9ZM166.4,1696.5 L148.9,1695.0 L150.2,1692.7 L142.4,1695.6 L149.6,1699.9 L148.7,1697.4 L166.2,1698.9ZM198.4,1696.5 L180.8,1695.0 L182.1,1692.7 L174.4,1695.6 L181.5,1699.9 L180.6,1697.4 L198.2,1698.9ZM230.7,1696.6 L214.7,1689.2 L216.8,1687.5 L208.4,1687.6 L213.7,1694.0 L213.7,1691.4 L229.7,1698.8ZM262.8,1696.7 L251.7,1688.9 L254.0,1687.6 L245.8,1686.3 L249.8,1693.5 L250.3,1690.9 L261.4,1698.7ZM294.8,1696.7 L283.6,1688.9 L285.9,1687.6 L277.7,1686.3 L281.8,1693.5 L282.2,1690.9 L293.4,1698.7ZM326.5,1696.6 L316.9,1692.2 L318.9,1690.5 L310.6,1690.5 L315.9,1697.0 L315.9,1694.3 L325.5,1698.8ZM134.5,1726.8 L111.0,1724.7 L112.3,1722.4 L104.5,1725.3 L111.7,1729.6 L110.8,1727.1 L134.3,1729.1ZM166.5,1726.8 L143.1,1723.5 L144.6,1721.3 L136.6,1723.8 L143.6,1728.4 L142.8,1725.9 L166.2,1729.1ZM198.3,1726.8 L176.7,1726.0 L177.9,1723.6 L170.3,1727.0 L177.7,1730.8 L176.6,1728.4 L198.2,1729.2ZM230.6,1726.8 L211.2,1719.8 L213.1,1717.9 L204.8,1718.7 L210.6,1724.7 L210.4,1722.0 L229.8,1729.1ZM262.8,1727.0 L248.4,1716.9 L250.7,1715.5 L242.5,1714.2 L246.6,1721.4 L247.0,1718.8 L261.4,1728.9ZM294.8,1727.0 L282.0,1718.0 L284.3,1716.7 L276.0,1715.3 L280.1,1722.6 L280.6,1720.0 L293.4,1728.9ZM326.4,1726.8 L315.5,1722.8 L317.4,1721.0 L309.1,1721.8 L314.9,1727.7 L314.7,1725.1 L325.6,1729.1ZM134.5,1757.0 L111.0,1754.9 L112.3,1752.6 L104.5,1755.6 L111.7,1759.8 L110.8,1757.3 L134.3,1759.4ZM166.5,1757.0 L143.1,1753.7 L144.6,1751.5 L136.6,1754.0 L143.6,1758.6 L142.8,1756.1 L166.2,1759.4ZM198.3,1757.0 L174.7,1756.1 L175.9,1753.8 L168.3,1757.1 L175.7,1761.0 L174.6,1758.5 L198.2,1759.4ZM230.6,1757.0 L210.3,1749.6 L212.2,1747.8 L203.9,1748.6 L209.7,1754.5 L209.5,1751.9 L229.8,1759.3ZM262.8,1757.2 L250.0,1748.2 L252.3,1746.9 L244.1,1745.6 L248.2,1752.8 L248.6,1750.2 L261.4,1759.2ZM294.8,1757.2 L282.0,1748.2 L284.3,1746.9 L276.0,1745.6 L280.1,1752.8 L280.6,1750.2 L293.4,1759.2ZM326.4,1757.0 L315.5,1753.1 L317.4,1751.2 L309.1,1752.0 L314.9,1758.0 L314.7,1755.3 L325.6,1759.3ZM134.5,1787.2 L111.0,1785.1 L112.3,1782.8 L104.5,1785.8 L111.7,1790.0 L110.8,1787.5 L134.3,1789.6ZM166.5,1787.2 L143.1,1783.9 L144.6,1781.7 L136.6,1784.2 L143.6,1788.8 L142.8,1786.3 L166.2,1789.6ZM198.3,1787.2 L174.7,1786.4 L175.9,1784.0 L168.3,1787.3 L175.7,1791.2 L174.6,1788.8 L198.2,1789.6ZM230.6,1787.3 L213.1,1780.9 L215.0,1779.0 L206.7,1779.8 L212.5,1785.8 L212.3,1783.2 L229.8,1789.5ZM262.8,1787.4 L247.6,1776.7 L249.9,1775.4 L241.7,1774.1 L245.7,1781.3 L246.2,1778.7 L261.4,1789.4ZM294.8,1787.4 L282.0,1778.4 L284.3,1777.1 L276.0,1775.8 L280.1,1783.0 L280.6,1780.4 L293.4,1789.4ZM326.3,1787.2 L315.1,1784.2 L316.8,1782.2 L308.6,1783.7 L314.9,1789.2 L314.5,1786.5 L325.7,1789.6ZM134.5,1817.4 L111.0,1815.4 L112.3,1813.1 L104.5,1816.0 L111.7,1820.2 L110.8,1817.8 L134.3,1819.8ZM166.5,1817.4 L143.1,1814.1 L144.6,1811.9 L136.6,1814.4 L143.6,1819.0 L142.8,1816.5 L166.2,1819.8ZM198.3,1817.4 L176.7,1816.7 L177.9,1814.3 L170.3,1817.6 L177.7,1821.5 L176.6,1819.1 L198.2,1819.8ZM230.6,1817.5 L213.1,1811.1 L215.0,1809.2 L206.7,1810.1 L212.5,1816.0 L212.3,1813.4 L229.8,1819.7ZM262.8,1817.6 L247.6,1806.9 L249.9,1805.6 L241.7,1804.3 L245.7,1811.5 L246.2,1808.9 L261.4,1819.6ZM294.8,1817.6 L282.0,1808.7 L284.3,1807.3 L276.0,1806.0 L280.1,1813.2 L280.6,1810.6 L293.4,1819.6ZM326.2,1817.4 L315.7,1815.6 L317.3,1813.4 L309.3,1815.7 L316.0,1820.5 L315.3,1818.0 L325.8,1819.8ZM134.5,1847.6 L113.0,1845.8 L114.3,1843.5 L106.5,1846.4 L113.7,1850.6 L112.8,1848.1 L134.3,1850.0ZM166.5,1847.6 L145.1,1844.6 L146.5,1842.4 L138.6,1844.9 L145.5,1849.5 L144.8,1847.0 L166.2,1850.0ZM198.3,1847.6 L180.7,1847.0 L181.9,1844.7 L174.3,1848.0 L181.7,1851.9 L180.6,1849.4 L198.2,1850.0ZM230.6,1847.7 L215.9,1842.4 L217.8,1840.5 L209.5,1841.3 L215.3,1847.3 L215.1,1844.6 L229.8,1850.0ZM262.8,1847.9 L253.3,1841.2 L255.6,1839.9 L247.4,1838.5 L251.5,1845.8 L251.9,1843.2 L261.4,1849.8ZM294.8,1847.9 L286.9,1842.3 L289.2,1841.0 L281.0,1839.7 L285.0,1846.9 L285.5,1844.3 L293.4,1849.8ZM326.1,1847.6 L317.5,1846.9 L318.8,1844.6 L311.1,1847.5 L318.2,1851.8 L317.3,1849.3 L325.9,1850.0ZM134.5,1877.9 L118.9,1876.5 L120.3,1874.2 L112.5,1877.1 L119.6,1881.4 L118.7,1878.9 L134.3,1880.3ZM166.4,1877.9 L150.9,1876.5 L152.2,1874.2 L144.4,1877.1 L151.6,1881.4 L150.7,1878.9 L166.2,1880.3ZM198.3,1877.9 L184.7,1877.4 L185.9,1875.0 L178.3,1878.4 L185.6,1882.2 L184.6,1879.8 L198.2,1880.3ZM230.6,1877.9 L220.6,1874.3 L222.5,1872.4 L214.2,1873.2 L220.0,1879.2 L219.8,1876.6 L229.8,1880.2ZM262.8,1878.1 L256.6,1873.7 L258.9,1872.4 L250.7,1871.0 L254.7,1878.3 L255.2,1875.7 L261.4,1880.0ZM294.8,1878.1 L290.1,1874.8 L292.4,1873.5 L284.2,1872.2 L288.3,1879.4 L288.8,1876.8 L293.4,1880.0ZM326.0,1877.9 L320.4,1877.7 L321.6,1875.3 L314.0,1878.6 L321.4,1882.5 L320.3,1880.1 L326.0,1880.3ZM134.5,1908.1 L125.9,1907.3 L127.2,1905.0 L119.5,1908.0 L126.6,1912.2 L125.7,1909.7 L134.3,1910.5ZM166.4,1908.1 L157.8,1907.3 L159.2,1905.0 L151.4,1908.0 L158.5,1912.2 L157.6,1909.7 L166.2,1910.5ZM198.3,1908.1 L191.7,1907.8 L192.9,1905.5 L185.3,1908.8 L192.6,1912.7 L191.6,1910.2 L198.2,1910.5ZM230.8,1908.2 L227.7,1906.4 L229.8,1904.9 L221.5,1904.3 L226.2,1911.1 L226.5,1908.5 L229.6,1910.3ZM262.8,1908.3 L259.9,1906.2 L262.2,1904.9 L253.9,1903.5 L258.0,1910.8 L258.5,1908.2 L261.4,1910.3ZM288.3,1905.3 L295.2,1906.7 L292.8,1908.4 L292.0,1911.2ZM319.0,1909.3 L325.4,1906.5 L324.5,1909.3 L325.4,1912.1ZM126.4,1939.5 L133.7,1936.3 L132.6,1939.5 L133.7,1942.7ZM160.4,1938.5 L166.3,1937.0 L165.0,1939.3 L165.4,1941.8ZM192.6,1937.4 L198.6,1937.1 L197.0,1939.0 L197.0,1941.6ZM225.0,1936.5 L231.0,1937.2 L229.1,1938.8 L228.6,1941.3ZM257.2,1936.1 L263.1,1937.2 L261.0,1938.7 L260.3,1941.2ZM290.2,1936.3 L295.1,1937.6 L293.2,1938.8 L292.4,1940.9ZM321.0,1939.5 L325.6,1937.3 L324.9,1939.5 L325.6,1941.7Z" fill="#000" shape-rendering="auto"/><path clip-path="url(#cpH)" d="M395.1,1393.8 L397.3,1398.4 L395.1,1397.7 L392.9,1398.4ZM427.0,1391.8 L429.8,1398.2 L427.0,1397.3 L424.2,1398.2ZM458.4,1391.8 L461.7,1398.0 L458.8,1397.3 L456.1,1398.5ZM487.9,1393.6 L492.7,1397.2 L490.2,1397.7 L488.6,1399.6ZM516.3,1401.2 L521.3,1396.4 L521.4,1399.3 L523.2,1401.7ZM547.8,1398.8 L554.2,1396.0 L553.2,1398.8 L554.2,1401.6ZM578.7,1398.8 L586.0,1395.6 L584.9,1398.8 L586.0,1402.0ZM389.1,1429.0 L394.6,1426.6 L393.8,1429.0 L394.6,1431.4ZM426.2,1424.1 L429.1,1428.3 L426.8,1428.0 L424.8,1429.0ZM458.5,1424.1 L461.1,1428.4 L458.9,1427.9 L456.8,1428.8ZM486.6,1426.5 L491.6,1427.0 L489.9,1428.5 L489.5,1430.7ZM515.8,1429.0 L522.2,1426.2 L521.3,1429.0 L522.2,1431.8ZM547.8,1429.0 L554.2,1426.2 L553.2,1429.0 L554.2,1431.8ZM578.7,1429.0 L586.0,1425.8 L584.9,1429.0 L586.0,1432.2ZM388.1,1459.3 L394.5,1456.5 L393.6,1459.3 L394.5,1462.1ZM421.1,1458.2 L427.0,1456.8 L425.7,1459.0 L426.1,1461.5ZM455.5,1457.3 L459.8,1457.2 L458.2,1458.8 L457.6,1461.0ZM486.2,1457.6 L491.2,1457.1 L489.9,1458.9 L489.8,1461.2ZM515.8,1459.3 L522.2,1456.5 L521.3,1459.3 L522.2,1462.1ZM547.8,1459.3 L554.2,1456.5 L553.2,1459.3 L554.2,1462.1ZM578.7,1459.3 L586.0,1456.1 L584.9,1459.3 L586.0,1462.5ZM389.1,1489.5 L394.6,1487.1 L393.8,1489.5 L394.6,1491.9ZM423.1,1488.8 L427.1,1487.3 L426.2,1489.3 L426.3,1491.6ZM455.0,1488.8 L459.0,1487.3 L458.1,1489.3 L458.3,1491.6ZM486.0,1488.6 L490.9,1487.3 L489.8,1489.3 L490.1,1491.5ZM514.8,1489.5 L522.2,1486.3 L521.1,1489.5 L522.2,1492.7ZM546.8,1489.5 L554.1,1486.3 L553.0,1489.5 L554.1,1492.7ZM578.7,1489.5 L586.0,1486.3 L584.9,1489.5 L586.0,1492.7ZM395.1,1518.5 L389.5,1518.5 L390.6,1516.1 L383.1,1519.7 L390.6,1523.3 L389.5,1520.9 L395.1,1520.9ZM427.0,1518.5 L421.4,1518.5 L422.5,1516.1 L415.0,1519.7 L422.5,1523.3 L421.4,1520.9 L427.0,1520.9ZM459.0,1518.5 L453.3,1518.5 L454.5,1516.1 L447.0,1519.7 L454.5,1523.3 L453.3,1520.9 L459.0,1520.9ZM490.9,1518.5 L487.3,1518.5 L488.4,1516.1 L480.9,1519.7 L488.4,1523.3 L487.3,1520.9 L490.9,1520.9ZM514.8,1519.7 L522.2,1516.5 L521.1,1519.7 L522.2,1522.9ZM546.8,1519.7 L554.1,1516.5 L553.0,1519.7 L554.1,1522.9ZM578.7,1519.7 L586.0,1516.5 L584.9,1519.7 L586.0,1522.9ZM395.1,1548.7 L388.5,1548.7 L389.6,1546.3 L382.1,1549.9 L389.6,1553.5 L388.5,1551.1 L395.1,1551.1ZM427.0,1548.7 L420.4,1548.7 L421.5,1546.3 L414.0,1549.9 L421.5,1553.5 L420.4,1551.1 L427.0,1551.1ZM459.0,1548.7 L452.3,1548.7 L453.5,1546.3 L446.0,1549.9 L453.5,1553.5 L452.3,1551.1 L459.0,1551.1ZM490.9,1548.7 L487.3,1548.7 L488.4,1546.3 L480.9,1549.9 L488.4,1553.5 L487.3,1551.1 L490.9,1551.1ZM514.8,1549.9 L522.2,1546.7 L521.1,1549.9 L522.2,1553.1ZM554.8,1548.7 L551.1,1548.7 L552.3,1546.3 L544.8,1549.9 L552.3,1553.5 L551.1,1551.1 L554.8,1551.1ZM586.7,1548.7 L583.1,1548.7 L584.2,1546.3 L576.7,1549.9 L584.2,1553.5 L583.1,1551.1 L586.7,1551.1ZM387.1,1580.1 L394.4,1576.9 L393.3,1580.1 L394.4,1583.3ZM419.0,1580.1 L426.4,1576.9 L425.3,1580.1 L426.4,1583.3ZM451.0,1580.1 L458.3,1576.9 L457.2,1580.1 L458.3,1583.3ZM484.9,1580.1 L490.4,1577.7 L489.6,1580.1 L490.4,1582.5ZM516.9,1581.2 L521.9,1577.9 L521.5,1580.4 L522.8,1582.6ZM546.8,1580.1 L554.1,1576.9 L553.0,1580.1 L554.1,1583.3ZM586.6,1579.0 L583.0,1579.3 L583.9,1576.8 L576.7,1581.0 L584.5,1584.0 L583.2,1581.7 L586.8,1581.3ZM390.8,1607.9 L395.8,1608.3 L394.1,1609.8 L393.7,1612.0ZM422.7,1607.9 L427.8,1608.3 L426.1,1609.8 L425.6,1612.0ZM454.6,1607.9 L459.7,1608.3 L458.0,1609.8 L457.5,1612.0ZM486.2,1612.1 L489.8,1608.5 L489.9,1610.7 L491.2,1612.5ZM516.7,1615.5 L520.3,1608.3 L521.5,1611.5 L524.4,1613.2ZM553.9,1609.5 L552.1,1611.4 L551.2,1608.9 L548.4,1616.7 L556.3,1614.0 L553.8,1613.1 L555.6,1611.2ZM585.9,1609.5 L583.3,1612.1 L582.4,1609.6 L579.6,1617.4 L587.5,1614.7 L585.0,1613.8 L587.5,1611.2ZM393.1,1637.1 L396.8,1639.2 L394.7,1639.8 L393.1,1641.4ZM425.0,1637.1 L428.7,1639.2 L426.6,1639.8 L425.0,1641.4ZM457.0,1637.1 L460.7,1639.2 L458.5,1639.8 L456.9,1641.4ZM487.9,1645.8 L488.6,1639.8 L490.2,1641.7 L492.7,1642.2ZM521.7,1640.2 L520.5,1643.6 L518.6,1641.7 L519.4,1650.0 L525.4,1644.2 L522.7,1644.4 L524.0,1641.0ZM553.7,1640.1 L550.5,1647.0 L548.8,1645.0 L548.9,1653.3 L555.3,1648.0 L552.6,1648.0 L555.9,1641.1ZM585.7,1640.0 L582.3,1645.7 L580.8,1643.6 L580.2,1651.8 L587.1,1647.2 L584.4,1646.9 L587.7,1641.2ZM397.1,1670.8 L395.3,1673.0 L395.5,1670.8 L395.3,1668.7ZM430.0,1670.8 L427.3,1673.0 L427.7,1670.8 L427.3,1668.7ZM459.0,1674.8 L456.8,1671.1 L459.0,1671.7 L461.1,1671.1ZM490.2,1678.8 L487.7,1671.2 L490.7,1672.6 L494.0,1671.8ZM521.6,1670.7 L520.6,1682.3 L518.3,1681.0 L521.3,1688.7 L525.5,1681.6 L523.0,1682.5 L524.0,1670.9ZM553.6,1670.7 L552.6,1682.3 L550.3,1681.0 L553.2,1688.7 L557.4,1681.6 L554.9,1682.5 L556.0,1670.9ZM585.5,1670.7 L584.3,1684.3 L582.0,1682.9 L585.0,1690.7 L589.2,1683.6 L586.7,1684.5 L587.9,1670.9ZM397.1,1701.0 L395.3,1703.2 L395.5,1701.0 L395.3,1698.9ZM430.0,1701.0 L427.3,1703.2 L427.7,1701.0 L427.3,1698.9ZM459.0,1709.0 L455.8,1701.7 L459.0,1702.8 L462.2,1701.7ZM489.7,1701.0 L489.7,1709.7 L487.3,1708.5 L490.9,1716.0 L494.5,1708.5 L492.1,1709.7 L492.1,1701.0ZM521.6,1700.9 L520.0,1719.5 L517.7,1718.2 L520.7,1725.9 L524.9,1718.8 L522.4,1719.7 L524.0,1701.1ZM553.6,1701.0 L552.9,1719.6 L550.6,1718.4 L553.9,1726.0 L557.8,1718.6 L555.3,1719.7 L556.0,1701.1ZM585.5,1700.9 L584.3,1714.5 L582.0,1713.2 L585.0,1721.0 L589.2,1713.8 L586.7,1714.7 L587.9,1701.1ZM397.1,1731.3 L395.3,1733.4 L395.5,1731.3 L395.3,1729.1ZM430.0,1731.3 L427.3,1733.4 L427.7,1731.3 L427.3,1729.1ZM457.8,1731.3 L457.8,1734.9 L455.4,1733.8 L459.0,1741.3 L462.6,1733.8 L460.2,1734.9 L460.2,1731.3ZM489.7,1731.3 L489.7,1742.9 L487.3,1741.8 L490.9,1749.3 L494.5,1741.8 L492.1,1742.9 L492.1,1731.3ZM521.6,1731.2 L520.8,1754.8 L518.5,1753.6 L521.8,1761.2 L525.6,1753.9 L523.2,1754.9 L524.0,1731.3ZM553.6,1731.2 L552.7,1754.8 L550.4,1753.6 L553.7,1761.2 L557.6,1753.9 L555.1,1754.9 L556.0,1731.3ZM585.5,1731.1 L583.9,1749.7 L581.6,1748.4 L584.5,1756.2 L588.8,1749.0 L586.3,1749.9 L587.9,1731.4ZM391.1,1761.5 L394.8,1759.3 L394.2,1761.5 L394.8,1763.6ZM427.0,1756.5 L429.2,1761.1 L427.0,1760.4 L424.9,1761.1ZM456.5,1757.1 L460.6,1760.0 L458.4,1760.5 L456.9,1762.2ZM489.7,1761.5 L489.7,1775.1 L487.3,1774.0 L490.9,1781.5 L494.5,1774.0 L492.1,1775.1 L492.1,1761.5ZM521.6,1761.4 L520.8,1785.0 L518.5,1783.8 L521.8,1791.5 L525.6,1784.1 L523.2,1785.1 L524.0,1761.5ZM553.6,1761.9 L560.0,1779.4 L557.4,1779.1 L563.3,1785.0 L564.1,1776.7 L562.3,1778.6 L555.9,1761.1ZM585.5,1761.8 L590.4,1779.8 L587.8,1779.3 L593.2,1785.6 L594.7,1777.4 L592.7,1779.2 L587.9,1761.2ZM394.9,1792.9 L403.4,1794.4 L401.9,1796.5 L409.9,1794.3 L403.1,1789.5 L403.8,1792.0 L395.3,1790.5ZM426.9,1792.9 L433.5,1793.5 L432.2,1795.8 L440.0,1792.8 L432.8,1788.6 L433.7,1791.1 L427.1,1790.5ZM458.2,1792.6 L462.5,1796.2 L460.1,1797.3 L468.2,1799.4 L464.7,1791.8 L464.0,1794.4 L459.7,1790.8ZM489.8,1792.2 L494.7,1802.7 L492.1,1802.7 L498.5,1808.0 L498.6,1799.7 L496.9,1801.7 L492.0,1791.2ZM521.8,1792.3 L532.6,1811.0 L530.0,1811.2 L536.8,1815.9 L536.2,1807.6 L534.7,1809.8 L523.9,1791.1ZM554.0,1792.6 L568.3,1804.6 L565.9,1805.7 L573.9,1807.8 L570.5,1800.2 L569.8,1802.7 L555.5,1790.8ZM585.9,1792.6 L600.2,1804.6 L597.8,1805.7 L605.9,1807.8 L602.4,1800.2 L601.7,1802.7 L587.5,1790.8ZM395.0,1823.1 L410.6,1824.5 L409.2,1826.8 L417.0,1823.8 L409.9,1819.6 L410.8,1822.1 L395.2,1820.7ZM427.0,1823.1 L440.6,1823.8 L439.3,1826.2 L447.0,1823.0 L439.7,1819.0 L440.7,1821.4 L427.1,1820.7ZM458.7,1823.1 L468.9,1825.8 L467.2,1827.9 L475.4,1826.3 L469.1,1820.9 L469.5,1823.5 L459.3,1820.8ZM490.2,1822.9 L497.3,1827.8 L495.0,1829.2 L503.2,1830.5 L499.1,1823.3 L498.7,1825.9 L491.6,1820.9ZM522.1,1822.8 L536.3,1834.8 L533.9,1835.9 L542.0,1838.0 L538.6,1830.4 L537.9,1833.0 L523.6,1821.0ZM554.2,1823.0 L570.3,1832.3 L568.1,1833.8 L576.4,1834.4 L571.7,1827.5 L571.5,1830.2 L555.4,1820.9ZM586.2,1823.0 L603.1,1830.9 L601.0,1832.6 L609.4,1832.5 L604.1,1826.0 L604.1,1828.7 L587.2,1820.8ZM395.0,1853.3 L416.5,1855.2 L415.2,1857.5 L423.0,1854.6 L415.8,1850.3 L416.7,1852.8 L395.2,1850.9ZM426.9,1853.3 L445.5,1855.0 L444.2,1857.2 L451.9,1854.3 L444.8,1850.1 L445.7,1852.6 L427.1,1850.9ZM458.7,1853.3 L474.7,1857.6 L473.0,1859.6 L481.2,1858.1 L474.9,1852.7 L475.3,1855.3 L459.3,1851.0ZM490.5,1853.3 L505.2,1858.6 L503.3,1860.5 L511.6,1859.7 L505.8,1853.7 L506.0,1856.4 L491.3,1851.0ZM522.2,1853.2 L538.4,1862.5 L536.2,1864.0 L544.5,1864.6 L539.8,1857.8 L539.6,1860.4 L523.4,1851.1ZM554.4,1853.3 L576.6,1861.3 L574.7,1863.2 L583.0,1862.4 L577.1,1856.4 L577.4,1859.1 L555.2,1851.0ZM586.4,1853.3 L607.3,1858.9 L605.6,1860.9 L613.7,1859.4 L607.4,1854.0 L607.9,1856.6 L587.0,1851.0ZM395.0,1883.6 L423.5,1886.0 L422.2,1888.3 L430.0,1885.4 L422.8,1881.2 L423.7,1883.7 L395.2,1881.2ZM426.9,1883.6 L450.5,1885.6 L449.1,1887.9 L456.9,1885.0 L449.8,1880.7 L450.7,1883.2 L427.1,1881.2ZM458.9,1883.6 L482.4,1885.6 L481.1,1887.9 L488.9,1885.0 L481.7,1880.7 L482.6,1883.2 L459.1,1881.2ZM490.7,1883.5 L511.0,1887.1 L509.5,1889.3 L517.5,1887.0 L510.7,1882.2 L511.4,1884.8 L491.1,1881.2ZM522.5,1883.5 L545.3,1889.6 L543.6,1891.7 L551.8,1890.1 L545.5,1884.7 L546.0,1887.3 L523.1,1881.2ZM554.6,1883.5 L579.8,1888.0 L578.3,1890.2 L586.3,1887.9 L579.5,1883.1 L580.2,1885.6 L555.0,1881.2ZM586.6,1883.6 L610.1,1885.6 L608.8,1887.9 L616.6,1885.0 L609.4,1880.7 L610.3,1883.2 L586.8,1881.2ZM395.0,1913.8 L428.5,1916.7 L427.2,1919.0 L434.9,1916.1 L427.8,1911.8 L428.7,1914.3 L395.2,1911.4ZM426.9,1913.8 L455.4,1916.3 L454.1,1918.6 L461.9,1915.6 L454.7,1911.4 L455.7,1913.9 L427.1,1911.4ZM458.9,1913.8 L487.4,1916.3 L486.0,1918.6 L493.8,1915.6 L486.7,1911.4 L487.6,1913.9 L459.1,1911.4ZM490.8,1913.8 L517.3,1916.1 L516.0,1918.4 L523.8,1915.5 L516.6,1911.2 L517.5,1913.7 L491.0,1911.4ZM522.7,1913.8 L546.3,1915.8 L544.9,1918.1 L552.7,1915.2 L545.6,1911.0 L546.5,1913.4 L522.9,1911.4ZM554.7,1913.8 L581.2,1916.1 L579.9,1918.4 L587.6,1915.5 L580.5,1911.2 L581.4,1913.7 L554.9,1911.4ZM586.7,1913.8 L615.3,1914.8 L614.1,1917.1 L621.7,1913.8 L614.3,1909.9 L615.3,1912.4 L586.7,1911.4ZM395.1,1944.0 L428.7,1944.0 L427.6,1946.4 L435.1,1942.8 L427.6,1939.2 L428.7,1941.6 L395.1,1941.6ZM427.0,1944.0 L455.7,1944.0 L454.5,1946.4 L462.0,1942.8 L454.5,1939.2 L455.7,1941.6 L427.0,1941.6ZM459.0,1944.0 L487.6,1944.0 L486.5,1946.4 L494.0,1942.8 L486.5,1939.2 L487.6,1941.6 L459.0,1941.6ZM490.9,1944.0 L517.5,1944.0 L516.4,1946.4 L523.9,1942.8 L516.4,1939.2 L517.5,1941.6 L490.9,1941.6ZM522.8,1944.0 L546.5,1944.0 L545.3,1946.4 L552.8,1942.8 L545.3,1939.2 L546.5,1941.6 L522.8,1941.6ZM554.8,1944.0 L581.4,1944.0 L580.3,1946.4 L587.8,1942.8 L580.3,1939.2 L581.4,1941.6 L554.8,1941.6ZM586.7,1944.0 L615.3,1944.0 L614.2,1946.4 L621.7,1942.8 L614.2,1939.2 L615.3,1941.6 L586.7,1941.6Z" fill="#000" shape-rendering="auto"/><path clip-path="url(#cpI)" d="M649.9,1367.8 L663.5,1377.3 L661.2,1378.6 L669.4,1380.0 L665.4,1372.7 L664.9,1375.4 L651.3,1365.8ZM682.1,1367.9 L701.5,1375.0 L699.6,1376.9 L707.9,1376.0 L702.1,1370.1 L702.3,1372.7 L682.9,1365.7ZM714.1,1367.9 L738.1,1376.7 L736.3,1378.6 L744.5,1377.7 L738.7,1371.8 L739.0,1374.4 L714.9,1365.7ZM745.8,1367.8 L769.7,1381.7 L767.5,1383.2 L775.8,1383.8 L771.1,1376.9 L770.9,1379.6 L747.0,1365.8ZM777.8,1367.9 L792.0,1374.5 L790.0,1376.2 L798.3,1376.1 L793.0,1369.7 L793.0,1372.3 L778.8,1365.7ZM809.9,1367.9 L822.7,1372.6 L820.8,1374.5 L829.1,1373.6 L823.2,1367.7 L823.5,1370.3 L810.7,1365.7ZM841.8,1367.9 L854.6,1372.6 L852.7,1374.5 L861.0,1373.6 L855.2,1367.7 L855.4,1370.3 L842.6,1365.7ZM650.2,1398.2 L661.4,1401.6 L659.6,1403.5 L667.8,1402.3 L661.7,1396.6 L662.1,1399.3 L651.0,1395.9ZM682.3,1398.2 L700.7,1401.4 L699.1,1403.6 L707.2,1401.4 L700.4,1396.5 L701.1,1399.1 L682.7,1395.8ZM714.1,1398.2 L734.8,1404.5 L733.0,1406.5 L741.2,1405.2 L735.1,1399.6 L735.5,1402.2 L714.8,1395.9ZM745.7,1398.0 L768.3,1413.8 L766.0,1415.2 L774.3,1416.5 L770.2,1409.3 L769.7,1411.9 L747.1,1396.0ZM777.6,1397.9 L794.1,1411.8 L791.7,1413.0 L799.8,1415.0 L796.4,1407.4 L795.7,1410.0 L779.1,1396.1ZM810.3,1398.2 L815.9,1398.2 L814.8,1400.6 L822.3,1397.0 L814.8,1393.4 L815.9,1395.8 L810.3,1395.8ZM841.8,1398.1 L849.9,1401.1 L848.0,1403.0 L856.3,1402.2 L850.5,1396.2 L850.7,1398.8 L842.6,1395.9ZM650.6,1428.4 L654.2,1428.4 L653.1,1430.8 L660.6,1427.2 L653.1,1423.6 L654.2,1426.0 L650.6,1426.0ZM682.5,1428.4 L688.2,1428.4 L687.0,1430.8 L694.5,1427.2 L687.0,1423.6 L688.2,1426.0 L682.5,1426.0ZM714.1,1428.4 L719.5,1430.0 L717.7,1432.0 L725.9,1430.8 L719.8,1425.1 L720.2,1427.7 L714.8,1426.1ZM745.5,1428.0 L757.5,1442.3 L754.9,1443.0 L762.5,1446.4 L760.4,1438.3 L759.3,1440.7 L747.3,1426.5ZM777.3,1427.8 L787.1,1447.1 L784.4,1447.1 L791.0,1452.2 L790.8,1443.9 L789.2,1446.0 L779.4,1426.7ZM814.9,1433.8 L808.0,1429.6 L811.3,1428.7 L813.3,1426.0ZM841.4,1428.2 L844.2,1430.5 L841.8,1431.6 L849.9,1433.7 L846.4,1426.1 L845.7,1428.7 L843.0,1426.3ZM656.6,1457.5 L651.1,1459.9 L651.9,1457.5 L651.1,1455.1ZM686.5,1457.5 L682.9,1459.6 L683.4,1457.5 L682.9,1455.3ZM714.5,1463.5 L712.1,1458.0 L714.5,1458.8 L716.9,1458.0ZM745.3,1458.0 L753.2,1474.9 L750.5,1474.8 L757.0,1480.1 L757.1,1471.8 L755.4,1473.8 L747.5,1457.0ZM777.3,1458.0 L785.7,1474.6 L783.1,1474.7 L789.7,1479.7 L789.5,1471.4 L787.9,1473.5 L779.4,1456.9ZM809.3,1458.2 L811.4,1461.1 L808.8,1461.6 L816.0,1465.7 L814.6,1457.4 L813.3,1459.7 L811.2,1456.8ZM847.9,1463.1 L840.4,1460.2 L843.4,1458.7 L844.9,1455.7ZM650.2,1488.8 L655.6,1490.5 L653.9,1492.4 L662.1,1491.2 L656.0,1485.6 L656.3,1488.2 L651.0,1486.5ZM681.8,1488.6 L684.5,1490.9 L682.1,1492.0 L690.2,1494.1 L686.8,1486.5 L686.1,1489.1 L683.3,1486.8ZM713.4,1488.3 L715.2,1491.4 L712.6,1491.6 L719.5,1496.3 L718.8,1488.0 L717.3,1490.2 L715.5,1487.1ZM745.5,1488.5 L753.0,1497.4 L750.4,1498.0 L758.0,1501.5 L755.9,1493.4 L754.8,1495.8 L747.3,1486.9ZM777.5,1488.5 L785.7,1496.8 L783.2,1497.7 L791.1,1500.4 L788.3,1492.6 L787.4,1495.1 L779.2,1486.8ZM809.6,1488.7 L817.5,1494.2 L815.2,1495.5 L823.4,1496.9 L819.3,1489.6 L818.8,1492.2 L811.0,1486.7ZM841.5,1488.7 L848.6,1493.6 L846.3,1494.9 L854.5,1496.3 L850.4,1489.0 L850.0,1491.6 L842.9,1486.7ZM650.2,1519.0 L664.9,1524.4 L663.0,1526.2 L671.3,1525.4 L665.5,1519.5 L665.7,1522.1 L651.0,1516.8ZM682.0,1519.0 L692.2,1524.4 L690.1,1526.0 L698.4,1526.4 L693.5,1519.7 L693.4,1522.3 L683.1,1516.8ZM713.8,1518.9 L722.8,1524.6 L720.6,1526.0 L728.9,1526.9 L724.4,1519.9 L724.1,1522.5 L715.1,1516.9ZM745.7,1518.9 L755.5,1525.2 L753.2,1526.6 L761.5,1527.7 L757.2,1520.6 L756.8,1523.2 L747.1,1516.9ZM777.7,1518.9 L787.4,1525.2 L785.2,1526.6 L793.4,1527.7 L789.1,1520.6 L788.7,1523.2 L779.0,1516.9ZM809.7,1519.0 L821.7,1525.4 L819.6,1527.0 L827.9,1527.3 L823.0,1520.6 L822.9,1523.2 L810.8,1516.8ZM841.6,1518.9 L853.4,1525.8 L851.2,1527.3 L859.5,1527.9 L854.8,1521.0 L854.6,1523.7 L842.8,1516.9ZM650.2,1549.2 L664.6,1555.1 L662.7,1556.9 L671.0,1556.4 L665.4,1550.2 L665.5,1552.9 L651.0,1547.0ZM682.0,1549.2 L696.2,1555.8 L694.2,1557.5 L702.5,1557.4 L697.2,1551.0 L697.2,1553.6 L683.0,1547.0ZM714.0,1549.2 L728.1,1555.8 L726.1,1557.5 L734.4,1557.4 L729.1,1551.0 L729.1,1553.6 L715.0,1547.0ZM745.9,1549.2 L760.1,1555.8 L758.0,1557.5 L766.3,1557.4 L761.1,1551.0 L761.1,1553.6 L746.9,1547.0ZM777.8,1549.2 L790.2,1555.0 L788.1,1556.7 L796.5,1556.6 L791.2,1550.1 L791.2,1552.8 L778.8,1547.0ZM809.8,1549.2 L824.3,1555.1 L822.4,1556.9 L830.7,1556.4 L825.1,1550.2 L825.2,1552.9 L810.7,1547.0ZM841.7,1549.2 L855.9,1555.8 L853.8,1557.5 L862.1,1557.4 L856.9,1551.0 L856.9,1553.6 L842.7,1547.0ZM650.2,1579.5 L662.8,1584.6 L660.8,1586.4 L669.1,1585.8 L663.5,1579.7 L663.7,1582.3 L651.0,1577.2ZM682.0,1579.4 L698.0,1586.9 L696.0,1588.6 L704.3,1588.5 L699.0,1582.1 L699.0,1584.7 L683.0,1577.3ZM714.0,1579.4 L729.9,1586.9 L727.9,1588.6 L736.2,1588.5 L730.9,1582.1 L730.9,1584.7 L715.0,1577.3ZM745.9,1579.4 L765.5,1588.6 L763.5,1590.3 L771.8,1590.2 L766.5,1583.7 L766.5,1586.4 L746.9,1577.3ZM777.9,1579.5 L795.4,1585.8 L793.5,1587.7 L801.8,1586.9 L796.0,1580.9 L796.2,1583.6 L778.7,1577.2ZM809.9,1579.5 L827.4,1585.8 L825.5,1587.7 L833.8,1586.9 L827.9,1580.9 L828.2,1583.6 L810.7,1577.2ZM841.8,1579.5 L859.3,1585.8 L857.4,1587.7 L865.7,1586.9 L859.9,1580.9 L860.1,1583.6 L842.6,1577.2ZM650.3,1609.7 L655.7,1611.2 L654.0,1613.2 L662.2,1611.7 L655.9,1606.3 L656.3,1608.9 L650.9,1607.4ZM682.0,1609.7 L691.7,1614.1 L689.6,1615.8 L697.9,1615.8 L692.7,1609.3 L692.7,1612.0 L683.0,1607.5ZM714.0,1609.7 L726.3,1615.4 L724.3,1617.1 L732.6,1617.0 L727.3,1610.6 L727.3,1613.2 L715.0,1607.5ZM746.0,1609.7 L763.5,1616.1 L761.6,1617.9 L769.9,1617.1 L764.1,1611.2 L764.3,1613.8 L746.8,1607.4ZM778.0,1609.7 L796.0,1614.5 L794.3,1616.6 L802.5,1615.0 L796.2,1609.6 L796.6,1612.2 L778.6,1607.4ZM810.0,1609.7 L826.0,1614.0 L824.3,1616.1 L832.5,1614.5 L826.2,1609.1 L826.6,1611.7 L810.6,1607.4ZM841.9,1609.7 L857.9,1614.0 L856.2,1616.1 L864.4,1614.5 L858.1,1609.1 L858.6,1611.7 L842.5,1607.4ZM655.6,1638.8 L651.0,1640.9 L651.7,1638.8 L651.0,1636.6ZM681.9,1639.8 L685.1,1641.6 L682.9,1643.2 L691.2,1643.8 L686.5,1636.9 L686.3,1639.6 L683.1,1637.8ZM714.0,1639.9 L719.1,1642.3 L717.0,1644.0 L725.3,1643.9 L720.1,1637.4 L720.1,1640.1 L715.0,1637.7ZM746.2,1640.0 L756.5,1642.2 L754.9,1644.3 L763.0,1642.3 L756.4,1637.2 L757.0,1639.8 L746.6,1637.6ZM778.1,1640.0 L791.5,1642.3 L790.0,1644.5 L798.0,1642.3 L791.3,1637.4 L792.0,1640.0 L778.5,1637.6ZM810.0,1640.0 L821.4,1642.4 L819.8,1644.5 L827.9,1642.5 L821.3,1637.5 L821.9,1640.0 L810.5,1637.6ZM842.0,1640.0 L853.3,1642.4 L851.7,1644.5 L859.8,1642.5 L853.2,1637.5 L853.8,1640.0 L842.4,1637.6ZM653.6,1669.0 L650.9,1671.2 L651.3,1669.0 L650.9,1666.9ZM686.9,1671.5 L681.8,1671.1 L683.5,1669.6 L684.0,1667.3ZM719.7,1672.0 L713.7,1671.3 L715.6,1669.7 L716.1,1667.2ZM746.4,1670.2 L752.0,1670.2 L750.9,1672.6 L758.4,1669.0 L750.9,1665.4 L752.0,1667.8 L746.4,1667.8ZM778.3,1670.2 L787.0,1670.2 L785.8,1672.6 L793.3,1669.0 L785.8,1665.4 L787.0,1667.8 L778.3,1667.8ZM810.3,1670.2 L817.9,1670.2 L816.8,1672.6 L824.3,1669.0 L816.8,1665.4 L817.9,1667.8 L810.3,1667.8ZM842.2,1670.2 L849.8,1670.2 L848.7,1672.6 L856.2,1669.0 L848.7,1665.4 L849.8,1667.8 L842.2,1667.8ZM652.6,1699.2 L650.8,1701.4 L651.0,1699.2 L650.8,1697.1ZM685.5,1699.2 L682.8,1701.4 L683.2,1699.2 L682.8,1697.1ZM719.5,1699.2 L714.9,1701.4 L715.6,1699.2 L714.9,1697.1ZM746.6,1700.4 L750.2,1699.8 L749.5,1702.3 L756.2,1697.5 L748.2,1695.3 L749.8,1697.4 L746.2,1698.0ZM778.6,1700.4 L784.1,1698.9 L783.6,1701.5 L789.9,1696.1 L781.7,1694.6 L783.5,1696.6 L778.0,1698.1ZM810.5,1700.4 L816.0,1699.2 L815.4,1701.8 L822.0,1696.7 L813.9,1694.8 L815.5,1696.9 L810.0,1698.1ZM842.4,1700.4 L848.0,1699.2 L847.4,1701.8 L853.9,1696.7 L845.9,1694.8 L847.5,1696.9 L842.0,1698.1ZM652.6,1729.5 L650.8,1731.6 L651.0,1729.5 L650.8,1727.3ZM685.5,1729.5 L682.8,1731.6 L683.2,1729.5 L682.8,1727.3ZM719.5,1729.5 L714.9,1731.6 L715.6,1729.5 L714.9,1727.3ZM747.1,1730.4 L750.1,1728.4 L750.5,1731.0 L754.6,1723.7 L746.4,1725.1 L748.7,1726.4 L745.7,1728.5ZM778.9,1730.5 L782.1,1728.7 L782.3,1731.3 L787.0,1724.5 L778.7,1725.1 L780.9,1726.6 L777.7,1728.4ZM810.7,1730.6 L816.0,1728.7 L815.7,1731.3 L821.5,1725.3 L813.3,1724.5 L815.1,1726.4 L809.9,1728.3ZM842.6,1730.6 L847.9,1728.7 L847.7,1731.3 L853.5,1725.3 L845.2,1724.5 L847.1,1726.4 L841.8,1728.3ZM654.6,1759.7 L650.9,1761.8 L651.5,1759.7 L650.9,1757.5ZM687.5,1759.7 L682.9,1761.8 L683.6,1759.7 L682.9,1757.5ZM719.3,1758.4 L715.4,1761.7 L715.5,1759.4 L714.3,1757.5ZM747.2,1760.6 L751.5,1757.0 L752.2,1759.5 L755.6,1752.0 L747.5,1754.0 L749.9,1755.1 L745.6,1758.8ZM779.0,1760.7 L785.3,1756.3 L785.7,1758.9 L789.8,1751.6 L781.6,1753.0 L783.9,1754.3 L777.6,1758.7ZM810.9,1760.7 L818.3,1756.4 L818.6,1759.0 L823.3,1752.2 L815.0,1752.8 L817.1,1754.3 L809.7,1758.6ZM842.8,1760.7 L850.3,1756.4 L850.5,1759.0 L855.2,1752.2 L846.9,1752.8 L849.1,1754.3 L841.6,1758.6ZM650.6,1791.1 L656.2,1791.1 L655.1,1793.5 L662.6,1789.9 L655.1,1786.3 L656.2,1788.7 L650.6,1788.7ZM682.5,1791.1 L688.2,1791.1 L687.0,1793.5 L694.5,1789.9 L687.0,1786.3 L688.2,1788.7 L682.5,1788.7ZM714.5,1791.1 L720.1,1791.1 L719.0,1793.5 L726.5,1789.9 L719.0,1786.3 L720.1,1788.7 L714.5,1788.7ZM747.0,1790.9 L753.6,1787.1 L753.8,1789.8 L758.5,1782.9 L750.2,1783.5 L752.4,1785.0 L745.8,1788.9ZM779.0,1790.9 L786.9,1785.4 L787.4,1788.0 L791.4,1780.7 L783.2,1782.1 L785.5,1783.4 L777.6,1788.9ZM810.8,1791.0 L820.4,1786.5 L820.4,1789.1 L825.7,1782.7 L817.4,1782.6 L819.4,1784.3 L809.8,1788.8ZM842.7,1791.0 L852.3,1786.5 L852.3,1789.1 L857.6,1782.7 L849.3,1782.6 L851.3,1784.3 L841.7,1788.8ZM650.6,1821.3 L662.2,1821.3 L661.1,1823.7 L668.6,1820.1 L661.1,1816.5 L662.2,1818.9 L650.6,1818.9ZM682.5,1821.3 L693.2,1821.3 L692.0,1823.7 L699.5,1820.1 L692.0,1816.5 L693.2,1818.9 L682.5,1818.9ZM714.5,1821.3 L725.1,1821.3 L724.0,1823.7 L731.5,1820.1 L724.0,1816.5 L725.1,1818.9 L714.5,1818.9ZM746.8,1821.2 L756.8,1817.6 L756.6,1820.2 L762.4,1814.3 L754.1,1813.5 L756.0,1815.4 L746.0,1819.0ZM778.8,1821.2 L789.6,1816.9 L789.4,1819.5 L795.0,1813.4 L786.7,1812.8 L788.7,1814.6 L777.9,1819.0ZM810.6,1821.3 L821.8,1818.3 L821.3,1820.9 L827.7,1815.5 L819.5,1813.9 L821.2,1815.9 L810.0,1819.0ZM842.5,1821.3 L853.7,1818.3 L853.3,1820.9 L859.6,1815.5 L851.4,1813.9 L853.1,1815.9 L841.9,1819.0ZM650.4,1851.5 L668.9,1854.1 L667.4,1856.3 L675.4,1853.8 L668.4,1849.2 L669.2,1851.7 L650.8,1849.1ZM682.4,1851.5 L696.0,1852.7 L694.7,1855.0 L702.5,1852.1 L695.3,1847.8 L696.2,1850.3 L682.6,1849.1ZM714.5,1851.5 L728.1,1851.5 L727.0,1853.9 L734.5,1850.3 L727.0,1846.7 L728.1,1849.1 L714.5,1849.1ZM746.7,1851.5 L759.9,1848.0 L759.4,1850.6 L765.7,1845.2 L757.5,1843.6 L759.3,1845.7 L746.1,1849.2ZM778.7,1851.5 L793.6,1846.6 L793.2,1849.3 L799.3,1843.5 L791.0,1842.4 L792.8,1844.4 L778.0,1849.2ZM810.5,1851.5 L823.8,1848.7 L823.2,1851.3 L829.8,1846.2 L821.7,1844.2 L823.3,1846.3 L810.0,1849.2ZM842.4,1851.5 L855.8,1849.2 L855.1,1851.7 L861.9,1846.9 L853.9,1844.6 L855.4,1846.8 L842.0,1849.2ZM650.4,1881.7 L673.7,1885.8 L672.1,1888.0 L680.1,1885.8 L673.4,1880.9 L674.1,1883.5 L650.8,1879.4ZM682.4,1881.7 L702.8,1884.6 L701.3,1886.8 L709.3,1884.3 L702.3,1879.7 L703.1,1882.2 L682.7,1879.4ZM714.4,1881.8 L732.9,1883.4 L731.6,1885.7 L739.4,1882.7 L732.2,1878.5 L733.1,1881.0 L714.6,1879.4ZM746.6,1881.7 L762.0,1879.6 L761.3,1882.1 L768.2,1877.5 L760.3,1875.0 L761.7,1877.2 L746.2,1879.4ZM778.5,1881.7 L794.9,1878.9 L794.2,1881.4 L801.0,1876.6 L793.0,1874.3 L794.5,1876.5 L778.1,1879.4ZM810.3,1881.8 L825.9,1880.9 L824.9,1883.4 L832.2,1879.4 L824.6,1876.2 L825.8,1878.5 L810.2,1879.4ZM842.3,1881.8 L857.9,1880.9 L856.9,1883.4 L864.2,1879.4 L856.5,1876.2 L857.7,1878.5 L842.1,1879.4ZM650.4,1912.0 L681.3,1918.5 L679.7,1920.6 L687.8,1918.7 L681.2,1913.6 L681.8,1916.2 L650.8,1909.6ZM682.3,1912.0 L707.6,1916.4 L706.0,1918.6 L714.0,1916.3 L707.3,1911.5 L708.0,1914.0 L682.7,1909.6ZM714.3,1912.0 L737.7,1915.3 L736.2,1917.5 L744.2,1915.0 L737.2,1910.3 L738.0,1912.9 L714.6,1909.6ZM746.3,1912.0 L764.9,1913.0 L763.7,1915.3 L771.4,1912.1 L764.1,1908.1 L765.1,1910.6 L746.5,1909.6ZM778.3,1912.0 L796.9,1912.3 L795.8,1914.7 L803.3,1911.2 L795.9,1907.5 L797.0,1909.9 L778.4,1909.6ZM810.2,1912.0 L828.8,1913.0 L827.6,1915.3 L835.2,1912.1 L827.9,1908.1 L828.9,1910.6 L810.3,1909.6ZM842.2,1912.0 L860.8,1912.0 L859.7,1914.4 L867.2,1910.8 L859.7,1907.2 L860.8,1909.6 L842.2,1909.6ZM650.4,1942.2 L681.5,1947.7 L680.0,1949.8 L688.0,1947.6 L681.3,1942.8 L682.0,1945.3 L650.8,1939.8ZM682.4,1942.2 L707.7,1945.8 L706.3,1948.0 L714.2,1945.5 L707.3,1940.8 L708.1,1943.4 L682.7,1939.8ZM714.4,1942.2 L737.9,1944.3 L736.6,1946.5 L744.4,1943.6 L737.2,1939.4 L738.1,1941.9 L714.6,1939.8ZM746.4,1942.2 L765.0,1942.2 L763.9,1944.6 L771.4,1941.0 L763.9,1937.4 L765.0,1939.8 L746.4,1939.8ZM778.3,1942.2 L797.0,1942.2 L795.8,1944.6 L803.3,1941.0 L795.8,1937.4 L797.0,1939.8 L778.3,1939.8ZM810.3,1942.2 L828.9,1942.2 L827.8,1944.6 L835.3,1941.0 L827.8,1937.4 L828.9,1939.8 L810.3,1939.8ZM842.2,1942.2 L860.8,1942.2 L859.7,1944.6 L867.2,1941.0 L859.7,1937.4 L860.8,1939.8 L842.2,1939.8Z" fill="#000" shape-rendering="auto"/><g stroke="#000" stroke-width="2.3" fill="none" shape-rendering="auto"><rect x="129.8" y="63.6" width="191.6" height="574.2"/><line x1="118.8" y1="63.6" x2="129.8" y2="63.6"/><line x1="118.8" y1="159.3" x2="129.8" y2="159.3"/><line x1="118.8" y1="255.0" x2="129.8" y2="255.0"/><line x1="118.8" y1="350.7" x2="129.8" y2="350.7"/><line x1="118.8" y1="446.4" x2="129.8" y2="446.4"/><line x1="118.8" y1="542.1" x2="129.8" y2="542.1"/><line x1="118.8" y1="637.8" x2="129.8" y2="637.8"/><line x1="161.7" y1="637.8" x2="161.7" y2="648.8"/><line x1="289.5" y1="637.8" x2="289.5" y2="648.8"/><rect x="391.4" y="57.6" width="191.6" height="574.2"/><line x1="380.4" y1="57.6" x2="391.4" y2="57.6"/><line x1="380.4" y1="153.3" x2="391.4" y2="153.3"/><line x1="380.4" y1="249.0" x2="391.4" y2="249.0"/><line x1="380.4" y1="344.7" x2="391.4" y2="344.7"/><line x1="380.4" y1="440.4" x2="391.4" y2="440.4"/><line x1="380.4" y1="536.1" x2="391.4" y2="536.1"/><line x1="380.4" y1="631.8" x2="391.4" y2="631.8"/><line x1="423.3" y1="631.8" x2="423.3" y2="642.8"/><line x1="551.0" y1="631.8" x2="551.0" y2="642.8"/><rect x="651.5" y="55.4" width="191.6" height="574.2"/><line x1="640.5" y1="55.4" x2="651.5" y2="55.4"/><line x1="640.5" y1="151.1" x2="651.5" y2="151.1"/><line x1="640.5" y1="246.8" x2="651.5" y2="246.8"/><line x1="640.5" y1="342.5" x2="651.5" y2="342.5"/><line x1="640.5" y1="438.2" x2="651.5" y2="438.2"/><line x1="640.5" y1="533.9" x2="651.5" y2="533.9"/><line x1="640.5" y1="629.6" x2="651.5" y2="629.6"/><line x1="683.4" y1="629.6" x2="683.4" y2="640.6"/><line x1="811.2" y1="629.6" x2="811.2" y2="640.6"/><rect x="131.2" y="722.0" width="191.6" height="574.2"/><line x1="120.2" y1="722.0" x2="131.2" y2="722.0"/><line x1="120.2" y1="817.7" x2="131.2" y2="817.7"/><line x1="120.2" y1="913.4" x2="131.2" y2="913.4"/><line x1="120.2" y1="1009.1" x2="131.2" y2="1009.1"/><line x1="120.2" y1="1104.8" x2="131.2" y2="1104.8"/><line x1="120.2" y1="1200.5" x2="131.2" y2="1200.5"/><line x1="120.2" y1="1296.2" x2="131.2" y2="1296.2"/><line x1="163.1" y1="1296.2" x2="163.1" y2="1307.2"/><line x1="290.9" y1="1296.2" x2="290.9" y2="1307.2"/><rect x="392.7" y="718.5" width="191.6" height="574.2"/><line x1="381.7" y1="718.5" x2="392.7" y2="718.5"/><line x1="381.7" y1="814.2" x2="392.7" y2="814.2"/><line x1="381.7" y1="909.9" x2="392.7" y2="909.9"/><line x1="381.7" y1="1005.6" x2="392.7" y2="1005.6"/><line x1="381.7" y1="1101.3" x2="392.7" y2="1101.3"/><line x1="381.7" y1="1197.0" x2="392.7" y2="1197.0"/><line x1="381.7" y1="1292.7" x2="392.7" y2="1292.7"/><line x1="424.6" y1="1292.7" x2="424.6" y2="1303.7"/><line x1="552.4" y1="1292.7" x2="552.4" y2="1303.7"/><rect x="647.3" y="717.7" width="191.6" height="574.2"/><line x1="636.3" y1="717.7" x2="647.3" y2="717.7"/><line x1="636.3" y1="813.4" x2="647.3" y2="813.4"/><line x1="636.3" y1="909.1" x2="647.3" y2="909.1"/><line x1="636.3" y1="1004.8" x2="647.3" y2="1004.8"/><line x1="636.3" y1="1100.5" x2="647.3" y2="1100.5"/><line x1="636.3" y1="1196.2" x2="647.3" y2="1196.2"/><line x1="636.3" y1="1291.9" x2="647.3" y2="1291.9"/><line x1="679.2" y1="1291.9" x2="679.2" y2="1302.9"/><line x1="807.0" y1="1291.9" x2="807.0" y2="1302.9"/><rect x="134.4" y="1365.3" width="191.6" height="574.2"/><line x1="123.4" y1="1365.3" x2="134.4" y2="1365.3"/><line x1="123.4" y1="1461.0" x2="134.4" y2="1461.0"/><line x1="123.4" y1="1556.7" x2="134.4" y2="1556.7"/><line x1="123.4" y1="1652.4" x2="134.4" y2="1652.4"/><line x1="123.4" y1="1748.1" x2="134.4" y2="1748.1"/><line x1="123.4" y1="1843.8" x2="134.4" y2="1843.8"/><line x1="123.4" y1="1939.5" x2="134.4" y2="1939.5"/><line x1="166.3" y1="1939.5" x2="166.3" y2="1950.5"/><line x1="294.1" y1="1939.5" x2="294.1" y2="1950.5"/><rect x="395.1" y="1368.6" width="191.6" height="574.2"/><line x1="384.1" y1="1368.6" x2="395.1" y2="1368.6"/><line x1="384.1" y1="1464.3" x2="395.1" y2="1464.3"/><line x1="384.1" y1="1560.0" x2="395.1" y2="1560.0"/><line x1="384.1" y1="1655.7" x2="395.1" y2="1655.7"/><line x1="384.1" y1="1751.4" x2="395.1" y2="1751.4"/><line x1="384.1" y1="1847.1" x2="395.1" y2="1847.1"/><line x1="384.1" y1="1942.8" x2="395.1" y2="1942.8"/><line x1="427.0" y1="1942.8" x2="427.0" y2="1953.8"/><line x1="554.8" y1="1942.8" x2="554.8" y2="1953.8"/><rect x="650.6" y="1366.8" width="191.6" height="574.2"/><line x1="639.6" y1="1366.8" x2="650.6" y2="1366.8"/><line x1="639.6" y1="1462.5" x2="650.6" y2="1462.5"/><line x1="639.6" y1="1558.2" x2="650.6" y2="1558.2"/><line x1="639.6" y1="1653.9" x2="650.6" y2="1653.9"/><line x1="639.6" y1="1749.6" x2="650.6" y2="1749.6"/><line x1="639.6" y1="1845.3" x2="650.6" y2="1845.3"/><line x1="639.6" y1="1941.0" x2="650.6" y2="1941.0"/><line x1="682.5" y1="1941.0" x2="682.5" y2="1952.0"/><line x1="810.3" y1="1941.0" x2="810.3" y2="1952.0"/></g><rect x="875.4" y="606.02" width="28.8" height="24.48" fill="#a50026"/><rect x="875.4" y="582.04" width="28.8" height="24.48" fill="#ba1426"/><rect x="875.4" y="558.06" width="28.8" height="24.48" fill="#d02926"/><rect x="875.4" y="534.08" width="28.8" height="24.48" fill="#df412f"/><rect x="875.4" y="510.10" width="28.8" height="24.48" fill="#ec5c3b"/><rect x="875.4" y="486.12" width="28.8" height="24.48" fill="#f57747"/><rect x="875.4" y="462.15" width="28.8" height="24.48" fill="#f99354"/><rect x="875.4" y="438.17" width="28.8" height="24.48" fill="#fdae61"/><rect x="875.4" y="414.19" width="28.8" height="24.48" fill="#fdc678"/><rect x="875.4" y="390.21" width="28.8" height="24.48" fill="#fddc8c"/><rect x="875.4" y="366.23" width="28.8" height="24.48" fill="#feeaa0"/><rect x="875.4" y="342.25" width="28.8" height="24.48" fill="#fef8b4"/><rect x="875.4" y="318.27" width="28.8" height="24.48" fill="#f8fccb"/><rect x="875.4" y="294.29" width="28.8" height="24.48" fill="#eaf7e3"/><rect x="875.4" y="270.31" width="28.8" height="24.48" fill="#dbf0f6"/><rect x="875.4" y="246.33" width="28.8" height="24.48" fill="#c4e5f0"/><rect x="875.4" y="222.35" width="28.8" height="24.48" fill="#acd9e9"/><rect x="875.4" y="198.38" width="28.8" height="24.48" fill="#94c6df"/><rect x="875.4" y="174.40" width="28.8" height="24.48" fill="#7cb3d4"/><rect x="875.4" y="150.42" width="28.8" height="24.48" fill="#679dc9"/><rect x="875.4" y="126.44" width="28.8" height="24.48" fill="#5285bc"/><rect x="875.4" y="102.46" width="28.8" height="24.48" fill="#426caf"/><rect x="875.4" y="78.48" width="28.8" height="24.48" fill="#3951a2"/><rect x="875.4" y="54.50" width="28.8" height="24.48" fill="#313695"/><rect x="875.4" y="54.5" width="28.8" height="575.5" fill="none" stroke="#000" stroke-width="2.3" shape-rendering="auto"/><rect x="871.5" y="1264.80" width="28.8" height="24.30" fill="#141e40"/><rect x="871.5" y="1240.99" width="28.8" height="24.30" fill="#232b60"/><rect x="871.5" y="1217.19" width="28.8" height="24.30" fill="#2a3a8e"/><rect x="871.5" y="1193.38" width="28.8" height="24.30" fill="#2052a0"/><rect x="871.5" y="1169.58" width="28.8" height="24.30" fill="#226ea0"/><rect x="871.5" y="1145.77" width="28.8" height="24.30" fill="#2a80a4"/><rect x="871.5" y="1121.97" width="28.8" height="24.30" fill="#3895a6"/><rect x="871.5" y="1098.17" width="28.8" height="24.30" fill="#52a8b0"/><rect x="871.5" y="1074.36" width="28.8" height="24.30" fill="#7bbab4"/><rect x="871.5" y="1050.56" width="28.8" height="24.30" fill="#a6ccc6"/><rect x="871.5" y="1026.75" width="28.8" height="24.30" fill="#c8dcd2"/><rect x="871.5" y="1002.95" width="28.8" height="24.30" fill="#ebefe0"/><rect x="871.5" y="979.15" width="28.8" height="24.30" fill="#f8eeb9"/><rect x="871.5" y="955.34" width="28.8" height="24.30" fill="#e7d58c"/><rect x="871.5" y="931.54" width="28.8" height="24.30" fill="#d5c15c"/><rect x="871.5" y="907.73" width="28.8" height="24.30" fill="#b8ae33"/><rect x="871.5" y="883.93" width="28.8" height="24.30" fill="#8fa31a"/><rect x="871.5" y="860.12" width="28.8" height="24.30" fill="#6a9a15"/><rect x="871.5" y="836.32" width="28.8" height="24.30" fill="#3f8726"/><rect x="871.5" y="812.52" width="28.8" height="24.30" fill="#237a30"/><rect x="871.5" y="788.71" width="28.8" height="24.30" fill="#116532"/><rect x="871.5" y="764.91" width="28.8" height="24.30" fill="#174d33"/><rect x="871.5" y="741.10" width="28.8" height="24.30" fill="#1b3a26"/><rect x="871.5" y="717.30" width="28.8" height="24.30" fill="#1c2216"/><rect x="871.5" y="717.3" width="28.8" height="571.3" fill="none" stroke="#000" stroke-width="2.3" shape-rendering="auto"/><rect x="875.2" y="1915.14" width="28.8" height="24.36" fill="#313695"/><rect x="875.2" y="1891.28" width="28.8" height="24.36" fill="#3951a2"/><rect x="875.2" y="1867.41" width="28.8" height="24.36" fill="#426caf"/><rect x="875.2" y="1843.55" width="28.8" height="24.36" fill="#5285bc"/><rect x="875.2" y="1819.69" width="28.8" height="24.36" fill="#679dc9"/><rect x="875.2" y="1795.83" width="28.8" height="24.36" fill="#7cb3d4"/><rect x="875.2" y="1771.96" width="28.8" height="24.36" fill="#94c6df"/><rect x="875.2" y="1748.10" width="28.8" height="24.36" fill="#acd9e9"/><rect x="875.2" y="1724.24" width="28.8" height="24.36" fill="#c4e5f0"/><rect x="875.2" y="1700.38" width="28.8" height="24.36" fill="#dbf0f6"/><rect x="875.2" y="1676.51" width="28.8" height="24.36" fill="#eaf7e3"/><rect x="875.2" y="1652.65" width="28.8" height="24.36" fill="#f8fccb"/><rect x="875.2" y="1628.79" width="28.8" height="24.36" fill="#fef8b4"/><rect x="875.2" y="1604.92" width="28.8" height="24.36" fill="#feeaa0"/><rect x="875.2" y="1581.06" width="28.8" height="24.36" fill="#fddc8c"/><rect x="875.2" y="1557.20" width="28.8" height="24.36" fill="#fdc678"/><rect x="875.2" y="1533.34" width="28.8" height="24.36" fill="#fdae61"/><rect x="875.2" y="1509.47" width="28.8" height="24.36" fill="#f99354"/><rect x="875.2" y="1485.61" width="28.8" height="24.36" fill="#f57747"/><rect x="875.2" y="1461.75" width="28.8" height="24.36" fill="#ec5c3b"/><rect x="875.2" y="1437.89" width="28.8" height="24.36" fill="#df412f"/><rect x="875.2" y="1414.03" width="28.8" height="24.36" fill="#d02926"/><rect x="875.2" y="1390.16" width="28.8" height="24.36" fill="#ba1426"/><rect x="875.2" y="1366.30" width="28.8" height="24.36" fill="#a50026"/><rect x="875.2" y="1366.3" width="28.8" height="572.7" fill="none" stroke="#000" stroke-width="2.3" shape-rendering="auto"/><g font-family="Liberation Sans, sans-serif" fill="#000"><text x="106.3" y="77.5" font-size="37.3" text-anchor="end" textLength="103.9" lengthAdjust="spacingAndGlyphs">7.5°N</text><text x="106.3" y="173.2" font-size="37.3" text-anchor="end" textLength="69.0" lengthAdjust="spacingAndGlyphs">6°N</text><text x="106.3" y="268.9" font-size="37.3" text-anchor="end" textLength="103.9" lengthAdjust="spacingAndGlyphs">4.5°N</text><text x="106.3" y="364.6" font-size="37.3" text-anchor="end" textLength="69.0" lengthAdjust="spacingAndGlyphs">3°N</text><text x="106.3" y="460.3" font-size="37.3" text-anchor="end" textLength="103.9" lengthAdjust="spacingAndGlyphs">1.5°N</text><text x="106.3" y="556.0" font-size="37.3" text-anchor="end" textLength="41.6" lengthAdjust="spacingAndGlyphs">0°</text><text x="106.3" y="651.7" font-size="37.3" text-anchor="end" textLength="99.7" lengthAdjust="spacingAndGlyphs">1.5°S</text><text x="107.7" y="735.9" font-size="37.3" text-anchor="end" textLength="103.9" lengthAdjust="spacingAndGlyphs">7.5°N</text><text x="107.7" y="831.6" font-size="37.3" text-anchor="end" textLength="69.0" lengthAdjust="spacingAndGlyphs">6°N</text><text x="107.7" y="927.3" font-size="37.3" text-anchor="end" textLength="103.9" lengthAdjust="spacingAndGlyphs">4.5°N</text><text x="107.7" y="1023.0" font-size="37.3" text-anchor="end" textLength="69.0" lengthAdjust="spacingAndGlyphs">3°N</text><text x="107.7" y="1118.7" font-size="37.3" text-anchor="end" textLength="103.9" lengthAdjust="spacingAndGlyphs">1.5°N</text><text x="107.7" y="1214.4" font-size="37.3" text-anchor="end" textLength="41.6" lengthAdjust="spacingAndGlyphs">0°</text><text x="107.7" y="1310.1" font-size="37.3" text-anchor="end" textLength="99.7" lengthAdjust="spacingAndGlyphs">1.5°S</text><text x="110.9" y="1379.2" font-size="37.3" text-anchor="end" textLength="103.9" lengthAdjust="spacingAndGlyphs">7.5°N</text><text x="110.9" y="1474.9" font-size="37.3" text-anchor="end" textLength="69.0" lengthAdjust="spacingAndGlyphs">6°N</text><text x="110.9" y="1570.6" font-size="37.3" text-anchor="end" textLength="103.9" lengthAdjust="spacingAndGlyphs">4.5°N</text><text x="110.9" y="1666.3" font-size="37.3" text-anchor="end" textLength="69.0" lengthAdjust="spacingAndGlyphs">3°N</text><text x="110.9" y="1762.0" font-size="37.3" text-anchor="end" textLength="103.9" lengthAdjust="spacingAndGlyphs">1.5°N</text><text x="110.9" y="1857.7" font-size="37.3" text-anchor="end" textLength="41.6" lengthAdjust="spacingAndGlyphs">0°</text><text x="110.9" y="1953.4" font-size="37.3" text-anchor="end" textLength="99.7" lengthAdjust="spacingAndGlyphs">1.5°S</text><text x="166.3" y="1991.2" font-size="37.3" text-anchor="middle" textLength="88.0" lengthAdjust="spacingAndGlyphs">72°E</text><text x="294.1" y="1991.2" font-size="37.3" text-anchor="middle" textLength="88.0" lengthAdjust="spacingAndGlyphs">74°E</text><text x="427.0" y="1994.5" font-size="37.3" text-anchor="middle" textLength="88.0" lengthAdjust="spacingAndGlyphs">72°E</text><text x="554.8" y="1994.5" font-size="37.3" text-anchor="middle" textLength="88.0" lengthAdjust="spacingAndGlyphs">74°E</text><text x="682.5" y="1992.7" font-size="37.3" text-anchor="middle" textLength="88.0" lengthAdjust="spacingAndGlyphs">72°E</text><text x="810.3" y="1992.7" font-size="37.3" text-anchor="middle" textLength="88.0" lengthAdjust="spacingAndGlyphs">74°E</text><line x1="904.2" y1="72.5" x2="915.2" y2="72.5" stroke="#000" stroke-width="2.3"/><text x="926.9" y="86.4" font-size="37.3" text-anchor="start" textLength="81.5" lengthAdjust="spacingAndGlyphs">0.75</text><line x1="904.2" y1="162.4" x2="915.2" y2="162.4" stroke="#000" stroke-width="2.3"/><text x="926.9" y="176.3" font-size="37.3" text-anchor="start" textLength="81.5" lengthAdjust="spacingAndGlyphs">0.50</text><line x1="904.2" y1="252.3" x2="915.2" y2="252.3" stroke="#000" stroke-width="2.3"/><text x="926.9" y="266.2" font-size="37.3" text-anchor="start" textLength="81.5" lengthAdjust="spacingAndGlyphs">0.25</text><line x1="904.2" y1="342.2" x2="915.2" y2="342.2" stroke="#000" stroke-width="2.3"/><text x="926.9" y="356.1" font-size="37.3" text-anchor="start" textLength="81.5" lengthAdjust="spacingAndGlyphs">0.00</text><line x1="904.2" y1="432.2" x2="915.2" y2="432.2" stroke="#000" stroke-width="2.3"/><text x="926.9" y="446.1" font-size="37.3" text-anchor="start" textLength="112.2" lengthAdjust="spacingAndGlyphs">−0.25</text><line x1="904.2" y1="522.1" x2="915.2" y2="522.1" stroke="#000" stroke-width="2.3"/><text x="926.9" y="536.0" font-size="37.3" text-anchor="start" textLength="112.2" lengthAdjust="spacingAndGlyphs">−0.50</text><line x1="904.2" y1="612.0" x2="915.2" y2="612.0" stroke="#000" stroke-width="2.3"/><text x="926.9" y="625.9" font-size="37.3" text-anchor="start" textLength="112.2" lengthAdjust="spacingAndGlyphs">−0.75</text><line x1="900.3" y1="717.3" x2="911.3" y2="717.3" stroke="#000" stroke-width="2.3"/><text x="923.0" y="731.2" font-size="37.3" text-anchor="start" textLength="93.1" lengthAdjust="spacingAndGlyphs">1000</text><line x1="900.3" y1="821.2" x2="911.3" y2="821.2" stroke="#000" stroke-width="2.3"/><text x="923.0" y="835.1" font-size="37.3" text-anchor="start" textLength="69.9" lengthAdjust="spacingAndGlyphs">900</text><line x1="900.3" y1="925.0" x2="911.3" y2="925.0" stroke="#000" stroke-width="2.3"/><text x="923.0" y="938.9" font-size="37.3" text-anchor="start" textLength="69.9" lengthAdjust="spacingAndGlyphs">800</text><line x1="900.3" y1="1028.9" x2="911.3" y2="1028.9" stroke="#000" stroke-width="2.3"/><text x="923.0" y="1042.8" font-size="37.3" text-anchor="start" textLength="69.9" lengthAdjust="spacingAndGlyphs">700</text><line x1="900.3" y1="1132.8" x2="911.3" y2="1132.8" stroke="#000" stroke-width="2.3"/><text x="923.0" y="1146.7" font-size="37.3" text-anchor="start" textLength="69.9" lengthAdjust="spacingAndGlyphs">600</text><line x1="900.3" y1="1236.7" x2="911.3" y2="1236.7" stroke="#000" stroke-width="2.3"/><text x="923.0" y="1250.6" font-size="37.3" text-anchor="start" textLength="69.9" lengthAdjust="spacingAndGlyphs">500</text><line x1="904.0" y1="1410.4" x2="915.0" y2="1410.4" stroke="#000" stroke-width="2.3"/><text x="926.7" y="1424.3" font-size="37.3" text-anchor="start" textLength="58.2" lengthAdjust="spacingAndGlyphs">0.6</text><line x1="904.0" y1="1498.5" x2="915.0" y2="1498.5" stroke="#000" stroke-width="2.3"/><text x="926.7" y="1512.4" font-size="37.3" text-anchor="start" textLength="58.2" lengthAdjust="spacingAndGlyphs">0.5</text><line x1="904.0" y1="1586.6" x2="915.0" y2="1586.6" stroke="#000" stroke-width="2.3"/><text x="926.7" y="1600.5" font-size="37.3" text-anchor="start" textLength="58.2" lengthAdjust="spacingAndGlyphs">0.4</text><line x1="904.0" y1="1674.7" x2="915.0" y2="1674.7" stroke="#000" stroke-width="2.3"/><text x="926.7" y="1688.6" font-size="37.3" text-anchor="start" textLength="58.2" lengthAdjust="spacingAndGlyphs">0.3</text><line x1="904.0" y1="1762.8" x2="915.0" y2="1762.8" stroke="#000" stroke-width="2.3"/><text x="926.7" y="1776.7" font-size="37.3" text-anchor="start" textLength="58.2" lengthAdjust="spacingAndGlyphs">0.2</text><line x1="904.0" y1="1850.9" x2="915.0" y2="1850.9" stroke="#000" stroke-width="2.3"/><text x="926.7" y="1864.8" font-size="37.3" text-anchor="start" textLength="58.2" lengthAdjust="spacingAndGlyphs">0.1</text><line x1="904.0" y1="1939.0" x2="915.0" y2="1939.0" stroke="#000" stroke-width="2.3"/><text x="926.7" y="1952.9" font-size="37.3" text-anchor="start" textLength="58.2" lengthAdjust="spacingAndGlyphs">0.0</text></g><g font-family="Liberation Serif, serif" fill="#000" font-size="36.7"><text x="126.3" y="50.8">(A)</text><text x="387.9" y="44.8">(B)</text><text x="648.0" y="42.6">(C)</text><text x="127.7" y="709.2">(D)</text><text x="389.2" y="705.7">(E)</text><text x="643.8" y="704.9">(F)</text><text x="130.9" y="1352.5">(G)</text><text x="391.6" y="1355.8">(H)</text><text x="647.1" y="1354.0">(I)</text></g><g font-family="Liberation Sans, sans-serif" fill="#000" font-style="italic" font-size="37.3"><text x="826.5" y="35.5" textLength="110.5" lengthAdjust="spacingAndGlyphs">°C/km</text><text x="941" y="20.9" font-size="23.5" textLength="13.5" lengthAdjust="spacingAndGlyphs">2</text><text x="769.5" y="697.5" textLength="131" lengthAdjust="spacingAndGlyphs">mgC/m</text><text x="900.8" y="684.2" font-size="23.5" textLength="17" lengthAdjust="spacingAndGlyphs">2</text><text x="920.5" y="697.5" textLength="81" lengthAdjust="spacingAndGlyphs">/day</text></g><text x="856.8" y="1347" font-family="Liberation Sans, sans-serif" font-size="37.3" textLength="64.5" lengthAdjust="spacingAndGlyphs">m/s</text></svg></body></html>
